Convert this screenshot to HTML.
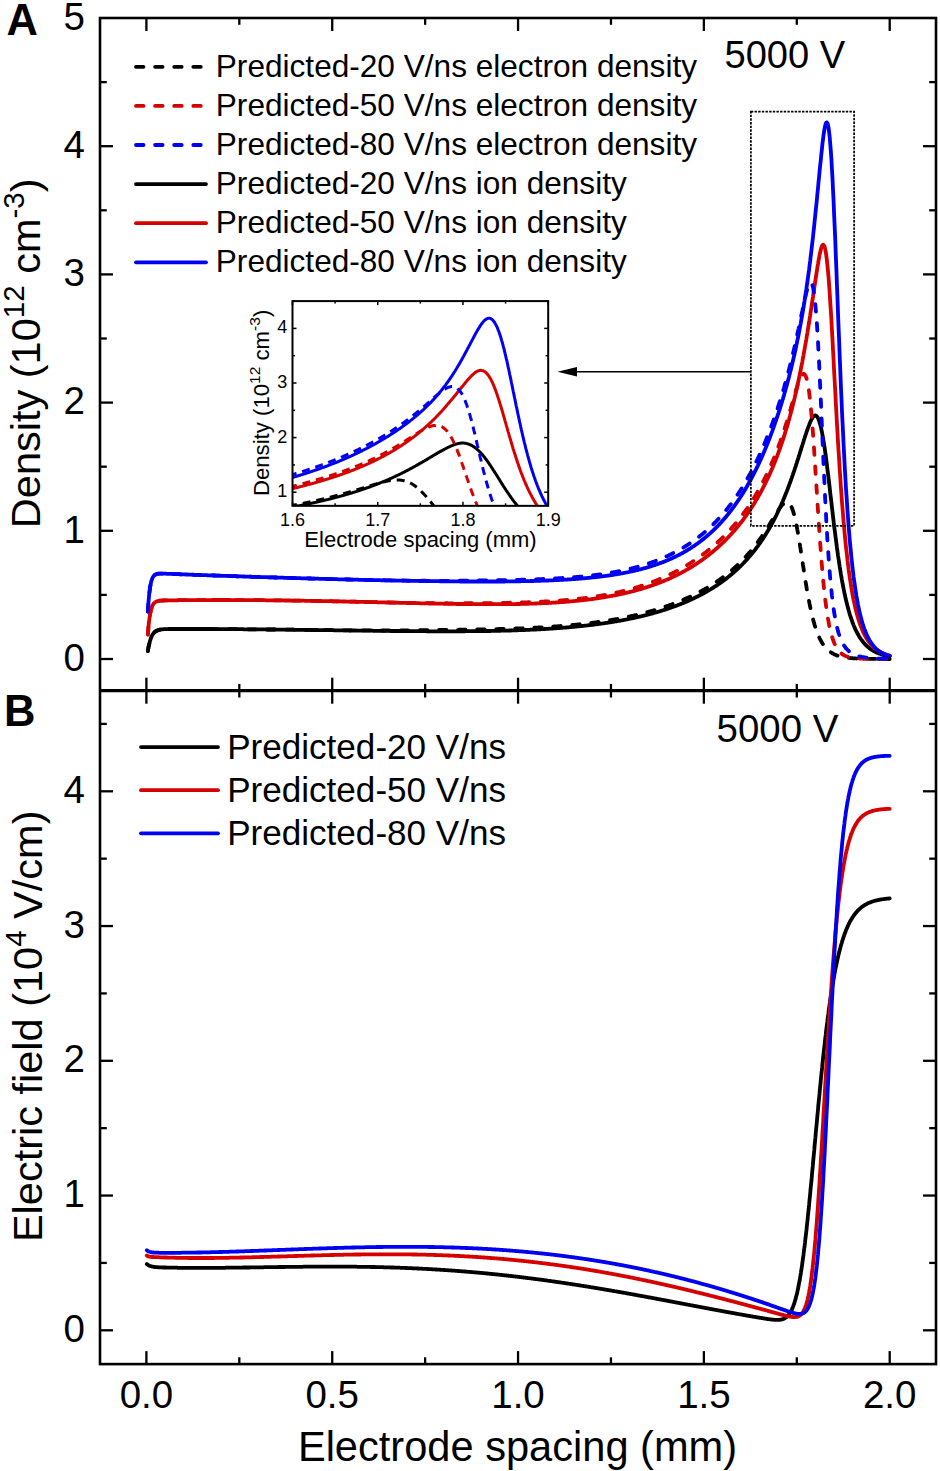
<!DOCTYPE html>
<html><head><meta charset="utf-8"><style>
html,body{margin:0;padding:0;background:#fff;width:940px;height:1471px;overflow:hidden}
svg{display:block}
</style></head><body>
<svg width="940" height="1471" viewBox="0 0 940 1471">
<rect width="940" height="1471" fill="#fff"/>
<defs><clipPath id="cA"><rect x="100.0" y="18.0" width="836.0" height="672.7"/></clipPath>
<clipPath id="cI"><rect x="292.5" y="301.1" width="255.7" height="204.8"/></clipPath>
<clipPath id="cB"><rect x="100.0" y="690.7" width="836.0" height="673.4"/></clipPath></defs>
<g clip-path="url(#cA)" fill="none" stroke-width="3.8" stroke-linejoin="round">
<path d="M147.9,651.0 L148.4,647.7 L149.0,644.9 L149.6,642.6 L150.1,640.6 L150.7,638.8 L151.2,637.4 L151.8,636.1 L152.3,635.1 L152.9,634.2 L153.5,633.4 L154.0,632.8 L154.6,632.2 L155.1,631.7 L155.7,631.3 L156.2,631.0 L156.8,630.7 L157.4,630.4 L157.9,630.2 L158.5,630.0 L159.0,629.9 L159.6,629.7 L160.2,629.6 L160.7,629.5 L161.3,629.5 L161.8,629.4 L162.4,629.3 L162.9,629.3 L163.5,629.2 L164.1,629.2 L164.6,629.2 L165.2,629.1 L165.7,629.1 L166.3,629.1 L166.8,629.1 L167.4,629.1 L168.0,629.0 L168.5,629.0 L169.1,629.0 L169.6,629.0 L170.2,629.0 L170.7,629.0 L171.3,629.0 L171.9,629.0 L172.4,629.0 L173.0,629.0 L173.5,629.0 L174.1,629.0 L174.6,629.0 L175.2,629.0 L175.8,629.0 L176.3,629.0 L176.9,629.0 L177.4,629.0 L178.0,629.0 L178.5,629.0 L179.1,629.0 L179.7,629.0 L180.2,629.0 L180.8,629.0 L181.3,629.0 L181.9,629.0 L182.5,629.0 L183.0,629.0 L183.6,629.0 L184.1,629.0 L184.7,629.0 L185.2,629.0 L185.8,629.0 L186.4,629.0 L186.9,629.0 L187.5,629.0 L188.0,629.0 L188.6,629.0 L189.1,629.0 L189.7,629.0 L190.3,629.0 L190.8,629.0 L191.4,629.0 L191.9,629.0 L192.5,629.0 L193.0,629.0 L193.6,629.0 L194.2,629.0 L194.7,629.0 L195.3,629.0 L195.8,629.0 L196.4,629.0 L196.9,629.0 L197.5,629.0 L198.1,629.0 L198.6,629.0 L199.2,629.0 L199.7,629.0 L200.3,629.0 L200.8,629.0 L201.4,629.0 L202.0,629.0 L202.5,629.0 L203.1,629.0 L203.6,629.0 L204.2,629.0 L204.7,629.0 L205.3,629.0 L205.9,629.0 L206.4,629.0 L207.0,629.0 L207.5,629.0 L208.1,629.0 L208.7,629.0 L209.2,629.0 L209.8,629.0 L210.3,629.0 L210.9,629.0 L211.4,629.0 L212.0,629.1 L212.6,629.1 L213.1,629.1 L213.7,629.1 L214.2,629.1 L214.8,629.1 L215.3,629.1 L215.9,629.1 L216.5,629.1 L217.0,629.1 L217.6,629.1 L218.1,629.1 L218.7,629.1 L219.2,629.1 L219.8,629.1 L220.4,629.1 L220.9,629.1 L221.5,629.1 L222.0,629.1 L222.6,629.1 L223.1,629.1 L223.7,629.1 L224.3,629.1 L224.8,629.1 L225.4,629.1 L225.9,629.1 L226.5,629.1 L227.0,629.1 L227.6,629.1 L228.2,629.1 L228.7,629.1 L229.3,629.1 L229.8,629.2 L230.4,629.2 L231.0,629.2 L231.5,629.2 L232.1,629.2 L232.6,629.2 L233.2,629.2 L233.7,629.2 L234.3,629.2 L234.9,629.2 L235.4,629.2 L236.0,629.2 L236.5,629.2 L237.1,629.2 L237.6,629.2 L238.2,629.2 L238.8,629.2 L239.3,629.2 L239.9,629.2 L240.4,629.2 L241.0,629.2 L241.5,629.2 L242.1,629.2 L242.7,629.2 L243.2,629.2 L243.8,629.3 L244.3,629.3 L244.9,629.3 L245.4,629.3 L246.0,629.3 L246.6,629.3 L247.1,629.3 L247.7,629.3 L248.2,629.3 L248.8,629.3 L249.3,629.3 L249.9,629.3 L250.5,629.3 L251.0,629.3 L251.6,629.3 L252.1,629.3 L252.7,629.3 L253.2,629.3 L253.8,629.3 L254.4,629.3 L254.9,629.3 L255.5,629.4 L256.0,629.4 L256.6,629.4 L257.2,629.4 L257.7,629.4 L258.3,629.4 L258.8,629.4 L259.4,629.4 L259.9,629.4 L260.5,629.4 L261.1,629.4 L261.6,629.4 L262.2,629.4 L262.7,629.4 L263.3,629.4 L263.8,629.4 L264.4,629.4 L265.0,629.4 L265.5,629.4 L266.1,629.5 L266.6,629.5 L267.2,629.5 L267.7,629.5 L268.3,629.5 L268.9,629.5 L269.4,629.5 L270.0,629.5 L270.5,629.5 L271.1,629.5 L271.6,629.5 L272.2,629.5 L272.8,629.5 L273.3,629.5 L273.9,629.5 L274.4,629.5 L275.0,629.5 L275.5,629.5 L276.1,629.6 L276.7,629.6 L277.2,629.6 L277.8,629.6 L278.3,629.6 L278.9,629.6 L279.5,629.6 L280.0,629.6 L280.6,629.6 L281.1,629.6 L281.7,629.6 L282.2,629.6 L282.8,629.6 L283.4,629.6 L283.9,629.6 L284.5,629.6 L285.0,629.7 L285.6,629.7 L286.1,629.7 L286.7,629.7 L287.3,629.7 L287.8,629.7 L288.4,629.7 L288.9,629.7 L289.5,629.7 L290.0,629.7 L290.6,629.7 L291.2,629.7 L291.7,629.7 L292.3,629.7 L292.8,629.7 L293.4,629.7 L293.9,629.8 L294.5,629.8 L295.1,629.8 L295.6,629.8 L296.2,629.8 L296.7,629.8 L297.3,629.8 L297.8,629.8 L298.4,629.8 L299.0,629.8 L299.5,629.8 L300.1,629.8 L300.6,629.8 L301.2,629.8 L301.7,629.8 L302.3,629.9 L302.9,629.9 L303.4,629.9 L304.0,629.9 L304.5,629.9 L305.1,629.9 L305.7,629.9 L306.2,629.9 L306.8,629.9 L307.3,629.9 L307.9,629.9 L308.4,629.9 L309.0,629.9 L309.6,629.9 L310.1,629.9 L310.7,630.0 L311.2,630.0 L311.8,630.0 L312.3,630.0 L312.9,630.0 L313.5,630.0 L314.0,630.0 L314.6,630.0 L315.1,630.0 L315.7,630.0 L316.2,630.0 L316.8,630.0 L317.4,630.0 L317.9,630.0 L318.5,630.1 L319.0,630.1 L319.6,630.1 L320.1,630.1 L320.7,630.1 L321.3,630.1 L321.8,630.1 L322.4,630.1 L322.9,630.1 L323.5,630.1 L324.0,630.1 L324.6,630.1 L325.2,630.1 L325.7,630.1 L326.3,630.2 L326.8,630.2 L327.4,630.2 L328.0,630.2 L328.5,630.2 L329.1,630.2 L329.6,630.2 L330.2,630.2 L330.7,630.2 L331.3,630.2 L331.9,630.2 L332.4,630.2 L333.0,630.2 L333.5,630.2 L334.1,630.3 L334.6,630.3 L335.2,630.3 L335.8,630.3 L336.3,630.3 L336.9,630.3 L337.4,630.3 L338.0,630.3 L338.5,630.3 L339.1,630.3 L339.7,630.3 L340.2,630.3 L340.8,630.3 L341.3,630.4 L341.9,630.4 L342.4,630.4 L343.0,630.4 L343.6,630.4 L344.1,630.4 L344.7,630.4 L345.2,630.4 L345.8,630.4 L346.3,630.4 L346.9,630.4 L347.5,630.4 L348.0,630.4 L348.6,630.4 L349.1,630.5 L349.7,630.5 L350.3,630.5 L350.8,630.5 L351.4,630.5 L351.9,630.5 L352.5,630.5 L353.0,630.5 L353.6,630.5 L354.2,630.5 L354.7,630.5 L355.3,630.5 L355.8,630.5 L356.4,630.5 L356.9,630.6 L357.5,630.6 L358.1,630.6 L358.6,630.6 L359.2,630.6 L359.7,630.6 L360.3,630.6 L360.8,630.6 L361.4,630.6 L362.0,630.6 L362.5,630.6 L363.1,630.6 L363.6,630.6 L364.2,630.6 L364.7,630.7 L365.3,630.7 L365.9,630.7 L366.4,630.7 L367.0,630.7 L367.5,630.7 L368.1,630.7 L368.6,630.7 L369.2,630.7 L369.8,630.7 L370.3,630.7 L370.9,630.7 L371.4,630.7 L372.0,630.7 L372.5,630.7 L373.1,630.8 L373.7,630.8 L374.2,630.8 L374.8,630.8 L375.3,630.8 L375.9,630.8 L376.5,630.8 L377.0,630.8 L377.6,630.8 L378.1,630.8 L378.7,630.8 L379.2,630.8 L379.8,630.8 L380.4,630.8 L380.9,630.8 L381.5,630.9 L382.0,630.9 L382.6,630.9 L383.1,630.9 L383.7,630.9 L384.3,630.9 L384.8,630.9 L385.4,630.9 L385.9,630.9 L386.5,630.9 L387.0,630.9 L387.6,630.9 L388.2,630.9 L388.7,630.9 L389.3,630.9 L389.8,630.9 L390.4,631.0 L390.9,631.0 L391.5,631.0 L392.1,631.0 L392.6,631.0 L393.2,631.0 L393.7,631.0 L394.3,631.0 L394.8,631.0 L395.4,631.0 L396.0,631.0 L396.5,631.0 L397.1,631.0 L397.6,631.0 L398.2,631.0 L398.8,631.0 L399.3,631.0 L399.9,631.1 L400.4,631.1 L401.0,631.1 L401.5,631.1 L402.1,631.1 L402.7,631.1 L403.2,631.1 L403.8,631.1 L404.3,631.1 L404.9,631.1 L405.4,631.1 L406.0,631.1 L406.6,631.1 L407.1,631.1 L407.7,631.1 L408.2,631.1 L408.8,631.1 L409.3,631.1 L409.9,631.1 L410.5,631.1 L411.0,631.1 L411.6,631.2 L412.1,631.2 L412.7,631.2 L413.2,631.2 L413.8,631.2 L414.4,631.2 L414.9,631.2 L415.5,631.2 L416.0,631.2 L416.6,631.2 L417.1,631.2 L417.7,631.2 L418.3,631.2 L418.8,631.2 L419.4,631.2 L419.9,631.2 L420.5,631.2 L421.0,631.2 L421.6,631.2 L422.2,631.2 L422.7,631.2 L423.3,631.2 L423.8,631.2 L424.4,631.2 L425.0,631.2 L425.5,631.2 L426.1,631.2 L426.6,631.3 L427.2,631.3 L427.7,631.3 L428.3,631.3 L428.9,631.3 L429.4,631.3 L430.0,631.3 L430.5,631.3 L431.1,631.3 L431.6,631.3 L432.2,631.3 L432.8,631.3 L433.3,631.3 L433.9,631.3 L434.4,631.3 L435.0,631.3 L435.5,631.3 L436.1,631.3 L436.7,631.3 L437.2,631.3 L437.8,631.3 L438.3,631.3 L438.9,631.3 L439.4,631.3 L440.0,631.3 L440.6,631.3 L441.1,631.3 L441.7,631.3 L442.2,631.3 L442.8,631.3 L443.3,631.3 L443.9,631.3 L444.5,631.3 L445.0,631.3 L445.6,631.3 L446.1,631.3 L446.7,631.3 L447.3,631.3 L447.8,631.3 L448.4,631.3 L448.9,631.3 L449.5,631.3 L450.0,631.3 L450.6,631.3 L451.2,631.3 L451.7,631.3 L452.3,631.3 L452.8,631.3 L453.4,631.3 L453.9,631.3 L454.5,631.3 L455.1,631.3 L455.6,631.3 L456.2,631.3 L456.7,631.3 L457.3,631.3 L457.8,631.3 L458.4,631.3 L459.0,631.3 L459.5,631.3 L460.1,631.3 L460.6,631.3 L461.2,631.3 L461.7,631.3 L462.3,631.3 L462.9,631.3 L463.4,631.3 L464.0,631.3 L464.5,631.3 L465.1,631.2 L465.6,631.2 L466.2,631.2 L466.8,631.2 L467.3,631.2 L467.9,631.2 L468.4,631.2 L469.0,631.2 L469.5,631.2 L470.1,631.2 L470.7,631.2 L471.2,631.2 L471.8,631.2 L472.3,631.2 L472.9,631.2 L473.5,631.2 L474.0,631.2 L474.6,631.2 L475.1,631.2 L475.7,631.2 L476.2,631.2 L476.8,631.1 L477.4,631.1 L477.9,631.1 L478.5,631.1 L479.0,631.1 L479.6,631.1 L480.1,631.1 L480.7,631.1 L481.3,631.1 L481.8,631.1 L482.4,631.1 L482.9,631.1 L483.5,631.1 L484.0,631.1 L484.6,631.0 L485.2,631.0 L485.7,631.0 L486.3,631.0 L486.8,631.0 L487.4,631.0 L487.9,631.0 L488.5,631.0 L489.1,631.0 L489.6,631.0 L490.2,631.0 L490.7,631.0 L491.3,630.9 L491.8,630.9 L492.4,630.9 L493.0,630.9 L493.5,630.9 L494.1,630.9 L494.6,630.9 L495.2,630.9 L495.8,630.9 L496.3,630.8 L496.9,630.8 L497.4,630.8 L498.0,630.8 L498.5,630.8 L499.1,630.8 L499.7,630.8 L500.2,630.8 L500.8,630.7 L501.3,630.7 L501.9,630.7 L502.4,630.7 L503.0,630.7 L503.6,630.7 L504.1,630.7 L504.7,630.6 L505.2,630.6 L505.8,630.6 L506.3,630.6 L506.9,630.6 L507.5,630.6 L508.0,630.6 L508.6,630.5 L509.1,630.5 L509.7,630.5 L510.2,630.5 L510.8,630.5 L511.4,630.5 L511.9,630.4 L512.5,630.4 L513.0,630.4 L513.6,630.4 L514.1,630.4 L514.7,630.4 L515.3,630.3 L515.8,630.3 L516.4,630.3 L516.9,630.3 L517.5,630.3 L518.0,630.2 L518.6,630.2 L519.2,630.2 L519.7,630.2 L520.3,630.2 L520.8,630.1 L521.4,630.1 L522.0,630.1 L522.5,630.1 L523.1,630.1 L523.6,630.0 L524.2,630.0 L524.7,630.0 L525.3,630.0 L525.9,629.9 L526.4,629.9 L527.0,629.9 L527.5,629.9 L528.1,629.8 L528.6,629.8 L529.2,629.8 L529.8,629.8 L530.3,629.7 L530.9,629.7 L531.4,629.7 L532.0,629.7 L532.5,629.6 L533.1,629.6 L533.7,629.6 L534.2,629.6 L534.8,629.5 L535.3,629.5 L535.9,629.5 L536.4,629.5 L537.0,629.4 L537.6,629.4 L538.1,629.4 L538.7,629.3 L539.2,629.3 L539.8,629.3 L540.3,629.3 L540.9,629.2 L541.5,629.2 L542.0,629.2 L542.6,629.1 L543.1,629.1 L543.7,629.1 L544.3,629.0 L544.8,629.0 L545.4,629.0 L545.9,628.9 L546.5,628.9 L547.0,628.9 L547.6,628.8 L548.2,628.8 L548.7,628.8 L549.3,628.7 L549.8,628.7 L550.4,628.7 L550.9,628.6 L551.5,628.6 L552.1,628.5 L552.6,628.5 L553.2,628.5 L553.7,628.4 L554.3,628.4 L554.8,628.4 L555.4,628.3 L556.0,628.3 L556.5,628.2 L557.1,628.2 L557.6,628.2 L558.2,628.1 L558.7,628.1 L559.3,628.0 L559.9,628.0 L560.4,628.0 L561.0,627.9 L561.5,627.9 L562.1,627.8 L562.6,627.8 L563.2,627.7 L563.8,627.7 L564.3,627.6 L564.9,627.6 L565.4,627.6 L566.0,627.5 L566.6,627.5 L567.1,627.4 L567.7,627.4 L568.2,627.3 L568.8,627.3 L569.3,627.2 L569.9,627.2 L570.5,627.1 L571.0,627.1 L571.6,627.0 L572.1,627.0 L572.7,626.9 L573.2,626.9 L573.8,626.8 L574.4,626.8 L574.9,626.7 L575.5,626.7 L576.0,626.6 L576.6,626.6 L577.1,626.5 L577.7,626.4 L578.3,626.4 L578.8,626.3 L579.4,626.3 L579.9,626.2 L580.5,626.2 L581.0,626.1 L581.6,626.0 L582.2,626.0 L582.7,625.9 L583.3,625.9 L583.8,625.8 L584.4,625.7 L584.9,625.7 L585.5,625.6 L586.1,625.6 L586.6,625.5 L587.2,625.4 L587.7,625.4 L588.3,625.3 L588.8,625.2 L589.4,625.2 L590.0,625.1 L590.5,625.0 L591.1,625.0 L591.6,624.9 L592.2,624.8 L592.8,624.8 L593.3,624.7 L593.9,624.6 L594.4,624.6 L595.0,624.5 L595.5,624.4 L596.1,624.3 L596.7,624.3 L597.2,624.2 L597.8,624.1 L598.3,624.1 L598.9,624.0 L599.4,623.9 L600.0,623.8 L600.6,623.7 L601.1,623.7 L601.7,623.6 L602.2,623.5 L602.8,623.4 L603.3,623.4 L603.9,623.3 L604.5,623.2 L605.0,623.1 L605.6,623.0 L606.1,622.9 L606.7,622.9 L607.2,622.8 L607.8,622.7 L608.4,622.6 L608.9,622.5 L609.5,622.4 L610.0,622.4 L610.6,622.3 L611.1,622.2 L611.7,622.1 L612.3,622.0 L612.8,621.9 L613.4,621.8 L613.9,621.7 L614.5,621.6 L615.1,621.5 L615.6,621.4 L616.2,621.3 L616.7,621.3 L617.3,621.2 L617.8,621.1 L618.4,621.0 L619.0,620.9 L619.5,620.8 L620.1,620.7 L620.6,620.6 L621.2,620.5 L621.7,620.4 L622.3,620.3 L622.9,620.2 L623.4,620.0 L624.0,619.9 L624.5,619.8 L625.1,619.7 L625.6,619.6 L626.2,619.5 L626.8,619.4 L627.3,619.3 L627.9,619.2 L628.4,619.1 L629.0,619.0 L629.5,618.8 L630.1,618.7 L630.7,618.6 L631.2,618.5 L631.8,618.4 L632.3,618.3 L632.9,618.2 L633.4,618.0 L634.0,617.9 L634.6,617.8 L635.1,617.7 L635.7,617.5 L636.2,617.4 L636.8,617.3 L637.3,617.2 L637.9,617.0 L638.5,616.9 L639.0,616.8 L639.6,616.7 L640.1,616.5 L640.7,616.4 L641.3,616.3 L641.8,616.1 L642.4,616.0 L642.9,615.9 L643.5,615.7 L644.0,615.6 L644.6,615.5 L645.2,615.3 L645.7,615.2 L646.3,615.0 L646.8,614.9 L647.4,614.8 L647.9,614.6 L648.5,614.5 L649.1,614.3 L649.6,614.2 L650.2,614.0 L650.7,613.9 L651.3,613.7 L651.8,613.6 L652.4,613.4 L653.0,613.3 L653.5,613.1 L654.1,613.0 L654.6,612.8 L655.2,612.6 L655.7,612.5 L656.3,612.3 L656.9,612.2 L657.4,612.0 L658.0,611.8 L658.5,611.7 L659.1,611.5 L659.6,611.3 L660.2,611.2 L660.8,611.0 L661.3,610.8 L661.9,610.7 L662.4,610.5 L663.0,610.3 L663.6,610.1 L664.1,609.9 L664.7,609.8 L665.2,609.6 L665.8,609.4 L666.3,609.2 L666.9,609.0 L667.5,608.9 L668.0,608.7 L668.6,608.5 L669.1,608.3 L669.7,608.1 L670.2,607.9 L670.8,607.7 L671.4,607.5 L671.9,607.3 L672.5,607.1 L673.0,606.9 L673.6,606.7 L674.1,606.5 L674.7,606.3 L675.3,606.1 L675.8,605.9 L676.4,605.7 L676.9,605.5 L677.5,605.3 L678.0,605.1 L678.6,604.8 L679.2,604.6 L679.7,604.4 L680.3,604.2 L680.8,604.0 L681.4,603.7 L681.9,603.5 L682.5,603.3 L683.1,603.1 L683.6,602.8 L684.2,602.6 L684.7,602.4 L685.3,602.1 L685.8,601.9 L686.4,601.7 L687.0,601.4 L687.5,601.2 L688.1,600.9 L688.6,600.7 L689.2,600.4 L689.8,600.2 L690.3,599.9 L690.9,599.7 L691.4,599.4 L692.0,599.2 L692.5,598.9 L693.1,598.6 L693.7,598.4 L694.2,598.1 L694.8,597.8 L695.3,597.6 L695.9,597.3 L696.4,597.0 L697.0,596.8 L697.6,596.5 L698.1,596.2 L698.7,595.9 L699.2,595.6 L699.8,595.3 L700.3,595.0 L700.9,594.8 L701.5,594.5 L702.0,594.2 L702.6,593.9 L703.1,593.6 L703.7,593.3 L704.2,593.0 L704.8,592.6 L705.4,592.3 L705.9,592.0 L706.5,591.7 L707.0,591.4 L707.6,591.1 L708.1,590.7 L708.7,590.4 L709.3,590.1 L709.8,589.7 L710.4,589.4 L710.9,589.1 L711.5,588.7 L712.1,588.4 L712.6,588.0 L713.2,587.7 L713.7,587.3 L714.3,587.0 L714.8,586.6 L715.4,586.3 L716.0,585.9 L716.5,585.5 L717.1,585.2 L717.6,584.8 L718.2,584.4 L718.7,584.0 L719.3,583.6 L719.9,583.3 L720.4,582.9 L721.0,582.5 L721.5,582.1 L722.1,581.7 L722.6,581.3 L723.2,580.9 L723.8,580.5 L724.3,580.0 L724.9,579.6 L725.4,579.2 L726.0,578.8 L726.5,578.3 L727.1,577.9 L727.7,577.5 L728.2,577.0 L728.8,576.6 L729.3,576.1 L729.9,575.7 L730.4,575.2 L731.0,574.7 L731.6,574.3 L732.1,573.8 L732.7,573.3 L733.2,572.9 L733.8,572.4 L734.4,571.9 L734.9,571.4 L735.5,570.9 L736.0,570.4 L736.6,569.9 L737.1,569.4 L737.7,568.8 L738.3,568.3 L738.8,567.8 L739.4,567.2 L739.9,566.7 L740.5,566.2 L741.0,565.6 L741.6,565.1 L742.2,564.5 L742.7,563.9 L743.3,563.4 L743.8,562.8 L744.4,562.2 L744.9,561.6 L745.5,561.0 L746.1,560.4 L746.6,559.8 L747.2,559.2 L747.7,558.6 L748.3,557.9 L748.8,557.3 L749.4,556.6 L750.0,556.0 L750.5,555.3 L751.1,554.7 L751.6,554.0 L752.2,553.3 L752.7,552.7 L753.3,552.0 L753.9,551.3 L754.4,550.6 L755.0,549.8 L755.5,549.1 L756.1,548.4 L756.6,547.6 L757.2,546.9 L757.8,546.1 L758.3,545.4 L758.9,544.6 L759.4,543.8 L760.0,543.0 L760.6,542.2 L761.1,541.4 L761.7,540.6 L762.2,539.8 L762.8,539.0 L763.3,538.1 L763.9,537.2 L764.5,536.4 L765.0,535.5 L765.6,534.6 L766.1,533.7 L766.7,532.8 L767.2,531.9 L767.8,531.0 L768.4,530.0 L768.9,529.1 L769.5,528.1 L770.0,527.1 L770.6,526.1 L771.1,525.1 L771.7,524.1 L772.3,523.1 L772.8,522.1 L773.4,521.0 L773.9,519.9 L774.5,518.9 L775.0,517.8 L775.6,516.7 L776.2,515.6 L776.7,514.4 L777.3,513.3 L777.8,512.1 L778.4,510.9 L778.9,509.7 L779.5,508.5 L780.1,507.3 L780.6,506.1 L781.2,504.8 L781.7,503.6 L782.3,502.3 L782.9,501.0 L783.4,499.6 L784.0,498.3 L784.5,497.0 L785.1,495.6 L785.6,494.2 L786.2,492.8 L786.8,491.4 L787.3,489.9 L787.9,488.5 L788.4,487.0 L789.0,485.5 L789.5,484.0 L790.1,482.5 L790.7,480.9 L791.2,479.4 L791.8,477.8 L792.3,476.2 L792.9,474.6 L793.4,472.9 L794.0,471.3 L794.6,469.6 L795.1,467.9 L795.7,466.3 L796.2,464.5 L796.8,462.8 L797.3,461.1 L797.9,459.3 L798.5,457.6 L799.0,455.8 L799.6,454.0 L800.1,452.2 L800.7,450.5 L801.2,448.7 L801.8,446.9 L802.4,445.1 L802.9,443.3 L803.5,441.5 L804.0,439.8 L804.6,438.0 L805.1,436.3 L805.7,434.6 L806.3,432.9 L806.8,431.3 L807.4,429.7 L807.9,428.1 L808.5,426.6 L809.1,425.2 L809.6,423.7 L810.2,422.4 L810.7,421.1 L811.3,419.9 L811.8,418.9 L812.4,417.9 L813.0,417.1 L813.5,416.4 L814.1,415.9 L814.6,415.5 L815.2,415.4 L815.7,415.5 L816.3,415.8 L816.9,416.4 L817.4,417.1 L818.0,418.1 L818.5,419.4 L819.1,420.9 L819.6,422.6 L820.2,424.5 L820.8,426.7 L821.3,429.1 L821.9,431.7 L822.4,434.6 L823.0,437.7 L823.5,441.0 L824.1,444.5 L824.7,448.2 L825.2,452.0 L825.8,456.1 L826.3,460.3 L826.9,464.6 L827.4,469.1 L828.0,473.7 L828.6,478.3 L829.1,483.0 L829.7,487.8 L830.2,492.6 L830.8,497.4 L831.4,502.2 L831.9,507.0 L832.5,511.8 L833.0,516.5 L833.6,521.2 L834.1,525.8 L834.7,530.3 L835.3,534.7 L835.8,539.1 L836.4,543.3 L836.9,547.5 L837.5,551.6 L838.0,555.5 L838.6,559.3 L839.2,563.1 L839.7,566.7 L840.3,570.2 L840.8,573.6 L841.4,576.9 L841.9,580.0 L842.5,583.1 L843.1,586.1 L843.6,588.9 L844.2,591.7 L844.7,594.3 L845.3,596.9 L845.8,599.3 L846.4,601.7 L847.0,604.0 L847.5,606.1 L848.1,608.2 L848.6,610.3 L849.2,612.2 L849.7,614.1 L850.3,615.9 L850.9,617.6 L851.4,619.2 L852.0,620.8 L852.5,622.4 L853.1,623.8 L853.6,625.2 L854.2,626.6 L854.8,627.9 L855.3,629.1 L855.9,630.3 L856.4,631.4 L857.0,632.5 L857.6,633.6 L858.1,634.6 L858.7,635.6 L859.2,636.5 L859.8,637.4 L860.3,638.2 L860.9,639.1 L861.5,639.9 L862.0,640.6 L862.6,641.3 L863.1,642.0 L863.7,642.7 L864.2,643.3 L864.8,644.0 L865.4,644.6 L865.9,645.1 L866.5,645.7 L867.0,646.2 L867.6,646.7 L868.1,647.2 L868.7,647.6 L869.3,648.1 L869.8,648.5 L870.4,648.9 L870.9,649.3 L871.5,649.7 L872.0,650.0 L872.6,650.4 L873.2,650.7 L873.7,651.0 L874.3,651.4 L874.8,651.6 L875.4,651.9 L875.9,652.2 L876.5,652.5 L877.1,652.7 L877.6,653.0 L878.2,653.2 L878.7,653.4 L879.3,653.6 L879.9,653.8 L880.4,654.0 L881.0,654.2 L881.5,654.4 L882.1,654.6 L882.6,654.8 L883.2,654.9 L883.8,655.1 L884.3,655.2 L884.9,655.4 L885.4,655.5 L886.0,655.6 L886.5,655.8 L887.1,655.9 L887.7,656.0 L888.2,656.1 L888.8,656.2 L889.3,656.3 L889.7,656.4" stroke="#000000" stroke-linecap="round"/>
<path d="M147.9,634.5 L148.4,627.4 L149.0,621.9 L149.6,617.5 L150.1,614.0 L150.7,611.2 L151.2,609.0 L151.8,607.3 L152.3,605.9 L152.9,604.8 L153.5,603.9 L154.0,603.2 L154.6,602.7 L155.1,602.2 L155.7,601.9 L156.2,601.6 L156.8,601.4 L157.4,601.2 L157.9,601.0 L158.5,600.9 L159.0,600.8 L159.6,600.7 L160.2,600.7 L160.7,600.6 L161.3,600.6 L161.8,600.6 L162.4,600.5 L162.9,600.5 L163.5,600.5 L164.1,600.5 L164.6,600.4 L165.2,600.4 L165.7,600.4 L166.3,600.4 L166.8,600.4 L167.4,600.4 L168.0,600.4 L168.5,600.4 L169.1,600.4 L169.6,600.3 L170.2,600.3 L170.7,600.3 L171.3,600.3 L171.9,600.3 L172.4,600.3 L173.0,600.3 L173.5,600.3 L174.1,600.3 L174.6,600.3 L175.2,600.3 L175.8,600.3 L176.3,600.3 L176.9,600.3 L177.4,600.3 L178.0,600.3 L178.5,600.2 L179.1,600.2 L179.7,600.2 L180.2,600.2 L180.8,600.2 L181.3,600.2 L181.9,600.2 L182.5,600.2 L183.0,600.2 L183.6,600.2 L184.1,600.2 L184.7,600.2 L185.2,600.2 L185.8,600.2 L186.4,600.2 L186.9,600.2 L187.5,600.2 L188.0,600.2 L188.6,600.2 L189.1,600.2 L189.7,600.2 L190.3,600.1 L190.8,600.1 L191.4,600.1 L191.9,600.1 L192.5,600.1 L193.0,600.1 L193.6,600.1 L194.2,600.1 L194.7,600.1 L195.3,600.1 L195.8,600.1 L196.4,600.1 L196.9,600.1 L197.5,600.1 L198.1,600.1 L198.6,600.1 L199.2,600.1 L199.7,600.1 L200.3,600.1 L200.8,600.1 L201.4,600.1 L202.0,600.1 L202.5,600.1 L203.1,600.1 L203.6,600.1 L204.2,600.1 L204.7,600.1 L205.3,600.1 L205.9,600.1 L206.4,600.1 L207.0,600.1 L207.5,600.1 L208.1,600.1 L208.7,600.1 L209.2,600.1 L209.8,600.1 L210.3,600.1 L210.9,600.1 L211.4,600.1 L212.0,600.0 L212.6,600.0 L213.1,600.0 L213.7,600.0 L214.2,600.0 L214.8,600.0 L215.3,600.0 L215.9,600.0 L216.5,600.0 L217.0,600.0 L217.6,600.0 L218.1,600.0 L218.7,600.0 L219.2,600.0 L219.8,600.0 L220.4,600.0 L220.9,600.0 L221.5,600.0 L222.0,600.0 L222.6,600.0 L223.1,600.0 L223.7,600.0 L224.3,600.0 L224.8,600.0 L225.4,600.0 L225.9,600.0 L226.5,600.0 L227.0,600.0 L227.6,600.0 L228.2,600.0 L228.7,600.0 L229.3,600.0 L229.8,600.0 L230.4,600.0 L231.0,600.1 L231.5,600.1 L232.1,600.1 L232.6,600.1 L233.2,600.1 L233.7,600.1 L234.3,600.1 L234.9,600.1 L235.4,600.1 L236.0,600.1 L236.5,600.1 L237.1,600.1 L237.6,600.1 L238.2,600.1 L238.8,600.1 L239.3,600.1 L239.9,600.1 L240.4,600.1 L241.0,600.1 L241.5,600.1 L242.1,600.1 L242.7,600.1 L243.2,600.1 L243.8,600.1 L244.3,600.1 L244.9,600.1 L245.4,600.1 L246.0,600.1 L246.6,600.1 L247.1,600.1 L247.7,600.1 L248.2,600.1 L248.8,600.1 L249.3,600.1 L249.9,600.1 L250.5,600.1 L251.0,600.1 L251.6,600.1 L252.1,600.1 L252.7,600.1 L253.2,600.2 L253.8,600.2 L254.4,600.2 L254.9,600.2 L255.5,600.2 L256.0,600.2 L256.6,600.2 L257.2,600.2 L257.7,600.2 L258.3,600.2 L258.8,600.2 L259.4,600.2 L259.9,600.2 L260.5,600.2 L261.1,600.2 L261.6,600.2 L262.2,600.2 L262.7,600.2 L263.3,600.2 L263.8,600.2 L264.4,600.2 L265.0,600.2 L265.5,600.3 L266.1,600.3 L266.6,600.3 L267.2,600.3 L267.7,600.3 L268.3,600.3 L268.9,600.3 L269.4,600.3 L270.0,600.3 L270.5,600.3 L271.1,600.3 L271.6,600.3 L272.2,600.3 L272.8,600.3 L273.3,600.3 L273.9,600.3 L274.4,600.3 L275.0,600.3 L275.5,600.4 L276.1,600.4 L276.7,600.4 L277.2,600.4 L277.8,600.4 L278.3,600.4 L278.9,600.4 L279.5,600.4 L280.0,600.4 L280.6,600.4 L281.1,600.4 L281.7,600.4 L282.2,600.4 L282.8,600.4 L283.4,600.4 L283.9,600.5 L284.5,600.5 L285.0,600.5 L285.6,600.5 L286.1,600.5 L286.7,600.5 L287.3,600.5 L287.8,600.5 L288.4,600.5 L288.9,600.5 L289.5,600.5 L290.0,600.5 L290.6,600.5 L291.2,600.5 L291.7,600.6 L292.3,600.6 L292.8,600.6 L293.4,600.6 L293.9,600.6 L294.5,600.6 L295.1,600.6 L295.6,600.6 L296.2,600.6 L296.7,600.6 L297.3,600.6 L297.8,600.6 L298.4,600.7 L299.0,600.7 L299.5,600.7 L300.1,600.7 L300.6,600.7 L301.2,600.7 L301.7,600.7 L302.3,600.7 L302.9,600.7 L303.4,600.7 L304.0,600.7 L304.5,600.8 L305.1,600.8 L305.7,600.8 L306.2,600.8 L306.8,600.8 L307.3,600.8 L307.9,600.8 L308.4,600.8 L309.0,600.8 L309.6,600.8 L310.1,600.8 L310.7,600.9 L311.2,600.9 L311.8,600.9 L312.3,600.9 L312.9,600.9 L313.5,600.9 L314.0,600.9 L314.6,600.9 L315.1,600.9 L315.7,600.9 L316.2,601.0 L316.8,601.0 L317.4,601.0 L317.9,601.0 L318.5,601.0 L319.0,601.0 L319.6,601.0 L320.1,601.0 L320.7,601.0 L321.3,601.0 L321.8,601.1 L322.4,601.1 L322.9,601.1 L323.5,601.1 L324.0,601.1 L324.6,601.1 L325.2,601.1 L325.7,601.1 L326.3,601.1 L326.8,601.1 L327.4,601.2 L328.0,601.2 L328.5,601.2 L329.1,601.2 L329.6,601.2 L330.2,601.2 L330.7,601.2 L331.3,601.2 L331.9,601.2 L332.4,601.3 L333.0,601.3 L333.5,601.3 L334.1,601.3 L334.6,601.3 L335.2,601.3 L335.8,601.3 L336.3,601.3 L336.9,601.4 L337.4,601.4 L338.0,601.4 L338.5,601.4 L339.1,601.4 L339.7,601.4 L340.2,601.4 L340.8,601.4 L341.3,601.4 L341.9,601.5 L342.4,601.5 L343.0,601.5 L343.6,601.5 L344.1,601.5 L344.7,601.5 L345.2,601.5 L345.8,601.5 L346.3,601.6 L346.9,601.6 L347.5,601.6 L348.0,601.6 L348.6,601.6 L349.1,601.6 L349.7,601.6 L350.3,601.6 L350.8,601.6 L351.4,601.7 L351.9,601.7 L352.5,601.7 L353.0,601.7 L353.6,601.7 L354.2,601.7 L354.7,601.7 L355.3,601.7 L355.8,601.8 L356.4,601.8 L356.9,601.8 L357.5,601.8 L358.1,601.8 L358.6,601.8 L359.2,601.8 L359.7,601.8 L360.3,601.9 L360.8,601.9 L361.4,601.9 L362.0,601.9 L362.5,601.9 L363.1,601.9 L363.6,601.9 L364.2,602.0 L364.7,602.0 L365.3,602.0 L365.9,602.0 L366.4,602.0 L367.0,602.0 L367.5,602.0 L368.1,602.0 L368.6,602.1 L369.2,602.1 L369.8,602.1 L370.3,602.1 L370.9,602.1 L371.4,602.1 L372.0,602.1 L372.5,602.1 L373.1,602.2 L373.7,602.2 L374.2,602.2 L374.8,602.2 L375.3,602.2 L375.9,602.2 L376.5,602.2 L377.0,602.3 L377.6,602.3 L378.1,602.3 L378.7,602.3 L379.2,602.3 L379.8,602.3 L380.4,602.3 L380.9,602.3 L381.5,602.4 L382.0,602.4 L382.6,602.4 L383.1,602.4 L383.7,602.4 L384.3,602.4 L384.8,602.4 L385.4,602.5 L385.9,602.5 L386.5,602.5 L387.0,602.5 L387.6,602.5 L388.2,602.5 L388.7,602.5 L389.3,602.5 L389.8,602.6 L390.4,602.6 L390.9,602.6 L391.5,602.6 L392.1,602.6 L392.6,602.6 L393.2,602.6 L393.7,602.7 L394.3,602.7 L394.8,602.7 L395.4,602.7 L396.0,602.7 L396.5,602.7 L397.1,602.7 L397.6,602.7 L398.2,602.8 L398.8,602.8 L399.3,602.8 L399.9,602.8 L400.4,602.8 L401.0,602.8 L401.5,602.8 L402.1,602.8 L402.7,602.9 L403.2,602.9 L403.8,602.9 L404.3,602.9 L404.9,602.9 L405.4,602.9 L406.0,602.9 L406.6,603.0 L407.1,603.0 L407.7,603.0 L408.2,603.0 L408.8,603.0 L409.3,603.0 L409.9,603.0 L410.5,603.0 L411.0,603.1 L411.6,603.1 L412.1,603.1 L412.7,603.1 L413.2,603.1 L413.8,603.1 L414.4,603.1 L414.9,603.1 L415.5,603.2 L416.0,603.2 L416.6,603.2 L417.1,603.2 L417.7,603.2 L418.3,603.2 L418.8,603.2 L419.4,603.2 L419.9,603.3 L420.5,603.3 L421.0,603.3 L421.6,603.3 L422.2,603.3 L422.7,603.3 L423.3,603.3 L423.8,603.3 L424.4,603.4 L425.0,603.4 L425.5,603.4 L426.1,603.4 L426.6,603.4 L427.2,603.4 L427.7,603.4 L428.3,603.4 L428.9,603.5 L429.4,603.5 L430.0,603.5 L430.5,603.5 L431.1,603.5 L431.6,603.5 L432.2,603.5 L432.8,603.5 L433.3,603.5 L433.9,603.6 L434.4,603.6 L435.0,603.6 L435.5,603.6 L436.1,603.6 L436.7,603.6 L437.2,603.6 L437.8,603.6 L438.3,603.6 L438.9,603.7 L439.4,603.7 L440.0,603.7 L440.6,603.7 L441.1,603.7 L441.7,603.7 L442.2,603.7 L442.8,603.7 L443.3,603.7 L443.9,603.8 L444.5,603.8 L445.0,603.8 L445.6,603.8 L446.1,603.8 L446.7,603.8 L447.3,603.8 L447.8,603.8 L448.4,603.8 L448.9,603.8 L449.5,603.8 L450.0,603.9 L450.6,603.9 L451.2,603.9 L451.7,603.9 L452.3,603.9 L452.8,603.9 L453.4,603.9 L453.9,603.9 L454.5,603.9 L455.1,603.9 L455.6,603.9 L456.2,604.0 L456.7,604.0 L457.3,604.0 L457.8,604.0 L458.4,604.0 L459.0,604.0 L459.5,604.0 L460.1,604.0 L460.6,604.0 L461.2,604.0 L461.7,604.0 L462.3,604.0 L462.9,604.0 L463.4,604.1 L464.0,604.1 L464.5,604.1 L465.1,604.1 L465.6,604.1 L466.2,604.1 L466.8,604.1 L467.3,604.1 L467.9,604.1 L468.4,604.1 L469.0,604.1 L469.5,604.1 L470.1,604.1 L470.7,604.1 L471.2,604.1 L471.8,604.1 L472.3,604.2 L472.9,604.2 L473.5,604.2 L474.0,604.2 L474.6,604.2 L475.1,604.2 L475.7,604.2 L476.2,604.2 L476.8,604.2 L477.4,604.2 L477.9,604.2 L478.5,604.2 L479.0,604.2 L479.6,604.2 L480.1,604.2 L480.7,604.2 L481.3,604.2 L481.8,604.2 L482.4,604.2 L482.9,604.2 L483.5,604.2 L484.0,604.2 L484.6,604.2 L485.2,604.2 L485.7,604.2 L486.3,604.2 L486.8,604.2 L487.4,604.2 L487.9,604.2 L488.5,604.2 L489.1,604.2 L489.6,604.2 L490.2,604.2 L490.7,604.2 L491.3,604.2 L491.8,604.2 L492.4,604.2 L493.0,604.2 L493.5,604.2 L494.1,604.2 L494.6,604.2 L495.2,604.2 L495.8,604.2 L496.3,604.2 L496.9,604.2 L497.4,604.2 L498.0,604.2 L498.5,604.2 L499.1,604.2 L499.7,604.2 L500.2,604.2 L500.8,604.2 L501.3,604.2 L501.9,604.2 L502.4,604.2 L503.0,604.2 L503.6,604.2 L504.1,604.2 L504.7,604.2 L505.2,604.2 L505.8,604.2 L506.3,604.2 L506.9,604.2 L507.5,604.2 L508.0,604.2 L508.6,604.1 L509.1,604.1 L509.7,604.1 L510.2,604.1 L510.8,604.1 L511.4,604.1 L511.9,604.1 L512.5,604.1 L513.0,604.1 L513.6,604.1 L514.1,604.1 L514.7,604.1 L515.3,604.1 L515.8,604.0 L516.4,604.0 L516.9,604.0 L517.5,604.0 L518.0,604.0 L518.6,604.0 L519.2,604.0 L519.7,604.0 L520.3,604.0 L520.8,603.9 L521.4,603.9 L522.0,603.9 L522.5,603.9 L523.1,603.9 L523.6,603.9 L524.2,603.9 L524.7,603.9 L525.3,603.8 L525.9,603.8 L526.4,603.8 L527.0,603.8 L527.5,603.8 L528.1,603.8 L528.6,603.7 L529.2,603.7 L529.8,603.7 L530.3,603.7 L530.9,603.7 L531.4,603.7 L532.0,603.6 L532.5,603.6 L533.1,603.6 L533.7,603.6 L534.2,603.6 L534.8,603.5 L535.3,603.5 L535.9,603.5 L536.4,603.5 L537.0,603.5 L537.6,603.4 L538.1,603.4 L538.7,603.4 L539.2,603.4 L539.8,603.3 L540.3,603.3 L540.9,603.3 L541.5,603.3 L542.0,603.3 L542.6,603.2 L543.1,603.2 L543.7,603.2 L544.3,603.1 L544.8,603.1 L545.4,603.1 L545.9,603.1 L546.5,603.0 L547.0,603.0 L547.6,603.0 L548.2,603.0 L548.7,602.9 L549.3,602.9 L549.8,602.9 L550.4,602.8 L550.9,602.8 L551.5,602.8 L552.1,602.7 L552.6,602.7 L553.2,602.7 L553.7,602.6 L554.3,602.6 L554.8,602.6 L555.4,602.5 L556.0,602.5 L556.5,602.5 L557.1,602.4 L557.6,602.4 L558.2,602.4 L558.7,602.3 L559.3,602.3 L559.9,602.2 L560.4,602.2 L561.0,602.2 L561.5,602.1 L562.1,602.1 L562.6,602.0 L563.2,602.0 L563.8,602.0 L564.3,601.9 L564.9,601.9 L565.4,601.8 L566.0,601.8 L566.6,601.7 L567.1,601.7 L567.7,601.6 L568.2,601.6 L568.8,601.6 L569.3,601.5 L569.9,601.5 L570.5,601.4 L571.0,601.4 L571.6,601.3 L572.1,601.3 L572.7,601.2 L573.2,601.2 L573.8,601.1 L574.4,601.1 L574.9,601.0 L575.5,600.9 L576.0,600.9 L576.6,600.8 L577.1,600.8 L577.7,600.7 L578.3,600.7 L578.8,600.6 L579.4,600.6 L579.9,600.5 L580.5,600.4 L581.0,600.4 L581.6,600.3 L582.2,600.3 L582.7,600.2 L583.3,600.1 L583.8,600.1 L584.4,600.0 L584.9,599.9 L585.5,599.9 L586.1,599.8 L586.6,599.7 L587.2,599.7 L587.7,599.6 L588.3,599.5 L588.8,599.5 L589.4,599.4 L590.0,599.3 L590.5,599.3 L591.1,599.2 L591.6,599.1 L592.2,599.0 L592.8,599.0 L593.3,598.9 L593.9,598.8 L594.4,598.7 L595.0,598.7 L595.5,598.6 L596.1,598.5 L596.7,598.4 L597.2,598.3 L597.8,598.3 L598.3,598.2 L598.9,598.1 L599.4,598.0 L600.0,597.9 L600.6,597.8 L601.1,597.7 L601.7,597.7 L602.2,597.6 L602.8,597.5 L603.3,597.4 L603.9,597.3 L604.5,597.2 L605.0,597.1 L605.6,597.0 L606.1,596.9 L606.7,596.8 L607.2,596.7 L607.8,596.6 L608.4,596.5 L608.9,596.4 L609.5,596.3 L610.0,596.2 L610.6,596.1 L611.1,596.0 L611.7,595.9 L612.3,595.8 L612.8,595.7 L613.4,595.6 L613.9,595.5 L614.5,595.4 L615.1,595.3 L615.6,595.2 L616.2,595.1 L616.7,595.0 L617.3,594.8 L617.8,594.7 L618.4,594.6 L619.0,594.5 L619.5,594.4 L620.1,594.3 L620.6,594.1 L621.2,594.0 L621.7,593.9 L622.3,593.8 L622.9,593.7 L623.4,593.5 L624.0,593.4 L624.5,593.3 L625.1,593.1 L625.6,593.0 L626.2,592.9 L626.8,592.8 L627.3,592.6 L627.9,592.5 L628.4,592.4 L629.0,592.2 L629.5,592.1 L630.1,591.9 L630.7,591.8 L631.2,591.7 L631.8,591.5 L632.3,591.4 L632.9,591.2 L633.4,591.1 L634.0,590.9 L634.6,590.8 L635.1,590.6 L635.7,590.5 L636.2,590.3 L636.8,590.2 L637.3,590.0 L637.9,589.9 L638.5,589.7 L639.0,589.5 L639.6,589.4 L640.1,589.2 L640.7,589.1 L641.3,588.9 L641.8,588.7 L642.4,588.6 L642.9,588.4 L643.5,588.2 L644.0,588.0 L644.6,587.9 L645.2,587.7 L645.7,587.5 L646.3,587.3 L646.8,587.2 L647.4,587.0 L647.9,586.8 L648.5,586.6 L649.1,586.4 L649.6,586.3 L650.2,586.1 L650.7,585.9 L651.3,585.7 L651.8,585.5 L652.4,585.3 L653.0,585.1 L653.5,584.9 L654.1,584.7 L654.6,584.5 L655.2,584.3 L655.7,584.1 L656.3,583.9 L656.9,583.7 L657.4,583.5 L658.0,583.3 L658.5,583.0 L659.1,582.8 L659.6,582.6 L660.2,582.4 L660.8,582.2 L661.3,582.0 L661.9,581.7 L662.4,581.5 L663.0,581.3 L663.6,581.1 L664.1,580.8 L664.7,580.6 L665.2,580.4 L665.8,580.1 L666.3,579.9 L666.9,579.6 L667.5,579.4 L668.0,579.2 L668.6,578.9 L669.1,578.7 L669.7,578.4 L670.2,578.2 L670.8,577.9 L671.4,577.7 L671.9,577.4 L672.5,577.1 L673.0,576.9 L673.6,576.6 L674.1,576.3 L674.7,576.1 L675.3,575.8 L675.8,575.5 L676.4,575.3 L676.9,575.0 L677.5,574.7 L678.0,574.4 L678.6,574.1 L679.2,573.9 L679.7,573.6 L680.3,573.3 L680.8,573.0 L681.4,572.7 L681.9,572.4 L682.5,572.1 L683.1,571.8 L683.6,571.5 L684.2,571.2 L684.7,570.9 L685.3,570.6 L685.8,570.2 L686.4,569.9 L687.0,569.6 L687.5,569.3 L688.1,569.0 L688.6,568.6 L689.2,568.3 L689.8,568.0 L690.3,567.6 L690.9,567.3 L691.4,567.0 L692.0,566.6 L692.5,566.3 L693.1,565.9 L693.7,565.6 L694.2,565.2 L694.8,564.9 L695.3,564.5 L695.9,564.1 L696.4,563.8 L697.0,563.4 L697.6,563.0 L698.1,562.7 L698.7,562.3 L699.2,561.9 L699.8,561.5 L700.3,561.1 L700.9,560.8 L701.5,560.4 L702.0,560.0 L702.6,559.6 L703.1,559.2 L703.7,558.8 L704.2,558.4 L704.8,557.9 L705.4,557.5 L705.9,557.1 L706.5,556.7 L707.0,556.3 L707.6,555.8 L708.1,555.4 L708.7,555.0 L709.3,554.5 L709.8,554.1 L710.4,553.7 L710.9,553.2 L711.5,552.7 L712.1,552.3 L712.6,551.8 L713.2,551.4 L713.7,550.9 L714.3,550.4 L714.8,550.0 L715.4,549.5 L716.0,549.0 L716.5,548.5 L717.1,548.0 L717.6,547.5 L718.2,547.0 L718.7,546.5 L719.3,546.0 L719.9,545.5 L720.4,545.0 L721.0,544.5 L721.5,543.9 L722.1,543.4 L722.6,542.9 L723.2,542.3 L723.8,541.8 L724.3,541.2 L724.9,540.7 L725.4,540.1 L726.0,539.6 L726.5,539.0 L727.1,538.4 L727.7,537.9 L728.2,537.3 L728.8,536.7 L729.3,536.1 L729.9,535.5 L730.4,534.9 L731.0,534.3 L731.6,533.7 L732.1,533.1 L732.7,532.5 L733.2,531.8 L733.8,531.2 L734.4,530.5 L734.9,529.9 L735.5,529.3 L736.0,528.6 L736.6,527.9 L737.1,527.3 L737.7,526.6 L738.3,525.9 L738.8,525.2 L739.4,524.5 L739.9,523.8 L740.5,523.1 L741.0,522.4 L741.6,521.7 L742.2,521.0 L742.7,520.2 L743.3,519.5 L743.8,518.7 L744.4,518.0 L744.9,517.2 L745.5,516.5 L746.1,515.7 L746.6,514.9 L747.2,514.1 L747.7,513.3 L748.3,512.5 L748.8,511.7 L749.4,510.9 L750.0,510.0 L750.5,509.2 L751.1,508.3 L751.6,507.5 L752.2,506.6 L752.7,505.7 L753.3,504.9 L753.9,504.0 L754.4,503.1 L755.0,502.2 L755.5,501.2 L756.1,500.3 L756.6,499.4 L757.2,498.4 L757.8,497.4 L758.3,496.5 L758.9,495.5 L759.4,494.5 L760.0,493.5 L760.6,492.5 L761.1,491.5 L761.7,490.4 L762.2,489.4 L762.8,488.3 L763.3,487.2 L763.9,486.1 L764.5,485.0 L765.0,483.9 L765.6,482.8 L766.1,481.7 L766.7,480.5 L767.2,479.4 L767.8,478.2 L768.4,477.0 L768.9,475.8 L769.5,474.6 L770.0,473.3 L770.6,472.1 L771.1,470.8 L771.7,469.5 L772.3,468.2 L772.8,466.9 L773.4,465.6 L773.9,464.2 L774.5,462.8 L775.0,461.4 L775.6,460.0 L776.2,458.6 L776.7,457.2 L777.3,455.7 L777.8,454.2 L778.4,452.7 L778.9,451.2 L779.5,449.7 L780.1,448.1 L780.6,446.5 L781.2,444.9 L781.7,443.3 L782.3,441.6 L782.9,439.9 L783.4,438.2 L784.0,436.5 L784.5,434.7 L785.1,433.0 L785.6,431.2 L786.2,429.3 L786.8,427.5 L787.3,425.6 L787.9,423.7 L788.4,421.7 L789.0,419.7 L789.5,417.7 L790.1,415.7 L790.7,413.6 L791.2,411.5 L791.8,409.4 L792.3,407.2 L792.9,405.0 L793.4,402.7 L794.0,400.5 L794.6,398.1 L795.1,395.8 L795.7,393.4 L796.2,391.0 L796.8,388.5 L797.3,386.0 L797.9,383.4 L798.5,380.8 L799.0,378.2 L799.6,375.5 L800.1,372.7 L800.7,370.0 L801.2,367.1 L801.8,364.3 L802.4,361.3 L802.9,358.4 L803.5,355.3 L804.0,352.3 L804.6,349.2 L805.1,346.0 L805.7,342.8 L806.3,339.5 L806.8,336.2 L807.4,332.8 L807.9,329.4 L808.5,325.9 L809.1,322.4 L809.6,318.9 L810.2,315.3 L810.7,311.6 L811.3,308.0 L811.8,304.3 L812.4,300.6 L813.0,296.8 L813.5,293.1 L814.1,289.3 L814.6,285.6 L815.2,281.9 L815.7,278.2 L816.3,274.5 L816.9,270.9 L817.4,267.4 L818.0,264.0 L818.5,260.7 L819.1,257.6 L819.6,254.7 L820.2,252.1 L820.8,249.8 L821.3,247.8 L821.9,246.3 L822.4,245.2 L823.0,244.7 L823.5,244.8 L824.1,245.6 L824.7,247.0 L825.2,249.1 L825.8,252.0 L826.3,255.7 L826.9,260.1 L827.4,265.2 L828.0,271.1 L828.6,277.7 L829.1,285.0 L829.7,292.9 L830.2,301.3 L830.8,310.3 L831.4,319.7 L831.9,329.5 L832.5,339.6 L833.0,349.9 L833.6,360.4 L834.1,371.0 L834.7,381.5 L835.3,392.0 L835.8,402.4 L836.4,412.7 L836.9,422.8 L837.5,432.6 L838.0,442.2 L838.6,451.5 L839.2,460.5 L839.7,469.3 L840.3,477.7 L840.8,485.8 L841.4,493.6 L841.9,501.1 L842.5,508.3 L843.1,515.2 L843.6,521.8 L844.2,528.1 L844.7,534.1 L845.3,539.8 L845.8,545.3 L846.4,550.6 L847.0,555.6 L847.5,560.3 L848.1,564.9 L848.6,569.2 L849.2,573.4 L849.7,577.3 L850.3,581.0 L850.9,584.6 L851.4,588.0 L852.0,591.3 L852.5,594.4 L853.1,597.3 L853.6,600.1 L854.2,602.8 L854.8,605.3 L855.3,607.8 L855.9,610.1 L856.4,612.3 L857.0,614.4 L857.6,616.4 L858.1,618.3 L858.7,620.1 L859.2,621.8 L859.8,623.5 L860.3,625.1 L860.9,626.6 L861.5,628.0 L862.0,629.4 L862.6,630.7 L863.1,631.9 L863.7,633.1 L864.2,634.3 L864.8,635.3 L865.4,636.4 L865.9,637.4 L866.5,638.3 L867.0,639.2 L867.6,640.1 L868.1,640.9 L868.7,641.7 L869.3,642.4 L869.8,643.1 L870.4,643.8 L870.9,644.5 L871.5,645.1 L872.0,645.7 L872.6,646.2 L873.2,646.8 L873.7,647.3 L874.3,647.8 L874.8,648.3 L875.4,648.7 L875.9,649.2 L876.5,649.6 L877.1,650.0 L877.6,650.4 L878.2,650.7 L878.7,651.1 L879.3,651.4 L879.9,651.7 L880.4,652.0 L881.0,652.3 L881.5,652.6 L882.1,652.9 L882.6,653.1 L883.2,653.4 L883.8,653.6 L884.3,653.8 L884.9,654.0 L885.4,654.2 L886.0,654.4 L886.5,654.6 L887.1,654.8 L887.7,655.0 L888.2,655.1 L888.8,655.3 L889.3,655.4 L889.7,655.5" stroke="#d70000" stroke-linecap="round"/>
<path d="M147.9,611.6 L148.4,603.0 L149.0,596.3 L149.6,591.1 L150.1,587.1 L150.7,584.0 L151.2,581.6 L151.8,579.8 L152.3,578.3 L152.9,577.2 L153.5,576.3 L154.0,575.7 L154.6,575.1 L155.1,574.7 L155.7,574.4 L156.2,574.2 L156.8,574.0 L157.4,573.9 L157.9,573.8 L158.5,573.7 L159.0,573.7 L159.6,573.7 L160.2,573.6 L160.7,573.6 L161.3,573.6 L161.8,573.6 L162.4,573.6 L162.9,573.6 L163.5,573.7 L164.1,573.7 L164.6,573.7 L165.2,573.7 L165.7,573.7 L166.3,573.7 L166.8,573.8 L167.4,573.8 L168.0,573.8 L168.5,573.8 L169.1,573.8 L169.6,573.9 L170.2,573.9 L170.7,573.9 L171.3,573.9 L171.9,573.9 L172.4,574.0 L173.0,574.0 L173.5,574.0 L174.1,574.0 L174.6,574.1 L175.2,574.1 L175.8,574.1 L176.3,574.1 L176.9,574.1 L177.4,574.2 L178.0,574.2 L178.5,574.2 L179.1,574.2 L179.7,574.2 L180.2,574.3 L180.8,574.3 L181.3,574.3 L181.9,574.3 L182.5,574.3 L183.0,574.4 L183.6,574.4 L184.1,574.4 L184.7,574.4 L185.2,574.5 L185.8,574.5 L186.4,574.5 L186.9,574.5 L187.5,574.5 L188.0,574.6 L188.6,574.6 L189.1,574.6 L189.7,574.6 L190.3,574.6 L190.8,574.7 L191.4,574.7 L191.9,574.7 L192.5,574.7 L193.0,574.7 L193.6,574.8 L194.2,574.8 L194.7,574.8 L195.3,574.8 L195.8,574.8 L196.4,574.9 L196.9,574.9 L197.5,574.9 L198.1,574.9 L198.6,574.9 L199.2,575.0 L199.7,575.0 L200.3,575.0 L200.8,575.0 L201.4,575.0 L202.0,575.1 L202.5,575.1 L203.1,575.1 L203.6,575.1 L204.2,575.1 L204.7,575.2 L205.3,575.2 L205.9,575.2 L206.4,575.2 L207.0,575.2 L207.5,575.3 L208.1,575.3 L208.7,575.3 L209.2,575.3 L209.8,575.3 L210.3,575.4 L210.9,575.4 L211.4,575.4 L212.0,575.4 L212.6,575.4 L213.1,575.5 L213.7,575.5 L214.2,575.5 L214.8,575.5 L215.3,575.5 L215.9,575.6 L216.5,575.6 L217.0,575.6 L217.6,575.6 L218.1,575.6 L218.7,575.7 L219.2,575.7 L219.8,575.7 L220.4,575.7 L220.9,575.7 L221.5,575.8 L222.0,575.8 L222.6,575.8 L223.1,575.8 L223.7,575.8 L224.3,575.8 L224.8,575.9 L225.4,575.9 L225.9,575.9 L226.5,575.9 L227.0,575.9 L227.6,576.0 L228.2,576.0 L228.7,576.0 L229.3,576.0 L229.8,576.0 L230.4,576.1 L231.0,576.1 L231.5,576.1 L232.1,576.1 L232.6,576.1 L233.2,576.1 L233.7,576.2 L234.3,576.2 L234.9,576.2 L235.4,576.2 L236.0,576.2 L236.5,576.3 L237.1,576.3 L237.6,576.3 L238.2,576.3 L238.8,576.3 L239.3,576.4 L239.9,576.4 L240.4,576.4 L241.0,576.4 L241.5,576.4 L242.1,576.4 L242.7,576.5 L243.2,576.5 L243.8,576.5 L244.3,576.5 L244.9,576.5 L245.4,576.6 L246.0,576.6 L246.6,576.6 L247.1,576.6 L247.7,576.6 L248.2,576.6 L248.8,576.7 L249.3,576.7 L249.9,576.7 L250.5,576.7 L251.0,576.7 L251.6,576.8 L252.1,576.8 L252.7,576.8 L253.2,576.8 L253.8,576.8 L254.4,576.8 L254.9,576.9 L255.5,576.9 L256.0,576.9 L256.6,576.9 L257.2,576.9 L257.7,577.0 L258.3,577.0 L258.8,577.0 L259.4,577.0 L259.9,577.0 L260.5,577.0 L261.1,577.1 L261.6,577.1 L262.2,577.1 L262.7,577.1 L263.3,577.1 L263.8,577.1 L264.4,577.2 L265.0,577.2 L265.5,577.2 L266.1,577.2 L266.6,577.2 L267.2,577.2 L267.7,577.3 L268.3,577.3 L268.9,577.3 L269.4,577.3 L270.0,577.3 L270.5,577.4 L271.1,577.4 L271.6,577.4 L272.2,577.4 L272.8,577.4 L273.3,577.4 L273.9,577.5 L274.4,577.5 L275.0,577.5 L275.5,577.5 L276.1,577.5 L276.7,577.5 L277.2,577.6 L277.8,577.6 L278.3,577.6 L278.9,577.6 L279.5,577.6 L280.0,577.6 L280.6,577.7 L281.1,577.7 L281.7,577.7 L282.2,577.7 L282.8,577.7 L283.4,577.7 L283.9,577.8 L284.5,577.8 L285.0,577.8 L285.6,577.8 L286.1,577.8 L286.7,577.8 L287.3,577.9 L287.8,577.9 L288.4,577.9 L288.9,577.9 L289.5,577.9 L290.0,577.9 L290.6,578.0 L291.2,578.0 L291.7,578.0 L292.3,578.0 L292.8,578.0 L293.4,578.0 L293.9,578.1 L294.5,578.1 L295.1,578.1 L295.6,578.1 L296.2,578.1 L296.7,578.1 L297.3,578.1 L297.8,578.2 L298.4,578.2 L299.0,578.2 L299.5,578.2 L300.1,578.2 L300.6,578.2 L301.2,578.3 L301.7,578.3 L302.3,578.3 L302.9,578.3 L303.4,578.3 L304.0,578.3 L304.5,578.4 L305.1,578.4 L305.7,578.4 L306.2,578.4 L306.8,578.4 L307.3,578.4 L307.9,578.4 L308.4,578.5 L309.0,578.5 L309.6,578.5 L310.1,578.5 L310.7,578.5 L311.2,578.5 L311.8,578.6 L312.3,578.6 L312.9,578.6 L313.5,578.6 L314.0,578.6 L314.6,578.6 L315.1,578.6 L315.7,578.7 L316.2,578.7 L316.8,578.7 L317.4,578.7 L317.9,578.7 L318.5,578.7 L319.0,578.8 L319.6,578.8 L320.1,578.8 L320.7,578.8 L321.3,578.8 L321.8,578.8 L322.4,578.8 L322.9,578.9 L323.5,578.9 L324.0,578.9 L324.6,578.9 L325.2,578.9 L325.7,578.9 L326.3,578.9 L326.8,579.0 L327.4,579.0 L328.0,579.0 L328.5,579.0 L329.1,579.0 L329.6,579.0 L330.2,579.1 L330.7,579.1 L331.3,579.1 L331.9,579.1 L332.4,579.1 L333.0,579.1 L333.5,579.1 L334.1,579.2 L334.6,579.2 L335.2,579.2 L335.8,579.2 L336.3,579.2 L336.9,579.2 L337.4,579.2 L338.0,579.3 L338.5,579.3 L339.1,579.3 L339.7,579.3 L340.2,579.3 L340.8,579.3 L341.3,579.3 L341.9,579.3 L342.4,579.4 L343.0,579.4 L343.6,579.4 L344.1,579.4 L344.7,579.4 L345.2,579.4 L345.8,579.4 L346.3,579.5 L346.9,579.5 L347.5,579.5 L348.0,579.5 L348.6,579.5 L349.1,579.5 L349.7,579.5 L350.3,579.6 L350.8,579.6 L351.4,579.6 L351.9,579.6 L352.5,579.6 L353.0,579.6 L353.6,579.6 L354.2,579.6 L354.7,579.7 L355.3,579.7 L355.8,579.7 L356.4,579.7 L356.9,579.7 L357.5,579.7 L358.1,579.7 L358.6,579.8 L359.2,579.8 L359.7,579.8 L360.3,579.8 L360.8,579.8 L361.4,579.8 L362.0,579.8 L362.5,579.8 L363.1,579.9 L363.6,579.9 L364.2,579.9 L364.7,579.9 L365.3,579.9 L365.9,579.9 L366.4,579.9 L367.0,579.9 L367.5,580.0 L368.1,580.0 L368.6,580.0 L369.2,580.0 L369.8,580.0 L370.3,580.0 L370.9,580.0 L371.4,580.0 L372.0,580.1 L372.5,580.1 L373.1,580.1 L373.7,580.1 L374.2,580.1 L374.8,580.1 L375.3,580.1 L375.9,580.1 L376.5,580.2 L377.0,580.2 L377.6,580.2 L378.1,580.2 L378.7,580.2 L379.2,580.2 L379.8,580.2 L380.4,580.2 L380.9,580.3 L381.5,580.3 L382.0,580.3 L382.6,580.3 L383.1,580.3 L383.7,580.3 L384.3,580.3 L384.8,580.3 L385.4,580.3 L385.9,580.4 L386.5,580.4 L387.0,580.4 L387.6,580.4 L388.2,580.4 L388.7,580.4 L389.3,580.4 L389.8,580.4 L390.4,580.4 L390.9,580.5 L391.5,580.5 L392.1,580.5 L392.6,580.5 L393.2,580.5 L393.7,580.5 L394.3,580.5 L394.8,580.5 L395.4,580.5 L396.0,580.6 L396.5,580.6 L397.1,580.6 L397.6,580.6 L398.2,580.6 L398.8,580.6 L399.3,580.6 L399.9,580.6 L400.4,580.6 L401.0,580.6 L401.5,580.7 L402.1,580.7 L402.7,580.7 L403.2,580.7 L403.8,580.7 L404.3,580.7 L404.9,580.7 L405.4,580.7 L406.0,580.7 L406.6,580.7 L407.1,580.8 L407.7,580.8 L408.2,580.8 L408.8,580.8 L409.3,580.8 L409.9,580.8 L410.5,580.8 L411.0,580.8 L411.6,580.8 L412.1,580.8 L412.7,580.9 L413.2,580.9 L413.8,580.9 L414.4,580.9 L414.9,580.9 L415.5,580.9 L416.0,580.9 L416.6,580.9 L417.1,580.9 L417.7,580.9 L418.3,580.9 L418.8,581.0 L419.4,581.0 L419.9,581.0 L420.5,581.0 L421.0,581.0 L421.6,581.0 L422.2,581.0 L422.7,581.0 L423.3,581.0 L423.8,581.0 L424.4,581.0 L425.0,581.0 L425.5,581.1 L426.1,581.1 L426.6,581.1 L427.2,581.1 L427.7,581.1 L428.3,581.1 L428.9,581.1 L429.4,581.1 L430.0,581.1 L430.5,581.1 L431.1,581.1 L431.6,581.1 L432.2,581.2 L432.8,581.2 L433.3,581.2 L433.9,581.2 L434.4,581.2 L435.0,581.2 L435.5,581.2 L436.1,581.2 L436.7,581.2 L437.2,581.2 L437.8,581.2 L438.3,581.2 L438.9,581.2 L439.4,581.2 L440.0,581.3 L440.6,581.3 L441.1,581.3 L441.7,581.3 L442.2,581.3 L442.8,581.3 L443.3,581.3 L443.9,581.3 L444.5,581.3 L445.0,581.3 L445.6,581.3 L446.1,581.3 L446.7,581.3 L447.3,581.3 L447.8,581.3 L448.4,581.3 L448.9,581.4 L449.5,581.4 L450.0,581.4 L450.6,581.4 L451.2,581.4 L451.7,581.4 L452.3,581.4 L452.8,581.4 L453.4,581.4 L453.9,581.4 L454.5,581.4 L455.1,581.4 L455.6,581.4 L456.2,581.4 L456.7,581.4 L457.3,581.4 L457.8,581.4 L458.4,581.4 L459.0,581.4 L459.5,581.4 L460.1,581.5 L460.6,581.5 L461.2,581.5 L461.7,581.5 L462.3,581.5 L462.9,581.5 L463.4,581.5 L464.0,581.5 L464.5,581.5 L465.1,581.5 L465.6,581.5 L466.2,581.5 L466.8,581.5 L467.3,581.5 L467.9,581.5 L468.4,581.5 L469.0,581.5 L469.5,581.5 L470.1,581.5 L470.7,581.5 L471.2,581.5 L471.8,581.5 L472.3,581.5 L472.9,581.5 L473.5,581.5 L474.0,581.5 L474.6,581.5 L475.1,581.5 L475.7,581.5 L476.2,581.5 L476.8,581.5 L477.4,581.5 L477.9,581.5 L478.5,581.5 L479.0,581.5 L479.6,581.5 L480.1,581.5 L480.7,581.5 L481.3,581.5 L481.8,581.5 L482.4,581.5 L482.9,581.5 L483.5,581.5 L484.0,581.5 L484.6,581.5 L485.2,581.5 L485.7,581.5 L486.3,581.5 L486.8,581.5 L487.4,581.5 L487.9,581.5 L488.5,581.5 L489.1,581.5 L489.6,581.5 L490.2,581.5 L490.7,581.5 L491.3,581.5 L491.8,581.5 L492.4,581.5 L493.0,581.5 L493.5,581.5 L494.1,581.5 L494.6,581.5 L495.2,581.5 L495.8,581.5 L496.3,581.5 L496.9,581.5 L497.4,581.5 L498.0,581.5 L498.5,581.5 L499.1,581.5 L499.7,581.5 L500.2,581.5 L500.8,581.5 L501.3,581.5 L501.9,581.5 L502.4,581.5 L503.0,581.5 L503.6,581.5 L504.1,581.5 L504.7,581.5 L505.2,581.5 L505.8,581.4 L506.3,581.4 L506.9,581.4 L507.5,581.4 L508.0,581.4 L508.6,581.4 L509.1,581.4 L509.7,581.4 L510.2,581.4 L510.8,581.4 L511.4,581.4 L511.9,581.4 L512.5,581.4 L513.0,581.4 L513.6,581.4 L514.1,581.4 L514.7,581.3 L515.3,581.3 L515.8,581.3 L516.4,581.3 L516.9,581.3 L517.5,581.3 L518.0,581.3 L518.6,581.3 L519.2,581.3 L519.7,581.3 L520.3,581.3 L520.8,581.2 L521.4,581.2 L522.0,581.2 L522.5,581.2 L523.1,581.2 L523.6,581.2 L524.2,581.2 L524.7,581.2 L525.3,581.2 L525.9,581.1 L526.4,581.1 L527.0,581.1 L527.5,581.1 L528.1,581.1 L528.6,581.1 L529.2,581.1 L529.8,581.1 L530.3,581.0 L530.9,581.0 L531.4,581.0 L532.0,581.0 L532.5,581.0 L533.1,581.0 L533.7,581.0 L534.2,580.9 L534.8,580.9 L535.3,580.9 L535.9,580.9 L536.4,580.9 L537.0,580.9 L537.6,580.9 L538.1,580.8 L538.7,580.8 L539.2,580.8 L539.8,580.8 L540.3,580.8 L540.9,580.7 L541.5,580.7 L542.0,580.7 L542.6,580.7 L543.1,580.7 L543.7,580.7 L544.3,580.6 L544.8,580.6 L545.4,580.6 L545.9,580.6 L546.5,580.5 L547.0,580.5 L547.6,580.5 L548.2,580.5 L548.7,580.5 L549.3,580.4 L549.8,580.4 L550.4,580.4 L550.9,580.4 L551.5,580.3 L552.1,580.3 L552.6,580.3 L553.2,580.3 L553.7,580.2 L554.3,580.2 L554.8,580.2 L555.4,580.2 L556.0,580.1 L556.5,580.1 L557.1,580.1 L557.6,580.1 L558.2,580.0 L558.7,580.0 L559.3,580.0 L559.9,579.9 L560.4,579.9 L561.0,579.9 L561.5,579.9 L562.1,579.8 L562.6,579.8 L563.2,579.8 L563.8,579.7 L564.3,579.7 L564.9,579.7 L565.4,579.6 L566.0,579.6 L566.6,579.6 L567.1,579.5 L567.7,579.5 L568.2,579.5 L568.8,579.4 L569.3,579.4 L569.9,579.4 L570.5,579.3 L571.0,579.3 L571.6,579.2 L572.1,579.2 L572.7,579.2 L573.2,579.1 L573.8,579.1 L574.4,579.1 L574.9,579.0 L575.5,579.0 L576.0,578.9 L576.6,578.9 L577.1,578.8 L577.7,578.8 L578.3,578.8 L578.8,578.7 L579.4,578.7 L579.9,578.6 L580.5,578.6 L581.0,578.5 L581.6,578.5 L582.2,578.4 L582.7,578.4 L583.3,578.3 L583.8,578.3 L584.4,578.3 L584.9,578.2 L585.5,578.2 L586.1,578.1 L586.6,578.1 L587.2,578.0 L587.7,577.9 L588.3,577.9 L588.8,577.8 L589.4,577.8 L590.0,577.7 L590.5,577.7 L591.1,577.6 L591.6,577.6 L592.2,577.5 L592.8,577.4 L593.3,577.4 L593.9,577.3 L594.4,577.3 L595.0,577.2 L595.5,577.1 L596.1,577.1 L596.7,577.0 L597.2,577.0 L597.8,576.9 L598.3,576.8 L598.9,576.8 L599.4,576.7 L600.0,576.6 L600.6,576.6 L601.1,576.5 L601.7,576.4 L602.2,576.4 L602.8,576.3 L603.3,576.2 L603.9,576.1 L604.5,576.1 L605.0,576.0 L605.6,575.9 L606.1,575.8 L606.7,575.8 L607.2,575.7 L607.8,575.6 L608.4,575.5 L608.9,575.5 L609.5,575.4 L610.0,575.3 L610.6,575.2 L611.1,575.1 L611.7,575.0 L612.3,575.0 L612.8,574.9 L613.4,574.8 L613.9,574.7 L614.5,574.6 L615.1,574.5 L615.6,574.4 L616.2,574.3 L616.7,574.2 L617.3,574.2 L617.8,574.1 L618.4,574.0 L619.0,573.9 L619.5,573.8 L620.1,573.7 L620.6,573.6 L621.2,573.5 L621.7,573.4 L622.3,573.3 L622.9,573.2 L623.4,573.1 L624.0,573.0 L624.5,572.8 L625.1,572.7 L625.6,572.6 L626.2,572.5 L626.8,572.4 L627.3,572.3 L627.9,572.2 L628.4,572.1 L629.0,572.0 L629.5,571.8 L630.1,571.7 L630.7,571.6 L631.2,571.5 L631.8,571.4 L632.3,571.2 L632.9,571.1 L633.4,571.0 L634.0,570.9 L634.6,570.7 L635.1,570.6 L635.7,570.5 L636.2,570.3 L636.8,570.2 L637.3,570.1 L637.9,569.9 L638.5,569.8 L639.0,569.6 L639.6,569.5 L640.1,569.4 L640.7,569.2 L641.3,569.1 L641.8,568.9 L642.4,568.8 L642.9,568.6 L643.5,568.5 L644.0,568.3 L644.6,568.2 L645.2,568.0 L645.7,567.9 L646.3,567.7 L646.8,567.5 L647.4,567.4 L647.9,567.2 L648.5,567.0 L649.1,566.9 L649.6,566.7 L650.2,566.5 L650.7,566.4 L651.3,566.2 L651.8,566.0 L652.4,565.8 L653.0,565.6 L653.5,565.5 L654.1,565.3 L654.6,565.1 L655.2,564.9 L655.7,564.7 L656.3,564.5 L656.9,564.3 L657.4,564.1 L658.0,563.9 L658.5,563.7 L659.1,563.5 L659.6,563.3 L660.2,563.1 L660.8,562.9 L661.3,562.7 L661.9,562.5 L662.4,562.3 L663.0,562.1 L663.6,561.9 L664.1,561.6 L664.7,561.4 L665.2,561.2 L665.8,561.0 L666.3,560.7 L666.9,560.5 L667.5,560.3 L668.0,560.0 L668.6,559.8 L669.1,559.6 L669.7,559.3 L670.2,559.1 L670.8,558.8 L671.4,558.6 L671.9,558.3 L672.5,558.1 L673.0,557.8 L673.6,557.5 L674.1,557.3 L674.7,557.0 L675.3,556.7 L675.8,556.5 L676.4,556.2 L676.9,555.9 L677.5,555.6 L678.0,555.4 L678.6,555.1 L679.2,554.8 L679.7,554.5 L680.3,554.2 L680.8,553.9 L681.4,553.6 L681.9,553.3 L682.5,553.0 L683.1,552.7 L683.6,552.4 L684.2,552.0 L684.7,551.7 L685.3,551.4 L685.8,551.1 L686.4,550.8 L687.0,550.4 L687.5,550.1 L688.1,549.7 L688.6,549.4 L689.2,549.1 L689.8,548.7 L690.3,548.4 L690.9,548.0 L691.4,547.6 L692.0,547.3 L692.5,546.9 L693.1,546.5 L693.7,546.2 L694.2,545.8 L694.8,545.4 L695.3,545.0 L695.9,544.6 L696.4,544.2 L697.0,543.9 L697.6,543.5 L698.1,543.0 L698.7,542.6 L699.2,542.2 L699.8,541.8 L700.3,541.4 L700.9,541.0 L701.5,540.5 L702.0,540.1 L702.6,539.7 L703.1,539.2 L703.7,538.8 L704.2,538.3 L704.8,537.9 L705.4,537.4 L705.9,536.9 L706.5,536.5 L707.0,536.0 L707.6,535.5 L708.1,535.0 L708.7,534.6 L709.3,534.1 L709.8,533.6 L710.4,533.1 L710.9,532.6 L711.5,532.0 L712.1,531.5 L712.6,531.0 L713.2,530.5 L713.7,529.9 L714.3,529.4 L714.8,528.9 L715.4,528.3 L716.0,527.7 L716.5,527.2 L717.1,526.6 L717.6,526.1 L718.2,525.5 L718.7,524.9 L719.3,524.3 L719.9,523.7 L720.4,523.1 L721.0,522.5 L721.5,521.9 L722.1,521.3 L722.6,520.6 L723.2,520.0 L723.8,519.4 L724.3,518.7 L724.9,518.1 L725.4,517.4 L726.0,516.8 L726.5,516.1 L727.1,515.4 L727.7,514.7 L728.2,514.0 L728.8,513.3 L729.3,512.6 L729.9,511.9 L730.4,511.2 L731.0,510.5 L731.6,509.8 L732.1,509.0 L732.7,508.3 L733.2,507.5 L733.8,506.8 L734.4,506.0 L734.9,505.2 L735.5,504.4 L736.0,503.6 L736.6,502.8 L737.1,502.0 L737.7,501.2 L738.3,500.4 L738.8,499.6 L739.4,498.7 L739.9,497.9 L740.5,497.0 L741.0,496.2 L741.6,495.3 L742.2,494.4 L742.7,493.5 L743.3,492.6 L743.8,491.7 L744.4,490.8 L744.9,489.9 L745.5,488.9 L746.1,488.0 L746.6,487.0 L747.2,486.1 L747.7,485.1 L748.3,484.1 L748.8,483.1 L749.4,482.1 L750.0,481.1 L750.5,480.1 L751.1,479.0 L751.6,478.0 L752.2,476.9 L752.7,475.9 L753.3,474.8 L753.9,473.7 L754.4,472.6 L755.0,471.5 L755.5,470.4 L756.1,469.3 L756.6,468.1 L757.2,467.0 L757.8,465.8 L758.3,464.6 L758.9,463.4 L759.4,462.2 L760.0,461.0 L760.6,459.8 L761.1,458.6 L761.7,457.3 L762.2,456.1 L762.8,454.8 L763.3,453.5 L763.9,452.2 L764.5,450.9 L765.0,449.6 L765.6,448.2 L766.1,446.9 L766.7,445.5 L767.2,444.1 L767.8,442.7 L768.4,441.3 L768.9,439.9 L769.5,438.5 L770.0,437.0 L770.6,435.5 L771.1,434.1 L771.7,432.6 L772.3,431.1 L772.8,429.5 L773.4,428.0 L773.9,426.4 L774.5,424.8 L775.0,423.2 L775.6,421.6 L776.2,420.0 L776.7,418.3 L777.3,416.7 L777.8,415.0 L778.4,413.3 L778.9,411.6 L779.5,409.8 L780.1,408.1 L780.6,406.3 L781.2,404.5 L781.7,402.7 L782.3,400.8 L782.9,399.0 L783.4,397.1 L784.0,395.2 L784.5,393.2 L785.1,391.3 L785.6,389.3 L786.2,387.3 L786.8,385.3 L787.3,383.2 L787.9,381.1 L788.4,379.0 L789.0,376.9 L789.5,374.7 L790.1,372.5 L790.7,370.3 L791.2,368.0 L791.8,365.7 L792.3,363.4 L792.9,361.1 L793.4,358.7 L794.0,356.2 L794.6,353.7 L795.1,351.2 L795.7,348.7 L796.2,346.1 L796.8,343.4 L797.3,340.7 L797.9,338.0 L798.5,335.2 L799.0,332.4 L799.6,329.5 L800.1,326.5 L800.7,323.5 L801.2,320.5 L801.8,317.3 L802.4,314.1 L802.9,310.9 L803.5,307.5 L804.0,304.1 L804.6,300.6 L805.1,297.0 L805.7,293.4 L806.3,289.6 L806.8,285.8 L807.4,281.9 L807.9,277.9 L808.5,273.8 L809.1,269.5 L809.6,265.2 L810.2,260.8 L810.7,256.3 L811.3,251.6 L811.8,246.9 L812.4,242.0 L813.0,237.0 L813.5,232.0 L814.1,226.8 L814.6,221.5 L815.2,216.1 L815.7,210.7 L816.3,205.1 L816.9,199.5 L817.4,193.9 L818.0,188.2 L818.5,182.4 L819.1,176.7 L819.6,171.0 L820.2,165.4 L820.8,159.9 L821.3,154.5 L821.9,149.2 L822.4,144.2 L823.0,139.6 L823.5,135.3 L824.1,131.4 L824.7,128.1 L825.2,125.5 L825.8,123.6 L826.3,122.5 L826.9,122.4 L827.4,123.2 L828.0,125.0 L828.6,127.9 L829.1,132.0 L829.7,137.1 L830.2,143.3 L830.8,150.5 L831.4,158.9 L831.9,168.2 L832.5,178.4 L833.0,189.5 L833.6,201.4 L834.1,214.1 L834.7,227.3 L835.3,241.0 L835.8,255.1 L836.4,269.5 L836.9,284.0 L837.5,298.7 L838.0,313.4 L838.6,327.9 L839.2,342.3 L839.7,356.5 L840.3,370.3 L840.8,383.8 L841.4,396.9 L841.9,409.6 L842.5,421.8 L843.1,433.6 L843.6,444.9 L844.2,455.8 L844.7,466.1 L845.3,476.0 L845.8,485.5 L846.4,494.5 L847.0,503.0 L847.5,511.1 L848.1,518.8 L848.6,526.1 L849.2,533.1 L849.7,539.6 L850.3,545.9 L850.9,551.8 L851.4,557.3 L852.0,562.6 L852.5,567.6 L853.1,572.4 L853.6,576.9 L854.2,581.1 L854.8,585.1 L855.3,588.9 L855.9,592.5 L856.4,595.9 L857.0,599.2 L857.6,602.2 L858.1,605.1 L858.7,607.9 L859.2,610.5 L859.8,612.9 L860.3,615.3 L860.9,617.5 L861.5,619.6 L862.0,621.6 L862.6,623.5 L863.1,625.2 L863.7,626.9 L864.2,628.6 L864.8,630.1 L865.4,631.5 L865.9,632.9 L866.5,634.2 L867.0,635.4 L867.6,636.6 L868.1,637.7 L868.7,638.8 L869.3,639.8 L869.8,640.7 L870.4,641.6 L870.9,642.5 L871.5,643.3 L872.0,644.1 L872.6,644.8 L873.2,645.5 L873.7,646.2 L874.3,646.8 L874.8,647.4 L875.4,648.0 L875.9,648.6 L876.5,649.1 L877.1,649.6 L877.6,650.0 L878.2,650.5 L878.7,650.9 L879.3,651.3 L879.9,651.7 L880.4,652.0 L881.0,652.4 L881.5,652.7 L882.1,653.0 L882.6,653.3 L883.2,653.6 L883.8,653.8 L884.3,654.1 L884.9,654.3 L885.4,654.6 L886.0,654.8 L886.5,655.0 L887.1,655.2 L887.7,655.4 L888.2,655.6 L888.8,655.7 L889.3,655.9 L889.7,656.0" stroke="#0000f2" stroke-linecap="round"/>
<path d="M147.9,651.0 L148.4,647.7 L149.0,644.9 L149.6,642.6 L150.1,640.6 L150.7,638.8 L151.2,637.4 L151.8,636.1 L152.3,635.1 L152.9,634.2 L153.5,633.4 L154.0,632.8 L154.6,632.2 L155.1,631.7 L155.7,631.3 L156.2,631.0 L156.8,630.7 L157.4,630.4 L157.9,630.2 L158.5,630.0 L159.0,629.9 L159.6,629.7 L160.2,629.6 L160.7,629.5 L161.3,629.5 L161.8,629.4 L162.4,629.3 L162.9,629.3 L163.5,629.2 L164.1,629.2 L164.6,629.2 L165.2,629.1 L165.7,629.1 L166.3,629.1 L166.8,629.1 L167.4,629.1 L168.0,629.0 L168.5,629.0 L169.1,629.0 L169.6,629.0 L170.2,629.0 L170.7,629.0 L171.3,629.0 L171.9,629.0 L172.4,629.0 L173.0,629.0 L173.5,629.0 L174.1,629.0 L174.6,629.0 L175.2,629.0 L175.8,629.0 L176.3,629.0 L176.9,629.0 L177.4,629.0 L178.0,629.0 L178.5,629.0 L179.1,629.0 L179.7,629.0 L180.2,629.0 L180.8,629.0 L181.3,629.0 L181.9,629.0 L182.5,629.0 L183.0,629.0 L183.6,629.0 L184.1,629.0 L184.7,629.0 L185.2,629.0 L185.8,629.0 L186.4,629.0 L186.9,629.0 L187.5,629.0 L188.0,629.0 L188.6,629.0 L189.1,629.0 L189.7,629.0 L190.3,629.0 L190.8,629.0 L191.4,629.0 L191.9,629.0 L192.5,629.0 L193.0,629.0 L193.6,629.0 L194.2,629.0 L194.7,629.0 L195.3,629.0 L195.8,629.0 L196.4,629.0 L196.9,629.0 L197.5,629.0 L198.1,629.0 L198.6,629.0 L199.2,629.0 L199.7,629.0 L200.3,629.0 L200.8,629.0 L201.4,629.0 L202.0,629.0 L202.5,629.0 L203.1,629.0 L203.6,629.0 L204.2,629.0 L204.7,629.0 L205.3,629.0 L205.9,629.0 L206.4,629.0 L207.0,629.0 L207.5,629.0 L208.1,629.0 L208.7,629.0 L209.2,629.0 L209.8,629.0 L210.3,629.0 L210.9,629.0 L211.4,629.0 L212.0,629.1 L212.6,629.1 L213.1,629.1 L213.7,629.1 L214.2,629.1 L214.8,629.1 L215.3,629.1 L215.9,629.1 L216.5,629.1 L217.0,629.1 L217.6,629.1 L218.1,629.1 L218.7,629.1 L219.2,629.1 L219.8,629.1 L220.4,629.1 L220.9,629.1 L221.5,629.1 L222.0,629.1 L222.6,629.1 L223.1,629.1 L223.7,629.1 L224.3,629.1 L224.8,629.1 L225.4,629.1 L225.9,629.1 L226.5,629.1 L227.0,629.1 L227.6,629.1 L228.2,629.1 L228.7,629.1 L229.3,629.1 L229.8,629.1 L230.4,629.2 L231.0,629.2 L231.5,629.2 L232.1,629.2 L232.6,629.2 L233.2,629.2 L233.7,629.2 L234.3,629.2 L234.9,629.2 L235.4,629.2 L236.0,629.2 L236.5,629.2 L237.1,629.2 L237.6,629.2 L238.2,629.2 L238.8,629.2 L239.3,629.2 L239.9,629.2 L240.4,629.2 L241.0,629.2 L241.5,629.2 L242.1,629.2 L242.7,629.2 L243.2,629.2 L243.8,629.2 L244.3,629.3 L244.9,629.3 L245.4,629.3 L246.0,629.3 L246.6,629.3 L247.1,629.3 L247.7,629.3 L248.2,629.3 L248.8,629.3 L249.3,629.3 L249.9,629.3 L250.5,629.3 L251.0,629.3 L251.6,629.3 L252.1,629.3 L252.7,629.3 L253.2,629.3 L253.8,629.3 L254.4,629.3 L254.9,629.3 L255.5,629.3 L256.0,629.4 L256.6,629.4 L257.2,629.4 L257.7,629.4 L258.3,629.4 L258.8,629.4 L259.4,629.4 L259.9,629.4 L260.5,629.4 L261.1,629.4 L261.6,629.4 L262.2,629.4 L262.7,629.4 L263.3,629.4 L263.8,629.4 L264.4,629.4 L265.0,629.4 L265.5,629.4 L266.1,629.4 L266.6,629.4 L267.2,629.5 L267.7,629.5 L268.3,629.5 L268.9,629.5 L269.4,629.5 L270.0,629.5 L270.5,629.5 L271.1,629.5 L271.6,629.5 L272.2,629.5 L272.8,629.5 L273.3,629.5 L273.9,629.5 L274.4,629.5 L275.0,629.5 L275.5,629.5 L276.1,629.5 L276.7,629.5 L277.2,629.6 L277.8,629.6 L278.3,629.6 L278.9,629.6 L279.5,629.6 L280.0,629.6 L280.6,629.6 L281.1,629.6 L281.7,629.6 L282.2,629.6 L282.8,629.6 L283.4,629.6 L283.9,629.6 L284.5,629.6 L285.0,629.6 L285.6,629.6 L286.1,629.6 L286.7,629.7 L287.3,629.7 L287.8,629.7 L288.4,629.7 L288.9,629.7 L289.5,629.7 L290.0,629.7 L290.6,629.7 L291.2,629.7 L291.7,629.7 L292.3,629.7 L292.8,629.7 L293.4,629.7 L293.9,629.7 L294.5,629.7 L295.1,629.7 L295.6,629.8 L296.2,629.8 L296.7,629.8 L297.3,629.8 L297.8,629.8 L298.4,629.8 L299.0,629.8 L299.5,629.8 L300.1,629.8 L300.6,629.8 L301.2,629.8 L301.7,629.8 L302.3,629.8 L302.9,629.8 L303.4,629.8 L304.0,629.8 L304.5,629.9 L305.1,629.9 L305.7,629.9 L306.2,629.9 L306.8,629.9 L307.3,629.9 L307.9,629.9 L308.4,629.9 L309.0,629.9 L309.6,629.9 L310.1,629.9 L310.7,629.9 L311.2,629.9 L311.8,629.9 L312.3,629.9 L312.9,629.9 L313.5,630.0 L314.0,630.0 L314.6,630.0 L315.1,630.0 L315.7,630.0 L316.2,630.0 L316.8,630.0 L317.4,630.0 L317.9,630.0 L318.5,630.0 L319.0,630.0 L319.6,630.0 L320.1,630.0 L320.7,630.0 L321.3,630.0 L321.8,630.0 L322.4,630.1 L322.9,630.1 L323.5,630.1 L324.0,630.1 L324.6,630.1 L325.2,630.1 L325.7,630.1 L326.3,630.1 L326.8,630.1 L327.4,630.1 L328.0,630.1 L328.5,630.1 L329.1,630.1 L329.6,630.1 L330.2,630.1 L330.7,630.1 L331.3,630.1 L331.9,630.2 L332.4,630.2 L333.0,630.2 L333.5,630.2 L334.1,630.2 L334.6,630.2 L335.2,630.2 L335.8,630.2 L336.3,630.2 L336.9,630.2 L337.4,630.2 L338.0,630.2 L338.5,630.2 L339.1,630.2 L339.7,630.2 L340.2,630.2 L340.8,630.2 L341.3,630.2 L341.9,630.3 L342.4,630.3 L343.0,630.3 L343.6,630.3 L344.1,630.3 L344.7,630.3 L345.2,630.3 L345.8,630.3 L346.3,630.3 L346.9,630.3 L347.5,630.3 L348.0,630.3 L348.6,630.3 L349.1,630.3 L349.7,630.3 L350.3,630.3 L350.8,630.3 L351.4,630.3 L351.9,630.3 L352.5,630.3 L353.0,630.3 L353.6,630.4 L354.2,630.4 L354.7,630.4 L355.3,630.4 L355.8,630.4 L356.4,630.4 L356.9,630.4 L357.5,630.4 L358.1,630.4 L358.6,630.4 L359.2,630.4 L359.7,630.4 L360.3,630.4 L360.8,630.4 L361.4,630.4 L362.0,630.4 L362.5,630.4 L363.1,630.4 L363.6,630.4 L364.2,630.4 L364.7,630.4 L365.3,630.4 L365.9,630.4 L366.4,630.4 L367.0,630.4 L367.5,630.4 L368.1,630.4 L368.6,630.4 L369.2,630.4 L369.8,630.4 L370.3,630.4 L370.9,630.4 L371.4,630.4 L372.0,630.4 L372.5,630.4 L373.1,630.4 L373.7,630.4 L374.2,630.4 L374.8,630.5 L375.3,630.5 L375.9,630.5 L376.5,630.5 L377.0,630.5 L377.6,630.5 L378.1,630.5 L378.7,630.5 L379.2,630.5 L379.8,630.5 L380.4,630.5 L380.9,630.5 L381.5,630.5 L382.0,630.5 L382.6,630.5 L383.1,630.5 L383.7,630.5 L384.3,630.5 L384.8,630.5 L385.4,630.5 L385.9,630.4 L386.5,630.4 L387.0,630.4 L387.6,630.4 L388.2,630.4 L388.7,630.4 L389.3,630.4 L389.8,630.4 L390.4,630.4 L390.9,630.4 L391.5,630.4 L392.1,630.4 L392.6,630.4 L393.2,630.4 L393.7,630.4 L394.3,630.4 L394.8,630.4 L395.4,630.4 L396.0,630.4 L396.5,630.4 L397.1,630.4 L397.6,630.4 L398.2,630.4 L398.8,630.4 L399.3,630.4 L399.9,630.4 L400.4,630.4 L401.0,630.4 L401.5,630.4 L402.1,630.4 L402.7,630.4 L403.2,630.4 L403.8,630.4 L404.3,630.4 L404.9,630.4 L405.4,630.3 L406.0,630.3 L406.6,630.3 L407.1,630.3 L407.7,630.3 L408.2,630.3 L408.8,630.3 L409.3,630.3 L409.9,630.3 L410.5,630.3 L411.0,630.3 L411.6,630.3 L412.1,630.3 L412.7,630.3 L413.2,630.3 L413.8,630.3 L414.4,630.3 L414.9,630.3 L415.5,630.3 L416.0,630.3 L416.6,630.2 L417.1,630.2 L417.7,630.2 L418.3,630.2 L418.8,630.2 L419.4,630.2 L419.9,630.2 L420.5,630.2 L421.0,630.2 L421.6,630.2 L422.2,630.2 L422.7,630.2 L423.3,630.2 L423.8,630.2 L424.4,630.2 L425.0,630.2 L425.5,630.1 L426.1,630.1 L426.6,630.1 L427.2,630.1 L427.7,630.1 L428.3,630.1 L428.9,630.1 L429.4,630.1 L430.0,630.1 L430.5,630.1 L431.1,630.1 L431.6,630.1 L432.2,630.1 L432.8,630.1 L433.3,630.1 L433.9,630.1 L434.4,630.0 L435.0,630.0 L435.5,630.0 L436.1,630.0 L436.7,630.0 L437.2,630.0 L437.8,630.0 L438.3,630.0 L438.9,630.0 L439.4,630.0 L440.0,630.0 L440.6,630.0 L441.1,630.0 L441.7,630.0 L442.2,630.0 L442.8,629.9 L443.3,629.9 L443.9,629.9 L444.5,629.9 L445.0,629.9 L445.6,629.9 L446.1,629.9 L446.7,629.9 L447.3,629.9 L447.8,629.9 L448.4,629.9 L448.9,629.9 L449.5,629.9 L450.0,629.9 L450.6,629.9 L451.2,629.8 L451.7,629.8 L452.3,629.8 L452.8,629.8 L453.4,629.8 L453.9,629.8 L454.5,629.8 L455.1,629.8 L455.6,629.8 L456.2,629.8 L456.7,629.8 L457.3,629.8 L457.8,629.8 L458.4,629.8 L459.0,629.7 L459.5,629.7 L460.1,629.7 L460.6,629.7 L461.2,629.7 L461.7,629.7 L462.3,629.7 L462.9,629.7 L463.4,629.7 L464.0,629.7 L464.5,629.7 L465.1,629.7 L465.6,629.7 L466.2,629.7 L466.8,629.6 L467.3,629.6 L467.9,629.6 L468.4,629.6 L469.0,629.6 L469.5,629.6 L470.1,629.6 L470.7,629.6 L471.2,629.6 L471.8,629.6 L472.3,629.6 L472.9,629.6 L473.5,629.5 L474.0,629.5 L474.6,629.5 L475.1,629.5 L475.7,629.5 L476.2,629.5 L476.8,629.5 L477.4,629.5 L477.9,629.5 L478.5,629.5 L479.0,629.5 L479.6,629.4 L480.1,629.4 L480.7,629.4 L481.3,629.4 L481.8,629.4 L482.4,629.4 L482.9,629.4 L483.5,629.4 L484.0,629.4 L484.6,629.4 L485.2,629.3 L485.7,629.3 L486.3,629.3 L486.8,629.3 L487.4,629.3 L487.9,629.3 L488.5,629.3 L489.1,629.3 L489.6,629.3 L490.2,629.2 L490.7,629.2 L491.3,629.2 L491.8,629.2 L492.4,629.2 L493.0,629.2 L493.5,629.2 L494.1,629.2 L494.6,629.1 L495.2,629.1 L495.8,629.1 L496.3,629.1 L496.9,629.1 L497.4,629.1 L498.0,629.1 L498.5,629.0 L499.1,629.0 L499.7,629.0 L500.2,629.0 L500.8,629.0 L501.3,629.0 L501.9,629.0 L502.4,628.9 L503.0,628.9 L503.6,628.9 L504.1,628.9 L504.7,628.9 L505.2,628.9 L505.8,628.8 L506.3,628.8 L506.9,628.8 L507.5,628.8 L508.0,628.8 L508.6,628.8 L509.1,628.7 L509.7,628.7 L510.2,628.7 L510.8,628.7 L511.4,628.7 L511.9,628.7 L512.5,628.6 L513.0,628.6 L513.6,628.6 L514.1,628.6 L514.7,628.6 L515.3,628.5 L515.8,628.5 L516.4,628.5 L516.9,628.5 L517.5,628.5 L518.0,628.4 L518.6,628.4 L519.2,628.4 L519.7,628.4 L520.3,628.4 L520.8,628.3 L521.4,628.3 L522.0,628.3 L522.5,628.3 L523.1,628.2 L523.6,628.2 L524.2,628.2 L524.7,628.2 L525.3,628.1 L525.9,628.1 L526.4,628.1 L527.0,628.1 L527.5,628.0 L528.1,628.0 L528.6,628.0 L529.2,628.0 L529.8,627.9 L530.3,627.9 L530.9,627.9 L531.4,627.9 L532.0,627.8 L532.5,627.8 L533.1,627.8 L533.7,627.8 L534.2,627.7 L534.8,627.7 L535.3,627.7 L535.9,627.6 L536.4,627.6 L537.0,627.6 L537.6,627.6 L538.1,627.5 L538.7,627.5 L539.2,627.5 L539.8,627.4 L540.3,627.4 L540.9,627.4 L541.5,627.3 L542.0,627.3 L542.6,627.3 L543.1,627.2 L543.7,627.2 L544.3,627.2 L544.8,627.1 L545.4,627.1 L545.9,627.1 L546.5,627.0 L547.0,627.0 L547.6,627.0 L548.2,626.9 L548.7,626.9 L549.3,626.9 L549.8,626.8 L550.4,626.8 L550.9,626.7 L551.5,626.7 L552.1,626.7 L552.6,626.6 L553.2,626.6 L553.7,626.5 L554.3,626.5 L554.8,626.5 L555.4,626.4 L556.0,626.4 L556.5,626.3 L557.1,626.3 L557.6,626.3 L558.2,626.2 L558.7,626.2 L559.3,626.1 L559.9,626.1 L560.4,626.0 L561.0,626.0 L561.5,626.0 L562.1,625.9 L562.6,625.9 L563.2,625.8 L563.8,625.8 L564.3,625.7 L564.9,625.7 L565.4,625.6 L566.0,625.6 L566.6,625.5 L567.1,625.5 L567.7,625.4 L568.2,625.4 L568.8,625.3 L569.3,625.3 L569.9,625.2 L570.5,625.2 L571.0,625.1 L571.6,625.1 L572.1,625.0 L572.7,625.0 L573.2,624.9 L573.8,624.9 L574.4,624.8 L574.9,624.8 L575.5,624.7 L576.0,624.6 L576.6,624.6 L577.1,624.5 L577.7,624.5 L578.3,624.4 L578.8,624.4 L579.4,624.3 L579.9,624.2 L580.5,624.2 L581.0,624.1 L581.6,624.1 L582.2,624.0 L582.7,623.9 L583.3,623.9 L583.8,623.8 L584.4,623.7 L584.9,623.7 L585.5,623.6 L586.1,623.5 L586.6,623.5 L587.2,623.4 L587.7,623.3 L588.3,623.3 L588.8,623.2 L589.4,623.1 L590.0,623.1 L590.5,623.0 L591.1,622.9 L591.6,622.9 L592.2,622.8 L592.8,622.7 L593.3,622.6 L593.9,622.6 L594.4,622.5 L595.0,622.4 L595.5,622.3 L596.1,622.3 L596.7,622.2 L597.2,622.1 L597.8,622.0 L598.3,622.0 L598.9,621.9 L599.4,621.8 L600.0,621.7 L600.6,621.6 L601.1,621.6 L601.7,621.5 L602.2,621.4 L602.8,621.3 L603.3,621.2 L603.9,621.1 L604.5,621.1 L605.0,621.0 L605.6,620.9 L606.1,620.8 L606.7,620.7 L607.2,620.6 L607.8,620.5 L608.4,620.4 L608.9,620.4 L609.5,620.3 L610.0,620.2 L610.6,620.1 L611.1,620.0 L611.7,619.9 L612.3,619.8 L612.8,619.7 L613.4,619.6 L613.9,619.5 L614.5,619.4 L615.1,619.3 L615.6,619.2 L616.2,619.1 L616.7,619.0 L617.3,618.9 L617.8,618.8 L618.4,618.7 L619.0,618.6 L619.5,618.5 L620.1,618.4 L620.6,618.3 L621.2,618.2 L621.7,618.1 L622.3,618.0 L622.9,617.8 L623.4,617.7 L624.0,617.6 L624.5,617.5 L625.1,617.4 L625.6,617.3 L626.2,617.2 L626.8,617.1 L627.3,616.9 L627.9,616.8 L628.4,616.7 L629.0,616.6 L629.5,616.5 L630.1,616.3 L630.7,616.2 L631.2,616.1 L631.8,616.0 L632.3,615.8 L632.9,615.7 L633.4,615.6 L634.0,615.5 L634.6,615.3 L635.1,615.2 L635.7,615.1 L636.2,615.0 L636.8,614.8 L637.3,614.7 L637.9,614.6 L638.5,614.4 L639.0,614.3 L639.6,614.1 L640.1,614.0 L640.7,613.9 L641.3,613.7 L641.8,613.6 L642.4,613.4 L642.9,613.3 L643.5,613.2 L644.0,613.0 L644.6,612.9 L645.2,612.7 L645.7,612.6 L646.3,612.4 L646.8,612.3 L647.4,612.1 L647.9,612.0 L648.5,611.8 L649.1,611.7 L649.6,611.5 L650.2,611.3 L650.7,611.2 L651.3,611.0 L651.8,610.9 L652.4,610.7 L653.0,610.5 L653.5,610.4 L654.1,610.2 L654.6,610.1 L655.2,609.9 L655.7,609.7 L656.3,609.5 L656.9,609.4 L657.4,609.2 L658.0,609.0 L658.5,608.9 L659.1,608.7 L659.6,608.5 L660.2,608.3 L660.8,608.1 L661.3,608.0 L661.9,607.8 L662.4,607.6 L663.0,607.4 L663.6,607.2 L664.1,607.0 L664.7,606.9 L665.2,606.7 L665.8,606.5 L666.3,606.3 L666.9,606.1 L667.5,605.9 L668.0,605.7 L668.6,605.5 L669.1,605.3 L669.7,605.1 L670.2,604.9 L670.8,604.7 L671.4,604.5 L671.9,604.3 L672.5,604.1 L673.0,603.9 L673.6,603.7 L674.1,603.4 L674.7,603.2 L675.3,603.0 L675.8,602.8 L676.4,602.6 L676.9,602.4 L677.5,602.1 L678.0,601.9 L678.6,601.7 L679.2,601.5 L679.7,601.2 L680.3,601.0 L680.8,600.8 L681.4,600.5 L681.9,600.3 L682.5,600.1 L683.1,599.8 L683.6,599.6 L684.2,599.4 L684.7,599.1 L685.3,598.9 L685.8,598.6 L686.4,598.4 L687.0,598.1 L687.5,597.9 L688.1,597.6 L688.6,597.4 L689.2,597.1 L689.8,596.8 L690.3,596.6 L690.9,596.3 L691.4,596.1 L692.0,595.8 L692.5,595.5 L693.1,595.2 L693.7,595.0 L694.2,594.7 L694.8,594.4 L695.3,594.1 L695.9,593.9 L696.4,593.6 L697.0,593.3 L697.6,593.0 L698.1,592.7 L698.7,592.4 L699.2,592.1 L699.8,591.8 L700.3,591.5 L700.9,591.2 L701.5,590.9 L702.0,590.6 L702.6,590.3 L703.1,590.0 L703.7,589.7 L704.2,589.4 L704.8,589.1 L705.4,588.7 L705.9,588.4 L706.5,588.1 L707.0,587.8 L707.6,587.4 L708.1,587.1 L708.7,586.8 L709.3,586.4 L709.8,586.1 L710.4,585.8 L710.9,585.4 L711.5,585.1 L712.1,584.7 L712.6,584.4 L713.2,584.0 L713.7,583.6 L714.3,583.3 L714.8,582.9 L715.4,582.5 L716.0,582.2 L716.5,581.8 L717.1,581.4 L717.6,581.0 L718.2,580.7 L718.7,580.3 L719.3,579.9 L719.9,579.5 L720.4,579.1 L721.0,578.7 L721.5,578.3 L722.1,577.9 L722.6,577.5 L723.2,577.0 L723.8,576.6 L724.3,576.2 L724.9,575.8 L725.4,575.4 L726.0,574.9 L726.5,574.5 L727.1,574.0 L727.7,573.6 L728.2,573.1 L728.8,572.7 L729.3,572.2 L729.9,571.8 L730.4,571.3 L731.0,570.8 L731.6,570.4 L732.1,569.9 L732.7,569.4 L733.2,568.9 L733.8,568.4 L734.4,567.9 L734.9,567.4 L735.5,566.9 L736.0,566.4 L736.6,565.9 L737.1,565.4 L737.7,564.9 L738.3,564.3 L738.8,563.8 L739.4,563.3 L739.9,562.7 L740.5,562.2 L741.0,561.6 L741.6,561.1 L742.2,560.5 L742.7,559.9 L743.3,559.3 L743.8,558.8 L744.4,558.2 L744.9,557.6 L745.5,557.0 L746.1,556.4 L746.6,555.8 L747.2,555.1 L747.7,554.5 L748.3,553.9 L748.8,553.2 L749.4,552.6 L750.0,552.0 L750.5,551.3 L751.1,550.6 L751.6,550.0 L752.2,549.3 L752.7,548.6 L753.3,547.9 L753.9,547.2 L754.4,546.5 L755.0,545.8 L755.5,545.1 L756.1,544.3 L756.6,543.6 L757.2,542.9 L757.8,542.1 L758.3,541.3 L758.9,540.6 L759.4,539.8 L760.0,539.0 L760.6,538.2 L761.1,537.4 L761.7,536.6 L762.2,535.8 L762.8,535.0 L763.3,534.2 L763.9,533.3 L764.5,532.5 L765.0,531.6 L765.6,530.8 L766.1,529.9 L766.7,529.0 L767.2,528.1 L767.8,527.3 L768.4,526.4 L768.9,525.5 L769.5,524.6 L770.0,523.6 L770.6,522.7 L771.1,521.8 L771.7,520.9 L772.3,520.0 L772.8,519.0 L773.4,518.1 L773.9,517.2 L774.5,516.3 L775.0,515.4 L775.6,514.5 L776.2,513.6 L776.7,512.7 L777.3,511.8 L777.8,510.9 L778.4,510.1 L778.9,509.2 L779.5,508.4 L780.1,507.6 L780.6,506.9 L781.2,506.2 L781.7,505.5 L782.3,504.9 L782.9,504.3 L783.4,503.8 L784.0,503.3 L784.5,502.9 L785.1,502.6 L785.6,502.3 L786.2,502.2 L786.8,502.2 L787.3,502.2 L787.9,502.4 L788.4,502.7 L789.0,503.2 L789.5,503.7 L790.1,504.5 L790.7,505.4 L791.2,506.4 L791.8,507.6 L792.3,509.0 L792.9,510.6 L793.4,512.4 L794.0,514.3 L794.6,516.4 L795.1,518.7 L795.7,521.2 L796.2,523.8 L796.8,526.6 L797.3,529.6 L797.9,532.7 L798.5,535.9 L799.0,539.3 L799.6,542.7 L800.1,546.2 L800.7,549.8 L801.2,553.5 L801.8,557.1 L802.4,560.8 L802.9,564.5 L803.5,568.1 L804.0,571.8 L804.6,575.4 L805.1,578.9 L805.7,582.4 L806.3,585.8 L806.8,589.1 L807.4,592.3 L807.9,595.5 L808.5,598.5 L809.1,601.4 L809.6,604.2 L810.2,607.0 L810.7,609.6 L811.3,612.1 L811.8,614.5 L812.4,616.8 L813.0,619.0 L813.5,621.1 L814.1,623.1 L814.6,625.0 L815.2,626.8 L815.7,628.5 L816.3,630.1 L816.9,631.7 L817.4,633.2 L818.0,634.5 L818.5,635.9 L819.1,637.1 L819.6,638.3 L820.2,639.4 L820.8,640.5 L821.3,641.5 L821.9,642.5 L822.4,643.4 L823.0,644.2 L823.5,645.0 L824.1,645.8 L824.7,646.5 L825.2,647.2 L825.8,647.9 L826.3,648.5 L826.9,649.0 L827.4,649.6 L828.0,650.1 L828.6,650.6 L829.1,651.0 L829.7,651.5 L830.2,651.9 L830.8,652.3 L831.4,652.6 L831.9,653.0 L832.5,653.3 L833.0,653.6 L833.6,653.9 L834.1,654.2 L834.7,654.5 L835.3,654.7 L835.8,654.9 L836.4,655.2 L836.9,655.4 L837.5,655.6 L838.0,655.7 L838.6,655.9 L839.2,656.1 L839.7,656.2 L840.3,656.4 L840.8,656.5 L841.4,656.7 L841.9,656.8 L842.5,656.9 L843.1,657.0 L843.6,657.1 L844.2,657.2 L844.7,657.3 L845.3,657.4 L845.8,657.5 L846.4,657.6 L847.0,657.7 L847.5,657.7 L848.1,657.8 L848.6,657.9 L849.2,657.9 L849.7,658.0 L850.3,658.0 L850.9,658.1 L851.4,658.1 L852.0,658.2 L852.5,658.2 L853.1,658.3 L853.6,658.3 L854.2,658.3 L854.8,658.4 L855.3,658.4 L855.9,658.4 L856.4,658.5 L857.0,658.5 L857.6,658.5 L858.1,658.5 L858.7,658.6 L859.2,658.6 L859.8,658.6 L860.3,658.6 L860.9,658.6 L861.5,658.7 L862.0,658.7 L862.6,658.7 L863.1,658.7 L863.7,658.7 L864.2,658.7 L864.8,658.8 L865.4,658.8 L865.9,658.8 L866.5,658.8 L867.0,658.8 L867.6,658.8 L868.1,658.8 L868.7,658.8 L869.3,658.8 L869.8,658.8 L870.4,658.9 L870.9,658.9 L871.5,658.9 L872.0,658.9 L872.6,658.9 L873.2,658.9 L873.7,658.9 L874.3,658.9 L874.8,658.9 L875.4,658.9 L875.9,658.9 L876.5,658.9 L877.1,658.9 L877.6,658.9 L878.2,658.9 L878.7,658.9 L879.3,658.9 L879.9,658.9 L880.4,658.9 L881.0,658.9 L881.5,658.9 L882.1,659.0 L882.6,659.0 L883.2,659.0 L883.8,659.0 L884.3,659.0 L884.9,659.0 L885.4,659.0 L886.0,659.0 L886.5,659.0 L887.1,659.0 L887.7,659.0 L888.2,659.0 L888.8,659.0 L889.3,659.0 L889.7,659.0" stroke="#000000" stroke-linecap="round" stroke-dasharray="7.5 11.6"/>
<path d="M147.9,634.5 L148.4,627.4 L149.0,621.9 L149.6,617.5 L150.1,614.0 L150.7,611.2 L151.2,609.0 L151.8,607.3 L152.3,605.9 L152.9,604.8 L153.5,603.9 L154.0,603.2 L154.6,602.7 L155.1,602.2 L155.7,601.9 L156.2,601.6 L156.8,601.4 L157.4,601.2 L157.9,601.0 L158.5,600.9 L159.0,600.8 L159.6,600.7 L160.2,600.7 L160.7,600.6 L161.3,600.6 L161.8,600.6 L162.4,600.5 L162.9,600.5 L163.5,600.5 L164.1,600.5 L164.6,600.4 L165.2,600.4 L165.7,600.4 L166.3,600.4 L166.8,600.4 L167.4,600.4 L168.0,600.4 L168.5,600.4 L169.1,600.4 L169.6,600.3 L170.2,600.3 L170.7,600.3 L171.3,600.3 L171.9,600.3 L172.4,600.3 L173.0,600.3 L173.5,600.3 L174.1,600.3 L174.6,600.3 L175.2,600.3 L175.8,600.3 L176.3,600.3 L176.9,600.3 L177.4,600.3 L178.0,600.3 L178.5,600.2 L179.1,600.2 L179.7,600.2 L180.2,600.2 L180.8,600.2 L181.3,600.2 L181.9,600.2 L182.5,600.2 L183.0,600.2 L183.6,600.2 L184.1,600.2 L184.7,600.2 L185.2,600.2 L185.8,600.2 L186.4,600.2 L186.9,600.2 L187.5,600.2 L188.0,600.2 L188.6,600.2 L189.1,600.2 L189.7,600.2 L190.3,600.1 L190.8,600.1 L191.4,600.1 L191.9,600.1 L192.5,600.1 L193.0,600.1 L193.6,600.1 L194.2,600.1 L194.7,600.1 L195.3,600.1 L195.8,600.1 L196.4,600.1 L196.9,600.1 L197.5,600.1 L198.1,600.1 L198.6,600.1 L199.2,600.1 L199.7,600.1 L200.3,600.1 L200.8,600.1 L201.4,600.1 L202.0,600.1 L202.5,600.1 L203.1,600.1 L203.6,600.1 L204.2,600.1 L204.7,600.1 L205.3,600.1 L205.9,600.1 L206.4,600.1 L207.0,600.1 L207.5,600.1 L208.1,600.1 L208.7,600.1 L209.2,600.1 L209.8,600.1 L210.3,600.1 L210.9,600.1 L211.4,600.1 L212.0,600.0 L212.6,600.0 L213.1,600.0 L213.7,600.0 L214.2,600.0 L214.8,600.0 L215.3,600.0 L215.9,600.0 L216.5,600.0 L217.0,600.0 L217.6,600.0 L218.1,600.0 L218.7,600.0 L219.2,600.0 L219.8,600.0 L220.4,600.0 L220.9,600.0 L221.5,600.0 L222.0,600.0 L222.6,600.0 L223.1,600.0 L223.7,600.0 L224.3,600.0 L224.8,600.0 L225.4,600.0 L225.9,600.0 L226.5,600.0 L227.0,600.0 L227.6,600.0 L228.2,600.0 L228.7,600.0 L229.3,600.0 L229.8,600.0 L230.4,600.0 L231.0,600.1 L231.5,600.1 L232.1,600.1 L232.6,600.1 L233.2,600.1 L233.7,600.1 L234.3,600.1 L234.9,600.1 L235.4,600.1 L236.0,600.1 L236.5,600.1 L237.1,600.1 L237.6,600.1 L238.2,600.1 L238.8,600.1 L239.3,600.1 L239.9,600.1 L240.4,600.1 L241.0,600.1 L241.5,600.1 L242.1,600.1 L242.7,600.1 L243.2,600.1 L243.8,600.1 L244.3,600.1 L244.9,600.1 L245.4,600.1 L246.0,600.1 L246.6,600.1 L247.1,600.1 L247.7,600.1 L248.2,600.1 L248.8,600.1 L249.3,600.1 L249.9,600.1 L250.5,600.1 L251.0,600.1 L251.6,600.1 L252.1,600.1 L252.7,600.1 L253.2,600.2 L253.8,600.2 L254.4,600.2 L254.9,600.2 L255.5,600.2 L256.0,600.2 L256.6,600.2 L257.2,600.2 L257.7,600.2 L258.3,600.2 L258.8,600.2 L259.4,600.2 L259.9,600.2 L260.5,600.2 L261.1,600.2 L261.6,600.2 L262.2,600.2 L262.7,600.2 L263.3,600.2 L263.8,600.2 L264.4,600.2 L265.0,600.2 L265.5,600.2 L266.1,600.3 L266.6,600.3 L267.2,600.3 L267.7,600.3 L268.3,600.3 L268.9,600.3 L269.4,600.3 L270.0,600.3 L270.5,600.3 L271.1,600.3 L271.6,600.3 L272.2,600.3 L272.8,600.3 L273.3,600.3 L273.9,600.3 L274.4,600.3 L275.0,600.3 L275.5,600.4 L276.1,600.4 L276.7,600.4 L277.2,600.4 L277.8,600.4 L278.3,600.4 L278.9,600.4 L279.5,600.4 L280.0,600.4 L280.6,600.4 L281.1,600.4 L281.7,600.4 L282.2,600.4 L282.8,600.4 L283.4,600.4 L283.9,600.5 L284.5,600.5 L285.0,600.5 L285.6,600.5 L286.1,600.5 L286.7,600.5 L287.3,600.5 L287.8,600.5 L288.4,600.5 L288.9,600.5 L289.5,600.5 L290.0,600.5 L290.6,600.5 L291.2,600.5 L291.7,600.6 L292.3,600.6 L292.8,600.6 L293.4,600.6 L293.9,600.6 L294.5,600.6 L295.1,600.6 L295.6,600.6 L296.2,600.6 L296.7,600.6 L297.3,600.6 L297.8,600.6 L298.4,600.7 L299.0,600.7 L299.5,600.7 L300.1,600.7 L300.6,600.7 L301.2,600.7 L301.7,600.7 L302.3,600.7 L302.9,600.7 L303.4,600.7 L304.0,600.7 L304.5,600.7 L305.1,600.8 L305.7,600.8 L306.2,600.8 L306.8,600.8 L307.3,600.8 L307.9,600.8 L308.4,600.8 L309.0,600.8 L309.6,600.8 L310.1,600.8 L310.7,600.8 L311.2,600.9 L311.8,600.9 L312.3,600.9 L312.9,600.9 L313.5,600.9 L314.0,600.9 L314.6,600.9 L315.1,600.9 L315.7,600.9 L316.2,600.9 L316.8,601.0 L317.4,601.0 L317.9,601.0 L318.5,601.0 L319.0,601.0 L319.6,601.0 L320.1,601.0 L320.7,601.0 L321.3,601.0 L321.8,601.0 L322.4,601.1 L322.9,601.1 L323.5,601.1 L324.0,601.1 L324.6,601.1 L325.2,601.1 L325.7,601.1 L326.3,601.1 L326.8,601.1 L327.4,601.2 L328.0,601.2 L328.5,601.2 L329.1,601.2 L329.6,601.2 L330.2,601.2 L330.7,601.2 L331.3,601.2 L331.9,601.2 L332.4,601.2 L333.0,601.3 L333.5,601.3 L334.1,601.3 L334.6,601.3 L335.2,601.3 L335.8,601.3 L336.3,601.3 L336.9,601.3 L337.4,601.3 L338.0,601.4 L338.5,601.4 L339.1,601.4 L339.7,601.4 L340.2,601.4 L340.8,601.4 L341.3,601.4 L341.9,601.4 L342.4,601.5 L343.0,601.5 L343.6,601.5 L344.1,601.5 L344.7,601.5 L345.2,601.5 L345.8,601.5 L346.3,601.5 L346.9,601.5 L347.5,601.6 L348.0,601.6 L348.6,601.6 L349.1,601.6 L349.7,601.6 L350.3,601.6 L350.8,601.6 L351.4,601.6 L351.9,601.7 L352.5,601.7 L353.0,601.7 L353.6,601.7 L354.2,601.7 L354.7,601.7 L355.3,601.7 L355.8,601.7 L356.4,601.7 L356.9,601.8 L357.5,601.8 L358.1,601.8 L358.6,601.8 L359.2,601.8 L359.7,601.8 L360.3,601.8 L360.8,601.8 L361.4,601.9 L362.0,601.9 L362.5,601.9 L363.1,601.9 L363.6,601.9 L364.2,601.9 L364.7,601.9 L365.3,601.9 L365.9,602.0 L366.4,602.0 L367.0,602.0 L367.5,602.0 L368.1,602.0 L368.6,602.0 L369.2,602.0 L369.8,602.0 L370.3,602.0 L370.9,602.1 L371.4,602.1 L372.0,602.1 L372.5,602.1 L373.1,602.1 L373.7,602.1 L374.2,602.1 L374.8,602.1 L375.3,602.2 L375.9,602.2 L376.5,602.2 L377.0,602.2 L377.6,602.2 L378.1,602.2 L378.7,602.2 L379.2,602.2 L379.8,602.3 L380.4,602.3 L380.9,602.3 L381.5,602.3 L382.0,602.3 L382.6,602.3 L383.1,602.3 L383.7,602.3 L384.3,602.3 L384.8,602.4 L385.4,602.4 L385.9,602.4 L386.5,602.4 L387.0,602.4 L387.6,602.4 L388.2,602.4 L388.7,602.4 L389.3,602.5 L389.8,602.5 L390.4,602.5 L390.9,602.5 L391.5,602.5 L392.1,602.5 L392.6,602.5 L393.2,602.5 L393.7,602.5 L394.3,602.6 L394.8,602.6 L395.4,602.6 L396.0,602.6 L396.5,602.6 L397.1,602.6 L397.6,602.6 L398.2,602.6 L398.8,602.6 L399.3,602.7 L399.9,602.7 L400.4,602.7 L401.0,602.7 L401.5,602.7 L402.1,602.7 L402.7,602.7 L403.2,602.7 L403.8,602.7 L404.3,602.7 L404.9,602.8 L405.4,602.8 L406.0,602.8 L406.6,602.8 L407.1,602.8 L407.7,602.8 L408.2,602.8 L408.8,602.8 L409.3,602.8 L409.9,602.8 L410.5,602.9 L411.0,602.9 L411.6,602.9 L412.1,602.9 L412.7,602.9 L413.2,602.9 L413.8,602.9 L414.4,602.9 L414.9,602.9 L415.5,602.9 L416.0,602.9 L416.6,603.0 L417.1,603.0 L417.7,603.0 L418.3,603.0 L418.8,603.0 L419.4,603.0 L419.9,603.0 L420.5,603.0 L421.0,603.0 L421.6,603.0 L422.2,603.0 L422.7,603.0 L423.3,603.0 L423.8,603.1 L424.4,603.1 L425.0,603.1 L425.5,603.1 L426.1,603.1 L426.6,603.1 L427.2,603.1 L427.7,603.1 L428.3,603.1 L428.9,603.1 L429.4,603.1 L430.0,603.1 L430.5,603.1 L431.1,603.1 L431.6,603.1 L432.2,603.1 L432.8,603.2 L433.3,603.2 L433.9,603.2 L434.4,603.2 L435.0,603.2 L435.5,603.2 L436.1,603.2 L436.7,603.2 L437.2,603.2 L437.8,603.2 L438.3,603.2 L438.9,603.2 L439.4,603.2 L440.0,603.2 L440.6,603.2 L441.1,603.2 L441.7,603.2 L442.2,603.2 L442.8,603.2 L443.3,603.2 L443.9,603.2 L444.5,603.2 L445.0,603.2 L445.6,603.2 L446.1,603.2 L446.7,603.2 L447.3,603.2 L447.8,603.2 L448.4,603.3 L448.9,603.3 L449.5,603.3 L450.0,603.3 L450.6,603.3 L451.2,603.3 L451.7,603.3 L452.3,603.3 L452.8,603.3 L453.4,603.3 L453.9,603.3 L454.5,603.3 L455.1,603.3 L455.6,603.3 L456.2,603.3 L456.7,603.3 L457.3,603.3 L457.8,603.3 L458.4,603.3 L459.0,603.3 L459.5,603.3 L460.1,603.3 L460.6,603.3 L461.2,603.3 L461.7,603.3 L462.3,603.3 L462.9,603.3 L463.4,603.3 L464.0,603.3 L464.5,603.3 L465.1,603.2 L465.6,603.2 L466.2,603.2 L466.8,603.2 L467.3,603.2 L467.9,603.2 L468.4,603.2 L469.0,603.2 L469.5,603.2 L470.1,603.2 L470.7,603.2 L471.2,603.2 L471.8,603.2 L472.3,603.2 L472.9,603.2 L473.5,603.2 L474.0,603.2 L474.6,603.2 L475.1,603.2 L475.7,603.2 L476.2,603.2 L476.8,603.2 L477.4,603.2 L477.9,603.2 L478.5,603.2 L479.0,603.2 L479.6,603.2 L480.1,603.2 L480.7,603.2 L481.3,603.2 L481.8,603.1 L482.4,603.1 L482.9,603.1 L483.5,603.1 L484.0,603.1 L484.6,603.1 L485.2,603.1 L485.7,603.1 L486.3,603.1 L486.8,603.1 L487.4,603.1 L487.9,603.1 L488.5,603.1 L489.1,603.1 L489.6,603.1 L490.2,603.1 L490.7,603.1 L491.3,603.1 L491.8,603.0 L492.4,603.0 L493.0,603.0 L493.5,603.0 L494.1,603.0 L494.6,603.0 L495.2,603.0 L495.8,603.0 L496.3,603.0 L496.9,603.0 L497.4,603.0 L498.0,603.0 L498.5,603.0 L499.1,602.9 L499.7,602.9 L500.2,602.9 L500.8,602.9 L501.3,602.9 L501.9,602.9 L502.4,602.9 L503.0,602.9 L503.6,602.9 L504.1,602.9 L504.7,602.9 L505.2,602.8 L505.8,602.8 L506.3,602.8 L506.9,602.8 L507.5,602.8 L508.0,602.8 L508.6,602.8 L509.1,602.8 L509.7,602.8 L510.2,602.7 L510.8,602.7 L511.4,602.7 L511.9,602.7 L512.5,602.7 L513.0,602.7 L513.6,602.7 L514.1,602.7 L514.7,602.6 L515.3,602.6 L515.8,602.6 L516.4,602.6 L516.9,602.6 L517.5,602.6 L518.0,602.6 L518.6,602.5 L519.2,602.5 L519.7,602.5 L520.3,602.5 L520.8,602.5 L521.4,602.5 L522.0,602.4 L522.5,602.4 L523.1,602.4 L523.6,602.4 L524.2,602.4 L524.7,602.4 L525.3,602.3 L525.9,602.3 L526.4,602.3 L527.0,602.3 L527.5,602.3 L528.1,602.2 L528.6,602.2 L529.2,602.2 L529.8,602.2 L530.3,602.2 L530.9,602.1 L531.4,602.1 L532.0,602.1 L532.5,602.1 L533.1,602.1 L533.7,602.0 L534.2,602.0 L534.8,602.0 L535.3,602.0 L535.9,601.9 L536.4,601.9 L537.0,601.9 L537.6,601.9 L538.1,601.8 L538.7,601.8 L539.2,601.8 L539.8,601.8 L540.3,601.7 L540.9,601.7 L541.5,601.7 L542.0,601.6 L542.6,601.6 L543.1,601.6 L543.7,601.6 L544.3,601.5 L544.8,601.5 L545.4,601.5 L545.9,601.4 L546.5,601.4 L547.0,601.4 L547.6,601.3 L548.2,601.3 L548.7,601.3 L549.3,601.2 L549.8,601.2 L550.4,601.2 L550.9,601.1 L551.5,601.1 L552.1,601.1 L552.6,601.0 L553.2,601.0 L553.7,601.0 L554.3,600.9 L554.8,600.9 L555.4,600.8 L556.0,600.8 L556.5,600.8 L557.1,600.7 L557.6,600.7 L558.2,600.6 L558.7,600.6 L559.3,600.6 L559.9,600.5 L560.4,600.5 L561.0,600.4 L561.5,600.4 L562.1,600.3 L562.6,600.3 L563.2,600.3 L563.8,600.2 L564.3,600.2 L564.9,600.1 L565.4,600.1 L566.0,600.0 L566.6,600.0 L567.1,599.9 L567.7,599.9 L568.2,599.8 L568.8,599.8 L569.3,599.7 L569.9,599.7 L570.5,599.6 L571.0,599.6 L571.6,599.5 L572.1,599.5 L572.7,599.4 L573.2,599.3 L573.8,599.3 L574.4,599.2 L574.9,599.2 L575.5,599.1 L576.0,599.0 L576.6,599.0 L577.1,598.9 L577.7,598.9 L578.3,598.8 L578.8,598.7 L579.4,598.7 L579.9,598.6 L580.5,598.5 L581.0,598.5 L581.6,598.4 L582.2,598.4 L582.7,598.3 L583.3,598.2 L583.8,598.1 L584.4,598.1 L584.9,598.0 L585.5,597.9 L586.1,597.9 L586.6,597.8 L587.2,597.7 L587.7,597.6 L588.3,597.6 L588.8,597.5 L589.4,597.4 L590.0,597.3 L590.5,597.3 L591.1,597.2 L591.6,597.1 L592.2,597.0 L592.8,596.9 L593.3,596.9 L593.9,596.8 L594.4,596.7 L595.0,596.6 L595.5,596.5 L596.1,596.4 L596.7,596.3 L597.2,596.3 L597.8,596.2 L598.3,596.1 L598.9,596.0 L599.4,595.9 L600.0,595.8 L600.6,595.7 L601.1,595.6 L601.7,595.5 L602.2,595.4 L602.8,595.3 L603.3,595.2 L603.9,595.1 L604.5,595.0 L605.0,594.9 L605.6,594.8 L606.1,594.7 L606.7,594.6 L607.2,594.5 L607.8,594.4 L608.4,594.3 L608.9,594.2 L609.5,594.1 L610.0,594.0 L610.6,593.9 L611.1,593.7 L611.7,593.6 L612.3,593.5 L612.8,593.4 L613.4,593.3 L613.9,593.2 L614.5,593.1 L615.1,592.9 L615.6,592.8 L616.2,592.7 L616.7,592.6 L617.3,592.4 L617.8,592.3 L618.4,592.2 L619.0,592.1 L619.5,591.9 L620.1,591.8 L620.6,591.7 L621.2,591.5 L621.7,591.4 L622.3,591.3 L622.9,591.1 L623.4,591.0 L624.0,590.9 L624.5,590.7 L625.1,590.6 L625.6,590.4 L626.2,590.3 L626.8,590.2 L627.3,590.0 L627.9,589.9 L628.4,589.7 L629.0,589.6 L629.5,589.4 L630.1,589.3 L630.7,589.1 L631.2,589.0 L631.8,588.8 L632.3,588.6 L632.9,588.5 L633.4,588.3 L634.0,588.2 L634.6,588.0 L635.1,587.8 L635.7,587.7 L636.2,587.5 L636.8,587.3 L637.3,587.2 L637.9,587.0 L638.5,586.8 L639.0,586.6 L639.6,586.5 L640.1,586.3 L640.7,586.1 L641.3,585.9 L641.8,585.8 L642.4,585.6 L642.9,585.4 L643.5,585.2 L644.0,585.0 L644.6,584.8 L645.2,584.6 L645.7,584.4 L646.3,584.2 L646.8,584.1 L647.4,583.9 L647.9,583.7 L648.5,583.5 L649.1,583.3 L649.6,583.1 L650.2,582.8 L650.7,582.6 L651.3,582.4 L651.8,582.2 L652.4,582.0 L653.0,581.8 L653.5,581.6 L654.1,581.4 L654.6,581.2 L655.2,580.9 L655.7,580.7 L656.3,580.5 L656.9,580.3 L657.4,580.0 L658.0,579.8 L658.5,579.6 L659.1,579.3 L659.6,579.1 L660.2,578.9 L660.8,578.6 L661.3,578.4 L661.9,578.2 L662.4,577.9 L663.0,577.7 L663.6,577.4 L664.1,577.2 L664.7,576.9 L665.2,576.7 L665.8,576.4 L666.3,576.2 L666.9,575.9 L667.5,575.6 L668.0,575.4 L668.6,575.1 L669.1,574.9 L669.7,574.6 L670.2,574.3 L670.8,574.0 L671.4,573.8 L671.9,573.5 L672.5,573.2 L673.0,572.9 L673.6,572.7 L674.1,572.4 L674.7,572.1 L675.3,571.8 L675.8,571.5 L676.4,571.2 L676.9,570.9 L677.5,570.6 L678.0,570.3 L678.6,570.0 L679.2,569.7 L679.7,569.4 L680.3,569.1 L680.8,568.8 L681.4,568.5 L681.9,568.2 L682.5,567.8 L683.1,567.5 L683.6,567.2 L684.2,566.9 L684.7,566.6 L685.3,566.2 L685.8,565.9 L686.4,565.6 L687.0,565.2 L687.5,564.9 L688.1,564.5 L688.6,564.2 L689.2,563.8 L689.8,563.5 L690.3,563.1 L690.9,562.8 L691.4,562.4 L692.0,562.1 L692.5,561.7 L693.1,561.3 L693.7,561.0 L694.2,560.6 L694.8,560.2 L695.3,559.9 L695.9,559.5 L696.4,559.1 L697.0,558.7 L697.6,558.3 L698.1,557.9 L698.7,557.5 L699.2,557.1 L699.8,556.7 L700.3,556.3 L700.9,555.9 L701.5,555.5 L702.0,555.1 L702.6,554.7 L703.1,554.3 L703.7,553.9 L704.2,553.4 L704.8,553.0 L705.4,552.6 L705.9,552.2 L706.5,551.7 L707.0,551.3 L707.6,550.8 L708.1,550.4 L708.7,549.9 L709.3,549.5 L709.8,549.0 L710.4,548.6 L710.9,548.1 L711.5,547.6 L712.1,547.2 L712.6,546.7 L713.2,546.2 L713.7,545.7 L714.3,545.3 L714.8,544.8 L715.4,544.3 L716.0,543.8 L716.5,543.3 L717.1,542.8 L717.6,542.3 L718.2,541.8 L718.7,541.2 L719.3,540.7 L719.9,540.2 L720.4,539.7 L721.0,539.1 L721.5,538.6 L722.1,538.0 L722.6,537.5 L723.2,537.0 L723.8,536.4 L724.3,535.8 L724.9,535.3 L725.4,534.7 L726.0,534.1 L726.5,533.6 L727.1,533.0 L727.7,532.4 L728.2,531.8 L728.8,531.2 L729.3,530.6 L729.9,530.0 L730.4,529.4 L731.0,528.8 L731.6,528.1 L732.1,527.5 L732.7,526.9 L733.2,526.2 L733.8,525.6 L734.4,524.9 L734.9,524.3 L735.5,523.6 L736.0,523.0 L736.6,522.3 L737.1,521.6 L737.7,520.9 L738.3,520.2 L738.8,519.5 L739.4,518.8 L739.9,518.1 L740.5,517.4 L741.0,516.7 L741.6,516.0 L742.2,515.2 L742.7,514.5 L743.3,513.7 L743.8,513.0 L744.4,512.2 L744.9,511.4 L745.5,510.7 L746.1,509.9 L746.6,509.1 L747.2,508.3 L747.7,507.5 L748.3,506.7 L748.8,505.8 L749.4,505.0 L750.0,504.2 L750.5,503.3 L751.1,502.5 L751.6,501.6 L752.2,500.7 L752.7,499.9 L753.3,499.0 L753.9,498.1 L754.4,497.2 L755.0,496.2 L755.5,495.3 L756.1,494.4 L756.6,493.4 L757.2,492.5 L757.8,491.5 L758.3,490.5 L758.9,489.5 L759.4,488.5 L760.0,487.5 L760.6,486.5 L761.1,485.5 L761.7,484.4 L762.2,483.4 L762.8,482.3 L763.3,481.2 L763.9,480.1 L764.5,479.0 L765.0,477.9 L765.6,476.8 L766.1,475.6 L766.7,474.5 L767.2,473.3 L767.8,472.1 L768.4,470.9 L768.9,469.7 L769.5,468.5 L770.0,467.3 L770.6,466.0 L771.1,464.7 L771.7,463.4 L772.3,462.1 L772.8,460.8 L773.4,459.5 L773.9,458.1 L774.5,456.8 L775.0,455.4 L775.6,454.0 L776.2,452.6 L776.7,451.1 L777.3,449.7 L777.8,448.2 L778.4,446.7 L778.9,445.2 L779.5,443.6 L780.1,442.1 L780.6,440.5 L781.2,438.9 L781.7,437.3 L782.3,435.7 L782.9,434.0 L783.4,432.3 L784.0,430.6 L784.5,428.9 L785.1,427.2 L785.6,425.4 L786.2,423.6 L786.8,421.8 L787.3,420.0 L787.9,418.2 L788.4,416.3 L789.0,414.5 L789.5,412.6 L790.1,410.7 L790.7,408.8 L791.2,406.8 L791.8,404.9 L792.3,403.0 L792.9,401.1 L793.4,399.1 L794.0,397.2 L794.6,395.3 L795.1,393.4 L795.7,391.5 L796.2,389.6 L796.8,387.8 L797.3,386.1 L797.9,384.4 L798.5,382.7 L799.0,381.2 L799.6,379.7 L800.1,378.4 L800.7,377.2 L801.2,376.1 L801.8,375.2 L802.4,374.5 L802.9,374.1 L803.5,373.8 L804.0,373.9 L804.6,374.3 L805.1,375.0 L805.7,376.0 L806.3,377.5 L806.8,379.4 L807.4,381.7 L807.9,384.6 L808.5,387.9 L809.1,391.8 L809.6,396.2 L810.2,401.1 L810.7,406.6 L811.3,412.6 L811.8,419.1 L812.4,426.1 L813.0,433.5 L813.5,441.3 L814.1,449.5 L814.6,457.9 L815.2,466.5 L815.7,475.3 L816.3,484.2 L816.9,493.1 L817.4,501.9 L818.0,510.7 L818.5,519.3 L819.1,527.6 L819.6,535.8 L820.2,543.6 L820.8,551.2 L821.3,558.4 L821.9,565.3 L822.4,571.8 L823.0,578.0 L823.5,583.8 L824.1,589.3 L824.7,594.5 L825.2,599.3 L825.8,603.8 L826.3,608.0 L826.9,611.9 L827.4,615.5 L828.0,618.9 L828.6,622.0 L829.1,624.9 L829.7,627.6 L830.2,630.0 L830.8,632.3 L831.4,634.4 L831.9,636.4 L832.5,638.2 L833.0,639.8 L833.6,641.3 L834.1,642.7 L834.7,644.0 L835.3,645.2 L835.8,646.3 L836.4,647.3 L836.9,648.2 L837.5,649.1 L838.0,649.9 L838.6,650.6 L839.2,651.3 L839.7,651.9 L840.3,652.4 L840.8,653.0 L841.4,653.4 L841.9,653.9 L842.5,654.3 L843.1,654.6 L843.6,655.0 L844.2,655.3 L844.7,655.6 L845.3,655.9 L845.8,656.1 L846.4,656.3 L847.0,656.5 L847.5,656.7 L848.1,656.9 L848.6,657.1 L849.2,657.2 L849.7,657.4 L850.3,657.5 L850.9,657.6 L851.4,657.7 L852.0,657.8 L852.5,657.9 L853.1,658.0 L853.6,658.1 L854.2,658.1 L854.8,658.2 L855.3,658.3 L855.9,658.3 L856.4,658.4 L857.0,658.4 L857.6,658.5 L858.1,658.5 L858.7,658.5 L859.2,658.6 L859.8,658.6 L860.3,658.6 L860.9,658.7 L861.5,658.7 L862.0,658.7 L862.6,658.7 L863.1,658.8 L863.7,658.8 L864.2,658.8 L864.8,658.8 L865.4,658.8 L865.9,658.8 L866.5,658.8 L867.0,658.9 L867.6,658.9 L868.1,658.9 L868.7,658.9 L869.3,658.9 L869.8,658.9 L870.4,658.9 L870.9,658.9 L871.5,658.9 L872.0,658.9 L872.6,658.9 L873.2,658.9 L873.7,658.9 L874.3,658.9 L874.8,659.0 L875.4,659.0 L875.9,659.0 L876.5,659.0 L877.1,659.0 L877.6,659.0 L878.2,659.0 L878.7,659.0 L879.3,659.0 L879.9,659.0 L880.4,659.0 L881.0,659.0 L881.5,659.0 L882.1,659.0 L882.6,659.0 L883.2,659.0 L883.8,659.0 L884.3,659.0 L884.9,659.0 L885.4,659.0 L886.0,659.0 L886.5,659.0 L887.1,659.0 L887.7,659.0 L888.2,659.0 L888.8,659.0 L889.3,659.0 L889.7,659.0" stroke="#d70000" stroke-linecap="round" stroke-dasharray="7.5 11.6"/>
<path d="M147.9,611.6 L148.4,603.0 L149.0,596.3 L149.6,591.1 L150.1,587.1 L150.7,584.0 L151.2,581.6 L151.8,579.8 L152.3,578.3 L152.9,577.2 L153.5,576.3 L154.0,575.7 L154.6,575.1 L155.1,574.7 L155.7,574.4 L156.2,574.2 L156.8,574.0 L157.4,573.9 L157.9,573.8 L158.5,573.7 L159.0,573.7 L159.6,573.7 L160.2,573.6 L160.7,573.6 L161.3,573.6 L161.8,573.6 L162.4,573.6 L162.9,573.6 L163.5,573.7 L164.1,573.7 L164.6,573.7 L165.2,573.7 L165.7,573.7 L166.3,573.7 L166.8,573.8 L167.4,573.8 L168.0,573.8 L168.5,573.8 L169.1,573.8 L169.6,573.9 L170.2,573.9 L170.7,573.9 L171.3,573.9 L171.9,573.9 L172.4,574.0 L173.0,574.0 L173.5,574.0 L174.1,574.0 L174.6,574.1 L175.2,574.1 L175.8,574.1 L176.3,574.1 L176.9,574.1 L177.4,574.2 L178.0,574.2 L178.5,574.2 L179.1,574.2 L179.7,574.2 L180.2,574.3 L180.8,574.3 L181.3,574.3 L181.9,574.3 L182.5,574.3 L183.0,574.4 L183.6,574.4 L184.1,574.4 L184.7,574.4 L185.2,574.5 L185.8,574.5 L186.4,574.5 L186.9,574.5 L187.5,574.5 L188.0,574.6 L188.6,574.6 L189.1,574.6 L189.7,574.6 L190.3,574.6 L190.8,574.7 L191.4,574.7 L191.9,574.7 L192.5,574.7 L193.0,574.7 L193.6,574.8 L194.2,574.8 L194.7,574.8 L195.3,574.8 L195.8,574.8 L196.4,574.9 L196.9,574.9 L197.5,574.9 L198.1,574.9 L198.6,574.9 L199.2,575.0 L199.7,575.0 L200.3,575.0 L200.8,575.0 L201.4,575.0 L202.0,575.1 L202.5,575.1 L203.1,575.1 L203.6,575.1 L204.2,575.1 L204.7,575.2 L205.3,575.2 L205.9,575.2 L206.4,575.2 L207.0,575.2 L207.5,575.3 L208.1,575.3 L208.7,575.3 L209.2,575.3 L209.8,575.3 L210.3,575.4 L210.9,575.4 L211.4,575.4 L212.0,575.4 L212.6,575.4 L213.1,575.5 L213.7,575.5 L214.2,575.5 L214.8,575.5 L215.3,575.5 L215.9,575.6 L216.5,575.6 L217.0,575.6 L217.6,575.6 L218.1,575.6 L218.7,575.7 L219.2,575.7 L219.8,575.7 L220.4,575.7 L220.9,575.7 L221.5,575.8 L222.0,575.8 L222.6,575.8 L223.1,575.8 L223.7,575.8 L224.3,575.8 L224.8,575.9 L225.4,575.9 L225.9,575.9 L226.5,575.9 L227.0,575.9 L227.6,576.0 L228.2,576.0 L228.7,576.0 L229.3,576.0 L229.8,576.0 L230.4,576.1 L231.0,576.1 L231.5,576.1 L232.1,576.1 L232.6,576.1 L233.2,576.1 L233.7,576.2 L234.3,576.2 L234.9,576.2 L235.4,576.2 L236.0,576.2 L236.5,576.3 L237.1,576.3 L237.6,576.3 L238.2,576.3 L238.8,576.3 L239.3,576.4 L239.9,576.4 L240.4,576.4 L241.0,576.4 L241.5,576.4 L242.1,576.4 L242.7,576.5 L243.2,576.5 L243.8,576.5 L244.3,576.5 L244.9,576.5 L245.4,576.6 L246.0,576.6 L246.6,576.6 L247.1,576.6 L247.7,576.6 L248.2,576.6 L248.8,576.7 L249.3,576.7 L249.9,576.7 L250.5,576.7 L251.0,576.7 L251.6,576.8 L252.1,576.8 L252.7,576.8 L253.2,576.8 L253.8,576.8 L254.4,576.8 L254.9,576.9 L255.5,576.9 L256.0,576.9 L256.6,576.9 L257.2,576.9 L257.7,576.9 L258.3,577.0 L258.8,577.0 L259.4,577.0 L259.9,577.0 L260.5,577.0 L261.1,577.1 L261.6,577.1 L262.2,577.1 L262.7,577.1 L263.3,577.1 L263.8,577.1 L264.4,577.2 L265.0,577.2 L265.5,577.2 L266.1,577.2 L266.6,577.2 L267.2,577.2 L267.7,577.3 L268.3,577.3 L268.9,577.3 L269.4,577.3 L270.0,577.3 L270.5,577.4 L271.1,577.4 L271.6,577.4 L272.2,577.4 L272.8,577.4 L273.3,577.4 L273.9,577.5 L274.4,577.5 L275.0,577.5 L275.5,577.5 L276.1,577.5 L276.7,577.5 L277.2,577.6 L277.8,577.6 L278.3,577.6 L278.9,577.6 L279.5,577.6 L280.0,577.6 L280.6,577.7 L281.1,577.7 L281.7,577.7 L282.2,577.7 L282.8,577.7 L283.4,577.7 L283.9,577.8 L284.5,577.8 L285.0,577.8 L285.6,577.8 L286.1,577.8 L286.7,577.8 L287.3,577.9 L287.8,577.9 L288.4,577.9 L288.9,577.9 L289.5,577.9 L290.0,577.9 L290.6,578.0 L291.2,578.0 L291.7,578.0 L292.3,578.0 L292.8,578.0 L293.4,578.0 L293.9,578.0 L294.5,578.1 L295.1,578.1 L295.6,578.1 L296.2,578.1 L296.7,578.1 L297.3,578.1 L297.8,578.2 L298.4,578.2 L299.0,578.2 L299.5,578.2 L300.1,578.2 L300.6,578.2 L301.2,578.3 L301.7,578.3 L302.3,578.3 L302.9,578.3 L303.4,578.3 L304.0,578.3 L304.5,578.4 L305.1,578.4 L305.7,578.4 L306.2,578.4 L306.8,578.4 L307.3,578.4 L307.9,578.4 L308.4,578.5 L309.0,578.5 L309.6,578.5 L310.1,578.5 L310.7,578.5 L311.2,578.5 L311.8,578.6 L312.3,578.6 L312.9,578.6 L313.5,578.6 L314.0,578.6 L314.6,578.6 L315.1,578.6 L315.7,578.7 L316.2,578.7 L316.8,578.7 L317.4,578.7 L317.9,578.7 L318.5,578.7 L319.0,578.7 L319.6,578.8 L320.1,578.8 L320.7,578.8 L321.3,578.8 L321.8,578.8 L322.4,578.8 L322.9,578.9 L323.5,578.9 L324.0,578.9 L324.6,578.9 L325.2,578.9 L325.7,578.9 L326.3,578.9 L326.8,579.0 L327.4,579.0 L328.0,579.0 L328.5,579.0 L329.1,579.0 L329.6,579.0 L330.2,579.0 L330.7,579.1 L331.3,579.1 L331.9,579.1 L332.4,579.1 L333.0,579.1 L333.5,579.1 L334.1,579.1 L334.6,579.2 L335.2,579.2 L335.8,579.2 L336.3,579.2 L336.9,579.2 L337.4,579.2 L338.0,579.2 L338.5,579.3 L339.1,579.3 L339.7,579.3 L340.2,579.3 L340.8,579.3 L341.3,579.3 L341.9,579.3 L342.4,579.3 L343.0,579.4 L343.6,579.4 L344.1,579.4 L344.7,579.4 L345.2,579.4 L345.8,579.4 L346.3,579.4 L346.9,579.5 L347.5,579.5 L348.0,579.5 L348.6,579.5 L349.1,579.5 L349.7,579.5 L350.3,579.5 L350.8,579.5 L351.4,579.6 L351.9,579.6 L352.5,579.6 L353.0,579.6 L353.6,579.6 L354.2,579.6 L354.7,579.6 L355.3,579.6 L355.8,579.7 L356.4,579.7 L356.9,579.7 L357.5,579.7 L358.1,579.7 L358.6,579.7 L359.2,579.7 L359.7,579.8 L360.3,579.8 L360.8,579.8 L361.4,579.8 L362.0,579.8 L362.5,579.8 L363.1,579.8 L363.6,579.8 L364.2,579.8 L364.7,579.9 L365.3,579.9 L365.9,579.9 L366.4,579.9 L367.0,579.9 L367.5,579.9 L368.1,579.9 L368.6,579.9 L369.2,580.0 L369.8,580.0 L370.3,580.0 L370.9,580.0 L371.4,580.0 L372.0,580.0 L372.5,580.0 L373.1,580.0 L373.7,580.0 L374.2,580.1 L374.8,580.1 L375.3,580.1 L375.9,580.1 L376.5,580.1 L377.0,580.1 L377.6,580.1 L378.1,580.1 L378.7,580.1 L379.2,580.2 L379.8,580.2 L380.4,580.2 L380.9,580.2 L381.5,580.2 L382.0,580.2 L382.6,580.2 L383.1,580.2 L383.7,580.2 L384.3,580.2 L384.8,580.3 L385.4,580.3 L385.9,580.3 L386.5,580.3 L387.0,580.3 L387.6,580.3 L388.2,580.3 L388.7,580.3 L389.3,580.3 L389.8,580.3 L390.4,580.4 L390.9,580.4 L391.5,580.4 L392.1,580.4 L392.6,580.4 L393.2,580.4 L393.7,580.4 L394.3,580.4 L394.8,580.4 L395.4,580.4 L396.0,580.4 L396.5,580.4 L397.1,580.5 L397.6,580.5 L398.2,580.5 L398.8,580.5 L399.3,580.5 L399.9,580.5 L400.4,580.5 L401.0,580.5 L401.5,580.5 L402.1,580.5 L402.7,580.5 L403.2,580.5 L403.8,580.5 L404.3,580.6 L404.9,580.6 L405.4,580.6 L406.0,580.6 L406.6,580.6 L407.1,580.6 L407.7,580.6 L408.2,580.6 L408.8,580.6 L409.3,580.6 L409.9,580.6 L410.5,580.6 L411.0,580.6 L411.6,580.6 L412.1,580.6 L412.7,580.7 L413.2,580.7 L413.8,580.7 L414.4,580.7 L414.9,580.7 L415.5,580.7 L416.0,580.7 L416.6,580.7 L417.1,580.7 L417.7,580.7 L418.3,580.7 L418.8,580.7 L419.4,580.7 L419.9,580.7 L420.5,580.7 L421.0,580.7 L421.6,580.7 L422.2,580.7 L422.7,580.7 L423.3,580.7 L423.8,580.7 L424.4,580.7 L425.0,580.7 L425.5,580.7 L426.1,580.8 L426.6,580.8 L427.2,580.8 L427.7,580.8 L428.3,580.8 L428.9,580.8 L429.4,580.8 L430.0,580.8 L430.5,580.8 L431.1,580.8 L431.6,580.8 L432.2,580.8 L432.8,580.8 L433.3,580.8 L433.9,580.8 L434.4,580.8 L435.0,580.8 L435.5,580.8 L436.1,580.8 L436.7,580.8 L437.2,580.8 L437.8,580.8 L438.3,580.8 L438.9,580.8 L439.4,580.8 L440.0,580.8 L440.6,580.8 L441.1,580.8 L441.7,580.8 L442.2,580.8 L442.8,580.8 L443.3,580.8 L443.9,580.8 L444.5,580.8 L445.0,580.8 L445.6,580.8 L446.1,580.8 L446.7,580.8 L447.3,580.8 L447.8,580.8 L448.4,580.8 L448.9,580.8 L449.5,580.8 L450.0,580.8 L450.6,580.8 L451.2,580.8 L451.7,580.7 L452.3,580.7 L452.8,580.7 L453.4,580.7 L453.9,580.7 L454.5,580.7 L455.1,580.7 L455.6,580.7 L456.2,580.7 L456.7,580.7 L457.3,580.7 L457.8,580.7 L458.4,580.7 L459.0,580.7 L459.5,580.7 L460.1,580.7 L460.6,580.7 L461.2,580.7 L461.7,580.7 L462.3,580.7 L462.9,580.7 L463.4,580.7 L464.0,580.7 L464.5,580.7 L465.1,580.7 L465.6,580.6 L466.2,580.6 L466.8,580.6 L467.3,580.6 L467.9,580.6 L468.4,580.6 L469.0,580.6 L469.5,580.6 L470.1,580.6 L470.7,580.6 L471.2,580.6 L471.8,580.6 L472.3,580.6 L472.9,580.6 L473.5,580.6 L474.0,580.6 L474.6,580.6 L475.1,580.5 L475.7,580.5 L476.2,580.5 L476.8,580.5 L477.4,580.5 L477.9,580.5 L478.5,580.5 L479.0,580.5 L479.6,580.5 L480.1,580.5 L480.7,580.5 L481.3,580.5 L481.8,580.5 L482.4,580.5 L482.9,580.4 L483.5,580.4 L484.0,580.4 L484.6,580.4 L485.2,580.4 L485.7,580.4 L486.3,580.4 L486.8,580.4 L487.4,580.4 L487.9,580.4 L488.5,580.4 L489.1,580.4 L489.6,580.4 L490.2,580.3 L490.7,580.3 L491.3,580.3 L491.8,580.3 L492.4,580.3 L493.0,580.3 L493.5,580.3 L494.1,580.3 L494.6,580.3 L495.2,580.3 L495.8,580.3 L496.3,580.3 L496.9,580.2 L497.4,580.2 L498.0,580.2 L498.5,580.2 L499.1,580.2 L499.7,580.2 L500.2,580.2 L500.8,580.2 L501.3,580.2 L501.9,580.2 L502.4,580.1 L503.0,580.1 L503.6,580.1 L504.1,580.1 L504.7,580.1 L505.2,580.1 L505.8,580.1 L506.3,580.1 L506.9,580.1 L507.5,580.1 L508.0,580.0 L508.6,580.0 L509.1,580.0 L509.7,580.0 L510.2,580.0 L510.8,580.0 L511.4,580.0 L511.9,580.0 L512.5,580.0 L513.0,579.9 L513.6,579.9 L514.1,579.9 L514.7,579.9 L515.3,579.9 L515.8,579.9 L516.4,579.9 L516.9,579.9 L517.5,579.8 L518.0,579.8 L518.6,579.8 L519.2,579.8 L519.7,579.8 L520.3,579.8 L520.8,579.8 L521.4,579.7 L522.0,579.7 L522.5,579.7 L523.1,579.7 L523.6,579.7 L524.2,579.7 L524.7,579.7 L525.3,579.6 L525.9,579.6 L526.4,579.6 L527.0,579.6 L527.5,579.6 L528.1,579.6 L528.6,579.5 L529.2,579.5 L529.8,579.5 L530.3,579.5 L530.9,579.5 L531.4,579.5 L532.0,579.4 L532.5,579.4 L533.1,579.4 L533.7,579.4 L534.2,579.4 L534.8,579.3 L535.3,579.3 L535.9,579.3 L536.4,579.3 L537.0,579.3 L537.6,579.2 L538.1,579.2 L538.7,579.2 L539.2,579.2 L539.8,579.2 L540.3,579.1 L540.9,579.1 L541.5,579.1 L542.0,579.1 L542.6,579.0 L543.1,579.0 L543.7,579.0 L544.3,579.0 L544.8,579.0 L545.4,578.9 L545.9,578.9 L546.5,578.9 L547.0,578.9 L547.6,578.8 L548.2,578.8 L548.7,578.8 L549.3,578.7 L549.8,578.7 L550.4,578.7 L550.9,578.7 L551.5,578.6 L552.1,578.6 L552.6,578.6 L553.2,578.6 L553.7,578.5 L554.3,578.5 L554.8,578.5 L555.4,578.4 L556.0,578.4 L556.5,578.4 L557.1,578.3 L557.6,578.3 L558.2,578.3 L558.7,578.2 L559.3,578.2 L559.9,578.2 L560.4,578.1 L561.0,578.1 L561.5,578.1 L562.1,578.0 L562.6,578.0 L563.2,578.0 L563.8,577.9 L564.3,577.9 L564.9,577.9 L565.4,577.8 L566.0,577.8 L566.6,577.7 L567.1,577.7 L567.7,577.7 L568.2,577.6 L568.8,577.6 L569.3,577.5 L569.9,577.5 L570.5,577.5 L571.0,577.4 L571.6,577.4 L572.1,577.3 L572.7,577.3 L573.2,577.2 L573.8,577.2 L574.4,577.1 L574.9,577.1 L575.5,577.1 L576.0,577.0 L576.6,577.0 L577.1,576.9 L577.7,576.9 L578.3,576.8 L578.8,576.8 L579.4,576.7 L579.9,576.7 L580.5,576.6 L581.0,576.6 L581.6,576.5 L582.2,576.4 L582.7,576.4 L583.3,576.3 L583.8,576.3 L584.4,576.2 L584.9,576.2 L585.5,576.1 L586.1,576.1 L586.6,576.0 L587.2,575.9 L587.7,575.9 L588.3,575.8 L588.8,575.7 L589.4,575.7 L590.0,575.6 L590.5,575.6 L591.1,575.5 L591.6,575.4 L592.2,575.4 L592.8,575.3 L593.3,575.2 L593.9,575.2 L594.4,575.1 L595.0,575.0 L595.5,575.0 L596.1,574.9 L596.7,574.8 L597.2,574.7 L597.8,574.7 L598.3,574.6 L598.9,574.5 L599.4,574.4 L600.0,574.4 L600.6,574.3 L601.1,574.2 L601.7,574.1 L602.2,574.0 L602.8,574.0 L603.3,573.9 L603.9,573.8 L604.5,573.7 L605.0,573.6 L605.6,573.5 L606.1,573.5 L606.7,573.4 L607.2,573.3 L607.8,573.2 L608.4,573.1 L608.9,573.0 L609.5,572.9 L610.0,572.8 L610.6,572.7 L611.1,572.6 L611.7,572.5 L612.3,572.4 L612.8,572.3 L613.4,572.2 L613.9,572.1 L614.5,572.0 L615.1,571.9 L615.6,571.8 L616.2,571.7 L616.7,571.6 L617.3,571.5 L617.8,571.4 L618.4,571.3 L619.0,571.2 L619.5,571.1 L620.1,571.0 L620.6,570.9 L621.2,570.7 L621.7,570.6 L622.3,570.5 L622.9,570.4 L623.4,570.3 L624.0,570.2 L624.5,570.0 L625.1,569.9 L625.6,569.8 L626.2,569.7 L626.8,569.5 L627.3,569.4 L627.9,569.3 L628.4,569.1 L629.0,569.0 L629.5,568.9 L630.1,568.7 L630.7,568.6 L631.2,568.5 L631.8,568.3 L632.3,568.2 L632.9,568.0 L633.4,567.9 L634.0,567.8 L634.6,567.6 L635.1,567.5 L635.7,567.3 L636.2,567.2 L636.8,567.0 L637.3,566.9 L637.9,566.7 L638.5,566.5 L639.0,566.4 L639.6,566.2 L640.1,566.1 L640.7,565.9 L641.3,565.7 L641.8,565.6 L642.4,565.4 L642.9,565.2 L643.5,565.1 L644.0,564.9 L644.6,564.7 L645.2,564.5 L645.7,564.4 L646.3,564.2 L646.8,564.0 L647.4,563.8 L647.9,563.6 L648.5,563.4 L649.1,563.3 L649.6,563.1 L650.2,562.9 L650.7,562.7 L651.3,562.5 L651.8,562.3 L652.4,562.1 L653.0,561.9 L653.5,561.7 L654.1,561.5 L654.6,561.3 L655.2,561.1 L655.7,560.9 L656.3,560.6 L656.9,560.4 L657.4,560.2 L658.0,560.0 L658.5,559.8 L659.1,559.5 L659.6,559.3 L660.2,559.1 L660.8,558.9 L661.3,558.6 L661.9,558.4 L662.4,558.2 L663.0,557.9 L663.6,557.7 L664.1,557.4 L664.7,557.2 L665.2,556.9 L665.8,556.7 L666.3,556.4 L666.9,556.2 L667.5,555.9 L668.0,555.7 L668.6,555.4 L669.1,555.1 L669.7,554.9 L670.2,554.6 L670.8,554.3 L671.4,554.1 L671.9,553.8 L672.5,553.5 L673.0,553.2 L673.6,552.9 L674.1,552.7 L674.7,552.4 L675.3,552.1 L675.8,551.8 L676.4,551.5 L676.9,551.2 L677.5,550.9 L678.0,550.6 L678.6,550.3 L679.2,550.0 L679.7,549.6 L680.3,549.3 L680.8,549.0 L681.4,548.7 L681.9,548.4 L682.5,548.0 L683.1,547.7 L683.6,547.4 L684.2,547.0 L684.7,546.7 L685.3,546.3 L685.8,546.0 L686.4,545.6 L687.0,545.3 L687.5,544.9 L688.1,544.6 L688.6,544.2 L689.2,543.8 L689.8,543.5 L690.3,543.1 L690.9,542.7 L691.4,542.3 L692.0,541.9 L692.5,541.6 L693.1,541.2 L693.7,540.8 L694.2,540.4 L694.8,540.0 L695.3,539.6 L695.9,539.2 L696.4,538.7 L697.0,538.3 L697.6,537.9 L698.1,537.5 L698.7,537.0 L699.2,536.6 L699.8,536.2 L700.3,535.7 L700.9,535.3 L701.5,534.8 L702.0,534.4 L702.6,533.9 L703.1,533.5 L703.7,533.0 L704.2,532.5 L704.8,532.1 L705.4,531.6 L705.9,531.1 L706.5,530.6 L707.0,530.1 L707.6,529.6 L708.1,529.1 L708.7,528.6 L709.3,528.1 L709.8,527.6 L710.4,527.1 L710.9,526.5 L711.5,526.0 L712.1,525.5 L712.6,524.9 L713.2,524.4 L713.7,523.8 L714.3,523.3 L714.8,522.7 L715.4,522.1 L716.0,521.6 L716.5,521.0 L717.1,520.4 L717.6,519.8 L718.2,519.2 L718.7,518.6 L719.3,518.0 L719.9,517.4 L720.4,516.8 L721.0,516.2 L721.5,515.5 L722.1,514.9 L722.6,514.3 L723.2,513.6 L723.8,513.0 L724.3,512.3 L724.9,511.6 L725.4,511.0 L726.0,510.3 L726.5,509.6 L727.1,508.9 L727.7,508.2 L728.2,507.5 L728.8,506.8 L729.3,506.1 L729.9,505.4 L730.4,504.6 L731.0,503.9 L731.6,503.2 L732.1,502.4 L732.7,501.6 L733.2,500.9 L733.8,500.1 L734.4,499.3 L734.9,498.5 L735.5,497.7 L736.0,496.9 L736.6,496.1 L737.1,495.3 L737.7,494.5 L738.3,493.6 L738.8,492.8 L739.4,491.9 L739.9,491.1 L740.5,490.2 L741.0,489.3 L741.6,488.5 L742.2,487.6 L742.7,486.7 L743.3,485.7 L743.8,484.8 L744.4,483.9 L744.9,483.0 L745.5,482.0 L746.1,481.1 L746.6,480.1 L747.2,479.1 L747.7,478.1 L748.3,477.1 L748.8,476.1 L749.4,475.1 L750.0,474.1 L750.5,473.1 L751.1,472.0 L751.6,471.0 L752.2,469.9 L752.7,468.8 L753.3,467.8 L753.9,466.7 L754.4,465.6 L755.0,464.4 L755.5,463.3 L756.1,462.2 L756.6,461.0 L757.2,459.9 L757.8,458.7 L758.3,457.5 L758.9,456.3 L759.4,455.1 L760.0,453.9 L760.6,452.7 L761.1,451.4 L761.7,450.2 L762.2,448.9 L762.8,447.6 L763.3,446.3 L763.9,445.0 L764.5,443.7 L765.0,442.4 L765.6,441.0 L766.1,439.7 L766.7,438.3 L767.2,436.9 L767.8,435.5 L768.4,434.1 L768.9,432.7 L769.5,431.2 L770.0,429.8 L770.6,428.3 L771.1,426.8 L771.7,425.3 L772.3,423.8 L772.8,422.2 L773.4,420.7 L773.9,419.1 L774.5,417.5 L775.0,415.9 L775.6,414.3 L776.2,412.7 L776.7,411.0 L777.3,409.4 L777.8,407.7 L778.4,406.0 L778.9,404.2 L779.5,402.5 L780.1,400.7 L780.6,398.9 L781.2,397.1 L781.7,395.3 L782.3,393.5 L782.9,391.6 L783.4,389.7 L784.0,387.8 L784.5,385.9 L785.1,383.9 L785.6,381.9 L786.2,379.9 L786.8,377.9 L787.3,375.9 L787.9,373.8 L788.4,371.7 L789.0,369.6 L789.5,367.4 L790.1,365.2 L790.7,363.0 L791.2,360.8 L791.8,358.5 L792.3,356.2 L792.9,353.9 L793.4,351.6 L794.0,349.2 L794.6,346.8 L795.1,344.3 L795.7,341.9 L796.2,339.4 L796.8,336.8 L797.3,334.3 L797.9,331.7 L798.5,329.1 L799.0,326.5 L799.6,323.9 L800.1,321.2 L800.7,318.6 L801.2,315.9 L801.8,313.2 L802.4,310.6 L802.9,307.9 L803.5,305.3 L804.0,302.7 L804.6,300.2 L805.1,297.7 L805.7,295.4 L806.3,293.1 L806.8,291.0 L807.4,289.0 L807.9,287.2 L808.5,285.7 L809.1,284.4 L809.6,283.5 L810.2,282.9 L810.7,282.7 L811.3,283.0 L811.8,283.8 L812.4,285.1 L813.0,287.2 L813.5,289.9 L814.1,293.4 L814.6,297.7 L815.2,302.8 L815.7,308.8 L816.3,315.7 L816.9,323.5 L817.4,332.2 L818.0,341.7 L818.5,352.0 L819.1,363.0 L819.6,374.7 L820.2,386.8 L820.8,399.3 L821.3,412.1 L821.9,425.0 L822.4,438.0 L823.0,450.8 L823.5,463.5 L824.1,475.8 L824.7,487.8 L825.2,499.3 L825.8,510.3 L826.3,520.8 L826.9,530.7 L827.4,540.1 L828.0,548.8 L828.6,557.0 L829.1,564.7 L829.7,571.8 L830.2,578.3 L830.8,584.4 L831.4,590.1 L831.9,595.2 L832.5,600.0 L833.0,604.4 L833.6,608.5 L834.1,612.2 L834.7,615.6 L835.3,618.8 L835.8,621.7 L836.4,624.4 L836.9,626.8 L837.5,629.1 L838.0,631.1 L838.6,633.1 L839.2,634.8 L839.7,636.5 L840.3,638.0 L840.8,639.3 L841.4,640.6 L841.9,641.8 L842.5,642.9 L843.1,643.9 L843.6,644.9 L844.2,645.8 L844.7,646.6 L845.3,647.3 L845.8,648.1 L846.4,648.7 L847.0,649.3 L847.5,649.9 L848.1,650.4 L848.6,650.9 L849.2,651.4 L849.7,651.8 L850.3,652.2 L850.9,652.6 L851.4,653.0 L852.0,653.3 L852.5,653.6 L853.1,653.9 L853.6,654.2 L854.2,654.5 L854.8,654.7 L855.3,655.0 L855.9,655.2 L856.4,655.4 L857.0,655.6 L857.6,655.8 L858.1,655.9 L858.7,656.1 L859.2,656.3 L859.8,656.4 L860.3,656.5 L860.9,656.7 L861.5,656.8 L862.0,656.9 L862.6,657.0 L863.1,657.1 L863.7,657.2 L864.2,657.3 L864.8,657.4 L865.4,657.5 L865.9,657.6 L866.5,657.6 L867.0,657.7 L867.6,657.8 L868.1,657.8 L868.7,657.9 L869.3,658.0 L869.8,658.0 L870.4,658.1 L870.9,658.1 L871.5,658.2 L872.0,658.2 L872.6,658.2 L873.2,658.3 L873.7,658.3 L874.3,658.4 L874.8,658.4 L875.4,658.4 L875.9,658.4 L876.5,658.5 L877.1,658.5 L877.6,658.5 L878.2,658.6 L878.7,658.6 L879.3,658.6 L879.9,658.6 L880.4,658.6 L881.0,658.7 L881.5,658.7 L882.1,658.7 L882.6,658.7 L883.2,658.7 L883.8,658.7 L884.3,658.7 L884.9,658.8 L885.4,658.8 L886.0,658.8 L886.5,658.8 L887.1,658.8 L887.7,658.8 L888.2,658.8 L888.8,658.8 L889.3,658.8 L889.7,658.8" stroke="#0000f2" stroke-linecap="round" stroke-dasharray="7.5 11.6"/>
</g>
<g clip-path="url(#cB)" fill="none" stroke-width="3.8" stroke-linejoin="round" stroke-linecap="round">
<path d="M146.8,1264.0 L147.1,1264.3 L147.5,1264.6 L147.9,1264.9 L148.3,1265.1 L148.6,1265.3 L149.0,1265.5 L149.4,1265.7 L149.7,1265.9 L150.1,1266.0 L150.5,1266.1 L150.9,1266.2 L151.2,1266.3 L151.6,1266.4 L152.0,1266.5 L152.3,1266.6 L152.7,1266.7 L153.1,1266.7 L153.5,1266.8 L153.8,1266.9 L154.2,1266.9 L154.6,1267.0 L154.9,1267.0 L155.3,1267.0 L155.7,1267.1 L156.1,1267.1 L156.4,1267.1 L156.8,1267.2 L157.2,1267.2 L157.5,1267.2 L157.9,1267.2 L158.3,1267.3 L158.7,1267.3 L159.0,1267.3 L159.4,1267.3 L159.8,1267.3 L160.2,1267.4 L160.5,1267.4 L160.9,1267.4 L161.3,1267.4 L161.6,1267.4 L162.0,1267.4 L162.4,1267.4 L162.8,1267.5 L163.1,1267.5 L163.5,1267.5 L163.9,1267.5 L164.2,1267.5 L164.6,1267.5 L165.0,1267.5 L165.4,1267.5 L165.7,1267.5 L166.1,1267.5 L166.5,1267.6 L166.8,1267.6 L167.2,1267.6 L167.6,1267.6 L168.0,1267.6 L168.3,1267.6 L168.7,1267.6 L169.1,1267.6 L169.4,1267.6 L169.8,1267.6 L170.2,1267.6 L170.6,1267.6 L170.9,1267.6 L171.3,1267.7 L171.7,1267.7 L172.0,1267.7 L172.4,1267.7 L172.8,1267.7 L173.2,1267.7 L173.5,1267.7 L173.9,1267.7 L174.3,1267.7 L174.6,1267.7 L175.0,1267.7 L175.4,1267.7 L175.8,1267.7 L176.1,1267.7 L176.5,1267.7 L176.9,1267.7 L177.2,1267.7 L177.6,1267.8 L178.0,1267.8 L178.4,1267.8 L178.7,1267.8 L179.1,1267.8 L179.5,1267.8 L179.8,1267.8 L180.2,1267.8 L180.6,1267.8 L181.0,1267.8 L181.3,1267.8 L181.7,1267.8 L182.1,1267.8 L182.5,1267.8 L182.8,1267.8 L183.2,1267.8 L183.6,1267.8 L183.9,1267.8 L184.3,1267.8 L184.7,1267.8 L185.1,1267.8 L185.4,1267.8 L185.8,1267.8 L186.2,1267.8 L186.5,1267.8 L186.9,1267.8 L187.3,1267.8 L187.7,1267.8 L188.0,1267.9 L188.4,1267.9 L188.8,1267.9 L189.1,1267.9 L189.5,1267.9 L189.9,1267.9 L190.3,1267.9 L190.6,1267.9 L191.0,1267.9 L191.4,1267.9 L191.7,1267.9 L192.1,1267.9 L192.5,1267.9 L192.9,1267.9 L193.2,1267.9 L193.6,1267.9 L194.0,1267.9 L194.3,1267.9 L194.7,1267.9 L195.1,1267.9 L195.5,1267.9 L195.8,1267.9 L196.2,1267.9 L196.6,1267.9 L196.9,1267.9 L197.3,1267.9 L197.7,1267.9 L198.1,1267.9 L198.4,1267.9 L198.8,1267.9 L199.2,1267.9 L199.5,1267.9 L199.9,1267.9 L200.3,1267.9 L200.7,1267.9 L201.0,1267.9 L201.4,1267.9 L201.8,1267.9 L202.1,1267.9 L202.5,1267.9 L202.9,1267.9 L203.3,1267.9 L203.6,1267.9 L204.0,1267.9 L204.4,1267.9 L204.7,1267.9 L205.1,1267.9 L205.5,1267.9 L205.9,1267.9 L206.2,1267.9 L206.6,1267.9 L207.0,1267.9 L207.4,1267.9 L207.7,1267.9 L208.1,1267.9 L208.5,1267.9 L208.8,1267.9 L209.2,1267.9 L209.6,1267.9 L210.0,1267.9 L210.3,1267.9 L210.7,1267.9 L211.1,1267.9 L211.4,1267.9 L211.8,1267.9 L212.2,1267.9 L212.6,1267.8 L212.9,1267.8 L213.3,1267.8 L213.7,1267.8 L214.0,1267.8 L214.4,1267.8 L214.8,1267.8 L215.2,1267.8 L215.5,1267.8 L215.9,1267.8 L216.3,1267.8 L216.6,1267.8 L217.0,1267.8 L217.4,1267.8 L217.8,1267.8 L218.1,1267.8 L218.5,1267.8 L218.9,1267.8 L219.2,1267.8 L219.6,1267.8 L220.0,1267.8 L220.4,1267.8 L220.7,1267.8 L221.1,1267.8 L221.5,1267.8 L221.8,1267.8 L222.2,1267.8 L222.6,1267.8 L223.0,1267.8 L223.3,1267.8 L223.7,1267.8 L224.1,1267.8 L224.4,1267.8 L224.8,1267.8 L225.2,1267.8 L225.6,1267.7 L225.9,1267.7 L226.3,1267.7 L226.7,1267.7 L227.0,1267.7 L227.4,1267.7 L227.8,1267.7 L228.2,1267.7 L228.5,1267.7 L228.9,1267.7 L229.3,1267.7 L229.6,1267.7 L230.0,1267.7 L230.4,1267.7 L230.8,1267.7 L231.1,1267.7 L231.5,1267.7 L231.9,1267.7 L232.3,1267.7 L232.6,1267.7 L233.0,1267.7 L233.4,1267.7 L233.7,1267.7 L234.1,1267.7 L234.5,1267.7 L234.9,1267.6 L235.2,1267.6 L235.6,1267.6 L236.0,1267.6 L236.3,1267.6 L236.7,1267.6 L237.1,1267.6 L237.5,1267.6 L237.8,1267.6 L238.2,1267.6 L238.6,1267.6 L238.9,1267.6 L239.3,1267.6 L239.7,1267.6 L240.1,1267.6 L240.4,1267.6 L240.8,1267.6 L241.2,1267.6 L241.5,1267.6 L241.9,1267.6 L242.3,1267.6 L242.7,1267.5 L243.0,1267.5 L243.4,1267.5 L243.8,1267.5 L244.1,1267.5 L244.5,1267.5 L244.9,1267.5 L245.3,1267.5 L245.6,1267.5 L246.0,1267.5 L246.4,1267.5 L246.7,1267.5 L247.1,1267.5 L247.5,1267.5 L247.9,1267.5 L248.2,1267.5 L248.6,1267.5 L249.0,1267.5 L249.3,1267.5 L249.7,1267.5 L250.1,1267.4 L250.5,1267.4 L250.8,1267.4 L251.2,1267.4 L251.6,1267.4 L251.9,1267.4 L252.3,1267.4 L252.7,1267.4 L253.1,1267.4 L253.4,1267.4 L253.8,1267.4 L254.2,1267.4 L254.6,1267.4 L254.9,1267.4 L255.3,1267.4 L255.7,1267.4 L256.0,1267.4 L256.4,1267.4 L256.8,1267.3 L257.2,1267.3 L257.5,1267.3 L257.9,1267.3 L258.3,1267.3 L258.6,1267.3 L259.0,1267.3 L259.4,1267.3 L259.8,1267.3 L260.1,1267.3 L260.5,1267.3 L260.9,1267.3 L261.2,1267.3 L261.6,1267.3 L262.0,1267.3 L262.4,1267.3 L262.7,1267.3 L263.1,1267.3 L263.5,1267.3 L263.8,1267.2 L264.2,1267.2 L264.6,1267.2 L265.0,1267.2 L265.3,1267.2 L265.7,1267.2 L266.1,1267.2 L266.4,1267.2 L266.8,1267.2 L267.2,1267.2 L267.6,1267.2 L267.9,1267.2 L268.3,1267.2 L268.7,1267.2 L269.0,1267.2 L269.4,1267.2 L269.8,1267.2 L270.2,1267.2 L270.5,1267.1 L270.9,1267.1 L271.3,1267.1 L271.6,1267.1 L272.0,1267.1 L272.4,1267.1 L272.8,1267.1 L273.1,1267.1 L273.5,1267.1 L273.9,1267.1 L274.2,1267.1 L274.6,1267.1 L275.0,1267.1 L275.4,1267.1 L275.7,1267.1 L276.1,1267.1 L276.5,1267.1 L276.8,1267.1 L277.2,1267.1 L277.6,1267.1 L278.0,1267.0 L278.3,1267.0 L278.7,1267.0 L279.1,1267.0 L279.5,1267.0 L279.8,1267.0 L280.2,1267.0 L280.6,1267.0 L280.9,1267.0 L281.3,1267.0 L281.7,1267.0 L282.1,1267.0 L282.4,1267.0 L282.8,1267.0 L283.2,1267.0 L283.5,1267.0 L283.9,1267.0 L284.3,1267.0 L284.7,1267.0 L285.0,1267.0 L285.4,1266.9 L285.8,1266.9 L286.1,1266.9 L286.5,1266.9 L286.9,1266.9 L287.3,1266.9 L287.6,1266.9 L288.0,1266.9 L288.4,1266.9 L288.7,1266.9 L289.1,1266.9 L289.5,1266.9 L289.9,1266.9 L290.2,1266.9 L290.6,1266.9 L291.0,1266.9 L291.3,1266.9 L291.7,1266.9 L292.1,1266.9 L292.5,1266.9 L292.8,1266.9 L293.2,1266.9 L293.6,1266.8 L293.9,1266.8 L294.3,1266.8 L294.7,1266.8 L295.1,1266.8 L295.4,1266.8 L295.8,1266.8 L296.2,1266.8 L296.5,1266.8 L296.9,1266.8 L297.3,1266.8 L297.7,1266.8 L298.0,1266.8 L298.4,1266.8 L298.8,1266.8 L299.1,1266.8 L299.5,1266.8 L299.9,1266.8 L300.3,1266.8 L300.6,1266.8 L301.0,1266.8 L301.4,1266.8 L301.7,1266.8 L302.1,1266.8 L302.5,1266.8 L302.9,1266.8 L303.2,1266.7 L303.6,1266.7 L304.0,1266.7 L304.4,1266.7 L304.7,1266.7 L305.1,1266.7 L305.5,1266.7 L305.8,1266.7 L306.2,1266.7 L306.6,1266.7 L307.0,1266.7 L307.3,1266.7 L307.7,1266.7 L308.1,1266.7 L308.4,1266.7 L308.8,1266.7 L309.2,1266.7 L309.6,1266.7 L309.9,1266.7 L310.3,1266.7 L310.7,1266.7 L311.0,1266.7 L311.4,1266.7 L311.8,1266.7 L312.2,1266.7 L312.5,1266.7 L312.9,1266.7 L313.3,1266.7 L313.6,1266.7 L314.0,1266.7 L314.4,1266.7 L314.8,1266.7 L315.1,1266.7 L315.5,1266.7 L315.9,1266.7 L316.2,1266.7 L316.6,1266.6 L317.0,1266.6 L317.4,1266.6 L317.7,1266.6 L318.1,1266.6 L318.5,1266.6 L318.8,1266.6 L319.2,1266.6 L319.6,1266.6 L320.0,1266.6 L320.3,1266.6 L320.7,1266.6 L321.1,1266.6 L321.4,1266.6 L321.8,1266.6 L322.2,1266.6 L322.6,1266.6 L322.9,1266.6 L323.3,1266.6 L323.7,1266.6 L324.0,1266.6 L324.4,1266.6 L324.8,1266.6 L325.2,1266.6 L325.5,1266.6 L325.9,1266.6 L326.3,1266.6 L326.7,1266.6 L327.0,1266.6 L327.4,1266.6 L327.8,1266.6 L328.1,1266.6 L328.5,1266.6 L328.9,1266.6 L329.3,1266.6 L329.6,1266.6 L330.0,1266.6 L330.4,1266.6 L330.7,1266.6 L331.1,1266.6 L331.5,1266.6 L331.9,1266.6 L332.2,1266.6 L332.6,1266.6 L333.0,1266.6 L333.3,1266.6 L333.7,1266.6 L334.1,1266.6 L334.5,1266.6 L334.8,1266.6 L335.2,1266.6 L335.6,1266.6 L335.9,1266.6 L336.3,1266.6 L336.7,1266.6 L337.1,1266.6 L337.4,1266.6 L337.8,1266.6 L338.2,1266.6 L338.5,1266.6 L338.9,1266.6 L339.3,1266.6 L339.7,1266.6 L340.0,1266.6 L340.4,1266.6 L340.8,1266.6 L341.1,1266.6 L341.5,1266.6 L341.9,1266.6 L342.3,1266.6 L342.6,1266.6 L343.0,1266.6 L343.4,1266.6 L343.7,1266.6 L344.1,1266.6 L344.5,1266.6 L344.9,1266.6 L345.2,1266.6 L345.6,1266.7 L346.0,1266.7 L346.3,1266.7 L346.7,1266.7 L347.1,1266.7 L347.5,1266.7 L347.8,1266.7 L348.2,1266.7 L348.6,1266.7 L348.9,1266.7 L349.3,1266.7 L349.7,1266.7 L350.1,1266.7 L350.4,1266.7 L350.8,1266.7 L351.2,1266.7 L351.6,1266.7 L351.9,1266.7 L352.3,1266.7 L352.7,1266.7 L353.0,1266.7 L353.4,1266.7 L353.8,1266.7 L354.2,1266.7 L354.5,1266.7 L354.9,1266.7 L355.3,1266.7 L355.6,1266.7 L356.0,1266.7 L356.4,1266.7 L356.8,1266.7 L357.1,1266.8 L357.5,1266.8 L357.9,1266.8 L358.2,1266.8 L358.6,1266.8 L359.0,1266.8 L359.4,1266.8 L359.7,1266.8 L360.1,1266.8 L360.5,1266.8 L360.8,1266.8 L361.2,1266.8 L361.6,1266.8 L362.0,1266.8 L362.3,1266.8 L362.7,1266.8 L363.1,1266.8 L363.4,1266.8 L363.8,1266.8 L364.2,1266.8 L364.6,1266.9 L364.9,1266.9 L365.3,1266.9 L365.7,1266.9 L366.0,1266.9 L366.4,1266.9 L366.8,1266.9 L367.2,1266.9 L367.5,1266.9 L367.9,1266.9 L368.3,1266.9 L368.6,1266.9 L369.0,1266.9 L369.4,1266.9 L369.8,1266.9 L370.1,1266.9 L370.5,1267.0 L370.9,1267.0 L371.2,1267.0 L371.6,1267.0 L372.0,1267.0 L372.4,1267.0 L372.7,1267.0 L373.1,1267.0 L373.5,1267.0 L373.8,1267.0 L374.2,1267.0 L374.6,1267.0 L375.0,1267.0 L375.3,1267.0 L375.7,1267.1 L376.1,1267.1 L376.5,1267.1 L376.8,1267.1 L377.2,1267.1 L377.6,1267.1 L377.9,1267.1 L378.3,1267.1 L378.7,1267.1 L379.1,1267.1 L379.4,1267.1 L379.8,1267.2 L380.2,1267.2 L380.5,1267.2 L380.9,1267.2 L381.3,1267.2 L381.7,1267.2 L382.0,1267.2 L382.4,1267.2 L382.8,1267.2 L383.1,1267.2 L383.5,1267.2 L383.9,1267.3 L384.3,1267.3 L384.6,1267.3 L385.0,1267.3 L385.4,1267.3 L385.7,1267.3 L386.1,1267.3 L386.5,1267.3 L386.9,1267.3 L387.2,1267.3 L387.6,1267.4 L388.0,1267.4 L388.3,1267.4 L388.7,1267.4 L389.1,1267.4 L389.5,1267.4 L389.8,1267.4 L390.2,1267.4 L390.6,1267.4 L390.9,1267.5 L391.3,1267.5 L391.7,1267.5 L392.1,1267.5 L392.4,1267.5 L392.8,1267.5 L393.2,1267.5 L393.5,1267.5 L393.9,1267.5 L394.3,1267.6 L394.7,1267.6 L395.0,1267.6 L395.4,1267.6 L395.8,1267.6 L396.1,1267.6 L396.5,1267.6 L396.9,1267.6 L397.3,1267.7 L397.6,1267.7 L398.0,1267.7 L398.4,1267.7 L398.8,1267.7 L399.1,1267.7 L399.5,1267.7 L399.9,1267.7 L400.2,1267.8 L400.6,1267.8 L401.0,1267.8 L401.4,1267.8 L401.7,1267.8 L402.1,1267.8 L402.5,1267.8 L402.8,1267.9 L403.2,1267.9 L403.6,1267.9 L404.0,1267.9 L404.3,1267.9 L404.7,1267.9 L405.1,1267.9 L405.4,1268.0 L405.8,1268.0 L406.2,1268.0 L406.6,1268.0 L406.9,1268.0 L407.3,1268.0 L407.7,1268.1 L408.0,1268.1 L408.4,1268.1 L408.8,1268.1 L409.2,1268.1 L409.5,1268.1 L409.9,1268.1 L410.3,1268.2 L410.6,1268.2 L411.0,1268.2 L411.4,1268.2 L411.8,1268.2 L412.1,1268.2 L412.5,1268.3 L412.9,1268.3 L413.2,1268.3 L413.6,1268.3 L414.0,1268.3 L414.4,1268.3 L414.7,1268.4 L415.1,1268.4 L415.5,1268.4 L415.8,1268.4 L416.2,1268.4 L416.6,1268.4 L417.0,1268.5 L417.3,1268.5 L417.7,1268.5 L418.1,1268.5 L418.4,1268.5 L418.8,1268.5 L419.2,1268.6 L419.6,1268.6 L419.9,1268.6 L420.3,1268.6 L420.7,1268.6 L421.0,1268.7 L421.4,1268.7 L421.8,1268.7 L422.2,1268.7 L422.5,1268.7 L422.9,1268.8 L423.3,1268.8 L423.7,1268.8 L424.0,1268.8 L424.4,1268.8 L424.8,1268.8 L425.1,1268.9 L425.5,1268.9 L425.9,1268.9 L426.3,1268.9 L426.6,1268.9 L427.0,1269.0 L427.4,1269.0 L427.7,1269.0 L428.1,1269.0 L428.5,1269.0 L428.9,1269.1 L429.2,1269.1 L429.6,1269.1 L430.0,1269.1 L430.3,1269.2 L430.7,1269.2 L431.1,1269.2 L431.5,1269.2 L431.8,1269.2 L432.2,1269.3 L432.6,1269.3 L432.9,1269.3 L433.3,1269.3 L433.7,1269.3 L434.1,1269.4 L434.4,1269.4 L434.8,1269.4 L435.2,1269.4 L435.5,1269.5 L435.9,1269.5 L436.3,1269.5 L436.7,1269.5 L437.0,1269.5 L437.4,1269.6 L437.8,1269.6 L438.1,1269.6 L438.5,1269.6 L438.9,1269.7 L439.3,1269.7 L439.6,1269.7 L440.0,1269.7 L440.4,1269.8 L440.7,1269.8 L441.1,1269.8 L441.5,1269.8 L441.9,1269.8 L442.2,1269.9 L442.6,1269.9 L443.0,1269.9 L443.3,1269.9 L443.7,1270.0 L444.1,1270.0 L444.5,1270.0 L444.8,1270.0 L445.2,1270.1 L445.6,1270.1 L445.9,1270.1 L446.3,1270.1 L446.7,1270.2 L447.1,1270.2 L447.4,1270.2 L447.8,1270.2 L448.2,1270.3 L448.6,1270.3 L448.9,1270.3 L449.3,1270.3 L449.7,1270.4 L450.0,1270.4 L450.4,1270.4 L450.8,1270.4 L451.2,1270.5 L451.5,1270.5 L451.9,1270.5 L452.3,1270.6 L452.6,1270.6 L453.0,1270.6 L453.4,1270.6 L453.8,1270.7 L454.1,1270.7 L454.5,1270.7 L454.9,1270.7 L455.2,1270.8 L455.6,1270.8 L456.0,1270.8 L456.4,1270.9 L456.7,1270.9 L457.1,1270.9 L457.5,1270.9 L457.8,1271.0 L458.2,1271.0 L458.6,1271.0 L459.0,1271.1 L459.3,1271.1 L459.7,1271.1 L460.1,1271.1 L460.4,1271.2 L460.8,1271.2 L461.2,1271.2 L461.6,1271.3 L461.9,1271.3 L462.3,1271.3 L462.7,1271.3 L463.0,1271.4 L463.4,1271.4 L463.8,1271.4 L464.2,1271.5 L464.5,1271.5 L464.9,1271.5 L465.3,1271.5 L465.6,1271.6 L466.0,1271.6 L466.4,1271.6 L466.8,1271.7 L467.1,1271.7 L467.5,1271.7 L467.9,1271.8 L468.2,1271.8 L468.6,1271.8 L469.0,1271.9 L469.4,1271.9 L469.7,1271.9 L470.1,1271.9 L470.5,1272.0 L470.9,1272.0 L471.2,1272.0 L471.6,1272.1 L472.0,1272.1 L472.3,1272.1 L472.7,1272.2 L473.1,1272.2 L473.5,1272.2 L473.8,1272.3 L474.2,1272.3 L474.6,1272.3 L474.9,1272.4 L475.3,1272.4 L475.7,1272.4 L476.1,1272.5 L476.4,1272.5 L476.8,1272.5 L477.2,1272.6 L477.5,1272.6 L477.9,1272.6 L478.3,1272.7 L478.7,1272.7 L479.0,1272.7 L479.4,1272.8 L479.8,1272.8 L480.1,1272.8 L480.5,1272.9 L480.9,1272.9 L481.3,1272.9 L481.6,1273.0 L482.0,1273.0 L482.4,1273.0 L482.7,1273.1 L483.1,1273.1 L483.5,1273.1 L483.9,1273.2 L484.2,1273.2 L484.6,1273.2 L485.0,1273.3 L485.3,1273.3 L485.7,1273.4 L486.1,1273.4 L486.5,1273.4 L486.8,1273.5 L487.2,1273.5 L487.6,1273.5 L487.9,1273.6 L488.3,1273.6 L488.7,1273.6 L489.1,1273.7 L489.4,1273.7 L489.8,1273.8 L490.2,1273.8 L490.5,1273.8 L490.9,1273.9 L491.3,1273.9 L491.7,1273.9 L492.0,1274.0 L492.4,1274.0 L492.8,1274.1 L493.1,1274.1 L493.5,1274.1 L493.9,1274.2 L494.3,1274.2 L494.6,1274.2 L495.0,1274.3 L495.4,1274.3 L495.8,1274.4 L496.1,1274.4 L496.5,1274.4 L496.9,1274.5 L497.2,1274.5 L497.6,1274.5 L498.0,1274.6 L498.4,1274.6 L498.7,1274.7 L499.1,1274.7 L499.5,1274.7 L499.8,1274.8 L500.2,1274.8 L500.6,1274.9 L501.0,1274.9 L501.3,1274.9 L501.7,1275.0 L502.1,1275.0 L502.4,1275.1 L502.8,1275.1 L503.2,1275.1 L503.6,1275.2 L503.9,1275.2 L504.3,1275.3 L504.7,1275.3 L505.0,1275.3 L505.4,1275.4 L505.8,1275.4 L506.2,1275.5 L506.5,1275.5 L506.9,1275.5 L507.3,1275.6 L507.6,1275.6 L508.0,1275.7 L508.4,1275.7 L508.8,1275.8 L509.1,1275.8 L509.5,1275.8 L509.9,1275.9 L510.2,1275.9 L510.6,1276.0 L511.0,1276.0 L511.4,1276.0 L511.7,1276.1 L512.1,1276.1 L512.5,1276.2 L512.8,1276.2 L513.2,1276.3 L513.6,1276.3 L514.0,1276.3 L514.3,1276.4 L514.7,1276.4 L515.1,1276.5 L515.4,1276.5 L515.8,1276.6 L516.2,1276.6 L516.6,1276.6 L516.9,1276.7 L517.3,1276.7 L517.7,1276.8 L518.0,1276.8 L518.4,1276.9 L518.8,1276.9 L519.2,1277.0 L519.5,1277.0 L519.9,1277.0 L520.3,1277.1 L520.7,1277.1 L521.0,1277.2 L521.4,1277.2 L521.8,1277.3 L522.1,1277.3 L522.5,1277.4 L522.9,1277.4 L523.3,1277.5 L523.6,1277.5 L524.0,1277.5 L524.4,1277.6 L524.7,1277.6 L525.1,1277.7 L525.5,1277.7 L525.9,1277.8 L526.2,1277.8 L526.6,1277.9 L527.0,1277.9 L527.3,1278.0 L527.7,1278.0 L528.1,1278.1 L528.5,1278.1 L528.8,1278.1 L529.2,1278.2 L529.6,1278.2 L529.9,1278.3 L530.3,1278.3 L530.7,1278.4 L531.1,1278.4 L531.4,1278.5 L531.8,1278.5 L532.2,1278.6 L532.5,1278.6 L532.9,1278.7 L533.3,1278.7 L533.7,1278.8 L534.0,1278.8 L534.4,1278.9 L534.8,1278.9 L535.1,1279.0 L535.5,1279.0 L535.9,1279.1 L536.3,1279.1 L536.6,1279.1 L537.0,1279.2 L537.4,1279.2 L537.7,1279.3 L538.1,1279.3 L538.5,1279.4 L538.9,1279.4 L539.2,1279.5 L539.6,1279.5 L540.0,1279.6 L540.3,1279.6 L540.7,1279.7 L541.1,1279.7 L541.5,1279.8 L541.8,1279.8 L542.2,1279.9 L542.6,1279.9 L543.0,1280.0 L543.3,1280.0 L543.7,1280.1 L544.1,1280.1 L544.4,1280.2 L544.8,1280.2 L545.2,1280.3 L545.6,1280.3 L545.9,1280.4 L546.3,1280.4 L546.7,1280.5 L547.0,1280.5 L547.4,1280.6 L547.8,1280.7 L548.2,1280.7 L548.5,1280.8 L548.9,1280.8 L549.3,1280.9 L549.6,1280.9 L550.0,1281.0 L550.4,1281.0 L550.8,1281.1 L551.1,1281.1 L551.5,1281.2 L551.9,1281.2 L552.2,1281.3 L552.6,1281.3 L553.0,1281.4 L553.4,1281.4 L553.7,1281.5 L554.1,1281.5 L554.5,1281.6 L554.8,1281.6 L555.2,1281.7 L555.6,1281.8 L556.0,1281.8 L556.3,1281.9 L556.7,1281.9 L557.1,1282.0 L557.4,1282.0 L557.8,1282.1 L558.2,1282.1 L558.6,1282.2 L558.9,1282.2 L559.3,1282.3 L559.7,1282.3 L560.0,1282.4 L560.4,1282.4 L560.8,1282.5 L561.2,1282.6 L561.5,1282.6 L561.9,1282.7 L562.3,1282.7 L562.6,1282.8 L563.0,1282.8 L563.4,1282.9 L563.8,1282.9 L564.1,1283.0 L564.5,1283.1 L564.9,1283.1 L565.2,1283.2 L565.6,1283.2 L566.0,1283.3 L566.4,1283.3 L566.7,1283.4 L567.1,1283.4 L567.5,1283.5 L567.9,1283.6 L568.2,1283.6 L568.6,1283.7 L569.0,1283.7 L569.3,1283.8 L569.7,1283.8 L570.1,1283.9 L570.5,1283.9 L570.8,1284.0 L571.2,1284.1 L571.6,1284.1 L571.9,1284.2 L572.3,1284.2 L572.7,1284.3 L573.1,1284.3 L573.4,1284.4 L573.8,1284.5 L574.2,1284.5 L574.5,1284.6 L574.9,1284.6 L575.3,1284.7 L575.7,1284.7 L576.0,1284.8 L576.4,1284.9 L576.8,1284.9 L577.1,1285.0 L577.5,1285.0 L577.9,1285.1 L578.3,1285.2 L578.6,1285.2 L579.0,1285.3 L579.4,1285.3 L579.7,1285.4 L580.1,1285.4 L580.5,1285.5 L580.9,1285.6 L581.2,1285.6 L581.6,1285.7 L582.0,1285.7 L582.3,1285.8 L582.7,1285.9 L583.1,1285.9 L583.5,1286.0 L583.8,1286.0 L584.2,1286.1 L584.6,1286.2 L584.9,1286.2 L585.3,1286.3 L585.7,1286.3 L586.1,1286.4 L586.4,1286.4 L586.8,1286.5 L587.2,1286.6 L587.5,1286.6 L587.9,1286.7 L588.3,1286.7 L588.7,1286.8 L589.0,1286.9 L589.4,1286.9 L589.8,1287.0 L590.2,1287.0 L590.5,1287.1 L590.9,1287.2 L591.3,1287.2 L591.6,1287.3 L592.0,1287.4 L592.4,1287.4 L592.8,1287.5 L593.1,1287.5 L593.5,1287.6 L593.9,1287.7 L594.2,1287.7 L594.6,1287.8 L595.0,1287.8 L595.4,1287.9 L595.7,1288.0 L596.1,1288.0 L596.5,1288.1 L596.8,1288.1 L597.2,1288.2 L597.6,1288.3 L598.0,1288.3 L598.3,1288.4 L598.7,1288.5 L599.1,1288.5 L599.4,1288.6 L599.8,1288.6 L600.2,1288.7 L600.6,1288.8 L600.9,1288.8 L601.3,1288.9 L601.7,1289.0 L602.0,1289.0 L602.4,1289.1 L602.8,1289.1 L603.2,1289.2 L603.5,1289.3 L603.9,1289.3 L604.3,1289.4 L604.6,1289.5 L605.0,1289.5 L605.4,1289.6 L605.8,1289.6 L606.1,1289.7 L606.5,1289.8 L606.9,1289.8 L607.2,1289.9 L607.6,1290.0 L608.0,1290.0 L608.4,1290.1 L608.7,1290.2 L609.1,1290.2 L609.5,1290.3 L609.8,1290.3 L610.2,1290.4 L610.6,1290.5 L611.0,1290.5 L611.3,1290.6 L611.7,1290.7 L612.1,1290.7 L612.4,1290.8 L612.8,1290.9 L613.2,1290.9 L613.6,1291.0 L613.9,1291.1 L614.3,1291.1 L614.7,1291.2 L615.1,1291.2 L615.4,1291.3 L615.8,1291.4 L616.2,1291.4 L616.5,1291.5 L616.9,1291.6 L617.3,1291.6 L617.7,1291.7 L618.0,1291.8 L618.4,1291.8 L618.8,1291.9 L619.1,1292.0 L619.5,1292.0 L619.9,1292.1 L620.3,1292.2 L620.6,1292.2 L621.0,1292.3 L621.4,1292.4 L621.7,1292.4 L622.1,1292.5 L622.5,1292.6 L622.9,1292.6 L623.2,1292.7 L623.6,1292.7 L624.0,1292.8 L624.3,1292.9 L624.7,1292.9 L625.1,1293.0 L625.5,1293.1 L625.8,1293.1 L626.2,1293.2 L626.6,1293.3 L626.9,1293.3 L627.3,1293.4 L627.7,1293.5 L628.1,1293.5 L628.4,1293.6 L628.8,1293.7 L629.2,1293.7 L629.5,1293.8 L629.9,1293.9 L630.3,1293.9 L630.7,1294.0 L631.0,1294.1 L631.4,1294.1 L631.8,1294.2 L632.1,1294.3 L632.5,1294.3 L632.9,1294.4 L633.3,1294.5 L633.6,1294.5 L634.0,1294.6 L634.4,1294.7 L634.7,1294.7 L635.1,1294.8 L635.5,1294.9 L635.9,1294.9 L636.2,1295.0 L636.6,1295.1 L637.0,1295.2 L637.3,1295.2 L637.7,1295.3 L638.1,1295.4 L638.5,1295.4 L638.8,1295.5 L639.2,1295.6 L639.6,1295.6 L640.0,1295.7 L640.3,1295.8 L640.7,1295.8 L641.1,1295.9 L641.4,1296.0 L641.8,1296.0 L642.2,1296.1 L642.6,1296.2 L642.9,1296.2 L643.3,1296.3 L643.7,1296.4 L644.0,1296.4 L644.4,1296.5 L644.8,1296.6 L645.2,1296.6 L645.5,1296.7 L645.9,1296.8 L646.3,1296.9 L646.6,1296.9 L647.0,1297.0 L647.4,1297.1 L647.8,1297.1 L648.1,1297.2 L648.5,1297.3 L648.9,1297.3 L649.2,1297.4 L649.6,1297.5 L650.0,1297.5 L650.4,1297.6 L650.7,1297.7 L651.1,1297.7 L651.5,1297.8 L651.8,1297.9 L652.2,1298.0 L652.6,1298.0 L653.0,1298.1 L653.3,1298.2 L653.7,1298.2 L654.1,1298.3 L654.4,1298.4 L654.8,1298.4 L655.2,1298.5 L655.6,1298.6 L655.9,1298.6 L656.3,1298.7 L656.7,1298.8 L657.0,1298.9 L657.4,1298.9 L657.8,1299.0 L658.2,1299.1 L658.5,1299.1 L658.9,1299.2 L659.3,1299.3 L659.6,1299.3 L660.0,1299.4 L660.4,1299.5 L660.8,1299.5 L661.1,1299.6 L661.5,1299.7 L661.9,1299.8 L662.3,1299.8 L662.6,1299.9 L663.0,1300.0 L663.4,1300.0 L663.7,1300.1 L664.1,1300.2 L664.5,1300.2 L664.9,1300.3 L665.2,1300.4 L665.6,1300.5 L666.0,1300.5 L666.3,1300.6 L666.7,1300.7 L667.1,1300.7 L667.5,1300.8 L667.8,1300.9 L668.2,1300.9 L668.6,1301.0 L668.9,1301.1 L669.3,1301.1 L669.7,1301.2 L670.1,1301.3 L670.4,1301.4 L670.8,1301.4 L671.2,1301.5 L671.5,1301.6 L671.9,1301.6 L672.3,1301.7 L672.7,1301.8 L673.0,1301.9 L673.4,1301.9 L673.8,1302.0 L674.1,1302.1 L674.5,1302.1 L674.9,1302.2 L675.3,1302.3 L675.6,1302.3 L676.0,1302.4 L676.4,1302.5 L676.7,1302.6 L677.1,1302.6 L677.5,1302.7 L677.9,1302.8 L678.2,1302.8 L678.6,1302.9 L679.0,1303.0 L679.3,1303.0 L679.7,1303.1 L680.1,1303.2 L680.5,1303.3 L680.8,1303.3 L681.2,1303.4 L681.6,1303.5 L681.9,1303.5 L682.3,1303.6 L682.7,1303.7 L683.1,1303.7 L683.4,1303.8 L683.8,1303.9 L684.2,1304.0 L684.5,1304.0 L684.9,1304.1 L685.3,1304.2 L685.7,1304.2 L686.0,1304.3 L686.4,1304.4 L686.8,1304.5 L687.2,1304.5 L687.5,1304.6 L687.9,1304.7 L688.3,1304.7 L688.6,1304.8 L689.0,1304.9 L689.4,1304.9 L689.8,1305.0 L690.1,1305.1 L690.5,1305.2 L690.9,1305.2 L691.2,1305.3 L691.6,1305.4 L692.0,1305.4 L692.4,1305.5 L692.7,1305.6 L693.1,1305.6 L693.5,1305.7 L693.8,1305.8 L694.2,1305.9 L694.6,1305.9 L695.0,1306.0 L695.3,1306.1 L695.7,1306.1 L696.1,1306.2 L696.4,1306.3 L696.8,1306.3 L697.2,1306.4 L697.6,1306.5 L697.9,1306.6 L698.3,1306.6 L698.7,1306.7 L699.0,1306.8 L699.4,1306.8 L699.8,1306.9 L700.2,1307.0 L700.5,1307.0 L700.9,1307.1 L701.3,1307.2 L701.6,1307.3 L702.0,1307.3 L702.4,1307.4 L702.8,1307.5 L703.1,1307.5 L703.5,1307.6 L703.9,1307.7 L704.2,1307.7 L704.6,1307.8 L705.0,1307.9 L705.4,1308.0 L705.7,1308.0 L706.1,1308.1 L706.5,1308.2 L706.8,1308.2 L707.2,1308.3 L707.6,1308.4 L708.0,1308.4 L708.3,1308.5 L708.7,1308.6 L709.1,1308.7 L709.4,1308.7 L709.8,1308.8 L710.2,1308.9 L710.6,1308.9 L710.9,1309.0 L711.3,1309.1 L711.7,1309.1 L712.1,1309.2 L712.4,1309.3 L712.8,1309.4 L713.2,1309.4 L713.5,1309.5 L713.9,1309.6 L714.3,1309.6 L714.7,1309.7 L715.0,1309.8 L715.4,1309.8 L715.8,1309.9 L716.1,1310.0 L716.5,1310.0 L716.9,1310.1 L717.3,1310.2 L717.6,1310.2 L718.0,1310.3 L718.4,1310.4 L718.7,1310.5 L719.1,1310.5 L719.5,1310.6 L719.9,1310.7 L720.2,1310.7 L720.6,1310.8 L721.0,1310.9 L721.3,1310.9 L721.7,1311.0 L722.1,1311.1 L722.5,1311.1 L722.8,1311.2 L723.2,1311.3 L723.6,1311.3 L723.9,1311.4 L724.3,1311.5 L724.7,1311.6 L725.1,1311.6 L725.4,1311.7 L725.8,1311.8 L726.2,1311.8 L726.5,1311.9 L726.9,1312.0 L727.3,1312.0 L727.7,1312.1 L728.0,1312.2 L728.4,1312.2 L728.8,1312.3 L729.1,1312.4 L729.5,1312.4 L729.9,1312.5 L730.3,1312.6 L730.6,1312.6 L731.0,1312.7 L731.4,1312.8 L731.7,1312.8 L732.1,1312.9 L732.5,1313.0 L732.9,1313.0 L733.2,1313.1 L733.6,1313.2 L734.0,1313.2 L734.4,1313.3 L734.7,1313.4 L735.1,1313.4 L735.5,1313.5 L735.8,1313.6 L736.2,1313.7 L736.6,1313.7 L737.0,1313.8 L737.3,1313.9 L737.7,1313.9 L738.1,1314.0 L738.4,1314.1 L738.8,1314.1 L739.2,1314.2 L739.6,1314.2 L739.9,1314.3 L740.3,1314.4 L740.7,1314.4 L741.0,1314.5 L741.4,1314.6 L741.8,1314.6 L742.2,1314.7 L742.5,1314.8 L742.9,1314.8 L743.3,1314.9 L743.6,1315.0 L744.0,1315.0 L744.4,1315.1 L744.8,1315.2 L745.1,1315.2 L745.5,1315.3 L745.9,1315.4 L746.2,1315.4 L746.6,1315.5 L747.0,1315.6 L747.4,1315.6 L747.7,1315.7 L748.1,1315.8 L748.5,1315.8 L748.8,1315.9 L749.2,1316.0 L749.6,1316.0 L750.0,1316.1 L750.3,1316.1 L750.7,1316.2 L751.1,1316.3 L751.4,1316.3 L751.8,1316.4 L752.2,1316.5 L752.6,1316.5 L752.9,1316.6 L753.3,1316.7 L753.7,1316.7 L754.0,1316.8 L754.4,1316.9 L754.8,1316.9 L755.2,1317.0 L755.5,1317.0 L755.9,1317.1 L756.3,1317.2 L756.6,1317.2 L757.0,1317.3 L757.4,1317.4 L757.8,1317.4 L758.1,1317.5 L758.5,1317.5 L758.9,1317.6 L759.3,1317.7 L759.6,1317.7 L760.0,1317.8 L760.4,1317.9 L760.7,1317.9 L761.1,1318.0 L761.5,1318.0 L761.9,1318.1 L762.2,1318.2 L762.6,1318.2 L763.0,1318.3 L763.3,1318.3 L763.7,1318.4 L764.1,1318.5 L764.5,1318.5 L764.8,1318.6 L765.2,1318.6 L765.6,1318.7 L765.9,1318.7 L766.3,1318.8 L766.7,1318.9 L767.1,1318.9 L767.4,1319.0 L767.8,1319.0 L768.2,1319.1 L768.5,1319.1 L768.9,1319.2 L769.3,1319.2 L769.7,1319.3 L770.0,1319.3 L770.4,1319.4 L770.8,1319.4 L771.1,1319.5 L771.5,1319.5 L771.9,1319.6 L772.3,1319.6 L772.6,1319.6 L773.0,1319.7 L773.4,1319.7 L773.7,1319.7 L774.1,1319.8 L774.5,1319.8 L774.9,1319.8 L775.2,1319.9 L775.6,1319.9 L776.0,1319.9 L776.3,1319.9 L776.7,1319.9 L777.1,1319.9 L777.5,1319.9 L777.8,1319.9 L778.2,1319.9 L778.6,1319.9 L778.9,1319.9 L779.3,1319.8 L779.7,1319.8 L780.1,1319.7 L780.4,1319.7 L780.8,1319.6 L781.2,1319.6 L781.5,1319.5 L781.9,1319.4 L782.3,1319.3 L782.7,1319.2 L783.0,1319.0 L783.4,1318.9 L783.8,1318.7 L784.2,1318.6 L784.5,1318.4 L784.9,1318.2 L785.3,1317.9 L785.6,1317.7 L786.0,1317.4 L786.4,1317.2 L786.8,1316.8 L787.1,1316.5 L787.5,1316.1 L787.9,1315.8 L788.2,1315.3 L788.6,1314.9 L789.0,1314.4 L789.4,1313.9 L789.7,1313.4 L790.1,1312.8 L790.5,1312.2 L790.8,1311.5 L791.2,1310.8 L791.6,1310.1 L792.0,1309.3 L792.3,1308.4 L792.7,1307.6 L793.1,1306.6 L793.4,1305.7 L793.8,1304.6 L794.2,1303.5 L794.6,1302.4 L794.9,1301.2 L795.3,1299.9 L795.7,1298.6 L796.0,1297.2 L796.4,1295.8 L796.8,1294.3 L797.2,1292.7 L797.5,1291.0 L797.9,1289.3 L798.3,1287.5 L798.6,1285.7 L799.0,1283.7 L799.4,1281.7 L799.8,1279.7 L800.1,1277.5 L800.5,1275.3 L800.9,1273.0 L801.2,1270.6 L801.6,1268.2 L802.0,1265.7 L802.4,1263.1 L802.7,1260.4 L803.1,1257.7 L803.5,1254.9 L803.8,1252.0 L804.2,1249.0 L804.6,1246.0 L805.0,1242.9 L805.3,1239.8 L805.7,1236.6 L806.1,1233.3 L806.5,1229.9 L806.8,1226.5 L807.2,1223.1 L807.6,1219.6 L807.9,1216.0 L808.3,1212.4 L808.7,1208.7 L809.1,1205.0 L809.4,1201.3 L809.8,1197.5 L810.2,1193.6 L810.5,1189.8 L810.9,1185.9 L811.3,1182.0 L811.7,1178.0 L812.0,1174.0 L812.4,1170.0 L812.8,1166.0 L813.1,1162.0 L813.5,1158.0 L813.9,1153.9 L814.3,1149.9 L814.6,1145.8 L815.0,1141.7 L815.4,1137.7 L815.7,1133.6 L816.1,1129.6 L816.5,1125.6 L816.9,1121.6 L817.2,1117.6 L817.6,1113.6 L818.0,1109.6 L818.3,1105.7 L818.7,1101.8 L819.1,1097.9 L819.5,1094.0 L819.8,1090.2 L820.2,1086.4 L820.6,1082.6 L820.9,1078.9 L821.3,1075.2 L821.7,1071.5 L822.1,1067.9 L822.4,1064.3 L822.8,1060.8 L823.2,1057.3 L823.5,1053.9 L823.9,1050.5 L824.3,1047.1 L824.7,1043.8 L825.0,1040.5 L825.4,1037.3 L825.8,1034.2 L826.1,1031.1 L826.5,1028.0 L826.9,1025.0 L827.3,1022.0 L827.6,1019.1 L828.0,1016.2 L828.4,1013.4 L828.7,1010.6 L829.1,1007.9 L829.5,1005.3 L829.9,1002.6 L830.2,1000.1 L830.6,997.6 L831.0,995.1 L831.4,992.7 L831.7,990.3 L832.1,988.0 L832.5,985.7 L832.8,983.5 L833.2,981.3 L833.6,979.2 L834.0,977.1 L834.3,975.0 L834.7,973.0 L835.1,971.1 L835.4,969.2 L835.8,967.3 L836.2,965.5 L836.6,963.7 L836.9,962.0 L837.3,960.3 L837.7,958.6 L838.0,957.0 L838.4,955.4 L838.8,953.8 L839.2,952.3 L839.5,950.9 L839.9,949.4 L840.3,948.0 L840.6,946.7 L841.0,945.3 L841.4,944.0 L841.8,942.8 L842.1,941.5 L842.5,940.3 L842.9,939.1 L843.2,938.0 L843.6,936.9 L844.0,935.8 L844.4,934.7 L844.7,933.7 L845.1,932.7 L845.5,931.7 L845.8,930.8 L846.2,929.8 L846.6,928.9 L847.0,928.1 L847.3,927.2 L847.7,926.4 L848.1,925.6 L848.4,924.8 L848.8,924.0 L849.2,923.3 L849.6,922.5 L849.9,921.8 L850.3,921.1 L850.7,920.5 L851.0,919.8 L851.4,919.2 L851.8,918.6 L852.2,918.0 L852.5,917.4 L852.9,916.8 L853.3,916.2 L853.6,915.7 L854.0,915.2 L854.4,914.7 L854.8,914.2 L855.1,913.7 L855.5,913.2 L855.9,912.8 L856.3,912.3 L856.6,911.9 L857.0,911.5 L857.4,911.1 L857.7,910.7 L858.1,910.3 L858.5,909.9 L858.9,909.6 L859.2,909.2 L859.6,908.9 L860.0,908.6 L860.3,908.2 L860.7,907.9 L861.1,907.6 L861.5,907.3 L861.8,907.0 L862.2,906.8 L862.6,906.5 L862.9,906.2 L863.3,906.0 L863.7,905.7 L864.1,905.5 L864.4,905.2 L864.8,905.0 L865.2,904.8 L865.5,904.6 L865.9,904.4 L866.3,904.2 L866.7,904.0 L867.0,903.8 L867.4,903.6 L867.8,903.4 L868.1,903.2 L868.5,903.1 L868.9,902.9 L869.3,902.7 L869.6,902.6 L870.0,902.4 L870.4,902.3 L870.7,902.1 L871.1,902.0 L871.5,901.9 L871.9,901.7 L872.2,901.6 L872.6,901.5 L873.0,901.4 L873.3,901.3 L873.7,901.1 L874.1,901.0 L874.5,900.9 L874.8,900.8 L875.2,900.7 L875.6,900.6 L875.9,900.5 L876.3,900.4 L876.7,900.3 L877.1,900.3 L877.4,900.2 L877.8,900.1 L878.2,900.0 L878.6,899.9 L878.9,899.9 L879.3,899.8 L879.7,899.7 L880.0,899.6 L880.4,899.6 L880.8,899.5 L881.2,899.5 L881.5,899.4 L881.9,899.3 L882.3,899.3 L882.6,899.2 L883.0,899.2 L883.4,899.1 L883.8,899.1 L884.1,899.0 L884.5,899.0 L884.9,898.9 L885.2,898.9 L885.6,898.8 L886.0,898.8 L886.4,898.7 L886.7,898.7 L887.1,898.7 L887.5,898.6 L887.8,898.6 L888.2,898.6 L888.6,898.5 L889.0,898.5 L889.3,898.5 L889.7,898.4" stroke="#000000"/>
<path d="M146.8,1255.5 L147.1,1255.8 L147.5,1256.1 L147.9,1256.2 L148.3,1256.4 L148.6,1256.5 L149.0,1256.6 L149.4,1256.7 L149.7,1256.7 L150.1,1256.8 L150.5,1256.8 L150.9,1256.8 L151.2,1256.9 L151.6,1256.9 L152.0,1256.9 L152.3,1257.0 L152.7,1257.0 L153.1,1257.0 L153.5,1257.0 L153.8,1257.0 L154.2,1257.1 L154.6,1257.1 L154.9,1257.1 L155.3,1257.1 L155.7,1257.1 L156.1,1257.1 L156.4,1257.2 L156.8,1257.2 L157.2,1257.2 L157.5,1257.2 L157.9,1257.2 L158.3,1257.2 L158.7,1257.2 L159.0,1257.3 L159.4,1257.3 L159.8,1257.3 L160.2,1257.3 L160.5,1257.3 L160.9,1257.3 L161.3,1257.3 L161.6,1257.4 L162.0,1257.4 L162.4,1257.4 L162.8,1257.4 L163.1,1257.4 L163.5,1257.4 L163.9,1257.4 L164.2,1257.4 L164.6,1257.5 L165.0,1257.5 L165.4,1257.5 L165.7,1257.5 L166.1,1257.5 L166.5,1257.5 L166.8,1257.5 L167.2,1257.5 L167.6,1257.6 L168.0,1257.6 L168.3,1257.6 L168.7,1257.6 L169.1,1257.6 L169.4,1257.6 L169.8,1257.6 L170.2,1257.6 L170.6,1257.6 L170.9,1257.6 L171.3,1257.7 L171.7,1257.7 L172.0,1257.7 L172.4,1257.7 L172.8,1257.7 L173.2,1257.7 L173.5,1257.7 L173.9,1257.7 L174.3,1257.7 L174.6,1257.7 L175.0,1257.7 L175.4,1257.8 L175.8,1257.8 L176.1,1257.8 L176.5,1257.8 L176.9,1257.8 L177.2,1257.8 L177.6,1257.8 L178.0,1257.8 L178.4,1257.8 L178.7,1257.8 L179.1,1257.8 L179.5,1257.8 L179.8,1257.8 L180.2,1257.8 L180.6,1257.9 L181.0,1257.9 L181.3,1257.9 L181.7,1257.9 L182.1,1257.9 L182.5,1257.9 L182.8,1257.9 L183.2,1257.9 L183.6,1257.9 L183.9,1257.9 L184.3,1257.9 L184.7,1257.9 L185.1,1257.9 L185.4,1257.9 L185.8,1257.9 L186.2,1257.9 L186.5,1257.9 L186.9,1257.9 L187.3,1257.9 L187.7,1258.0 L188.0,1258.0 L188.4,1258.0 L188.8,1258.0 L189.1,1258.0 L189.5,1258.0 L189.9,1258.0 L190.3,1258.0 L190.6,1258.0 L191.0,1258.0 L191.4,1258.0 L191.7,1258.0 L192.1,1258.0 L192.5,1258.0 L192.9,1258.0 L193.2,1258.0 L193.6,1258.0 L194.0,1258.0 L194.3,1258.0 L194.7,1258.0 L195.1,1258.0 L195.5,1258.0 L195.8,1258.0 L196.2,1258.0 L196.6,1258.0 L196.9,1258.0 L197.3,1258.0 L197.7,1258.0 L198.1,1258.0 L198.4,1258.0 L198.8,1258.0 L199.2,1258.0 L199.5,1258.0 L199.9,1258.0 L200.3,1258.0 L200.7,1258.0 L201.0,1258.0 L201.4,1258.0 L201.8,1258.0 L202.1,1258.0 L202.5,1258.0 L202.9,1258.0 L203.3,1258.0 L203.6,1258.0 L204.0,1258.0 L204.4,1258.0 L204.7,1258.0 L205.1,1258.0 L205.5,1258.0 L205.9,1258.0 L206.2,1258.0 L206.6,1258.0 L207.0,1258.0 L207.4,1258.0 L207.7,1258.0 L208.1,1258.0 L208.5,1258.0 L208.8,1258.0 L209.2,1258.0 L209.6,1258.0 L210.0,1258.0 L210.3,1258.0 L210.7,1258.0 L211.1,1258.0 L211.4,1258.0 L211.8,1258.0 L212.2,1258.0 L212.6,1258.0 L212.9,1258.0 L213.3,1258.0 L213.7,1258.0 L214.0,1258.0 L214.4,1258.0 L214.8,1257.9 L215.2,1257.9 L215.5,1257.9 L215.9,1257.9 L216.3,1257.9 L216.6,1257.9 L217.0,1257.9 L217.4,1257.9 L217.8,1257.9 L218.1,1257.9 L218.5,1257.9 L218.9,1257.9 L219.2,1257.9 L219.6,1257.9 L220.0,1257.9 L220.4,1257.9 L220.7,1257.9 L221.1,1257.9 L221.5,1257.9 L221.8,1257.9 L222.2,1257.9 L222.6,1257.9 L223.0,1257.9 L223.3,1257.8 L223.7,1257.8 L224.1,1257.8 L224.4,1257.8 L224.8,1257.8 L225.2,1257.8 L225.6,1257.8 L225.9,1257.8 L226.3,1257.8 L226.7,1257.8 L227.0,1257.8 L227.4,1257.8 L227.8,1257.8 L228.2,1257.8 L228.5,1257.8 L228.9,1257.8 L229.3,1257.8 L229.6,1257.7 L230.0,1257.7 L230.4,1257.7 L230.8,1257.7 L231.1,1257.7 L231.5,1257.7 L231.9,1257.7 L232.3,1257.7 L232.6,1257.7 L233.0,1257.7 L233.4,1257.7 L233.7,1257.7 L234.1,1257.7 L234.5,1257.7 L234.9,1257.7 L235.2,1257.6 L235.6,1257.6 L236.0,1257.6 L236.3,1257.6 L236.7,1257.6 L237.1,1257.6 L237.5,1257.6 L237.8,1257.6 L238.2,1257.6 L238.6,1257.6 L238.9,1257.6 L239.3,1257.6 L239.7,1257.6 L240.1,1257.5 L240.4,1257.5 L240.8,1257.5 L241.2,1257.5 L241.5,1257.5 L241.9,1257.5 L242.3,1257.5 L242.7,1257.5 L243.0,1257.5 L243.4,1257.5 L243.8,1257.5 L244.1,1257.5 L244.5,1257.4 L244.9,1257.4 L245.3,1257.4 L245.6,1257.4 L246.0,1257.4 L246.4,1257.4 L246.7,1257.4 L247.1,1257.4 L247.5,1257.4 L247.9,1257.4 L248.2,1257.4 L248.6,1257.3 L249.0,1257.3 L249.3,1257.3 L249.7,1257.3 L250.1,1257.3 L250.5,1257.3 L250.8,1257.3 L251.2,1257.3 L251.6,1257.3 L251.9,1257.3 L252.3,1257.3 L252.7,1257.2 L253.1,1257.2 L253.4,1257.2 L253.8,1257.2 L254.2,1257.2 L254.6,1257.2 L254.9,1257.2 L255.3,1257.2 L255.7,1257.2 L256.0,1257.2 L256.4,1257.1 L256.8,1257.1 L257.2,1257.1 L257.5,1257.1 L257.9,1257.1 L258.3,1257.1 L258.6,1257.1 L259.0,1257.1 L259.4,1257.1 L259.8,1257.1 L260.1,1257.0 L260.5,1257.0 L260.9,1257.0 L261.2,1257.0 L261.6,1257.0 L262.0,1257.0 L262.4,1257.0 L262.7,1257.0 L263.1,1257.0 L263.5,1257.0 L263.8,1256.9 L264.2,1256.9 L264.6,1256.9 L265.0,1256.9 L265.3,1256.9 L265.7,1256.9 L266.1,1256.9 L266.4,1256.9 L266.8,1256.9 L267.2,1256.9 L267.6,1256.8 L267.9,1256.8 L268.3,1256.8 L268.7,1256.8 L269.0,1256.8 L269.4,1256.8 L269.8,1256.8 L270.2,1256.8 L270.5,1256.8 L270.9,1256.7 L271.3,1256.7 L271.6,1256.7 L272.0,1256.7 L272.4,1256.7 L272.8,1256.7 L273.1,1256.7 L273.5,1256.7 L273.9,1256.7 L274.2,1256.6 L274.6,1256.6 L275.0,1256.6 L275.4,1256.6 L275.7,1256.6 L276.1,1256.6 L276.5,1256.6 L276.8,1256.6 L277.2,1256.6 L277.6,1256.5 L278.0,1256.5 L278.3,1256.5 L278.7,1256.5 L279.1,1256.5 L279.5,1256.5 L279.8,1256.5 L280.2,1256.5 L280.6,1256.5 L280.9,1256.4 L281.3,1256.4 L281.7,1256.4 L282.1,1256.4 L282.4,1256.4 L282.8,1256.4 L283.2,1256.4 L283.5,1256.4 L283.9,1256.4 L284.3,1256.3 L284.7,1256.3 L285.0,1256.3 L285.4,1256.3 L285.8,1256.3 L286.1,1256.3 L286.5,1256.3 L286.9,1256.3 L287.3,1256.3 L287.6,1256.2 L288.0,1256.2 L288.4,1256.2 L288.7,1256.2 L289.1,1256.2 L289.5,1256.2 L289.9,1256.2 L290.2,1256.2 L290.6,1256.2 L291.0,1256.1 L291.3,1256.1 L291.7,1256.1 L292.1,1256.1 L292.5,1256.1 L292.8,1256.1 L293.2,1256.1 L293.6,1256.1 L293.9,1256.1 L294.3,1256.0 L294.7,1256.0 L295.1,1256.0 L295.4,1256.0 L295.8,1256.0 L296.2,1256.0 L296.5,1256.0 L296.9,1256.0 L297.3,1256.0 L297.7,1255.9 L298.0,1255.9 L298.4,1255.9 L298.8,1255.9 L299.1,1255.9 L299.5,1255.9 L299.9,1255.9 L300.3,1255.9 L300.6,1255.9 L301.0,1255.8 L301.4,1255.8 L301.7,1255.8 L302.1,1255.8 L302.5,1255.8 L302.9,1255.8 L303.2,1255.8 L303.6,1255.8 L304.0,1255.8 L304.4,1255.7 L304.7,1255.7 L305.1,1255.7 L305.5,1255.7 L305.8,1255.7 L306.2,1255.7 L306.6,1255.7 L307.0,1255.7 L307.3,1255.7 L307.7,1255.6 L308.1,1255.6 L308.4,1255.6 L308.8,1255.6 L309.2,1255.6 L309.6,1255.6 L309.9,1255.6 L310.3,1255.6 L310.7,1255.6 L311.0,1255.5 L311.4,1255.5 L311.8,1255.5 L312.2,1255.5 L312.5,1255.5 L312.9,1255.5 L313.3,1255.5 L313.6,1255.5 L314.0,1255.5 L314.4,1255.5 L314.8,1255.4 L315.1,1255.4 L315.5,1255.4 L315.9,1255.4 L316.2,1255.4 L316.6,1255.4 L317.0,1255.4 L317.4,1255.4 L317.7,1255.4 L318.1,1255.4 L318.5,1255.3 L318.8,1255.3 L319.2,1255.3 L319.6,1255.3 L320.0,1255.3 L320.3,1255.3 L320.7,1255.3 L321.1,1255.3 L321.4,1255.3 L321.8,1255.3 L322.2,1255.2 L322.6,1255.2 L322.9,1255.2 L323.3,1255.2 L323.7,1255.2 L324.0,1255.2 L324.4,1255.2 L324.8,1255.2 L325.2,1255.2 L325.5,1255.2 L325.9,1255.1 L326.3,1255.1 L326.7,1255.1 L327.0,1255.1 L327.4,1255.1 L327.8,1255.1 L328.1,1255.1 L328.5,1255.1 L328.9,1255.1 L329.3,1255.1 L329.6,1255.1 L330.0,1255.0 L330.4,1255.0 L330.7,1255.0 L331.1,1255.0 L331.5,1255.0 L331.9,1255.0 L332.2,1255.0 L332.6,1255.0 L333.0,1255.0 L333.3,1255.0 L333.7,1255.0 L334.1,1254.9 L334.5,1254.9 L334.8,1254.9 L335.2,1254.9 L335.6,1254.9 L335.9,1254.9 L336.3,1254.9 L336.7,1254.9 L337.1,1254.9 L337.4,1254.9 L337.8,1254.9 L338.2,1254.9 L338.5,1254.8 L338.9,1254.8 L339.3,1254.8 L339.7,1254.8 L340.0,1254.8 L340.4,1254.8 L340.8,1254.8 L341.1,1254.8 L341.5,1254.8 L341.9,1254.8 L342.3,1254.8 L342.6,1254.8 L343.0,1254.8 L343.4,1254.7 L343.7,1254.7 L344.1,1254.7 L344.5,1254.7 L344.9,1254.7 L345.2,1254.7 L345.6,1254.7 L346.0,1254.7 L346.3,1254.7 L346.7,1254.7 L347.1,1254.7 L347.5,1254.7 L347.8,1254.7 L348.2,1254.7 L348.6,1254.6 L348.9,1254.6 L349.3,1254.6 L349.7,1254.6 L350.1,1254.6 L350.4,1254.6 L350.8,1254.6 L351.2,1254.6 L351.6,1254.6 L351.9,1254.6 L352.3,1254.6 L352.7,1254.6 L353.0,1254.6 L353.4,1254.6 L353.8,1254.6 L354.2,1254.5 L354.5,1254.5 L354.9,1254.5 L355.3,1254.5 L355.6,1254.5 L356.0,1254.5 L356.4,1254.5 L356.8,1254.5 L357.1,1254.5 L357.5,1254.5 L357.9,1254.5 L358.2,1254.5 L358.6,1254.5 L359.0,1254.5 L359.4,1254.5 L359.7,1254.5 L360.1,1254.5 L360.5,1254.5 L360.8,1254.5 L361.2,1254.4 L361.6,1254.4 L362.0,1254.4 L362.3,1254.4 L362.7,1254.4 L363.1,1254.4 L363.4,1254.4 L363.8,1254.4 L364.2,1254.4 L364.6,1254.4 L364.9,1254.4 L365.3,1254.4 L365.7,1254.4 L366.0,1254.4 L366.4,1254.4 L366.8,1254.4 L367.2,1254.4 L367.5,1254.4 L367.9,1254.4 L368.3,1254.4 L368.6,1254.4 L369.0,1254.4 L369.4,1254.4 L369.8,1254.4 L370.1,1254.3 L370.5,1254.3 L370.9,1254.3 L371.2,1254.3 L371.6,1254.3 L372.0,1254.3 L372.4,1254.3 L372.7,1254.3 L373.1,1254.3 L373.5,1254.3 L373.8,1254.3 L374.2,1254.3 L374.6,1254.3 L375.0,1254.3 L375.3,1254.3 L375.7,1254.3 L376.1,1254.3 L376.5,1254.3 L376.8,1254.3 L377.2,1254.3 L377.6,1254.3 L377.9,1254.3 L378.3,1254.3 L378.7,1254.3 L379.1,1254.3 L379.4,1254.3 L379.8,1254.3 L380.2,1254.3 L380.5,1254.3 L380.9,1254.3 L381.3,1254.3 L381.7,1254.3 L382.0,1254.3 L382.4,1254.3 L382.8,1254.3 L383.1,1254.3 L383.5,1254.3 L383.9,1254.3 L384.3,1254.3 L384.6,1254.3 L385.0,1254.3 L385.4,1254.3 L385.7,1254.3 L386.1,1254.3 L386.5,1254.3 L386.9,1254.3 L387.2,1254.3 L387.6,1254.3 L388.0,1254.3 L388.3,1254.3 L388.7,1254.3 L389.1,1254.3 L389.5,1254.3 L389.8,1254.3 L390.2,1254.3 L390.6,1254.3 L390.9,1254.3 L391.3,1254.3 L391.7,1254.3 L392.1,1254.3 L392.4,1254.3 L392.8,1254.3 L393.2,1254.3 L393.5,1254.3 L393.9,1254.3 L394.3,1254.3 L394.7,1254.3 L395.0,1254.3 L395.4,1254.3 L395.8,1254.3 L396.1,1254.3 L396.5,1254.3 L396.9,1254.3 L397.3,1254.3 L397.6,1254.3 L398.0,1254.3 L398.4,1254.3 L398.8,1254.3 L399.1,1254.3 L399.5,1254.3 L399.9,1254.3 L400.2,1254.3 L400.6,1254.3 L401.0,1254.3 L401.4,1254.3 L401.7,1254.3 L402.1,1254.3 L402.5,1254.3 L402.8,1254.3 L403.2,1254.3 L403.6,1254.4 L404.0,1254.4 L404.3,1254.4 L404.7,1254.4 L405.1,1254.4 L405.4,1254.4 L405.8,1254.4 L406.2,1254.4 L406.6,1254.4 L406.9,1254.4 L407.3,1254.4 L407.7,1254.4 L408.0,1254.4 L408.4,1254.4 L408.8,1254.4 L409.2,1254.4 L409.5,1254.4 L409.9,1254.4 L410.3,1254.4 L410.6,1254.4 L411.0,1254.4 L411.4,1254.4 L411.8,1254.5 L412.1,1254.5 L412.5,1254.5 L412.9,1254.5 L413.2,1254.5 L413.6,1254.5 L414.0,1254.5 L414.4,1254.5 L414.7,1254.5 L415.1,1254.5 L415.5,1254.5 L415.8,1254.5 L416.2,1254.5 L416.6,1254.5 L417.0,1254.5 L417.3,1254.6 L417.7,1254.6 L418.1,1254.6 L418.4,1254.6 L418.8,1254.6 L419.2,1254.6 L419.6,1254.6 L419.9,1254.6 L420.3,1254.6 L420.7,1254.6 L421.0,1254.6 L421.4,1254.6 L421.8,1254.6 L422.2,1254.7 L422.5,1254.7 L422.9,1254.7 L423.3,1254.7 L423.7,1254.7 L424.0,1254.7 L424.4,1254.7 L424.8,1254.7 L425.1,1254.7 L425.5,1254.7 L425.9,1254.7 L426.3,1254.7 L426.6,1254.8 L427.0,1254.8 L427.4,1254.8 L427.7,1254.8 L428.1,1254.8 L428.5,1254.8 L428.9,1254.8 L429.2,1254.8 L429.6,1254.8 L430.0,1254.8 L430.3,1254.9 L430.7,1254.9 L431.1,1254.9 L431.5,1254.9 L431.8,1254.9 L432.2,1254.9 L432.6,1254.9 L432.9,1254.9 L433.3,1254.9 L433.7,1255.0 L434.1,1255.0 L434.4,1255.0 L434.8,1255.0 L435.2,1255.0 L435.5,1255.0 L435.9,1255.0 L436.3,1255.0 L436.7,1255.1 L437.0,1255.1 L437.4,1255.1 L437.8,1255.1 L438.1,1255.1 L438.5,1255.1 L438.9,1255.1 L439.3,1255.1 L439.6,1255.2 L440.0,1255.2 L440.4,1255.2 L440.7,1255.2 L441.1,1255.2 L441.5,1255.2 L441.9,1255.2 L442.2,1255.2 L442.6,1255.3 L443.0,1255.3 L443.3,1255.3 L443.7,1255.3 L444.1,1255.3 L444.5,1255.3 L444.8,1255.3 L445.2,1255.4 L445.6,1255.4 L445.9,1255.4 L446.3,1255.4 L446.7,1255.4 L447.1,1255.4 L447.4,1255.4 L447.8,1255.5 L448.2,1255.5 L448.6,1255.5 L448.9,1255.5 L449.3,1255.5 L449.7,1255.5 L450.0,1255.6 L450.4,1255.6 L450.8,1255.6 L451.2,1255.6 L451.5,1255.6 L451.9,1255.6 L452.3,1255.7 L452.6,1255.7 L453.0,1255.7 L453.4,1255.7 L453.8,1255.7 L454.1,1255.7 L454.5,1255.8 L454.9,1255.8 L455.2,1255.8 L455.6,1255.8 L456.0,1255.8 L456.4,1255.8 L456.7,1255.9 L457.1,1255.9 L457.5,1255.9 L457.8,1255.9 L458.2,1255.9 L458.6,1256.0 L459.0,1256.0 L459.3,1256.0 L459.7,1256.0 L460.1,1256.0 L460.4,1256.1 L460.8,1256.1 L461.2,1256.1 L461.6,1256.1 L461.9,1256.1 L462.3,1256.1 L462.7,1256.2 L463.0,1256.2 L463.4,1256.2 L463.8,1256.2 L464.2,1256.2 L464.5,1256.3 L464.9,1256.3 L465.3,1256.3 L465.6,1256.3 L466.0,1256.3 L466.4,1256.4 L466.8,1256.4 L467.1,1256.4 L467.5,1256.4 L467.9,1256.5 L468.2,1256.5 L468.6,1256.5 L469.0,1256.5 L469.4,1256.5 L469.7,1256.6 L470.1,1256.6 L470.5,1256.6 L470.9,1256.6 L471.2,1256.7 L471.6,1256.7 L472.0,1256.7 L472.3,1256.7 L472.7,1256.7 L473.1,1256.8 L473.5,1256.8 L473.8,1256.8 L474.2,1256.8 L474.6,1256.9 L474.9,1256.9 L475.3,1256.9 L475.7,1256.9 L476.1,1257.0 L476.4,1257.0 L476.8,1257.0 L477.2,1257.0 L477.5,1257.0 L477.9,1257.1 L478.3,1257.1 L478.7,1257.1 L479.0,1257.1 L479.4,1257.2 L479.8,1257.2 L480.1,1257.2 L480.5,1257.2 L480.9,1257.3 L481.3,1257.3 L481.6,1257.3 L482.0,1257.4 L482.4,1257.4 L482.7,1257.4 L483.1,1257.4 L483.5,1257.5 L483.9,1257.5 L484.2,1257.5 L484.6,1257.5 L485.0,1257.6 L485.3,1257.6 L485.7,1257.6 L486.1,1257.6 L486.5,1257.7 L486.8,1257.7 L487.2,1257.7 L487.6,1257.8 L487.9,1257.8 L488.3,1257.8 L488.7,1257.8 L489.1,1257.9 L489.4,1257.9 L489.8,1257.9 L490.2,1257.9 L490.5,1258.0 L490.9,1258.0 L491.3,1258.0 L491.7,1258.1 L492.0,1258.1 L492.4,1258.1 L492.8,1258.1 L493.1,1258.2 L493.5,1258.2 L493.9,1258.2 L494.3,1258.3 L494.6,1258.3 L495.0,1258.3 L495.4,1258.4 L495.8,1258.4 L496.1,1258.4 L496.5,1258.4 L496.9,1258.5 L497.2,1258.5 L497.6,1258.5 L498.0,1258.6 L498.4,1258.6 L498.7,1258.6 L499.1,1258.7 L499.5,1258.7 L499.8,1258.7 L500.2,1258.8 L500.6,1258.8 L501.0,1258.8 L501.3,1258.9 L501.7,1258.9 L502.1,1258.9 L502.4,1258.9 L502.8,1259.0 L503.2,1259.0 L503.6,1259.0 L503.9,1259.1 L504.3,1259.1 L504.7,1259.1 L505.0,1259.2 L505.4,1259.2 L505.8,1259.2 L506.2,1259.3 L506.5,1259.3 L506.9,1259.3 L507.3,1259.4 L507.6,1259.4 L508.0,1259.4 L508.4,1259.5 L508.8,1259.5 L509.1,1259.6 L509.5,1259.6 L509.9,1259.6 L510.2,1259.7 L510.6,1259.7 L511.0,1259.7 L511.4,1259.8 L511.7,1259.8 L512.1,1259.8 L512.5,1259.9 L512.8,1259.9 L513.2,1259.9 L513.6,1260.0 L514.0,1260.0 L514.3,1260.0 L514.7,1260.1 L515.1,1260.1 L515.4,1260.2 L515.8,1260.2 L516.2,1260.2 L516.6,1260.3 L516.9,1260.3 L517.3,1260.3 L517.7,1260.4 L518.0,1260.4 L518.4,1260.5 L518.8,1260.5 L519.2,1260.5 L519.5,1260.6 L519.9,1260.6 L520.3,1260.6 L520.7,1260.7 L521.0,1260.7 L521.4,1260.8 L521.8,1260.8 L522.1,1260.8 L522.5,1260.9 L522.9,1260.9 L523.3,1261.0 L523.6,1261.0 L524.0,1261.0 L524.4,1261.1 L524.7,1261.1 L525.1,1261.2 L525.5,1261.2 L525.9,1261.2 L526.2,1261.3 L526.6,1261.3 L527.0,1261.4 L527.3,1261.4 L527.7,1261.4 L528.1,1261.5 L528.5,1261.5 L528.8,1261.6 L529.2,1261.6 L529.6,1261.6 L529.9,1261.7 L530.3,1261.7 L530.7,1261.8 L531.1,1261.8 L531.4,1261.8 L531.8,1261.9 L532.2,1261.9 L532.5,1262.0 L532.9,1262.0 L533.3,1262.1 L533.7,1262.1 L534.0,1262.1 L534.4,1262.2 L534.8,1262.2 L535.1,1262.3 L535.5,1262.3 L535.9,1262.4 L536.3,1262.4 L536.6,1262.4 L537.0,1262.5 L537.4,1262.5 L537.7,1262.6 L538.1,1262.6 L538.5,1262.7 L538.9,1262.7 L539.2,1262.8 L539.6,1262.8 L540.0,1262.8 L540.3,1262.9 L540.7,1262.9 L541.1,1263.0 L541.5,1263.0 L541.8,1263.1 L542.2,1263.1 L542.6,1263.2 L543.0,1263.2 L543.3,1263.3 L543.7,1263.3 L544.1,1263.3 L544.4,1263.4 L544.8,1263.4 L545.2,1263.5 L545.6,1263.5 L545.9,1263.6 L546.3,1263.6 L546.7,1263.7 L547.0,1263.7 L547.4,1263.8 L547.8,1263.8 L548.2,1263.9 L548.5,1263.9 L548.9,1264.0 L549.3,1264.0 L549.6,1264.1 L550.0,1264.1 L550.4,1264.2 L550.8,1264.2 L551.1,1264.3 L551.5,1264.3 L551.9,1264.3 L552.2,1264.4 L552.6,1264.4 L553.0,1264.5 L553.4,1264.5 L553.7,1264.6 L554.1,1264.6 L554.5,1264.7 L554.8,1264.7 L555.2,1264.8 L555.6,1264.8 L556.0,1264.9 L556.3,1264.9 L556.7,1265.0 L557.1,1265.0 L557.4,1265.1 L557.8,1265.1 L558.2,1265.2 L558.6,1265.2 L558.9,1265.3 L559.3,1265.3 L559.7,1265.4 L560.0,1265.5 L560.4,1265.5 L560.8,1265.6 L561.2,1265.6 L561.5,1265.7 L561.9,1265.7 L562.3,1265.8 L562.6,1265.8 L563.0,1265.9 L563.4,1265.9 L563.8,1266.0 L564.1,1266.0 L564.5,1266.1 L564.9,1266.1 L565.2,1266.2 L565.6,1266.2 L566.0,1266.3 L566.4,1266.3 L566.7,1266.4 L567.1,1266.5 L567.5,1266.5 L567.9,1266.6 L568.2,1266.6 L568.6,1266.7 L569.0,1266.7 L569.3,1266.8 L569.7,1266.8 L570.1,1266.9 L570.5,1266.9 L570.8,1267.0 L571.2,1267.1 L571.6,1267.1 L571.9,1267.2 L572.3,1267.2 L572.7,1267.3 L573.1,1267.3 L573.4,1267.4 L573.8,1267.4 L574.2,1267.5 L574.5,1267.6 L574.9,1267.6 L575.3,1267.7 L575.7,1267.7 L576.0,1267.8 L576.4,1267.8 L576.8,1267.9 L577.1,1268.0 L577.5,1268.0 L577.9,1268.1 L578.3,1268.1 L578.6,1268.2 L579.0,1268.2 L579.4,1268.3 L579.7,1268.4 L580.1,1268.4 L580.5,1268.5 L580.9,1268.5 L581.2,1268.6 L581.6,1268.7 L582.0,1268.7 L582.3,1268.8 L582.7,1268.8 L583.1,1268.9 L583.5,1268.9 L583.8,1269.0 L584.2,1269.1 L584.6,1269.1 L584.9,1269.2 L585.3,1269.2 L585.7,1269.3 L586.1,1269.4 L586.4,1269.4 L586.8,1269.5 L587.2,1269.5 L587.5,1269.6 L587.9,1269.7 L588.3,1269.7 L588.7,1269.8 L589.0,1269.9 L589.4,1269.9 L589.8,1270.0 L590.2,1270.0 L590.5,1270.1 L590.9,1270.2 L591.3,1270.2 L591.6,1270.3 L592.0,1270.3 L592.4,1270.4 L592.8,1270.5 L593.1,1270.5 L593.5,1270.6 L593.9,1270.7 L594.2,1270.7 L594.6,1270.8 L595.0,1270.8 L595.4,1270.9 L595.7,1271.0 L596.1,1271.0 L596.5,1271.1 L596.8,1271.2 L597.2,1271.2 L597.6,1271.3 L598.0,1271.4 L598.3,1271.4 L598.7,1271.5 L599.1,1271.5 L599.4,1271.6 L599.8,1271.7 L600.2,1271.7 L600.6,1271.8 L600.9,1271.9 L601.3,1271.9 L601.7,1272.0 L602.0,1272.1 L602.4,1272.1 L602.8,1272.2 L603.2,1272.3 L603.5,1272.3 L603.9,1272.4 L604.3,1272.5 L604.6,1272.5 L605.0,1272.6 L605.4,1272.7 L605.8,1272.7 L606.1,1272.8 L606.5,1272.9 L606.9,1272.9 L607.2,1273.0 L607.6,1273.1 L608.0,1273.1 L608.4,1273.2 L608.7,1273.3 L609.1,1273.3 L609.5,1273.4 L609.8,1273.5 L610.2,1273.5 L610.6,1273.6 L611.0,1273.7 L611.3,1273.7 L611.7,1273.8 L612.1,1273.9 L612.4,1273.9 L612.8,1274.0 L613.2,1274.1 L613.6,1274.2 L613.9,1274.2 L614.3,1274.3 L614.7,1274.4 L615.1,1274.4 L615.4,1274.5 L615.8,1274.6 L616.2,1274.6 L616.5,1274.7 L616.9,1274.8 L617.3,1274.8 L617.7,1274.9 L618.0,1275.0 L618.4,1275.1 L618.8,1275.1 L619.1,1275.2 L619.5,1275.3 L619.9,1275.3 L620.3,1275.4 L620.6,1275.5 L621.0,1275.6 L621.4,1275.6 L621.7,1275.7 L622.1,1275.8 L622.5,1275.8 L622.9,1275.9 L623.2,1276.0 L623.6,1276.1 L624.0,1276.1 L624.3,1276.2 L624.7,1276.3 L625.1,1276.3 L625.5,1276.4 L625.8,1276.5 L626.2,1276.6 L626.6,1276.6 L626.9,1276.7 L627.3,1276.8 L627.7,1276.9 L628.1,1276.9 L628.4,1277.0 L628.8,1277.1 L629.2,1277.2 L629.5,1277.2 L629.9,1277.3 L630.3,1277.4 L630.7,1277.4 L631.0,1277.5 L631.4,1277.6 L631.8,1277.7 L632.1,1277.7 L632.5,1277.8 L632.9,1277.9 L633.3,1278.0 L633.6,1278.0 L634.0,1278.1 L634.4,1278.2 L634.7,1278.3 L635.1,1278.3 L635.5,1278.4 L635.9,1278.5 L636.2,1278.6 L636.6,1278.6 L637.0,1278.7 L637.3,1278.8 L637.7,1278.9 L638.1,1279.0 L638.5,1279.0 L638.8,1279.1 L639.2,1279.2 L639.6,1279.3 L640.0,1279.3 L640.3,1279.4 L640.7,1279.5 L641.1,1279.6 L641.4,1279.6 L641.8,1279.7 L642.2,1279.8 L642.6,1279.9 L642.9,1280.0 L643.3,1280.0 L643.7,1280.1 L644.0,1280.2 L644.4,1280.3 L644.8,1280.3 L645.2,1280.4 L645.5,1280.5 L645.9,1280.6 L646.3,1280.7 L646.6,1280.7 L647.0,1280.8 L647.4,1280.9 L647.8,1281.0 L648.1,1281.1 L648.5,1281.1 L648.9,1281.2 L649.2,1281.3 L649.6,1281.4 L650.0,1281.4 L650.4,1281.5 L650.7,1281.6 L651.1,1281.7 L651.5,1281.8 L651.8,1281.8 L652.2,1281.9 L652.6,1282.0 L653.0,1282.1 L653.3,1282.2 L653.7,1282.3 L654.1,1282.3 L654.4,1282.4 L654.8,1282.5 L655.2,1282.6 L655.6,1282.7 L655.9,1282.7 L656.3,1282.8 L656.7,1282.9 L657.0,1283.0 L657.4,1283.1 L657.8,1283.1 L658.2,1283.2 L658.5,1283.3 L658.9,1283.4 L659.3,1283.5 L659.6,1283.6 L660.0,1283.6 L660.4,1283.7 L660.8,1283.8 L661.1,1283.9 L661.5,1284.0 L661.9,1284.1 L662.3,1284.1 L662.6,1284.2 L663.0,1284.3 L663.4,1284.4 L663.7,1284.5 L664.1,1284.6 L664.5,1284.6 L664.9,1284.7 L665.2,1284.8 L665.6,1284.9 L666.0,1285.0 L666.3,1285.1 L666.7,1285.1 L667.1,1285.2 L667.5,1285.3 L667.8,1285.4 L668.2,1285.5 L668.6,1285.6 L668.9,1285.6 L669.3,1285.7 L669.7,1285.8 L670.1,1285.9 L670.4,1286.0 L670.8,1286.1 L671.2,1286.2 L671.5,1286.2 L671.9,1286.3 L672.3,1286.4 L672.7,1286.5 L673.0,1286.6 L673.4,1286.7 L673.8,1286.8 L674.1,1286.8 L674.5,1286.9 L674.9,1287.0 L675.3,1287.1 L675.6,1287.2 L676.0,1287.3 L676.4,1287.4 L676.7,1287.4 L677.1,1287.5 L677.5,1287.6 L677.9,1287.7 L678.2,1287.8 L678.6,1287.9 L679.0,1288.0 L679.3,1288.1 L679.7,1288.1 L680.1,1288.2 L680.5,1288.3 L680.8,1288.4 L681.2,1288.5 L681.6,1288.6 L681.9,1288.7 L682.3,1288.8 L682.7,1288.8 L683.1,1288.9 L683.4,1289.0 L683.8,1289.1 L684.2,1289.2 L684.5,1289.3 L684.9,1289.4 L685.3,1289.5 L685.7,1289.6 L686.0,1289.6 L686.4,1289.7 L686.8,1289.8 L687.2,1289.9 L687.5,1290.0 L687.9,1290.1 L688.3,1290.2 L688.6,1290.3 L689.0,1290.4 L689.4,1290.4 L689.8,1290.5 L690.1,1290.6 L690.5,1290.7 L690.9,1290.8 L691.2,1290.9 L691.6,1291.0 L692.0,1291.1 L692.4,1291.2 L692.7,1291.3 L693.1,1291.3 L693.5,1291.4 L693.8,1291.5 L694.2,1291.6 L694.6,1291.7 L695.0,1291.8 L695.3,1291.9 L695.7,1292.0 L696.1,1292.1 L696.4,1292.2 L696.8,1292.3 L697.2,1292.3 L697.6,1292.4 L697.9,1292.5 L698.3,1292.6 L698.7,1292.7 L699.0,1292.8 L699.4,1292.9 L699.8,1293.0 L700.2,1293.1 L700.5,1293.2 L700.9,1293.3 L701.3,1293.4 L701.6,1293.4 L702.0,1293.5 L702.4,1293.6 L702.8,1293.7 L703.1,1293.8 L703.5,1293.9 L703.9,1294.0 L704.2,1294.1 L704.6,1294.2 L705.0,1294.3 L705.4,1294.4 L705.7,1294.5 L706.1,1294.6 L706.5,1294.7 L706.8,1294.7 L707.2,1294.8 L707.6,1294.9 L708.0,1295.0 L708.3,1295.1 L708.7,1295.2 L709.1,1295.3 L709.4,1295.4 L709.8,1295.5 L710.2,1295.6 L710.6,1295.7 L710.9,1295.8 L711.3,1295.9 L711.7,1296.0 L712.1,1296.1 L712.4,1296.2 L712.8,1296.2 L713.2,1296.3 L713.5,1296.4 L713.9,1296.5 L714.3,1296.6 L714.7,1296.7 L715.0,1296.8 L715.4,1296.9 L715.8,1297.0 L716.1,1297.1 L716.5,1297.2 L716.9,1297.3 L717.3,1297.4 L717.6,1297.5 L718.0,1297.6 L718.4,1297.7 L718.7,1297.8 L719.1,1297.9 L719.5,1298.0 L719.9,1298.1 L720.2,1298.2 L720.6,1298.2 L721.0,1298.3 L721.3,1298.4 L721.7,1298.5 L722.1,1298.6 L722.5,1298.7 L722.8,1298.8 L723.2,1298.9 L723.6,1299.0 L723.9,1299.1 L724.3,1299.2 L724.7,1299.3 L725.1,1299.4 L725.4,1299.5 L725.8,1299.6 L726.2,1299.7 L726.5,1299.8 L726.9,1299.9 L727.3,1300.0 L727.7,1300.1 L728.0,1300.2 L728.4,1300.3 L728.8,1300.4 L729.1,1300.5 L729.5,1300.6 L729.9,1300.7 L730.3,1300.8 L730.6,1300.9 L731.0,1301.0 L731.4,1301.1 L731.7,1301.2 L732.1,1301.2 L732.5,1301.3 L732.9,1301.4 L733.2,1301.5 L733.6,1301.6 L734.0,1301.7 L734.4,1301.8 L734.7,1301.9 L735.1,1302.0 L735.5,1302.1 L735.8,1302.2 L736.2,1302.3 L736.6,1302.4 L737.0,1302.5 L737.3,1302.6 L737.7,1302.7 L738.1,1302.8 L738.4,1302.9 L738.8,1303.0 L739.2,1303.1 L739.6,1303.2 L739.9,1303.3 L740.3,1303.4 L740.7,1303.5 L741.0,1303.6 L741.4,1303.7 L741.8,1303.8 L742.2,1303.9 L742.5,1304.0 L742.9,1304.1 L743.3,1304.2 L743.6,1304.3 L744.0,1304.4 L744.4,1304.5 L744.8,1304.6 L745.1,1304.7 L745.5,1304.8 L745.9,1304.9 L746.2,1305.0 L746.6,1305.1 L747.0,1305.2 L747.4,1305.3 L747.7,1305.4 L748.1,1305.5 L748.5,1305.6 L748.8,1305.7 L749.2,1305.8 L749.6,1305.9 L750.0,1306.0 L750.3,1306.1 L750.7,1306.2 L751.1,1306.3 L751.4,1306.4 L751.8,1306.5 L752.2,1306.6 L752.6,1306.7 L752.9,1306.8 L753.3,1306.9 L753.7,1307.0 L754.0,1307.1 L754.4,1307.2 L754.8,1307.3 L755.2,1307.4 L755.5,1307.5 L755.9,1307.6 L756.3,1307.7 L756.6,1307.8 L757.0,1307.9 L757.4,1308.0 L757.8,1308.1 L758.1,1308.2 L758.5,1308.3 L758.9,1308.4 L759.3,1308.5 L759.6,1308.6 L760.0,1308.7 L760.4,1308.8 L760.7,1308.9 L761.1,1309.0 L761.5,1309.1 L761.9,1309.2 L762.2,1309.3 L762.6,1309.4 L763.0,1309.5 L763.3,1309.6 L763.7,1309.7 L764.1,1309.8 L764.5,1309.9 L764.8,1310.0 L765.2,1310.1 L765.6,1310.2 L765.9,1310.3 L766.3,1310.4 L766.7,1310.5 L767.1,1310.6 L767.4,1310.7 L767.8,1310.8 L768.2,1311.0 L768.5,1311.1 L768.9,1311.2 L769.3,1311.3 L769.7,1311.4 L770.0,1311.5 L770.4,1311.6 L770.8,1311.7 L771.1,1311.8 L771.5,1311.9 L771.9,1312.0 L772.3,1312.1 L772.6,1312.2 L773.0,1312.3 L773.4,1312.4 L773.7,1312.5 L774.1,1312.6 L774.5,1312.7 L774.9,1312.8 L775.2,1312.9 L775.6,1313.0 L776.0,1313.1 L776.3,1313.2 L776.7,1313.3 L777.1,1313.4 L777.5,1313.5 L777.8,1313.6 L778.2,1313.7 L778.6,1313.8 L778.9,1313.9 L779.3,1314.0 L779.7,1314.1 L780.1,1314.2 L780.4,1314.3 L780.8,1314.4 L781.2,1314.5 L781.5,1314.6 L781.9,1314.7 L782.3,1314.8 L782.7,1314.9 L783.0,1315.0 L783.4,1315.1 L783.8,1315.2 L784.2,1315.3 L784.5,1315.4 L784.9,1315.5 L785.3,1315.6 L785.6,1315.6 L786.0,1315.7 L786.4,1315.8 L786.8,1315.9 L787.1,1316.0 L787.5,1316.1 L787.9,1316.2 L788.2,1316.3 L788.6,1316.3 L789.0,1316.4 L789.4,1316.5 L789.7,1316.6 L790.1,1316.6 L790.5,1316.7 L790.8,1316.8 L791.2,1316.8 L791.6,1316.9 L792.0,1316.9 L792.3,1317.0 L792.7,1317.0 L793.1,1317.0 L793.4,1317.0 L793.8,1317.1 L794.2,1317.1 L794.6,1317.1 L794.9,1317.1 L795.3,1317.0 L795.7,1317.0 L796.0,1317.0 L796.4,1316.9 L796.8,1316.8 L797.2,1316.8 L797.5,1316.6 L797.9,1316.5 L798.3,1316.4 L798.6,1316.2 L799.0,1316.0 L799.4,1315.8 L799.8,1315.6 L800.1,1315.3 L800.5,1315.0 L800.9,1314.7 L801.2,1314.3 L801.6,1313.9 L802.0,1313.4 L802.4,1312.9 L802.7,1312.4 L803.1,1311.8 L803.5,1311.1 L803.8,1310.4 L804.2,1309.7 L804.6,1308.8 L805.0,1307.9 L805.3,1307.0 L805.7,1305.9 L806.1,1304.8 L806.5,1303.6 L806.8,1302.3 L807.2,1300.9 L807.6,1299.4 L807.9,1297.8 L808.3,1296.2 L808.7,1294.4 L809.1,1292.4 L809.4,1290.4 L809.8,1288.3 L810.2,1286.0 L810.5,1283.6 L810.9,1281.0 L811.3,1278.4 L811.7,1275.6 L812.0,1272.6 L812.4,1269.5 L812.8,1266.3 L813.1,1262.9 L813.5,1259.3 L813.9,1255.6 L814.3,1251.8 L814.6,1247.8 L815.0,1243.7 L815.4,1239.4 L815.7,1234.9 L816.1,1230.4 L816.5,1225.6 L816.9,1220.8 L817.2,1215.8 L817.6,1210.6 L818.0,1205.4 L818.3,1200.0 L818.7,1194.5 L819.1,1188.8 L819.5,1183.1 L819.8,1177.3 L820.2,1171.3 L820.6,1165.3 L820.9,1159.2 L821.3,1153.1 L821.7,1146.8 L822.1,1140.5 L822.4,1134.2 L822.8,1127.8 L823.2,1121.4 L823.5,1115.0 L823.9,1108.5 L824.3,1102.0 L824.7,1095.6 L825.0,1089.1 L825.4,1082.7 L825.8,1076.2 L826.1,1069.8 L826.5,1063.5 L826.9,1057.1 L827.3,1050.9 L827.6,1044.6 L828.0,1038.5 L828.4,1032.4 L828.7,1026.4 L829.1,1020.4 L829.5,1014.5 L829.9,1008.8 L830.2,1003.1 L830.6,997.4 L831.0,991.9 L831.4,986.5 L831.7,981.2 L832.1,976.0 L832.5,970.9 L832.8,965.9 L833.2,961.0 L833.6,956.2 L834.0,951.5 L834.3,946.9 L834.7,942.4 L835.1,938.1 L835.4,933.8 L835.8,929.7 L836.2,925.6 L836.6,921.7 L836.9,917.9 L837.3,914.2 L837.7,910.5 L838.0,907.0 L838.4,903.6 L838.8,900.3 L839.2,897.1 L839.5,894.0 L839.9,891.0 L840.3,888.0 L840.6,885.2 L841.0,882.4 L841.4,879.8 L841.8,877.2 L842.1,874.7 L842.5,872.3 L842.9,869.9 L843.2,867.7 L843.6,865.5 L844.0,863.4 L844.4,861.4 L844.7,859.4 L845.1,857.5 L845.5,855.7 L845.8,853.9 L846.2,852.2 L846.6,850.5 L847.0,848.9 L847.3,847.4 L847.7,845.9 L848.1,844.5 L848.4,843.1 L848.8,841.8 L849.2,840.5 L849.6,839.3 L849.9,838.1 L850.3,837.0 L850.7,835.9 L851.0,834.8 L851.4,833.8 L851.8,832.8 L852.2,831.9 L852.5,831.0 L852.9,830.1 L853.3,829.2 L853.6,828.4 L854.0,827.6 L854.4,826.9 L854.8,826.2 L855.1,825.5 L855.5,824.8 L855.9,824.2 L856.3,823.6 L856.6,823.0 L857.0,822.4 L857.4,821.8 L857.7,821.3 L858.1,820.8 L858.5,820.3 L858.9,819.8 L859.2,819.4 L859.6,819.0 L860.0,818.5 L860.3,818.1 L860.7,817.8 L861.1,817.4 L861.5,817.0 L861.8,816.7 L862.2,816.4 L862.6,816.0 L862.9,815.7 L863.3,815.5 L863.7,815.2 L864.1,814.9 L864.4,814.6 L864.8,814.4 L865.2,814.2 L865.5,813.9 L865.9,813.7 L866.3,813.5 L866.7,813.3 L867.0,813.1 L867.4,812.9 L867.8,812.7 L868.1,812.6 L868.5,812.4 L868.9,812.2 L869.3,812.1 L869.6,811.9 L870.0,811.8 L870.4,811.7 L870.7,811.5 L871.1,811.4 L871.5,811.3 L871.9,811.2 L872.2,811.1 L872.6,810.9 L873.0,810.8 L873.3,810.7 L873.7,810.7 L874.1,810.6 L874.5,810.5 L874.8,810.4 L875.2,810.3 L875.6,810.2 L875.9,810.2 L876.3,810.1 L876.7,810.0 L877.1,810.0 L877.4,809.9 L877.8,809.8 L878.2,809.8 L878.6,809.7 L878.9,809.7 L879.3,809.6 L879.7,809.6 L880.0,809.5 L880.4,809.5 L880.8,809.4 L881.2,809.4 L881.5,809.3 L881.9,809.3 L882.3,809.3 L882.6,809.2 L883.0,809.2 L883.4,809.2 L883.8,809.1 L884.1,809.1 L884.5,809.1 L884.9,809.0 L885.2,809.0 L885.6,809.0 L886.0,809.0 L886.4,808.9 L886.7,808.9 L887.1,808.9 L887.5,808.9 L887.8,808.9 L888.2,808.8 L888.6,808.8 L889.0,808.8 L889.3,808.8 L889.7,808.8" stroke="#d70000"/>
<path d="M146.8,1250.2 L147.1,1250.6 L147.5,1250.8 L147.9,1251.1 L148.3,1251.3 L148.6,1251.5 L149.0,1251.6 L149.4,1251.8 L149.7,1251.9 L150.1,1252.0 L150.5,1252.1 L150.9,1252.2 L151.2,1252.2 L151.6,1252.3 L152.0,1252.4 L152.3,1252.4 L152.7,1252.5 L153.1,1252.5 L153.5,1252.5 L153.8,1252.6 L154.2,1252.6 L154.6,1252.6 L154.9,1252.6 L155.3,1252.6 L155.7,1252.7 L156.1,1252.7 L156.4,1252.7 L156.8,1252.7 L157.2,1252.7 L157.5,1252.7 L157.9,1252.7 L158.3,1252.7 L158.7,1252.7 L159.0,1252.8 L159.4,1252.8 L159.8,1252.8 L160.2,1252.8 L160.5,1252.8 L160.9,1252.8 L161.3,1252.8 L161.6,1252.8 L162.0,1252.8 L162.4,1252.8 L162.8,1252.8 L163.1,1252.8 L163.5,1252.8 L163.9,1252.8 L164.2,1252.8 L164.6,1252.8 L165.0,1252.8 L165.4,1252.8 L165.7,1252.8 L166.1,1252.8 L166.5,1252.8 L166.8,1252.8 L167.2,1252.8 L167.6,1252.8 L168.0,1252.8 L168.3,1252.8 L168.7,1252.8 L169.1,1252.8 L169.4,1252.8 L169.8,1252.8 L170.2,1252.8 L170.6,1252.8 L170.9,1252.8 L171.3,1252.8 L171.7,1252.8 L172.0,1252.8 L172.4,1252.8 L172.8,1252.8 L173.2,1252.8 L173.5,1252.8 L173.9,1252.8 L174.3,1252.8 L174.6,1252.8 L175.0,1252.8 L175.4,1252.8 L175.8,1252.8 L176.1,1252.8 L176.5,1252.8 L176.9,1252.8 L177.2,1252.8 L177.6,1252.8 L178.0,1252.8 L178.4,1252.8 L178.7,1252.8 L179.1,1252.8 L179.5,1252.8 L179.8,1252.8 L180.2,1252.8 L180.6,1252.8 L181.0,1252.8 L181.3,1252.7 L181.7,1252.7 L182.1,1252.7 L182.5,1252.7 L182.8,1252.7 L183.2,1252.7 L183.6,1252.7 L183.9,1252.7 L184.3,1252.7 L184.7,1252.7 L185.1,1252.7 L185.4,1252.7 L185.8,1252.7 L186.2,1252.7 L186.5,1252.7 L186.9,1252.7 L187.3,1252.7 L187.7,1252.7 L188.0,1252.7 L188.4,1252.7 L188.8,1252.7 L189.1,1252.7 L189.5,1252.7 L189.9,1252.7 L190.3,1252.6 L190.6,1252.6 L191.0,1252.6 L191.4,1252.6 L191.7,1252.6 L192.1,1252.6 L192.5,1252.6 L192.9,1252.6 L193.2,1252.6 L193.6,1252.6 L194.0,1252.6 L194.3,1252.6 L194.7,1252.6 L195.1,1252.6 L195.5,1252.6 L195.8,1252.6 L196.2,1252.6 L196.6,1252.5 L196.9,1252.5 L197.3,1252.5 L197.7,1252.5 L198.1,1252.5 L198.4,1252.5 L198.8,1252.5 L199.2,1252.5 L199.5,1252.5 L199.9,1252.5 L200.3,1252.5 L200.7,1252.5 L201.0,1252.5 L201.4,1252.5 L201.8,1252.4 L202.1,1252.4 L202.5,1252.4 L202.9,1252.4 L203.3,1252.4 L203.6,1252.4 L204.0,1252.4 L204.4,1252.4 L204.7,1252.4 L205.1,1252.4 L205.5,1252.4 L205.9,1252.4 L206.2,1252.4 L206.6,1252.3 L207.0,1252.3 L207.4,1252.3 L207.7,1252.3 L208.1,1252.3 L208.5,1252.3 L208.8,1252.3 L209.2,1252.3 L209.6,1252.3 L210.0,1252.3 L210.3,1252.3 L210.7,1252.3 L211.1,1252.2 L211.4,1252.2 L211.8,1252.2 L212.2,1252.2 L212.6,1252.2 L212.9,1252.2 L213.3,1252.2 L213.7,1252.2 L214.0,1252.2 L214.4,1252.2 L214.8,1252.2 L215.2,1252.1 L215.5,1252.1 L215.9,1252.1 L216.3,1252.1 L216.6,1252.1 L217.0,1252.1 L217.4,1252.1 L217.8,1252.1 L218.1,1252.1 L218.5,1252.1 L218.9,1252.0 L219.2,1252.0 L219.6,1252.0 L220.0,1252.0 L220.4,1252.0 L220.7,1252.0 L221.1,1252.0 L221.5,1252.0 L221.8,1252.0 L222.2,1252.0 L222.6,1251.9 L223.0,1251.9 L223.3,1251.9 L223.7,1251.9 L224.1,1251.9 L224.4,1251.9 L224.8,1251.9 L225.2,1251.9 L225.6,1251.9 L225.9,1251.8 L226.3,1251.8 L226.7,1251.8 L227.0,1251.8 L227.4,1251.8 L227.8,1251.8 L228.2,1251.8 L228.5,1251.8 L228.9,1251.8 L229.3,1251.7 L229.6,1251.7 L230.0,1251.7 L230.4,1251.7 L230.8,1251.7 L231.1,1251.7 L231.5,1251.7 L231.9,1251.7 L232.3,1251.7 L232.6,1251.6 L233.0,1251.6 L233.4,1251.6 L233.7,1251.6 L234.1,1251.6 L234.5,1251.6 L234.9,1251.6 L235.2,1251.6 L235.6,1251.6 L236.0,1251.5 L236.3,1251.5 L236.7,1251.5 L237.1,1251.5 L237.5,1251.5 L237.8,1251.5 L238.2,1251.5 L238.6,1251.5 L238.9,1251.4 L239.3,1251.4 L239.7,1251.4 L240.1,1251.4 L240.4,1251.4 L240.8,1251.4 L241.2,1251.4 L241.5,1251.4 L241.9,1251.3 L242.3,1251.3 L242.7,1251.3 L243.0,1251.3 L243.4,1251.3 L243.8,1251.3 L244.1,1251.3 L244.5,1251.3 L244.9,1251.2 L245.3,1251.2 L245.6,1251.2 L246.0,1251.2 L246.4,1251.2 L246.7,1251.2 L247.1,1251.2 L247.5,1251.2 L247.9,1251.1 L248.2,1251.1 L248.6,1251.1 L249.0,1251.1 L249.3,1251.1 L249.7,1251.1 L250.1,1251.1 L250.5,1251.0 L250.8,1251.0 L251.2,1251.0 L251.6,1251.0 L251.9,1251.0 L252.3,1251.0 L252.7,1251.0 L253.1,1251.0 L253.4,1250.9 L253.8,1250.9 L254.2,1250.9 L254.6,1250.9 L254.9,1250.9 L255.3,1250.9 L255.7,1250.9 L256.0,1250.8 L256.4,1250.8 L256.8,1250.8 L257.2,1250.8 L257.5,1250.8 L257.9,1250.8 L258.3,1250.8 L258.6,1250.8 L259.0,1250.7 L259.4,1250.7 L259.8,1250.7 L260.1,1250.7 L260.5,1250.7 L260.9,1250.7 L261.2,1250.7 L261.6,1250.6 L262.0,1250.6 L262.4,1250.6 L262.7,1250.6 L263.1,1250.6 L263.5,1250.6 L263.8,1250.6 L264.2,1250.5 L264.6,1250.5 L265.0,1250.5 L265.3,1250.5 L265.7,1250.5 L266.1,1250.5 L266.4,1250.5 L266.8,1250.5 L267.2,1250.4 L267.6,1250.4 L267.9,1250.4 L268.3,1250.4 L268.7,1250.4 L269.0,1250.4 L269.4,1250.4 L269.8,1250.3 L270.2,1250.3 L270.5,1250.3 L270.9,1250.3 L271.3,1250.3 L271.6,1250.3 L272.0,1250.3 L272.4,1250.2 L272.8,1250.2 L273.1,1250.2 L273.5,1250.2 L273.9,1250.2 L274.2,1250.2 L274.6,1250.2 L275.0,1250.1 L275.4,1250.1 L275.7,1250.1 L276.1,1250.1 L276.5,1250.1 L276.8,1250.1 L277.2,1250.1 L277.6,1250.0 L278.0,1250.0 L278.3,1250.0 L278.7,1250.0 L279.1,1250.0 L279.5,1250.0 L279.8,1250.0 L280.2,1249.9 L280.6,1249.9 L280.9,1249.9 L281.3,1249.9 L281.7,1249.9 L282.1,1249.9 L282.4,1249.9 L282.8,1249.8 L283.2,1249.8 L283.5,1249.8 L283.9,1249.8 L284.3,1249.8 L284.7,1249.8 L285.0,1249.8 L285.4,1249.8 L285.8,1249.7 L286.1,1249.7 L286.5,1249.7 L286.9,1249.7 L287.3,1249.7 L287.6,1249.7 L288.0,1249.7 L288.4,1249.6 L288.7,1249.6 L289.1,1249.6 L289.5,1249.6 L289.9,1249.6 L290.2,1249.6 L290.6,1249.6 L291.0,1249.5 L291.3,1249.5 L291.7,1249.5 L292.1,1249.5 L292.5,1249.5 L292.8,1249.5 L293.2,1249.5 L293.6,1249.4 L293.9,1249.4 L294.3,1249.4 L294.7,1249.4 L295.1,1249.4 L295.4,1249.4 L295.8,1249.4 L296.2,1249.3 L296.5,1249.3 L296.9,1249.3 L297.3,1249.3 L297.7,1249.3 L298.0,1249.3 L298.4,1249.3 L298.8,1249.2 L299.1,1249.2 L299.5,1249.2 L299.9,1249.2 L300.3,1249.2 L300.6,1249.2 L301.0,1249.2 L301.4,1249.2 L301.7,1249.1 L302.1,1249.1 L302.5,1249.1 L302.9,1249.1 L303.2,1249.1 L303.6,1249.1 L304.0,1249.1 L304.4,1249.0 L304.7,1249.0 L305.1,1249.0 L305.5,1249.0 L305.8,1249.0 L306.2,1249.0 L306.6,1249.0 L307.0,1248.9 L307.3,1248.9 L307.7,1248.9 L308.1,1248.9 L308.4,1248.9 L308.8,1248.9 L309.2,1248.9 L309.6,1248.9 L309.9,1248.8 L310.3,1248.8 L310.7,1248.8 L311.0,1248.8 L311.4,1248.8 L311.8,1248.8 L312.2,1248.8 L312.5,1248.8 L312.9,1248.7 L313.3,1248.7 L313.6,1248.7 L314.0,1248.7 L314.4,1248.7 L314.8,1248.7 L315.1,1248.7 L315.5,1248.6 L315.9,1248.6 L316.2,1248.6 L316.6,1248.6 L317.0,1248.6 L317.4,1248.6 L317.7,1248.6 L318.1,1248.6 L318.5,1248.5 L318.8,1248.5 L319.2,1248.5 L319.6,1248.5 L320.0,1248.5 L320.3,1248.5 L320.7,1248.5 L321.1,1248.5 L321.4,1248.4 L321.8,1248.4 L322.2,1248.4 L322.6,1248.4 L322.9,1248.4 L323.3,1248.4 L323.7,1248.4 L324.0,1248.4 L324.4,1248.3 L324.8,1248.3 L325.2,1248.3 L325.5,1248.3 L325.9,1248.3 L326.3,1248.3 L326.7,1248.3 L327.0,1248.3 L327.4,1248.2 L327.8,1248.2 L328.1,1248.2 L328.5,1248.2 L328.9,1248.2 L329.3,1248.2 L329.6,1248.2 L330.0,1248.2 L330.4,1248.2 L330.7,1248.1 L331.1,1248.1 L331.5,1248.1 L331.9,1248.1 L332.2,1248.1 L332.6,1248.1 L333.0,1248.1 L333.3,1248.1 L333.7,1248.0 L334.1,1248.0 L334.5,1248.0 L334.8,1248.0 L335.2,1248.0 L335.6,1248.0 L335.9,1248.0 L336.3,1248.0 L336.7,1248.0 L337.1,1247.9 L337.4,1247.9 L337.8,1247.9 L338.2,1247.9 L338.5,1247.9 L338.9,1247.9 L339.3,1247.9 L339.7,1247.9 L340.0,1247.9 L340.4,1247.8 L340.8,1247.8 L341.1,1247.8 L341.5,1247.8 L341.9,1247.8 L342.3,1247.8 L342.6,1247.8 L343.0,1247.8 L343.4,1247.8 L343.7,1247.8 L344.1,1247.7 L344.5,1247.7 L344.9,1247.7 L345.2,1247.7 L345.6,1247.7 L346.0,1247.7 L346.3,1247.7 L346.7,1247.7 L347.1,1247.7 L347.5,1247.7 L347.8,1247.6 L348.2,1247.6 L348.6,1247.6 L348.9,1247.6 L349.3,1247.6 L349.7,1247.6 L350.1,1247.6 L350.4,1247.6 L350.8,1247.6 L351.2,1247.6 L351.6,1247.5 L351.9,1247.5 L352.3,1247.5 L352.7,1247.5 L353.0,1247.5 L353.4,1247.5 L353.8,1247.5 L354.2,1247.5 L354.5,1247.5 L354.9,1247.5 L355.3,1247.5 L355.6,1247.4 L356.0,1247.4 L356.4,1247.4 L356.8,1247.4 L357.1,1247.4 L357.5,1247.4 L357.9,1247.4 L358.2,1247.4 L358.6,1247.4 L359.0,1247.4 L359.4,1247.4 L359.7,1247.4 L360.1,1247.3 L360.5,1247.3 L360.8,1247.3 L361.2,1247.3 L361.6,1247.3 L362.0,1247.3 L362.3,1247.3 L362.7,1247.3 L363.1,1247.3 L363.4,1247.3 L363.8,1247.3 L364.2,1247.3 L364.6,1247.3 L364.9,1247.2 L365.3,1247.2 L365.7,1247.2 L366.0,1247.2 L366.4,1247.2 L366.8,1247.2 L367.2,1247.2 L367.5,1247.2 L367.9,1247.2 L368.3,1247.2 L368.6,1247.2 L369.0,1247.2 L369.4,1247.2 L369.8,1247.2 L370.1,1247.1 L370.5,1247.1 L370.9,1247.1 L371.2,1247.1 L371.6,1247.1 L372.0,1247.1 L372.4,1247.1 L372.7,1247.1 L373.1,1247.1 L373.5,1247.1 L373.8,1247.1 L374.2,1247.1 L374.6,1247.1 L375.0,1247.1 L375.3,1247.1 L375.7,1247.1 L376.1,1247.0 L376.5,1247.0 L376.8,1247.0 L377.2,1247.0 L377.6,1247.0 L377.9,1247.0 L378.3,1247.0 L378.7,1247.0 L379.1,1247.0 L379.4,1247.0 L379.8,1247.0 L380.2,1247.0 L380.5,1247.0 L380.9,1247.0 L381.3,1247.0 L381.7,1247.0 L382.0,1247.0 L382.4,1247.0 L382.8,1247.0 L383.1,1246.9 L383.5,1246.9 L383.9,1246.9 L384.3,1246.9 L384.6,1246.9 L385.0,1246.9 L385.4,1246.9 L385.7,1246.9 L386.1,1246.9 L386.5,1246.9 L386.9,1246.9 L387.2,1246.9 L387.6,1246.9 L388.0,1246.9 L388.3,1246.9 L388.7,1246.9 L389.1,1246.9 L389.5,1246.9 L389.8,1246.9 L390.2,1246.9 L390.6,1246.9 L390.9,1246.9 L391.3,1246.9 L391.7,1246.9 L392.1,1246.9 L392.4,1246.9 L392.8,1246.9 L393.2,1246.9 L393.5,1246.9 L393.9,1246.8 L394.3,1246.8 L394.7,1246.8 L395.0,1246.8 L395.4,1246.8 L395.8,1246.8 L396.1,1246.8 L396.5,1246.8 L396.9,1246.8 L397.3,1246.8 L397.6,1246.8 L398.0,1246.8 L398.4,1246.8 L398.8,1246.8 L399.1,1246.8 L399.5,1246.8 L399.9,1246.8 L400.2,1246.8 L400.6,1246.8 L401.0,1246.8 L401.4,1246.8 L401.7,1246.8 L402.1,1246.8 L402.5,1246.8 L402.8,1246.8 L403.2,1246.8 L403.6,1246.8 L404.0,1246.8 L404.3,1246.8 L404.7,1246.8 L405.1,1246.8 L405.4,1246.8 L405.8,1246.8 L406.2,1246.8 L406.6,1246.8 L406.9,1246.8 L407.3,1246.8 L407.7,1246.8 L408.0,1246.8 L408.4,1246.8 L408.8,1246.8 L409.2,1246.8 L409.5,1246.8 L409.9,1246.8 L410.3,1246.8 L410.6,1246.8 L411.0,1246.8 L411.4,1246.8 L411.8,1246.8 L412.1,1246.8 L412.5,1246.8 L412.9,1246.8 L413.2,1246.8 L413.6,1246.8 L414.0,1246.8 L414.4,1246.8 L414.7,1246.8 L415.1,1246.8 L415.5,1246.8 L415.8,1246.8 L416.2,1246.8 L416.6,1246.8 L417.0,1246.8 L417.3,1246.8 L417.7,1246.8 L418.1,1246.9 L418.4,1246.9 L418.8,1246.9 L419.2,1246.9 L419.6,1246.9 L419.9,1246.9 L420.3,1246.9 L420.7,1246.9 L421.0,1246.9 L421.4,1246.9 L421.8,1246.9 L422.2,1246.9 L422.5,1246.9 L422.9,1246.9 L423.3,1246.9 L423.7,1246.9 L424.0,1246.9 L424.4,1246.9 L424.8,1246.9 L425.1,1246.9 L425.5,1246.9 L425.9,1246.9 L426.3,1246.9 L426.6,1246.9 L427.0,1246.9 L427.4,1246.9 L427.7,1246.9 L428.1,1247.0 L428.5,1247.0 L428.9,1247.0 L429.2,1247.0 L429.6,1247.0 L430.0,1247.0 L430.3,1247.0 L430.7,1247.0 L431.1,1247.0 L431.5,1247.0 L431.8,1247.0 L432.2,1247.0 L432.6,1247.0 L432.9,1247.0 L433.3,1247.0 L433.7,1247.0 L434.1,1247.0 L434.4,1247.1 L434.8,1247.1 L435.2,1247.1 L435.5,1247.1 L435.9,1247.1 L436.3,1247.1 L436.7,1247.1 L437.0,1247.1 L437.4,1247.1 L437.8,1247.1 L438.1,1247.1 L438.5,1247.1 L438.9,1247.1 L439.3,1247.1 L439.6,1247.2 L440.0,1247.2 L440.4,1247.2 L440.7,1247.2 L441.1,1247.2 L441.5,1247.2 L441.9,1247.2 L442.2,1247.2 L442.6,1247.2 L443.0,1247.2 L443.3,1247.2 L443.7,1247.2 L444.1,1247.3 L444.5,1247.3 L444.8,1247.3 L445.2,1247.3 L445.6,1247.3 L445.9,1247.3 L446.3,1247.3 L446.7,1247.3 L447.1,1247.3 L447.4,1247.3 L447.8,1247.4 L448.2,1247.4 L448.6,1247.4 L448.9,1247.4 L449.3,1247.4 L449.7,1247.4 L450.0,1247.4 L450.4,1247.4 L450.8,1247.4 L451.2,1247.4 L451.5,1247.5 L451.9,1247.5 L452.3,1247.5 L452.6,1247.5 L453.0,1247.5 L453.4,1247.5 L453.8,1247.5 L454.1,1247.5 L454.5,1247.5 L454.9,1247.6 L455.2,1247.6 L455.6,1247.6 L456.0,1247.6 L456.4,1247.6 L456.7,1247.6 L457.1,1247.6 L457.5,1247.6 L457.8,1247.7 L458.2,1247.7 L458.6,1247.7 L459.0,1247.7 L459.3,1247.7 L459.7,1247.7 L460.1,1247.7 L460.4,1247.8 L460.8,1247.8 L461.2,1247.8 L461.6,1247.8 L461.9,1247.8 L462.3,1247.8 L462.7,1247.8 L463.0,1247.8 L463.4,1247.9 L463.8,1247.9 L464.2,1247.9 L464.5,1247.9 L464.9,1247.9 L465.3,1247.9 L465.6,1248.0 L466.0,1248.0 L466.4,1248.0 L466.8,1248.0 L467.1,1248.0 L467.5,1248.0 L467.9,1248.0 L468.2,1248.1 L468.6,1248.1 L469.0,1248.1 L469.4,1248.1 L469.7,1248.1 L470.1,1248.1 L470.5,1248.2 L470.9,1248.2 L471.2,1248.2 L471.6,1248.2 L472.0,1248.2 L472.3,1248.2 L472.7,1248.3 L473.1,1248.3 L473.5,1248.3 L473.8,1248.3 L474.2,1248.3 L474.6,1248.3 L474.9,1248.4 L475.3,1248.4 L475.7,1248.4 L476.1,1248.4 L476.4,1248.4 L476.8,1248.4 L477.2,1248.5 L477.5,1248.5 L477.9,1248.5 L478.3,1248.5 L478.7,1248.5 L479.0,1248.6 L479.4,1248.6 L479.8,1248.6 L480.1,1248.6 L480.5,1248.6 L480.9,1248.7 L481.3,1248.7 L481.6,1248.7 L482.0,1248.7 L482.4,1248.7 L482.7,1248.8 L483.1,1248.8 L483.5,1248.8 L483.9,1248.8 L484.2,1248.8 L484.6,1248.9 L485.0,1248.9 L485.3,1248.9 L485.7,1248.9 L486.1,1248.9 L486.5,1249.0 L486.8,1249.0 L487.2,1249.0 L487.6,1249.0 L487.9,1249.0 L488.3,1249.1 L488.7,1249.1 L489.1,1249.1 L489.4,1249.1 L489.8,1249.2 L490.2,1249.2 L490.5,1249.2 L490.9,1249.2 L491.3,1249.2 L491.7,1249.3 L492.0,1249.3 L492.4,1249.3 L492.8,1249.3 L493.1,1249.4 L493.5,1249.4 L493.9,1249.4 L494.3,1249.4 L494.6,1249.5 L495.0,1249.5 L495.4,1249.5 L495.8,1249.5 L496.1,1249.6 L496.5,1249.6 L496.9,1249.6 L497.2,1249.6 L497.6,1249.6 L498.0,1249.7 L498.4,1249.7 L498.7,1249.7 L499.1,1249.7 L499.5,1249.8 L499.8,1249.8 L500.2,1249.8 L500.6,1249.8 L501.0,1249.9 L501.3,1249.9 L501.7,1249.9 L502.1,1250.0 L502.4,1250.0 L502.8,1250.0 L503.2,1250.0 L503.6,1250.1 L503.9,1250.1 L504.3,1250.1 L504.7,1250.1 L505.0,1250.2 L505.4,1250.2 L505.8,1250.2 L506.2,1250.2 L506.5,1250.3 L506.9,1250.3 L507.3,1250.3 L507.6,1250.4 L508.0,1250.4 L508.4,1250.4 L508.8,1250.4 L509.1,1250.5 L509.5,1250.5 L509.9,1250.5 L510.2,1250.6 L510.6,1250.6 L511.0,1250.6 L511.4,1250.6 L511.7,1250.7 L512.1,1250.7 L512.5,1250.7 L512.8,1250.8 L513.2,1250.8 L513.6,1250.8 L514.0,1250.8 L514.3,1250.9 L514.7,1250.9 L515.1,1250.9 L515.4,1251.0 L515.8,1251.0 L516.2,1251.0 L516.6,1251.1 L516.9,1251.1 L517.3,1251.1 L517.7,1251.2 L518.0,1251.2 L518.4,1251.2 L518.8,1251.3 L519.2,1251.3 L519.5,1251.3 L519.9,1251.3 L520.3,1251.4 L520.7,1251.4 L521.0,1251.4 L521.4,1251.5 L521.8,1251.5 L522.1,1251.5 L522.5,1251.6 L522.9,1251.6 L523.3,1251.6 L523.6,1251.7 L524.0,1251.7 L524.4,1251.7 L524.7,1251.8 L525.1,1251.8 L525.5,1251.8 L525.9,1251.9 L526.2,1251.9 L526.6,1251.9 L527.0,1252.0 L527.3,1252.0 L527.7,1252.0 L528.1,1252.1 L528.5,1252.1 L528.8,1252.1 L529.2,1252.2 L529.6,1252.2 L529.9,1252.3 L530.3,1252.3 L530.7,1252.3 L531.1,1252.4 L531.4,1252.4 L531.8,1252.4 L532.2,1252.5 L532.5,1252.5 L532.9,1252.5 L533.3,1252.6 L533.7,1252.6 L534.0,1252.7 L534.4,1252.7 L534.8,1252.7 L535.1,1252.8 L535.5,1252.8 L535.9,1252.8 L536.3,1252.9 L536.6,1252.9 L537.0,1253.0 L537.4,1253.0 L537.7,1253.0 L538.1,1253.1 L538.5,1253.1 L538.9,1253.1 L539.2,1253.2 L539.6,1253.2 L540.0,1253.3 L540.3,1253.3 L540.7,1253.3 L541.1,1253.4 L541.5,1253.4 L541.8,1253.5 L542.2,1253.5 L542.6,1253.5 L543.0,1253.6 L543.3,1253.6 L543.7,1253.7 L544.1,1253.7 L544.4,1253.7 L544.8,1253.8 L545.2,1253.8 L545.6,1253.9 L545.9,1253.9 L546.3,1253.9 L546.7,1254.0 L547.0,1254.0 L547.4,1254.1 L547.8,1254.1 L548.2,1254.1 L548.5,1254.2 L548.9,1254.2 L549.3,1254.3 L549.6,1254.3 L550.0,1254.4 L550.4,1254.4 L550.8,1254.4 L551.1,1254.5 L551.5,1254.5 L551.9,1254.6 L552.2,1254.6 L552.6,1254.7 L553.0,1254.7 L553.4,1254.7 L553.7,1254.8 L554.1,1254.8 L554.5,1254.9 L554.8,1254.9 L555.2,1255.0 L555.6,1255.0 L556.0,1255.1 L556.3,1255.1 L556.7,1255.1 L557.1,1255.2 L557.4,1255.2 L557.8,1255.3 L558.2,1255.3 L558.6,1255.4 L558.9,1255.4 L559.3,1255.5 L559.7,1255.5 L560.0,1255.6 L560.4,1255.6 L560.8,1255.7 L561.2,1255.7 L561.5,1255.7 L561.9,1255.8 L562.3,1255.8 L562.6,1255.9 L563.0,1255.9 L563.4,1256.0 L563.8,1256.0 L564.1,1256.1 L564.5,1256.1 L564.9,1256.2 L565.2,1256.2 L565.6,1256.3 L566.0,1256.3 L566.4,1256.4 L566.7,1256.4 L567.1,1256.5 L567.5,1256.5 L567.9,1256.6 L568.2,1256.6 L568.6,1256.7 L569.0,1256.7 L569.3,1256.8 L569.7,1256.8 L570.1,1256.9 L570.5,1256.9 L570.8,1257.0 L571.2,1257.0 L571.6,1257.1 L571.9,1257.1 L572.3,1257.2 L572.7,1257.2 L573.1,1257.3 L573.4,1257.3 L573.8,1257.4 L574.2,1257.4 L574.5,1257.5 L574.9,1257.5 L575.3,1257.6 L575.7,1257.6 L576.0,1257.7 L576.4,1257.7 L576.8,1257.8 L577.1,1257.8 L577.5,1257.9 L577.9,1257.9 L578.3,1258.0 L578.6,1258.0 L579.0,1258.1 L579.4,1258.1 L579.7,1258.2 L580.1,1258.3 L580.5,1258.3 L580.9,1258.4 L581.2,1258.4 L581.6,1258.5 L582.0,1258.5 L582.3,1258.6 L582.7,1258.6 L583.1,1258.7 L583.5,1258.7 L583.8,1258.8 L584.2,1258.9 L584.6,1258.9 L584.9,1259.0 L585.3,1259.0 L585.7,1259.1 L586.1,1259.1 L586.4,1259.2 L586.8,1259.2 L587.2,1259.3 L587.5,1259.4 L587.9,1259.4 L588.3,1259.5 L588.7,1259.5 L589.0,1259.6 L589.4,1259.6 L589.8,1259.7 L590.2,1259.8 L590.5,1259.8 L590.9,1259.9 L591.3,1259.9 L591.6,1260.0 L592.0,1260.0 L592.4,1260.1 L592.8,1260.2 L593.1,1260.2 L593.5,1260.3 L593.9,1260.3 L594.2,1260.4 L594.6,1260.5 L595.0,1260.5 L595.4,1260.6 L595.7,1260.6 L596.1,1260.7 L596.5,1260.8 L596.8,1260.8 L597.2,1260.9 L597.6,1260.9 L598.0,1261.0 L598.3,1261.1 L598.7,1261.1 L599.1,1261.2 L599.4,1261.2 L599.8,1261.3 L600.2,1261.4 L600.6,1261.4 L600.9,1261.5 L601.3,1261.5 L601.7,1261.6 L602.0,1261.7 L602.4,1261.7 L602.8,1261.8 L603.2,1261.9 L603.5,1261.9 L603.9,1262.0 L604.3,1262.0 L604.6,1262.1 L605.0,1262.2 L605.4,1262.2 L605.8,1262.3 L606.1,1262.4 L606.5,1262.4 L606.9,1262.5 L607.2,1262.6 L607.6,1262.6 L608.0,1262.7 L608.4,1262.7 L608.7,1262.8 L609.1,1262.9 L609.5,1262.9 L609.8,1263.0 L610.2,1263.1 L610.6,1263.1 L611.0,1263.2 L611.3,1263.3 L611.7,1263.3 L612.1,1263.4 L612.4,1263.5 L612.8,1263.5 L613.2,1263.6 L613.6,1263.7 L613.9,1263.7 L614.3,1263.8 L614.7,1263.9 L615.1,1263.9 L615.4,1264.0 L615.8,1264.1 L616.2,1264.1 L616.5,1264.2 L616.9,1264.3 L617.3,1264.3 L617.7,1264.4 L618.0,1264.5 L618.4,1264.5 L618.8,1264.6 L619.1,1264.7 L619.5,1264.8 L619.9,1264.8 L620.3,1264.9 L620.6,1265.0 L621.0,1265.0 L621.4,1265.1 L621.7,1265.2 L622.1,1265.2 L622.5,1265.3 L622.9,1265.4 L623.2,1265.4 L623.6,1265.5 L624.0,1265.6 L624.3,1265.7 L624.7,1265.7 L625.1,1265.8 L625.5,1265.9 L625.8,1265.9 L626.2,1266.0 L626.6,1266.1 L626.9,1266.2 L627.3,1266.2 L627.7,1266.3 L628.1,1266.4 L628.4,1266.5 L628.8,1266.5 L629.2,1266.6 L629.5,1266.7 L629.9,1266.7 L630.3,1266.8 L630.7,1266.9 L631.0,1267.0 L631.4,1267.0 L631.8,1267.1 L632.1,1267.2 L632.5,1267.3 L632.9,1267.3 L633.3,1267.4 L633.6,1267.5 L634.0,1267.6 L634.4,1267.6 L634.7,1267.7 L635.1,1267.8 L635.5,1267.9 L635.9,1267.9 L636.2,1268.0 L636.6,1268.1 L637.0,1268.2 L637.3,1268.2 L637.7,1268.3 L638.1,1268.4 L638.5,1268.5 L638.8,1268.5 L639.2,1268.6 L639.6,1268.7 L640.0,1268.8 L640.3,1268.8 L640.7,1268.9 L641.1,1269.0 L641.4,1269.1 L641.8,1269.2 L642.2,1269.2 L642.6,1269.3 L642.9,1269.4 L643.3,1269.5 L643.7,1269.6 L644.0,1269.6 L644.4,1269.7 L644.8,1269.8 L645.2,1269.9 L645.5,1269.9 L645.9,1270.0 L646.3,1270.1 L646.6,1270.2 L647.0,1270.3 L647.4,1270.3 L647.8,1270.4 L648.1,1270.5 L648.5,1270.6 L648.9,1270.7 L649.2,1270.7 L649.6,1270.8 L650.0,1270.9 L650.4,1271.0 L650.7,1271.1 L651.1,1271.2 L651.5,1271.2 L651.8,1271.3 L652.2,1271.4 L652.6,1271.5 L653.0,1271.6 L653.3,1271.6 L653.7,1271.7 L654.1,1271.8 L654.4,1271.9 L654.8,1272.0 L655.2,1272.1 L655.6,1272.1 L655.9,1272.2 L656.3,1272.3 L656.7,1272.4 L657.0,1272.5 L657.4,1272.6 L657.8,1272.6 L658.2,1272.7 L658.5,1272.8 L658.9,1272.9 L659.3,1273.0 L659.6,1273.1 L660.0,1273.2 L660.4,1273.2 L660.8,1273.3 L661.1,1273.4 L661.5,1273.5 L661.9,1273.6 L662.3,1273.7 L662.6,1273.8 L663.0,1273.8 L663.4,1273.9 L663.7,1274.0 L664.1,1274.1 L664.5,1274.2 L664.9,1274.3 L665.2,1274.4 L665.6,1274.5 L666.0,1274.5 L666.3,1274.6 L666.7,1274.7 L667.1,1274.8 L667.5,1274.9 L667.8,1275.0 L668.2,1275.1 L668.6,1275.2 L668.9,1275.2 L669.3,1275.3 L669.7,1275.4 L670.1,1275.5 L670.4,1275.6 L670.8,1275.7 L671.2,1275.8 L671.5,1275.9 L671.9,1276.0 L672.3,1276.1 L672.7,1276.1 L673.0,1276.2 L673.4,1276.3 L673.8,1276.4 L674.1,1276.5 L674.5,1276.6 L674.9,1276.7 L675.3,1276.8 L675.6,1276.9 L676.0,1277.0 L676.4,1277.1 L676.7,1277.1 L677.1,1277.2 L677.5,1277.3 L677.9,1277.4 L678.2,1277.5 L678.6,1277.6 L679.0,1277.7 L679.3,1277.8 L679.7,1277.9 L680.1,1278.0 L680.5,1278.1 L680.8,1278.2 L681.2,1278.3 L681.6,1278.4 L681.9,1278.5 L682.3,1278.5 L682.7,1278.6 L683.1,1278.7 L683.4,1278.8 L683.8,1278.9 L684.2,1279.0 L684.5,1279.1 L684.9,1279.2 L685.3,1279.3 L685.7,1279.4 L686.0,1279.5 L686.4,1279.6 L686.8,1279.7 L687.2,1279.8 L687.5,1279.9 L687.9,1280.0 L688.3,1280.1 L688.6,1280.2 L689.0,1280.3 L689.4,1280.4 L689.8,1280.5 L690.1,1280.6 L690.5,1280.7 L690.9,1280.8 L691.2,1280.9 L691.6,1281.0 L692.0,1281.1 L692.4,1281.1 L692.7,1281.2 L693.1,1281.3 L693.5,1281.4 L693.8,1281.5 L694.2,1281.6 L694.6,1281.7 L695.0,1281.8 L695.3,1281.9 L695.7,1282.0 L696.1,1282.1 L696.4,1282.2 L696.8,1282.3 L697.2,1282.4 L697.6,1282.5 L697.9,1282.6 L698.3,1282.7 L698.7,1282.8 L699.0,1282.9 L699.4,1283.0 L699.8,1283.1 L700.2,1283.3 L700.5,1283.4 L700.9,1283.5 L701.3,1283.6 L701.6,1283.7 L702.0,1283.8 L702.4,1283.9 L702.8,1284.0 L703.1,1284.1 L703.5,1284.2 L703.9,1284.3 L704.2,1284.4 L704.6,1284.5 L705.0,1284.6 L705.4,1284.7 L705.7,1284.8 L706.1,1284.9 L706.5,1285.0 L706.8,1285.1 L707.2,1285.2 L707.6,1285.3 L708.0,1285.4 L708.3,1285.5 L708.7,1285.6 L709.1,1285.7 L709.4,1285.8 L709.8,1285.9 L710.2,1286.0 L710.6,1286.2 L710.9,1286.3 L711.3,1286.4 L711.7,1286.5 L712.1,1286.6 L712.4,1286.7 L712.8,1286.8 L713.2,1286.9 L713.5,1287.0 L713.9,1287.1 L714.3,1287.2 L714.7,1287.3 L715.0,1287.4 L715.4,1287.5 L715.8,1287.7 L716.1,1287.8 L716.5,1287.9 L716.9,1288.0 L717.3,1288.1 L717.6,1288.2 L718.0,1288.3 L718.4,1288.4 L718.7,1288.5 L719.1,1288.6 L719.5,1288.7 L719.9,1288.8 L720.2,1289.0 L720.6,1289.1 L721.0,1289.2 L721.3,1289.3 L721.7,1289.4 L722.1,1289.5 L722.5,1289.6 L722.8,1289.7 L723.2,1289.8 L723.6,1290.0 L723.9,1290.1 L724.3,1290.2 L724.7,1290.3 L725.1,1290.4 L725.4,1290.5 L725.8,1290.6 L726.2,1290.7 L726.5,1290.8 L726.9,1291.0 L727.3,1291.1 L727.7,1291.2 L728.0,1291.3 L728.4,1291.4 L728.8,1291.5 L729.1,1291.6 L729.5,1291.8 L729.9,1291.9 L730.3,1292.0 L730.6,1292.1 L731.0,1292.2 L731.4,1292.3 L731.7,1292.4 L732.1,1292.5 L732.5,1292.7 L732.9,1292.8 L733.2,1292.9 L733.6,1293.0 L734.0,1293.1 L734.4,1293.2 L734.7,1293.4 L735.1,1293.5 L735.5,1293.6 L735.8,1293.7 L736.2,1293.8 L736.6,1293.9 L737.0,1294.1 L737.3,1294.2 L737.7,1294.3 L738.1,1294.4 L738.4,1294.5 L738.8,1294.6 L739.2,1294.8 L739.6,1294.9 L739.9,1295.0 L740.3,1295.1 L740.7,1295.2 L741.0,1295.3 L741.4,1295.5 L741.8,1295.6 L742.2,1295.7 L742.5,1295.8 L742.9,1295.9 L743.3,1296.1 L743.6,1296.2 L744.0,1296.3 L744.4,1296.4 L744.8,1296.5 L745.1,1296.7 L745.5,1296.8 L745.9,1296.9 L746.2,1297.0 L746.6,1297.1 L747.0,1297.3 L747.4,1297.4 L747.7,1297.5 L748.1,1297.6 L748.5,1297.7 L748.8,1297.9 L749.2,1298.0 L749.6,1298.1 L750.0,1298.2 L750.3,1298.3 L750.7,1298.5 L751.1,1298.6 L751.4,1298.7 L751.8,1298.8 L752.2,1299.0 L752.6,1299.1 L752.9,1299.2 L753.3,1299.3 L753.7,1299.4 L754.0,1299.6 L754.4,1299.7 L754.8,1299.8 L755.2,1299.9 L755.5,1300.1 L755.9,1300.2 L756.3,1300.3 L756.6,1300.4 L757.0,1300.6 L757.4,1300.7 L757.8,1300.8 L758.1,1300.9 L758.5,1301.1 L758.9,1301.2 L759.3,1301.3 L759.6,1301.4 L760.0,1301.6 L760.4,1301.7 L760.7,1301.8 L761.1,1301.9 L761.5,1302.1 L761.9,1302.2 L762.2,1302.3 L762.6,1302.4 L763.0,1302.6 L763.3,1302.7 L763.7,1302.8 L764.1,1303.0 L764.5,1303.1 L764.8,1303.2 L765.2,1303.3 L765.6,1303.5 L765.9,1303.6 L766.3,1303.7 L766.7,1303.8 L767.1,1304.0 L767.4,1304.1 L767.8,1304.2 L768.2,1304.4 L768.5,1304.5 L768.9,1304.6 L769.3,1304.7 L769.7,1304.9 L770.0,1305.0 L770.4,1305.1 L770.8,1305.3 L771.1,1305.4 L771.5,1305.5 L771.9,1305.7 L772.3,1305.8 L772.6,1305.9 L773.0,1306.0 L773.4,1306.2 L773.7,1306.3 L774.1,1306.4 L774.5,1306.6 L774.9,1306.7 L775.2,1306.8 L775.6,1307.0 L776.0,1307.1 L776.3,1307.2 L776.7,1307.4 L777.1,1307.5 L777.5,1307.6 L777.8,1307.7 L778.2,1307.9 L778.6,1308.0 L778.9,1308.1 L779.3,1308.3 L779.7,1308.4 L780.1,1308.5 L780.4,1308.7 L780.8,1308.8 L781.2,1308.9 L781.5,1309.1 L781.9,1309.2 L782.3,1309.3 L782.7,1309.5 L783.0,1309.6 L783.4,1309.7 L783.8,1309.9 L784.2,1310.0 L784.5,1310.1 L784.9,1310.2 L785.3,1310.4 L785.6,1310.5 L786.0,1310.6 L786.4,1310.8 L786.8,1310.9 L787.1,1311.0 L787.5,1311.1 L787.9,1311.3 L788.2,1311.4 L788.6,1311.5 L789.0,1311.6 L789.4,1311.8 L789.7,1311.9 L790.1,1312.0 L790.5,1312.1 L790.8,1312.2 L791.2,1312.4 L791.6,1312.5 L792.0,1312.6 L792.3,1312.7 L792.7,1312.8 L793.1,1312.9 L793.4,1313.0 L793.8,1313.1 L794.2,1313.2 L794.6,1313.3 L794.9,1313.4 L795.3,1313.5 L795.7,1313.5 L796.0,1313.6 L796.4,1313.7 L796.8,1313.7 L797.2,1313.8 L797.5,1313.8 L797.9,1313.9 L798.3,1313.9 L798.6,1313.9 L799.0,1314.0 L799.4,1314.0 L799.8,1314.0 L800.1,1313.9 L800.5,1313.9 L800.9,1313.9 L801.2,1313.8 L801.6,1313.7 L802.0,1313.6 L802.4,1313.5 L802.7,1313.4 L803.1,1313.2 L803.5,1313.1 L803.8,1312.9 L804.2,1312.6 L804.6,1312.4 L805.0,1312.1 L805.3,1311.7 L805.7,1311.4 L806.1,1311.0 L806.5,1310.5 L806.8,1310.1 L807.2,1309.5 L807.6,1308.9 L807.9,1308.3 L808.3,1307.6 L808.7,1306.8 L809.1,1306.0 L809.4,1305.1 L809.8,1304.2 L810.2,1303.1 L810.5,1302.0 L810.9,1300.8 L811.3,1299.5 L811.7,1298.1 L812.0,1296.6 L812.4,1294.9 L812.8,1293.2 L813.1,1291.4 L813.5,1289.4 L813.9,1287.3 L814.3,1285.1 L814.6,1282.7 L815.0,1280.2 L815.4,1277.5 L815.7,1274.7 L816.1,1271.7 L816.5,1268.6 L816.9,1265.2 L817.2,1261.8 L817.6,1258.1 L818.0,1254.2 L818.3,1250.2 L818.7,1245.9 L819.1,1241.5 L819.5,1236.9 L819.8,1232.1 L820.2,1227.1 L820.6,1221.9 L820.9,1216.5 L821.3,1210.9 L821.7,1205.2 L822.1,1199.2 L822.4,1193.1 L822.8,1186.8 L823.2,1180.3 L823.5,1173.7 L823.9,1166.9 L824.3,1159.9 L824.7,1152.9 L825.0,1145.6 L825.4,1138.3 L825.8,1130.9 L826.1,1123.3 L826.5,1115.7 L826.9,1107.9 L827.3,1100.2 L827.6,1092.3 L828.0,1084.4 L828.4,1076.5 L828.7,1068.6 L829.1,1060.7 L829.5,1052.7 L829.9,1044.8 L830.2,1036.9 L830.6,1029.1 L831.0,1021.3 L831.4,1013.6 L831.7,1005.9 L832.1,998.4 L832.5,990.9 L832.8,983.5 L833.2,976.2 L833.6,969.1 L834.0,962.0 L834.3,955.1 L834.7,948.3 L835.1,941.7 L835.4,935.1 L835.8,928.8 L836.2,922.6 L836.6,916.5 L836.9,910.6 L837.3,904.8 L837.7,899.2 L838.0,893.8 L838.4,888.5 L838.8,883.3 L839.2,878.3 L839.5,873.5 L839.9,868.8 L840.3,864.3 L840.6,859.9 L841.0,855.7 L841.4,851.6 L841.8,847.6 L842.1,843.8 L842.5,840.1 L842.9,836.6 L843.2,833.2 L843.6,829.9 L844.0,826.7 L844.4,823.7 L844.7,820.7 L845.1,817.9 L845.5,815.2 L845.8,812.6 L846.2,810.1 L846.6,807.7 L847.0,805.4 L847.3,803.2 L847.7,801.1 L848.1,799.1 L848.4,797.2 L848.8,795.3 L849.2,793.5 L849.6,791.8 L849.9,790.2 L850.3,788.6 L850.7,787.1 L851.0,785.7 L851.4,784.3 L851.8,783.0 L852.2,781.8 L852.5,780.6 L852.9,779.4 L853.3,778.3 L853.6,777.3 L854.0,776.3 L854.4,775.3 L854.8,774.4 L855.1,773.5 L855.5,772.7 L855.9,771.9 L856.3,771.2 L856.6,770.4 L857.0,769.7 L857.4,769.1 L857.7,768.5 L858.1,767.9 L858.5,767.3 L858.9,766.7 L859.2,766.2 L859.6,765.7 L860.0,765.2 L860.3,764.8 L860.7,764.4 L861.1,764.0 L861.5,763.6 L861.8,763.2 L862.2,762.8 L862.6,762.5 L862.9,762.2 L863.3,761.9 L863.7,761.6 L864.1,761.3 L864.4,761.0 L864.8,760.7 L865.2,760.5 L865.5,760.3 L865.9,760.1 L866.3,759.8 L866.7,759.6 L867.0,759.4 L867.4,759.3 L867.8,759.1 L868.1,758.9 L868.5,758.8 L868.9,758.6 L869.3,758.5 L869.6,758.3 L870.0,758.2 L870.4,758.1 L870.7,758.0 L871.1,757.8 L871.5,757.7 L871.9,757.6 L872.2,757.5 L872.6,757.4 L873.0,757.4 L873.3,757.3 L873.7,757.2 L874.1,757.1 L874.5,757.0 L874.8,757.0 L875.2,756.9 L875.6,756.8 L875.9,756.8 L876.3,756.7 L876.7,756.7 L877.1,756.6 L877.4,756.6 L877.8,756.5 L878.2,756.5 L878.6,756.4 L878.9,756.4 L879.3,756.3 L879.7,756.3 L880.0,756.3 L880.4,756.2 L880.8,756.2 L881.2,756.2 L881.5,756.1 L881.9,756.1 L882.3,756.1 L882.6,756.1 L883.0,756.0 L883.4,756.0 L883.8,756.0 L884.1,756.0 L884.5,756.0 L884.9,755.9 L885.2,755.9 L885.6,755.9 L886.0,755.9 L886.4,755.9 L886.7,755.9 L887.1,755.8 L887.5,755.8 L887.8,755.8 L888.2,755.8 L888.6,755.8 L889.0,755.8 L889.3,755.8 L889.7,755.8" stroke="#0000f2"/>
</g>
<rect x="100.0" y="18.0" width="836.00" height="1346.10" fill="none" stroke="#000" stroke-width="2.6"/>
<line x1="100.0" y1="690.7" x2="936.0" y2="690.7" stroke="#000" stroke-width="3.2"/>
<line x1="146.40" y1="18.00" x2="146.40" y2="31.00" stroke="#000" stroke-width="2.3"/>
<line x1="146.40" y1="677.70" x2="146.40" y2="703.70" stroke="#000" stroke-width="2.3"/>
<line x1="146.40" y1="1351.10" x2="146.40" y2="1364.10" stroke="#000" stroke-width="2.3"/>
<line x1="239.31" y1="18.00" x2="239.31" y2="24.80" stroke="#000" stroke-width="2.3"/>
<line x1="239.31" y1="683.90" x2="239.31" y2="697.50" stroke="#000" stroke-width="2.3"/>
<line x1="239.31" y1="1357.30" x2="239.31" y2="1364.10" stroke="#000" stroke-width="2.3"/>
<line x1="332.23" y1="18.00" x2="332.23" y2="31.00" stroke="#000" stroke-width="2.3"/>
<line x1="332.23" y1="677.70" x2="332.23" y2="703.70" stroke="#000" stroke-width="2.3"/>
<line x1="332.23" y1="1351.10" x2="332.23" y2="1364.10" stroke="#000" stroke-width="2.3"/>
<line x1="425.14" y1="18.00" x2="425.14" y2="24.80" stroke="#000" stroke-width="2.3"/>
<line x1="425.14" y1="683.90" x2="425.14" y2="697.50" stroke="#000" stroke-width="2.3"/>
<line x1="425.14" y1="1357.30" x2="425.14" y2="1364.10" stroke="#000" stroke-width="2.3"/>
<line x1="518.05" y1="18.00" x2="518.05" y2="31.00" stroke="#000" stroke-width="2.3"/>
<line x1="518.05" y1="677.70" x2="518.05" y2="703.70" stroke="#000" stroke-width="2.3"/>
<line x1="518.05" y1="1351.10" x2="518.05" y2="1364.10" stroke="#000" stroke-width="2.3"/>
<line x1="610.96" y1="18.00" x2="610.96" y2="24.80" stroke="#000" stroke-width="2.3"/>
<line x1="610.96" y1="683.90" x2="610.96" y2="697.50" stroke="#000" stroke-width="2.3"/>
<line x1="610.96" y1="1357.30" x2="610.96" y2="1364.10" stroke="#000" stroke-width="2.3"/>
<line x1="703.87" y1="18.00" x2="703.87" y2="31.00" stroke="#000" stroke-width="2.3"/>
<line x1="703.87" y1="677.70" x2="703.87" y2="703.70" stroke="#000" stroke-width="2.3"/>
<line x1="703.87" y1="1351.10" x2="703.87" y2="1364.10" stroke="#000" stroke-width="2.3"/>
<line x1="796.79" y1="18.00" x2="796.79" y2="24.80" stroke="#000" stroke-width="2.3"/>
<line x1="796.79" y1="683.90" x2="796.79" y2="697.50" stroke="#000" stroke-width="2.3"/>
<line x1="796.79" y1="1357.30" x2="796.79" y2="1364.10" stroke="#000" stroke-width="2.3"/>
<line x1="889.70" y1="18.00" x2="889.70" y2="31.00" stroke="#000" stroke-width="2.3"/>
<line x1="889.70" y1="677.70" x2="889.70" y2="703.70" stroke="#000" stroke-width="2.3"/>
<line x1="889.70" y1="1351.10" x2="889.70" y2="1364.10" stroke="#000" stroke-width="2.3"/>
<line x1="100.00" y1="659.00" x2="113.00" y2="659.00" stroke="#000" stroke-width="2.3"/>
<line x1="923.00" y1="659.00" x2="936.00" y2="659.00" stroke="#000" stroke-width="2.3"/>
<line x1="100.00" y1="594.90" x2="106.80" y2="594.90" stroke="#000" stroke-width="2.3"/>
<line x1="929.20" y1="594.90" x2="936.00" y2="594.90" stroke="#000" stroke-width="2.3"/>
<line x1="100.00" y1="530.80" x2="113.00" y2="530.80" stroke="#000" stroke-width="2.3"/>
<line x1="923.00" y1="530.80" x2="936.00" y2="530.80" stroke="#000" stroke-width="2.3"/>
<line x1="100.00" y1="466.70" x2="106.80" y2="466.70" stroke="#000" stroke-width="2.3"/>
<line x1="929.20" y1="466.70" x2="936.00" y2="466.70" stroke="#000" stroke-width="2.3"/>
<line x1="100.00" y1="402.60" x2="113.00" y2="402.60" stroke="#000" stroke-width="2.3"/>
<line x1="923.00" y1="402.60" x2="936.00" y2="402.60" stroke="#000" stroke-width="2.3"/>
<line x1="100.00" y1="338.50" x2="106.80" y2="338.50" stroke="#000" stroke-width="2.3"/>
<line x1="929.20" y1="338.50" x2="936.00" y2="338.50" stroke="#000" stroke-width="2.3"/>
<line x1="100.00" y1="274.40" x2="113.00" y2="274.40" stroke="#000" stroke-width="2.3"/>
<line x1="923.00" y1="274.40" x2="936.00" y2="274.40" stroke="#000" stroke-width="2.3"/>
<line x1="100.00" y1="210.30" x2="106.80" y2="210.30" stroke="#000" stroke-width="2.3"/>
<line x1="929.20" y1="210.30" x2="936.00" y2="210.30" stroke="#000" stroke-width="2.3"/>
<line x1="100.00" y1="146.20" x2="113.00" y2="146.20" stroke="#000" stroke-width="2.3"/>
<line x1="923.00" y1="146.20" x2="936.00" y2="146.20" stroke="#000" stroke-width="2.3"/>
<line x1="100.00" y1="82.10" x2="106.80" y2="82.10" stroke="#000" stroke-width="2.3"/>
<line x1="929.20" y1="82.10" x2="936.00" y2="82.10" stroke="#000" stroke-width="2.3"/>
<line x1="100.00" y1="1330.30" x2="113.00" y2="1330.30" stroke="#000" stroke-width="2.3"/>
<line x1="923.00" y1="1330.30" x2="936.00" y2="1330.30" stroke="#000" stroke-width="2.3"/>
<line x1="100.00" y1="1262.92" x2="106.80" y2="1262.92" stroke="#000" stroke-width="2.3"/>
<line x1="929.20" y1="1262.92" x2="936.00" y2="1262.92" stroke="#000" stroke-width="2.3"/>
<line x1="100.00" y1="1195.55" x2="113.00" y2="1195.55" stroke="#000" stroke-width="2.3"/>
<line x1="923.00" y1="1195.55" x2="936.00" y2="1195.55" stroke="#000" stroke-width="2.3"/>
<line x1="100.00" y1="1128.17" x2="106.80" y2="1128.17" stroke="#000" stroke-width="2.3"/>
<line x1="929.20" y1="1128.17" x2="936.00" y2="1128.17" stroke="#000" stroke-width="2.3"/>
<line x1="100.00" y1="1060.80" x2="113.00" y2="1060.80" stroke="#000" stroke-width="2.3"/>
<line x1="923.00" y1="1060.80" x2="936.00" y2="1060.80" stroke="#000" stroke-width="2.3"/>
<line x1="100.00" y1="993.42" x2="106.80" y2="993.42" stroke="#000" stroke-width="2.3"/>
<line x1="929.20" y1="993.42" x2="936.00" y2="993.42" stroke="#000" stroke-width="2.3"/>
<line x1="100.00" y1="926.05" x2="113.00" y2="926.05" stroke="#000" stroke-width="2.3"/>
<line x1="923.00" y1="926.05" x2="936.00" y2="926.05" stroke="#000" stroke-width="2.3"/>
<line x1="100.00" y1="858.67" x2="106.80" y2="858.67" stroke="#000" stroke-width="2.3"/>
<line x1="929.20" y1="858.67" x2="936.00" y2="858.67" stroke="#000" stroke-width="2.3"/>
<line x1="100.00" y1="791.30" x2="113.00" y2="791.30" stroke="#000" stroke-width="2.3"/>
<line x1="923.00" y1="791.30" x2="936.00" y2="791.30" stroke="#000" stroke-width="2.3"/>
<line x1="100.00" y1="723.92" x2="106.80" y2="723.92" stroke="#000" stroke-width="2.3"/>
<line x1="929.20" y1="723.92" x2="936.00" y2="723.92" stroke="#000" stroke-width="2.3"/>
<g font-family="Liberation Sans, sans-serif" fill="#000">
<text x="85" y="670.8" font-size="38.5" text-anchor="end">0</text>
<text x="85" y="542.6" font-size="38.5" text-anchor="end">1</text>
<text x="85" y="414.4" font-size="38.5" text-anchor="end">2</text>
<text x="85" y="286.2" font-size="38.5" text-anchor="end">3</text>
<text x="85" y="158.0" font-size="38.5" text-anchor="end">4</text>
<text x="85" y="29.8" font-size="38.5" text-anchor="end">5</text>
<text x="85" y="1341.9" font-size="38.5" text-anchor="end">0</text>
<text x="85" y="1207.1" font-size="38.5" text-anchor="end">1</text>
<text x="85" y="1072.4" font-size="38.5" text-anchor="end">2</text>
<text x="85" y="937.6" font-size="38.5" text-anchor="end">3</text>
<text x="85" y="802.9" font-size="38.5" text-anchor="end">4</text>
<text x="146.4" y="1408" font-size="38.5" text-anchor="middle">0.0</text>
<text x="332.2" y="1408" font-size="38.5" text-anchor="middle">0.5</text>
<text x="518.0" y="1408" font-size="38.5" text-anchor="middle">1.0</text>
<text x="703.9" y="1408" font-size="38.5" text-anchor="middle">1.5</text>
<text x="889.7" y="1408" font-size="38.5" text-anchor="middle">2.0</text>
<text x="517.5" y="1460.5" font-size="41.6" text-anchor="middle">Electrode spacing (mm)</text>
<text x="6.5" y="34.5" font-size="43.5" font-weight="bold">A</text>
<text x="4" y="725.7" font-size="43.5" font-weight="bold">B</text>
<text transform="translate(40.2,353.3) rotate(-90)" font-size="41.5" text-anchor="middle">Density (10<tspan font-size="29.5" dy="-16.3">12</tspan><tspan dy="16.3"> cm</tspan><tspan font-size="29.5" dy="-16.3">-3</tspan><tspan dy="16.3">)</tspan></text>
<text transform="translate(42.3,1026.3) rotate(-90)" font-size="41.5" text-anchor="middle">Electric field (10<tspan font-size="29.5" dy="-16.3">4</tspan><tspan dy="16.3"> V/cm)</tspan></text>
<line x1="136" y1="66.8" x2="201.5" y2="66.8" stroke="#000000" stroke-width="3.8" stroke-linecap="round" stroke-dasharray="7.5 11.6"/>
<text x="215.8" y="76.9" font-size="31.6">Predicted-20 V/ns electron density</text>
<line x1="136" y1="105.9" x2="201.5" y2="105.9" stroke="#d70000" stroke-width="3.8" stroke-linecap="round" stroke-dasharray="7.5 11.6"/>
<text x="215.8" y="116.0" font-size="31.6">Predicted-50 V/ns electron density</text>
<line x1="136" y1="145.0" x2="201.5" y2="145.0" stroke="#0000f2" stroke-width="3.8" stroke-linecap="round" stroke-dasharray="7.5 11.6"/>
<text x="215.8" y="155.1" font-size="31.6">Predicted-80 V/ns electron density</text>
<line x1="136" y1="184.1" x2="206" y2="184.1" stroke="#000000" stroke-width="3.8" stroke-linecap="round"/>
<text x="215.8" y="194.2" font-size="31.6">Predicted-20 V/ns ion density</text>
<line x1="136" y1="223.2" x2="206" y2="223.2" stroke="#d70000" stroke-width="3.8" stroke-linecap="round"/>
<text x="215.8" y="233.3" font-size="31.6">Predicted-50 V/ns ion density</text>
<line x1="136" y1="262.3" x2="206" y2="262.3" stroke="#0000f2" stroke-width="3.8" stroke-linecap="round"/>
<text x="215.8" y="272.4" font-size="31.6">Predicted-80 V/ns ion density</text>
<text x="724.5" y="67.7" font-size="38.1">5000 V</text>
<line x1="141" y1="747.1" x2="218" y2="747.1" stroke="#000000" stroke-width="3.8" stroke-linecap="round"/>
<text x="227.2" y="758.9" font-size="35.1">Predicted-20 V/ns</text>
<line x1="141" y1="790.2" x2="218" y2="790.2" stroke="#d70000" stroke-width="3.8" stroke-linecap="round"/>
<text x="227.2" y="802.0" font-size="35.1">Predicted-50 V/ns</text>
<line x1="141" y1="833.3" x2="218" y2="833.3" stroke="#0000f2" stroke-width="3.8" stroke-linecap="round"/>
<text x="227.2" y="845.1" font-size="35.1">Predicted-80 V/ns</text>
<text x="716.6" y="742" font-size="38.4">5000 V</text>
</g>
<rect x="750.9" y="111.6" width="103.2" height="414.2" fill="none" stroke="#000" stroke-width="1.7" stroke-dasharray="2.4 1.25"/>
<line x1="575" y1="371.7" x2="751" y2="371.7" stroke="#000" stroke-width="1.5"/>
<polygon points="557.5,371.7 577,366.9 577,376.5" fill="#000"/>
<rect x="292.50" y="301.10" width="255.69" height="204.75" fill="#fff" stroke="none"/>
<g clip-path="url(#cI)" fill="none" stroke-width="3.0" stroke-linejoin="round">
<path d="M275.5,510.0 L275.9,509.9 L276.3,509.8 L276.7,509.8 L277.2,509.7 L277.6,509.6 L278.0,509.6 L278.4,509.5 L278.9,509.4 L279.3,509.3 L279.7,509.3 L280.1,509.2 L280.6,509.1 L281.0,509.1 L281.4,509.0 L281.8,508.9 L282.3,508.8 L282.7,508.8 L283.1,508.7 L283.6,508.6 L284.0,508.5 L284.4,508.5 L284.8,508.4 L285.3,508.3 L285.7,508.3 L286.1,508.2 L286.5,508.1 L287.0,508.0 L287.4,508.0 L287.8,507.9 L288.2,507.8 L288.7,507.7 L289.1,507.6 L289.5,507.6 L289.9,507.5 L290.4,507.4 L290.8,507.3 L291.2,507.3 L291.6,507.2 L292.1,507.1 L292.5,507.0 L292.9,506.9 L293.4,506.9 L293.8,506.8 L294.2,506.7 L294.6,506.6 L295.1,506.6 L295.5,506.5 L295.9,506.4 L296.3,506.3 L296.8,506.2 L297.2,506.1 L297.6,506.1 L298.0,506.0 L298.5,505.9 L298.9,505.8 L299.3,505.7 L299.7,505.7 L300.2,505.6 L300.6,505.5 L301.0,505.4 L301.4,505.3 L301.9,505.2 L302.3,505.1 L302.7,505.1 L303.2,505.0 L303.6,504.9 L304.0,504.8 L304.4,504.7 L304.9,504.6 L305.3,504.5 L305.7,504.5 L306.1,504.4 L306.6,504.3 L307.0,504.2 L307.4,504.1 L307.8,504.0 L308.3,503.9 L308.7,503.8 L309.1,503.8 L309.5,503.7 L310.0,503.6 L310.4,503.5 L310.8,503.4 L311.3,503.3 L311.7,503.2 L312.1,503.1 L312.5,503.0 L313.0,502.9 L313.4,502.8 L313.8,502.7 L314.2,502.7 L314.7,502.6 L315.1,502.5 L315.5,502.4 L315.9,502.3 L316.4,502.2 L316.8,502.1 L317.2,502.0 L317.6,501.9 L318.1,501.8 L318.5,501.7 L318.9,501.6 L319.3,501.5 L319.8,501.4 L320.2,501.3 L320.6,501.2 L321.1,501.1 L321.5,501.0 L321.9,500.9 L322.3,500.8 L322.8,500.7 L323.2,500.6 L323.6,500.5 L324.0,500.4 L324.5,500.3 L324.9,500.2 L325.3,500.1 L325.7,500.0 L326.2,499.9 L326.6,499.8 L327.0,499.7 L327.4,499.6 L327.9,499.5 L328.3,499.4 L328.7,499.3 L329.1,499.2 L329.6,499.1 L330.0,499.0 L330.4,498.8 L330.9,498.7 L331.3,498.6 L331.7,498.5 L332.1,498.4 L332.6,498.3 L333.0,498.2 L333.4,498.1 L333.8,498.0 L334.3,497.9 L334.7,497.7 L335.1,497.6 L335.5,497.5 L336.0,497.4 L336.4,497.3 L336.8,497.2 L337.2,497.1 L337.7,497.0 L338.1,496.8 L338.5,496.7 L339.0,496.6 L339.4,496.5 L339.8,496.4 L340.2,496.3 L340.7,496.1 L341.1,496.0 L341.5,495.9 L341.9,495.8 L342.4,495.7 L342.8,495.6 L343.2,495.4 L343.6,495.3 L344.1,495.2 L344.5,495.1 L344.9,494.9 L345.3,494.8 L345.8,494.7 L346.2,494.6 L346.6,494.5 L347.0,494.3 L347.5,494.2 L347.9,494.1 L348.3,494.0 L348.8,493.8 L349.2,493.7 L349.6,493.6 L350.0,493.4 L350.5,493.3 L350.9,493.2 L351.3,493.1 L351.7,492.9 L352.2,492.8 L352.6,492.7 L353.0,492.5 L353.4,492.4 L353.9,492.3 L354.3,492.1 L354.7,492.0 L355.1,491.9 L355.6,491.7 L356.0,491.6 L356.4,491.5 L356.8,491.3 L357.3,491.2 L357.7,491.1 L358.1,490.9 L358.6,490.8 L359.0,490.6 L359.4,490.5 L359.8,490.4 L360.3,490.2 L360.7,490.1 L361.1,489.9 L361.5,489.8 L362.0,489.6 L362.4,489.5 L362.8,489.4 L363.2,489.2 L363.7,489.1 L364.1,488.9 L364.5,488.8 L364.9,488.6 L365.4,488.5 L365.8,488.3 L366.2,488.2 L366.7,488.0 L367.1,487.9 L367.5,487.7 L367.9,487.6 L368.4,487.4 L368.8,487.3 L369.2,487.1 L369.6,487.0 L370.1,486.8 L370.5,486.7 L370.9,486.5 L371.3,486.3 L371.8,486.2 L372.2,486.0 L372.6,485.9 L373.0,485.7 L373.5,485.5 L373.9,485.4 L374.3,485.2 L374.7,485.1 L375.2,484.9 L375.6,484.7 L376.0,484.6 L376.5,484.4 L376.9,484.2 L377.3,484.1 L377.7,483.9 L378.2,483.7 L378.6,483.6 L379.0,483.4 L379.4,483.2 L379.9,483.1 L380.3,482.9 L380.7,482.7 L381.1,482.5 L381.6,482.4 L382.0,482.2 L382.4,482.0 L382.8,481.8 L383.3,481.7 L383.7,481.5 L384.1,481.3 L384.5,481.1 L385.0,481.0 L385.4,480.8 L385.8,480.6 L386.3,480.4 L386.7,480.2 L387.1,480.0 L387.5,479.9 L388.0,479.7 L388.4,479.5 L388.8,479.3 L389.2,479.1 L389.7,478.9 L390.1,478.7 L390.5,478.6 L390.9,478.4 L391.4,478.2 L391.8,478.0 L392.2,477.8 L392.6,477.6 L393.1,477.4 L393.5,477.2 L393.9,477.0 L394.3,476.8 L394.8,476.6 L395.2,476.4 L395.6,476.2 L396.1,476.0 L396.5,475.8 L396.9,475.6 L397.3,475.4 L397.8,475.2 L398.2,475.0 L398.6,474.8 L399.0,474.6 L399.5,474.4 L399.9,474.2 L400.3,474.0 L400.7,473.8 L401.2,473.5 L401.6,473.3 L402.0,473.1 L402.4,472.9 L402.9,472.7 L403.3,472.5 L403.7,472.3 L404.2,472.1 L404.6,471.8 L405.0,471.6 L405.4,471.4 L405.9,471.2 L406.3,471.0 L406.7,470.7 L407.1,470.5 L407.6,470.3 L408.0,470.1 L408.4,469.8 L408.8,469.6 L409.3,469.4 L409.7,469.2 L410.1,468.9 L410.5,468.7 L411.0,468.5 L411.4,468.3 L411.8,468.0 L412.2,467.8 L412.7,467.6 L413.1,467.3 L413.5,467.1 L414.0,466.9 L414.4,466.6 L414.8,466.4 L415.2,466.1 L415.7,465.9 L416.1,465.7 L416.5,465.4 L416.9,465.2 L417.4,465.0 L417.8,464.7 L418.2,464.5 L418.6,464.2 L419.1,464.0 L419.5,463.7 L419.9,463.5 L420.3,463.2 L420.8,463.0 L421.2,462.8 L421.6,462.5 L422.0,462.3 L422.5,462.0 L422.9,461.8 L423.3,461.5 L423.8,461.3 L424.2,461.0 L424.6,460.8 L425.0,460.5 L425.5,460.3 L425.9,460.0 L426.3,459.8 L426.7,459.5 L427.2,459.3 L427.6,459.0 L428.0,458.7 L428.4,458.5 L428.9,458.2 L429.3,458.0 L429.7,457.7 L430.1,457.5 L430.6,457.2 L431.0,457.0 L431.4,456.7 L431.9,456.5 L432.3,456.2 L432.7,456.0 L433.1,455.7 L433.6,455.4 L434.0,455.2 L434.4,454.9 L434.8,454.7 L435.3,454.4 L435.7,454.2 L436.1,453.9 L436.5,453.7 L437.0,453.4 L437.4,453.2 L437.8,452.9 L438.2,452.7 L438.7,452.4 L439.1,452.2 L439.5,452.0 L439.9,451.7 L440.4,451.5 L440.8,451.2 L441.2,451.0 L441.7,450.8 L442.1,450.5 L442.5,450.3 L442.9,450.1 L443.4,449.8 L443.8,449.6 L444.2,449.4 L444.6,449.1 L445.1,448.9 L445.5,448.7 L445.9,448.5 L446.3,448.3 L446.8,448.0 L447.2,447.8 L447.6,447.6 L448.0,447.4 L448.5,447.2 L448.9,447.0 L449.3,446.8 L449.7,446.6 L450.2,446.4 L450.6,446.2 L451.0,446.0 L451.5,445.8 L451.9,445.7 L452.3,445.5 L452.7,445.3 L453.2,445.1 L453.6,445.0 L454.0,444.8 L454.4,444.7 L454.9,444.5 L455.3,444.4 L455.7,444.2 L456.1,444.1 L456.6,444.0 L457.0,443.9 L457.4,443.8 L457.8,443.6 L458.3,443.6 L458.7,443.5 L459.1,443.4 L459.6,443.3 L460.0,443.2 L460.4,443.2 L460.8,443.1 L461.3,443.1 L461.7,443.1 L462.1,443.1 L462.5,443.1 L463.0,443.1 L463.4,443.1 L463.8,443.1 L464.2,443.1 L464.7,443.2 L465.1,443.2 L465.5,443.3 L465.9,443.4 L466.4,443.5 L466.8,443.6 L467.2,443.7 L467.6,443.8 L468.1,443.9 L468.5,444.1 L468.9,444.2 L469.4,444.4 L469.8,444.6 L470.2,444.8 L470.6,445.0 L471.1,445.2 L471.5,445.4 L471.9,445.6 L472.3,445.9 L472.8,446.1 L473.2,446.4 L473.6,446.7 L474.0,446.9 L474.5,447.2 L474.9,447.5 L475.3,447.9 L475.7,448.2 L476.2,448.5 L476.6,448.9 L477.0,449.3 L477.4,449.6 L477.9,450.0 L478.3,450.4 L478.7,450.8 L479.2,451.2 L479.6,451.7 L480.0,452.1 L480.4,452.5 L480.9,453.0 L481.3,453.5 L481.7,453.9 L482.1,454.4 L482.6,454.9 L483.0,455.4 L483.4,455.9 L483.8,456.5 L484.3,457.0 L484.7,457.5 L485.1,458.1 L485.5,458.7 L486.0,459.2 L486.4,459.8 L486.8,460.4 L487.3,461.0 L487.7,461.6 L488.1,462.2 L488.5,462.8 L489.0,463.4 L489.4,464.0 L489.8,464.7 L490.2,465.3 L490.7,465.9 L491.1,466.6 L491.5,467.2 L491.9,467.9 L492.4,468.5 L492.8,469.2 L493.2,469.9 L493.6,470.5 L494.1,471.2 L494.5,471.9 L494.9,472.5 L495.3,473.2 L495.8,473.9 L496.2,474.6 L496.6,475.3 L497.1,475.9 L497.5,476.6 L497.9,477.3 L498.3,478.0 L498.8,478.7 L499.2,479.3 L499.6,480.0 L500.0,480.7 L500.5,481.4 L500.9,482.1 L501.3,482.7 L501.7,483.4 L502.2,484.1 L502.6,484.8 L503.0,485.4 L503.4,486.1 L503.9,486.8 L504.3,487.4 L504.7,488.1 L505.1,488.8 L505.6,489.4 L506.0,490.1 L506.4,490.7 L506.9,491.3 L507.3,492.0 L507.7,492.6 L508.1,493.2 L508.6,493.9 L509.0,494.5 L509.4,495.1 L509.8,495.7 L510.3,496.3 L510.7,496.9 L511.1,497.5 L511.5,498.1 L512.0,498.7 L512.4,499.3 L512.8,499.9 L513.2,500.5 L513.7,501.0 L514.1,501.6 L514.5,502.2 L515.0,502.7 L515.4,503.3 L515.8,503.8 L516.2,504.4 L516.7,504.9 L517.1,505.4 L517.5,505.9 L517.9,506.5 L518.4,507.0 L518.8,507.5 L519.2,508.0 L519.6,508.5 L520.1,509.0 L520.5,509.5 L520.9,509.9 L521.3,510.4 L521.8,510.9 L522.2,511.4 L522.6,511.8 L523.0,512.3 L523.5,512.7 L523.9,513.2 L524.3,513.6 L524.8,514.0 L525.2,514.5 L525.6,514.9 L526.0,515.3 L526.5,515.7 L526.9,516.1 L527.3,516.6 L527.7,517.0 L528.2,517.3 L528.6,517.7 L529.0,518.1 L529.4,518.5 L529.9,518.9 L530.3,519.2 L530.7,519.6 L531.1,520.0 L531.6,520.3 L532.0,520.7 L532.4,521.0 L532.8,521.4 L533.3,521.7 L533.7,522.1 L534.1,522.4 L534.6,522.7 L535.0,523.0 L535.4,523.4 L535.8,523.7 L536.3,524.0 L536.7,524.3 L537.1,524.6 L537.5,524.9 L538.0,525.2 L538.4,525.5 L538.8,525.8 L539.2,526.0 L539.7,526.3 L540.1,526.6 L540.5,526.9 L540.9,527.1 L541.4,527.4 L541.8,527.7 L542.2,527.9 L542.7,528.2 L543.1,528.4 L543.5,528.7 L543.9,528.9 L544.4,529.2 L544.8,529.4 L545.2,529.6 L545.6,529.9 L546.1,530.1 L546.5,530.3 L546.9,530.5 L547.3,530.8 L547.8,531.0 L548.2,531.2 L548.6,531.4 L549.0,531.6 L549.5,531.8 L549.9,532.0 L550.3,532.2 L550.7,532.4 L551.2,532.6 L551.6,532.8 L552.0,533.0 L552.5,533.2 L552.9,533.4 L553.3,533.5 L553.7,533.7 L554.2,533.9 L554.6,534.1 L555.0,534.2 L555.4,534.4 L555.9,534.6 L556.3,534.7 L556.7,534.9 L557.1,535.1 L557.6,535.2 L558.0,535.4 L558.4,535.5 L558.8,535.7 L559.3,535.8 L559.7,536.0 L560.1,536.1 L560.5,536.3 L561.0,536.4 L561.4,536.5 L561.8,536.7 L562.3,536.8 L562.7,537.0 L563.1,537.1 L563.5,537.2 L564.0,537.3 L564.4,537.5 L564.8,537.6 L565.2,537.7 L565.2,537.7" stroke="#000000"/>
<path d="M275.5,492.5 L275.9,492.4 L276.3,492.3 L276.7,492.2 L277.2,492.1 L277.6,492.0 L278.0,491.9 L278.4,491.8 L278.9,491.7 L279.3,491.6 L279.7,491.5 L280.1,491.4 L280.6,491.4 L281.0,491.3 L281.4,491.2 L281.8,491.1 L282.3,491.0 L282.7,490.9 L283.1,490.8 L283.6,490.7 L284.0,490.6 L284.4,490.5 L284.8,490.4 L285.3,490.3 L285.7,490.2 L286.1,490.1 L286.5,490.0 L287.0,489.9 L287.4,489.8 L287.8,489.7 L288.2,489.6 L288.7,489.5 L289.1,489.4 L289.5,489.3 L289.9,489.2 L290.4,489.1 L290.8,489.0 L291.2,488.9 L291.6,488.8 L292.1,488.7 L292.5,488.6 L292.9,488.5 L293.4,488.4 L293.8,488.3 L294.2,488.2 L294.6,488.1 L295.1,488.0 L295.5,487.9 L295.9,487.8 L296.3,487.7 L296.8,487.6 L297.2,487.5 L297.6,487.4 L298.0,487.3 L298.5,487.2 L298.9,487.1 L299.3,487.0 L299.7,486.9 L300.2,486.7 L300.6,486.6 L301.0,486.5 L301.4,486.4 L301.9,486.3 L302.3,486.2 L302.7,486.1 L303.2,486.0 L303.6,485.9 L304.0,485.8 L304.4,485.7 L304.9,485.5 L305.3,485.4 L305.7,485.3 L306.1,485.2 L306.6,485.1 L307.0,485.0 L307.4,484.9 L307.8,484.7 L308.3,484.6 L308.7,484.5 L309.1,484.4 L309.5,484.3 L310.0,484.2 L310.4,484.1 L310.8,483.9 L311.3,483.8 L311.7,483.7 L312.1,483.6 L312.5,483.5 L313.0,483.4 L313.4,483.2 L313.8,483.1 L314.2,483.0 L314.7,482.9 L315.1,482.8 L315.5,482.6 L315.9,482.5 L316.4,482.4 L316.8,482.3 L317.2,482.1 L317.6,482.0 L318.1,481.9 L318.5,481.8 L318.9,481.7 L319.3,481.5 L319.8,481.4 L320.2,481.3 L320.6,481.2 L321.1,481.0 L321.5,480.9 L321.9,480.8 L322.3,480.6 L322.8,480.5 L323.2,480.4 L323.6,480.3 L324.0,480.1 L324.5,480.0 L324.9,479.9 L325.3,479.7 L325.7,479.6 L326.2,479.5 L326.6,479.3 L327.0,479.2 L327.4,479.1 L327.9,478.9 L328.3,478.8 L328.7,478.7 L329.1,478.5 L329.6,478.4 L330.0,478.3 L330.4,478.1 L330.9,478.0 L331.3,477.9 L331.7,477.7 L332.1,477.6 L332.6,477.4 L333.0,477.3 L333.4,477.2 L333.8,477.0 L334.3,476.9 L334.7,476.7 L335.1,476.6 L335.5,476.5 L336.0,476.3 L336.4,476.2 L336.8,476.0 L337.2,475.9 L337.7,475.7 L338.1,475.6 L338.5,475.4 L339.0,475.3 L339.4,475.1 L339.8,475.0 L340.2,474.9 L340.7,474.7 L341.1,474.6 L341.5,474.4 L341.9,474.3 L342.4,474.1 L342.8,473.9 L343.2,473.8 L343.6,473.6 L344.1,473.5 L344.5,473.3 L344.9,473.2 L345.3,473.0 L345.8,472.9 L346.2,472.7 L346.6,472.6 L347.0,472.4 L347.5,472.2 L347.9,472.1 L348.3,471.9 L348.8,471.8 L349.2,471.6 L349.6,471.4 L350.0,471.3 L350.5,471.1 L350.9,471.0 L351.3,470.8 L351.7,470.6 L352.2,470.5 L352.6,470.3 L353.0,470.1 L353.4,470.0 L353.9,469.8 L354.3,469.6 L354.7,469.4 L355.1,469.3 L355.6,469.1 L356.0,468.9 L356.4,468.8 L356.8,468.6 L357.3,468.4 L357.7,468.2 L358.1,468.1 L358.6,467.9 L359.0,467.7 L359.4,467.5 L359.8,467.4 L360.3,467.2 L360.7,467.0 L361.1,466.8 L361.5,466.6 L362.0,466.5 L362.4,466.3 L362.8,466.1 L363.2,465.9 L363.7,465.7 L364.1,465.5 L364.5,465.4 L364.9,465.2 L365.4,465.0 L365.8,464.8 L366.2,464.6 L366.7,464.4 L367.1,464.2 L367.5,464.0 L367.9,463.8 L368.4,463.6 L368.8,463.4 L369.2,463.3 L369.6,463.1 L370.1,462.9 L370.5,462.7 L370.9,462.5 L371.3,462.3 L371.8,462.1 L372.2,461.9 L372.6,461.7 L373.0,461.5 L373.5,461.3 L373.9,461.0 L374.3,460.8 L374.7,460.6 L375.2,460.4 L375.6,460.2 L376.0,460.0 L376.5,459.8 L376.9,459.6 L377.3,459.4 L377.7,459.2 L378.2,458.9 L378.6,458.7 L379.0,458.5 L379.4,458.3 L379.9,458.1 L380.3,457.9 L380.7,457.6 L381.1,457.4 L381.6,457.2 L382.0,457.0 L382.4,456.8 L382.8,456.5 L383.3,456.3 L383.7,456.1 L384.1,455.8 L384.5,455.6 L385.0,455.4 L385.4,455.2 L385.8,454.9 L386.3,454.7 L386.7,454.4 L387.1,454.2 L387.5,454.0 L388.0,453.7 L388.4,453.5 L388.8,453.3 L389.2,453.0 L389.7,452.8 L390.1,452.5 L390.5,452.3 L390.9,452.0 L391.4,451.8 L391.8,451.5 L392.2,451.3 L392.6,451.0 L393.1,450.8 L393.5,450.5 L393.9,450.3 L394.3,450.0 L394.8,449.8 L395.2,449.5 L395.6,449.2 L396.1,449.0 L396.5,448.7 L396.9,448.5 L397.3,448.2 L397.8,447.9 L398.2,447.7 L398.6,447.4 L399.0,447.1 L399.5,446.8 L399.9,446.6 L400.3,446.3 L400.7,446.0 L401.2,445.7 L401.6,445.5 L402.0,445.2 L402.4,444.9 L402.9,444.6 L403.3,444.3 L403.7,444.0 L404.2,443.7 L404.6,443.5 L405.0,443.2 L405.4,442.9 L405.9,442.6 L406.3,442.3 L406.7,442.0 L407.1,441.7 L407.6,441.4 L408.0,441.1 L408.4,440.8 L408.8,440.5 L409.3,440.2 L409.7,439.9 L410.1,439.6 L410.5,439.2 L411.0,438.9 L411.4,438.6 L411.8,438.3 L412.2,438.0 L412.7,437.7 L413.1,437.3 L413.5,437.0 L414.0,436.7 L414.4,436.4 L414.8,436.0 L415.2,435.7 L415.7,435.4 L416.1,435.0 L416.5,434.7 L416.9,434.4 L417.4,434.0 L417.8,433.7 L418.2,433.3 L418.6,433.0 L419.1,432.6 L419.5,432.3 L419.9,431.9 L420.3,431.6 L420.8,431.2 L421.2,430.9 L421.6,430.5 L422.0,430.2 L422.5,429.8 L422.9,429.4 L423.3,429.1 L423.8,428.7 L424.2,428.3 L424.6,427.9 L425.0,427.6 L425.5,427.2 L425.9,426.8 L426.3,426.4 L426.7,426.0 L427.2,425.7 L427.6,425.3 L428.0,424.9 L428.4,424.5 L428.9,424.1 L429.3,423.7 L429.7,423.3 L430.1,422.9 L430.6,422.5 L431.0,422.1 L431.4,421.7 L431.9,421.3 L432.3,420.9 L432.7,420.4 L433.1,420.0 L433.6,419.6 L434.0,419.2 L434.4,418.8 L434.8,418.3 L435.3,417.9 L435.7,417.5 L436.1,417.0 L436.5,416.6 L437.0,416.2 L437.4,415.7 L437.8,415.3 L438.2,414.8 L438.7,414.4 L439.1,413.9 L439.5,413.5 L439.9,413.0 L440.4,412.6 L440.8,412.1 L441.2,411.7 L441.7,411.2 L442.1,410.7 L442.5,410.3 L442.9,409.8 L443.4,409.3 L443.8,408.8 L444.2,408.4 L444.6,407.9 L445.1,407.4 L445.5,406.9 L445.9,406.4 L446.3,405.9 L446.8,405.4 L447.2,404.9 L447.6,404.4 L448.0,403.9 L448.5,403.4 L448.9,402.9 L449.3,402.4 L449.7,401.9 L450.2,401.4 L450.6,400.9 L451.0,400.4 L451.5,399.9 L451.9,399.4 L452.3,398.9 L452.7,398.3 L453.2,397.8 L453.6,397.3 L454.0,396.8 L454.4,396.2 L454.9,395.7 L455.3,395.2 L455.7,394.7 L456.1,394.1 L456.6,393.6 L457.0,393.1 L457.4,392.5 L457.8,392.0 L458.3,391.5 L458.7,391.0 L459.1,390.4 L459.6,389.9 L460.0,389.4 L460.4,388.8 L460.8,388.3 L461.3,387.8 L461.7,387.2 L462.1,386.7 L462.5,386.2 L463.0,385.7 L463.4,385.1 L463.8,384.6 L464.2,384.1 L464.7,383.6 L465.1,383.1 L465.5,382.5 L465.9,382.0 L466.4,381.5 L466.8,381.0 L467.2,380.5 L467.6,380.0 L468.1,379.5 L468.5,379.1 L468.9,378.6 L469.4,378.1 L469.8,377.6 L470.2,377.2 L470.6,376.7 L471.1,376.3 L471.5,375.9 L471.9,375.4 L472.3,375.0 L472.8,374.6 L473.2,374.2 L473.6,373.9 L474.0,373.5 L474.5,373.2 L474.9,372.8 L475.3,372.5 L475.7,372.2 L476.2,371.9 L476.6,371.7 L477.0,371.4 L477.4,371.2 L477.9,371.0 L478.3,370.8 L478.7,370.7 L479.2,370.6 L479.6,370.5 L480.0,370.4 L480.4,370.4 L480.9,370.3 L481.3,370.4 L481.7,370.4 L482.1,370.5 L482.6,370.6 L483.0,370.7 L483.4,370.9 L483.8,371.1 L484.3,371.3 L484.7,371.6 L485.1,371.9 L485.5,372.2 L486.0,372.6 L486.4,373.0 L486.8,373.5 L487.3,374.0 L487.7,374.5 L488.1,375.0 L488.5,375.6 L489.0,376.2 L489.4,376.9 L489.8,377.6 L490.2,378.3 L490.7,379.1 L491.1,379.9 L491.5,380.7 L491.9,381.6 L492.4,382.5 L492.8,383.4 L493.2,384.4 L493.6,385.4 L494.1,386.4 L494.5,387.5 L494.9,388.6 L495.3,389.7 L495.8,390.9 L496.2,392.0 L496.6,393.2 L497.1,394.5 L497.5,395.7 L497.9,397.0 L498.3,398.3 L498.8,399.6 L499.2,401.0 L499.6,402.3 L500.0,403.7 L500.5,405.1 L500.9,406.5 L501.3,407.9 L501.7,409.3 L502.2,410.8 L502.6,412.2 L503.0,413.7 L503.4,415.2 L503.9,416.7 L504.3,418.1 L504.7,419.6 L505.1,421.1 L505.6,422.6 L506.0,424.1 L506.4,425.6 L506.9,427.1 L507.3,428.6 L507.7,430.1 L508.1,431.6 L508.6,433.1 L509.0,434.6 L509.4,436.1 L509.8,437.5 L510.3,439.0 L510.7,440.4 L511.1,441.9 L511.5,443.3 L512.0,444.8 L512.4,446.2 L512.8,447.6 L513.2,449.0 L513.7,450.4 L514.1,451.8 L514.5,453.1 L515.0,454.5 L515.4,455.8 L515.8,457.1 L516.2,458.4 L516.7,459.7 L517.1,461.0 L517.5,462.3 L517.9,463.5 L518.4,464.8 L518.8,466.0 L519.2,467.2 L519.6,468.4 L520.1,469.6 L520.5,470.8 L520.9,471.9 L521.3,473.0 L521.8,474.2 L522.2,475.3 L522.6,476.4 L523.0,477.4 L523.5,478.5 L523.9,479.6 L524.3,480.6 L524.8,481.6 L525.2,482.6 L525.6,483.6 L526.0,484.6 L526.5,485.5 L526.9,486.5 L527.3,487.4 L527.7,488.4 L528.2,489.3 L528.6,490.2 L529.0,491.0 L529.4,491.9 L529.9,492.8 L530.3,493.6 L530.7,494.4 L531.1,495.2 L531.6,496.1 L532.0,496.8 L532.4,497.6 L532.8,498.4 L533.3,499.1 L533.7,499.9 L534.1,500.6 L534.6,501.3 L535.0,502.1 L535.4,502.8 L535.8,503.4 L536.3,504.1 L536.7,504.8 L537.1,505.4 L537.5,506.1 L538.0,506.7 L538.4,507.3 L538.8,508.0 L539.2,508.6 L539.7,509.2 L540.1,509.7 L540.5,510.3 L540.9,510.9 L541.4,511.5 L541.8,512.0 L542.2,512.5 L542.7,513.1 L543.1,513.6 L543.5,514.1 L543.9,514.6 L544.4,515.1 L544.8,515.6 L545.2,516.1 L545.6,516.6 L546.1,517.0 L546.5,517.5 L546.9,518.0 L547.3,518.4 L547.8,518.8 L548.2,519.3 L548.6,519.7 L549.0,520.1 L549.5,520.5 L549.9,520.9 L550.3,521.3 L550.7,521.7 L551.2,522.1 L551.6,522.5 L552.0,522.9 L552.5,523.2 L552.9,523.6 L553.3,523.9 L553.7,524.3 L554.2,524.6 L554.6,525.0 L555.0,525.3 L555.4,525.6 L555.9,526.0 L556.3,526.3 L556.7,526.6 L557.1,526.9 L557.6,527.2 L558.0,527.5 L558.4,527.8 L558.8,528.1 L559.3,528.4 L559.7,528.6 L560.1,528.9 L560.5,529.2 L561.0,529.5 L561.4,529.7 L561.8,530.0 L562.3,530.2 L562.7,530.5 L563.1,530.7 L563.5,531.0 L564.0,531.2 L564.4,531.5 L564.8,531.7 L565.2,531.9 L565.2,531.9" stroke="#d70000"/>
<path d="M275.5,482.1 L275.9,482.0 L276.3,481.9 L276.7,481.7 L277.2,481.6 L277.6,481.5 L278.0,481.4 L278.4,481.3 L278.9,481.2 L279.3,481.1 L279.7,481.0 L280.1,480.9 L280.6,480.7 L281.0,480.6 L281.4,480.5 L281.8,480.4 L282.3,480.3 L282.7,480.2 L283.1,480.1 L283.6,480.0 L284.0,479.8 L284.4,479.7 L284.8,479.6 L285.3,479.5 L285.7,479.4 L286.1,479.3 L286.5,479.1 L287.0,479.0 L287.4,478.9 L287.8,478.8 L288.2,478.7 L288.7,478.5 L289.1,478.4 L289.5,478.3 L289.9,478.2 L290.4,478.1 L290.8,477.9 L291.2,477.8 L291.6,477.7 L292.1,477.6 L292.5,477.4 L292.9,477.3 L293.4,477.2 L293.8,477.1 L294.2,476.9 L294.6,476.8 L295.1,476.7 L295.5,476.6 L295.9,476.4 L296.3,476.3 L296.8,476.2 L297.2,476.1 L297.6,475.9 L298.0,475.8 L298.5,475.7 L298.9,475.5 L299.3,475.4 L299.7,475.3 L300.2,475.2 L300.6,475.0 L301.0,474.9 L301.4,474.8 L301.9,474.6 L302.3,474.5 L302.7,474.4 L303.2,474.2 L303.6,474.1 L304.0,474.0 L304.4,473.8 L304.9,473.7 L305.3,473.6 L305.7,473.4 L306.1,473.3 L306.6,473.1 L307.0,473.0 L307.4,472.9 L307.8,472.7 L308.3,472.6 L308.7,472.5 L309.1,472.3 L309.5,472.2 L310.0,472.0 L310.4,471.9 L310.8,471.7 L311.3,471.6 L311.7,471.5 L312.1,471.3 L312.5,471.2 L313.0,471.0 L313.4,470.9 L313.8,470.7 L314.2,470.6 L314.7,470.4 L315.1,470.3 L315.5,470.2 L315.9,470.0 L316.4,469.9 L316.8,469.7 L317.2,469.6 L317.6,469.4 L318.1,469.3 L318.5,469.1 L318.9,469.0 L319.3,468.8 L319.8,468.7 L320.2,468.5 L320.6,468.3 L321.1,468.2 L321.5,468.0 L321.9,467.9 L322.3,467.7 L322.8,467.6 L323.2,467.4 L323.6,467.3 L324.0,467.1 L324.5,466.9 L324.9,466.8 L325.3,466.6 L325.7,466.5 L326.2,466.3 L326.6,466.2 L327.0,466.0 L327.4,465.8 L327.9,465.7 L328.3,465.5 L328.7,465.3 L329.1,465.2 L329.6,465.0 L330.0,464.9 L330.4,464.7 L330.9,464.5 L331.3,464.4 L331.7,464.2 L332.1,464.0 L332.6,463.9 L333.0,463.7 L333.4,463.5 L333.8,463.3 L334.3,463.2 L334.7,463.0 L335.1,462.8 L335.5,462.7 L336.0,462.5 L336.4,462.3 L336.8,462.1 L337.2,462.0 L337.7,461.8 L338.1,461.6 L338.5,461.4 L339.0,461.3 L339.4,461.1 L339.8,460.9 L340.2,460.7 L340.7,460.6 L341.1,460.4 L341.5,460.2 L341.9,460.0 L342.4,459.8 L342.8,459.6 L343.2,459.5 L343.6,459.3 L344.1,459.1 L344.5,458.9 L344.9,458.7 L345.3,458.5 L345.8,458.4 L346.2,458.2 L346.6,458.0 L347.0,457.8 L347.5,457.6 L347.9,457.4 L348.3,457.2 L348.8,457.0 L349.2,456.8 L349.6,456.7 L350.0,456.5 L350.5,456.3 L350.9,456.1 L351.3,455.9 L351.7,455.7 L352.2,455.5 L352.6,455.3 L353.0,455.1 L353.4,454.9 L353.9,454.7 L354.3,454.5 L354.7,454.3 L355.1,454.1 L355.6,453.9 L356.0,453.7 L356.4,453.5 L356.8,453.3 L357.3,453.1 L357.7,452.9 L358.1,452.7 L358.6,452.5 L359.0,452.3 L359.4,452.1 L359.8,451.8 L360.3,451.6 L360.7,451.4 L361.1,451.2 L361.5,451.0 L362.0,450.8 L362.4,450.6 L362.8,450.4 L363.2,450.1 L363.7,449.9 L364.1,449.7 L364.5,449.5 L364.9,449.3 L365.4,449.1 L365.8,448.8 L366.2,448.6 L366.7,448.4 L367.1,448.2 L367.5,448.0 L367.9,447.7 L368.4,447.5 L368.8,447.3 L369.2,447.1 L369.6,446.8 L370.1,446.6 L370.5,446.4 L370.9,446.2 L371.3,445.9 L371.8,445.7 L372.2,445.5 L372.6,445.2 L373.0,445.0 L373.5,444.8 L373.9,444.5 L374.3,444.3 L374.7,444.1 L375.2,443.8 L375.6,443.6 L376.0,443.4 L376.5,443.1 L376.9,442.9 L377.3,442.6 L377.7,442.4 L378.2,442.2 L378.6,441.9 L379.0,441.7 L379.4,441.4 L379.9,441.2 L380.3,440.9 L380.7,440.7 L381.1,440.4 L381.6,440.2 L382.0,439.9 L382.4,439.7 L382.8,439.4 L383.3,439.2 L383.7,438.9 L384.1,438.7 L384.5,438.4 L385.0,438.1 L385.4,437.9 L385.8,437.6 L386.3,437.4 L386.7,437.1 L387.1,436.8 L387.5,436.6 L388.0,436.3 L388.4,436.1 L388.8,435.8 L389.2,435.5 L389.7,435.2 L390.1,435.0 L390.5,434.7 L390.9,434.4 L391.4,434.2 L391.8,433.9 L392.2,433.6 L392.6,433.3 L393.1,433.1 L393.5,432.8 L393.9,432.5 L394.3,432.2 L394.8,431.9 L395.2,431.7 L395.6,431.4 L396.1,431.1 L396.5,430.8 L396.9,430.5 L397.3,430.2 L397.8,429.9 L398.2,429.6 L398.6,429.3 L399.0,429.0 L399.5,428.8 L399.9,428.5 L400.3,428.2 L400.7,427.9 L401.2,427.6 L401.6,427.3 L402.0,427.0 L402.4,426.6 L402.9,426.3 L403.3,426.0 L403.7,425.7 L404.2,425.4 L404.6,425.1 L405.0,424.8 L405.4,424.5 L405.9,424.2 L406.3,423.8 L406.7,423.5 L407.1,423.2 L407.6,422.9 L408.0,422.6 L408.4,422.2 L408.8,421.9 L409.3,421.6 L409.7,421.2 L410.1,420.9 L410.5,420.6 L411.0,420.2 L411.4,419.9 L411.8,419.6 L412.2,419.2 L412.7,418.9 L413.1,418.5 L413.5,418.2 L414.0,417.8 L414.4,417.5 L414.8,417.1 L415.2,416.8 L415.7,416.4 L416.1,416.1 L416.5,415.7 L416.9,415.4 L417.4,415.0 L417.8,414.6 L418.2,414.3 L418.6,413.9 L419.1,413.5 L419.5,413.2 L419.9,412.8 L420.3,412.4 L420.8,412.0 L421.2,411.6 L421.6,411.3 L422.0,410.9 L422.5,410.5 L422.9,410.1 L423.3,409.7 L423.8,409.3 L424.2,408.9 L424.6,408.5 L425.0,408.1 L425.5,407.7 L425.9,407.3 L426.3,406.9 L426.7,406.5 L427.2,406.0 L427.6,405.6 L428.0,405.2 L428.4,404.8 L428.9,404.4 L429.3,403.9 L429.7,403.5 L430.1,403.1 L430.6,402.6 L431.0,402.2 L431.4,401.7 L431.9,401.3 L432.3,400.8 L432.7,400.4 L433.1,399.9 L433.6,399.5 L434.0,399.0 L434.4,398.5 L434.8,398.1 L435.3,397.6 L435.7,397.1 L436.1,396.6 L436.5,396.1 L437.0,395.6 L437.4,395.2 L437.8,394.7 L438.2,394.2 L438.7,393.7 L439.1,393.2 L439.5,392.6 L439.9,392.1 L440.4,391.6 L440.8,391.1 L441.2,390.6 L441.7,390.0 L442.1,389.5 L442.5,389.0 L442.9,388.4 L443.4,387.9 L443.8,387.3 L444.2,386.8 L444.6,386.2 L445.1,385.6 L445.5,385.1 L445.9,384.5 L446.3,383.9 L446.8,383.3 L447.2,382.7 L447.6,382.1 L448.0,381.5 L448.5,380.9 L448.9,380.3 L449.3,379.7 L449.7,379.1 L450.2,378.5 L450.6,377.8 L451.0,377.2 L451.5,376.6 L451.9,375.9 L452.3,375.3 L452.7,374.6 L453.2,374.0 L453.6,373.3 L454.0,372.6 L454.4,372.0 L454.9,371.3 L455.3,370.6 L455.7,369.9 L456.1,369.2 L456.6,368.5 L457.0,367.8 L457.4,367.1 L457.8,366.4 L458.3,365.7 L458.7,364.9 L459.1,364.2 L459.6,363.5 L460.0,362.7 L460.4,362.0 L460.8,361.2 L461.3,360.5 L461.7,359.7 L462.1,358.9 L462.5,358.2 L463.0,357.4 L463.4,356.6 L463.8,355.9 L464.2,355.1 L464.7,354.3 L465.1,353.5 L465.5,352.7 L465.9,351.9 L466.4,351.1 L466.8,350.3 L467.2,349.5 L467.6,348.7 L468.1,347.9 L468.5,347.1 L468.9,346.3 L469.4,345.5 L469.8,344.6 L470.2,343.8 L470.6,343.0 L471.1,342.2 L471.5,341.4 L471.9,340.6 L472.3,339.8 L472.8,339.0 L473.2,338.2 L473.6,337.4 L474.0,336.6 L474.5,335.8 L474.9,335.0 L475.3,334.2 L475.7,333.4 L476.2,332.7 L476.6,331.9 L477.0,331.2 L477.4,330.4 L477.9,329.7 L478.3,329.0 L478.7,328.3 L479.2,327.6 L479.6,326.9 L480.0,326.2 L480.4,325.6 L480.9,324.9 L481.3,324.3 L481.7,323.7 L482.1,323.2 L482.6,322.6 L483.0,322.1 L483.4,321.6 L483.8,321.1 L484.3,320.7 L484.7,320.3 L485.1,319.9 L485.5,319.6 L486.0,319.3 L486.4,319.0 L486.8,318.8 L487.3,318.6 L487.7,318.4 L488.1,318.3 L488.5,318.2 L489.0,318.2 L489.4,318.2 L489.8,318.3 L490.2,318.4 L490.7,318.6 L491.1,318.8 L491.5,319.1 L491.9,319.4 L492.4,319.7 L492.8,320.2 L493.2,320.6 L493.6,321.1 L494.1,321.7 L494.5,322.3 L494.9,323.0 L495.3,323.7 L495.8,324.5 L496.2,325.3 L496.6,326.2 L497.1,327.2 L497.5,328.1 L497.9,329.2 L498.3,330.3 L498.8,331.4 L499.2,332.6 L499.6,333.8 L500.0,335.1 L500.5,336.4 L500.9,337.8 L501.3,339.2 L501.7,340.6 L502.2,342.1 L502.6,343.7 L503.0,345.2 L503.4,346.9 L503.9,348.5 L504.3,350.2 L504.7,351.9 L505.1,353.7 L505.6,355.5 L506.0,357.3 L506.4,359.1 L506.9,361.0 L507.3,362.9 L507.7,364.8 L508.1,366.8 L508.6,368.8 L509.0,370.7 L509.4,372.7 L509.8,374.8 L510.3,376.8 L510.7,378.8 L511.1,380.9 L511.5,383.0 L512.0,385.0 L512.4,387.1 L512.8,389.2 L513.2,391.3 L513.7,393.4 L514.1,395.4 L514.5,397.5 L515.0,399.6 L515.4,401.7 L515.8,403.7 L516.2,405.8 L516.7,407.8 L517.1,409.9 L517.5,411.9 L517.9,413.9 L518.4,416.0 L518.8,417.9 L519.2,419.9 L519.6,421.9 L520.1,423.8 L520.5,425.8 L520.9,427.7 L521.3,429.6 L521.8,431.5 L522.2,433.3 L522.6,435.2 L523.0,437.0 L523.5,438.8 L523.9,440.6 L524.3,442.3 L524.8,444.1 L525.2,445.8 L525.6,447.5 L526.0,449.2 L526.5,450.8 L526.9,452.4 L527.3,454.0 L527.7,455.6 L528.2,457.2 L528.6,458.7 L529.0,460.2 L529.4,461.7 L529.9,463.2 L530.3,464.7 L530.7,466.1 L531.1,467.5 L531.6,468.9 L532.0,470.2 L532.4,471.6 L532.8,472.9 L533.3,474.2 L533.7,475.5 L534.1,476.7 L534.6,478.0 L535.0,479.2 L535.4,480.4 L535.8,481.5 L536.3,482.7 L536.7,483.8 L537.1,484.9 L537.5,486.0 L538.0,487.1 L538.4,488.2 L538.8,489.2 L539.2,490.2 L539.7,491.2 L540.1,492.2 L540.5,493.2 L540.9,494.1 L541.4,495.0 L541.8,496.0 L542.2,496.9 L542.7,497.7 L543.1,498.6 L543.5,499.5 L543.9,500.3 L544.4,501.1 L544.8,501.9 L545.2,502.7 L545.6,503.5 L546.1,504.3 L546.5,505.0 L546.9,505.8 L547.3,506.5 L547.8,507.2 L548.2,507.9 L548.6,508.6 L549.0,509.2 L549.5,509.9 L549.9,510.6 L550.3,511.2 L550.7,511.8 L551.2,512.4 L551.6,513.0 L552.0,513.6 L552.5,514.2 L552.9,514.8 L553.3,515.3 L553.7,515.9 L554.2,516.4 L554.6,517.0 L555.0,517.5 L555.4,518.0 L555.9,518.5 L556.3,519.0 L556.7,519.5 L557.1,519.9 L557.6,520.4 L558.0,520.9 L558.4,521.3 L558.8,521.8 L559.3,522.2 L559.7,522.6 L560.1,523.0 L560.5,523.5 L561.0,523.9 L561.4,524.3 L561.8,524.6 L562.3,525.0 L562.7,525.4 L563.1,525.8 L563.5,526.1 L564.0,526.5 L564.4,526.8 L564.8,527.2 L565.2,527.5 L565.2,527.5" stroke="#0000f2"/>
<path d="M275.5,508.3 L275.9,508.2 L276.3,508.2 L276.7,508.1 L277.2,508.0 L277.6,507.9 L278.0,507.9 L278.4,507.8 L278.9,507.7 L279.3,507.7 L279.7,507.6 L280.1,507.5 L280.6,507.4 L281.0,507.4 L281.4,507.3 L281.8,507.2 L282.3,507.2 L282.7,507.1 L283.1,507.0 L283.6,506.9 L284.0,506.9 L284.4,506.8 L284.8,506.7 L285.3,506.6 L285.7,506.6 L286.1,506.5 L286.5,506.4 L287.0,506.3 L287.4,506.3 L287.8,506.2 L288.2,506.1 L288.7,506.0 L289.1,506.0 L289.5,505.9 L289.9,505.8 L290.4,505.7 L290.8,505.6 L291.2,505.6 L291.6,505.5 L292.1,505.4 L292.5,505.3 L292.9,505.2 L293.4,505.2 L293.8,505.1 L294.2,505.0 L294.6,504.9 L295.1,504.8 L295.5,504.8 L295.9,504.7 L296.3,504.6 L296.8,504.5 L297.2,504.4 L297.6,504.4 L298.0,504.3 L298.5,504.2 L298.9,504.1 L299.3,504.0 L299.7,503.9 L300.2,503.9 L300.6,503.8 L301.0,503.7 L301.4,503.6 L301.9,503.5 L302.3,503.4 L302.7,503.4 L303.2,503.3 L303.6,503.2 L304.0,503.1 L304.4,503.0 L304.9,502.9 L305.3,502.8 L305.7,502.7 L306.1,502.7 L306.6,502.6 L307.0,502.5 L307.4,502.4 L307.8,502.3 L308.3,502.2 L308.7,502.1 L309.1,502.0 L309.5,501.9 L310.0,501.9 L310.4,501.8 L310.8,501.7 L311.3,501.6 L311.7,501.5 L312.1,501.4 L312.5,501.3 L313.0,501.2 L313.4,501.1 L313.8,501.0 L314.2,500.9 L314.7,500.8 L315.1,500.7 L315.5,500.6 L315.9,500.6 L316.4,500.5 L316.8,500.4 L317.2,500.3 L317.6,500.2 L318.1,500.1 L318.5,500.0 L318.9,499.9 L319.3,499.8 L319.8,499.7 L320.2,499.6 L320.6,499.5 L321.1,499.4 L321.5,499.3 L321.9,499.2 L322.3,499.1 L322.8,499.0 L323.2,498.9 L323.6,498.8 L324.0,498.7 L324.5,498.6 L324.9,498.5 L325.3,498.4 L325.7,498.3 L326.2,498.2 L326.6,498.1 L327.0,498.0 L327.4,497.9 L327.9,497.8 L328.3,497.7 L328.7,497.5 L329.1,497.4 L329.6,497.3 L330.0,497.2 L330.4,497.1 L330.9,497.0 L331.3,496.9 L331.7,496.8 L332.1,496.7 L332.6,496.6 L333.0,496.5 L333.4,496.4 L333.8,496.3 L334.3,496.1 L334.7,496.0 L335.1,495.9 L335.5,495.8 L336.0,495.7 L336.4,495.6 L336.8,495.5 L337.2,495.4 L337.7,495.3 L338.1,495.1 L338.5,495.0 L339.0,494.9 L339.4,494.8 L339.8,494.7 L340.2,494.6 L340.7,494.4 L341.1,494.3 L341.5,494.2 L341.9,494.1 L342.4,494.0 L342.8,493.9 L343.2,493.7 L343.6,493.6 L344.1,493.5 L344.5,493.4 L344.9,493.3 L345.3,493.2 L345.8,493.0 L346.2,492.9 L346.6,492.8 L347.0,492.7 L347.5,492.6 L347.9,492.4 L348.3,492.3 L348.8,492.2 L349.2,492.1 L349.6,491.9 L350.0,491.8 L350.5,491.7 L350.9,491.6 L351.3,491.4 L351.7,491.3 L352.2,491.2 L352.6,491.1 L353.0,490.9 L353.4,490.8 L353.9,490.7 L354.3,490.6 L354.7,490.4 L355.1,490.3 L355.6,490.2 L356.0,490.1 L356.4,489.9 L356.8,489.8 L357.3,489.7 L357.7,489.5 L358.1,489.4 L358.6,489.3 L359.0,489.2 L359.4,489.0 L359.8,488.9 L360.3,488.8 L360.7,488.6 L361.1,488.5 L361.5,488.4 L362.0,488.2 L362.4,488.1 L362.8,488.0 L363.2,487.9 L363.7,487.7 L364.1,487.6 L364.5,487.5 L364.9,487.3 L365.4,487.2 L365.8,487.1 L366.2,486.9 L366.7,486.8 L367.1,486.7 L367.5,486.5 L367.9,486.4 L368.4,486.3 L368.8,486.1 L369.2,486.0 L369.6,485.9 L370.1,485.8 L370.5,485.6 L370.9,485.5 L371.3,485.4 L371.8,485.2 L372.2,485.1 L372.6,485.0 L373.0,484.9 L373.5,484.7 L373.9,484.6 L374.3,484.5 L374.7,484.3 L375.2,484.2 L375.6,484.1 L376.0,484.0 L376.5,483.8 L376.9,483.7 L377.3,483.6 L377.7,483.5 L378.2,483.4 L378.6,483.2 L379.0,483.1 L379.4,483.0 L379.9,482.9 L380.3,482.8 L380.7,482.7 L381.1,482.6 L381.6,482.4 L382.0,482.3 L382.4,482.2 L382.8,482.1 L383.3,482.0 L383.7,481.9 L384.1,481.8 L384.5,481.7 L385.0,481.6 L385.4,481.5 L385.8,481.4 L386.3,481.3 L386.7,481.2 L387.1,481.2 L387.5,481.1 L388.0,481.0 L388.4,480.9 L388.8,480.8 L389.2,480.8 L389.7,480.7 L390.1,480.6 L390.5,480.5 L390.9,480.5 L391.4,480.4 L391.8,480.4 L392.2,480.3 L392.6,480.3 L393.1,480.2 L393.5,480.2 L393.9,480.1 L394.3,480.1 L394.8,480.1 L395.2,480.1 L395.6,480.0 L396.1,480.0 L396.5,480.0 L396.9,480.0 L397.3,480.0 L397.8,480.0 L398.2,480.0 L398.6,480.0 L399.0,480.1 L399.5,480.1 L399.9,480.1 L400.3,480.1 L400.7,480.2 L401.2,480.2 L401.6,480.3 L402.0,480.4 L402.4,480.4 L402.9,480.5 L403.3,480.6 L403.7,480.7 L404.2,480.8 L404.6,480.9 L405.0,481.0 L405.4,481.1 L405.9,481.2 L406.3,481.4 L406.7,481.5 L407.1,481.7 L407.6,481.8 L408.0,482.0 L408.4,482.1 L408.8,482.3 L409.3,482.5 L409.7,482.7 L410.1,482.9 L410.5,483.1 L411.0,483.4 L411.4,483.6 L411.8,483.8 L412.2,484.1 L412.7,484.3 L413.1,484.6 L413.5,484.9 L414.0,485.2 L414.4,485.5 L414.8,485.8 L415.2,486.1 L415.7,486.4 L416.1,486.7 L416.5,487.1 L416.9,487.4 L417.4,487.7 L417.8,488.1 L418.2,488.5 L418.6,488.9 L419.1,489.2 L419.5,489.6 L419.9,490.0 L420.3,490.4 L420.8,490.8 L421.2,491.3 L421.6,491.7 L422.0,492.1 L422.5,492.6 L422.9,493.0 L423.3,493.5 L423.8,493.9 L424.2,494.4 L424.6,494.9 L425.0,495.3 L425.5,495.8 L425.9,496.3 L426.3,496.8 L426.7,497.3 L427.2,497.8 L427.6,498.3 L428.0,498.8 L428.4,499.3 L428.9,499.8 L429.3,500.3 L429.7,500.8 L430.1,501.3 L430.6,501.8 L431.0,502.4 L431.4,502.9 L431.9,503.4 L432.3,503.9 L432.7,504.5 L433.1,505.0 L433.6,505.5 L434.0,506.0 L434.4,506.5 L434.8,507.1 L435.3,507.6 L435.7,508.1 L436.1,508.6 L436.5,509.1 L437.0,509.7 L437.4,510.2 L437.8,510.7 L438.2,511.2 L438.7,511.7 L439.1,512.2 L439.5,512.7 L439.9,513.2 L440.4,513.7 L440.8,514.2 L441.2,514.7 L441.7,515.1 L442.1,515.6 L442.5,516.1 L442.9,516.6 L443.4,517.0 L443.8,517.5 L444.2,518.0 L444.6,518.4 L445.1,518.9 L445.5,519.3 L445.9,519.7 L446.3,520.2 L446.8,520.6 L447.2,521.0 L447.6,521.5 L448.0,521.9 L448.5,522.3 L448.9,522.7 L449.3,523.1 L449.7,523.5 L450.2,523.9 L450.6,524.3 L451.0,524.6 L451.5,525.0 L451.9,525.4 L452.3,525.8 L452.7,526.1 L453.2,526.5 L453.6,526.8 L454.0,527.2 L454.4,527.5 L454.9,527.8 L455.3,528.2 L455.7,528.5 L456.1,528.8 L456.6,529.1 L457.0,529.4 L457.4,529.8 L457.8,530.1 L458.3,530.4 L458.7,530.6 L459.1,530.9 L459.6,531.2 L460.0,531.5 L460.4,531.8 L460.8,532.0 L461.3,532.3 L461.7,532.6 L462.1,532.8 L462.5,533.1 L463.0,533.3 L463.4,533.6 L463.8,533.8 L464.2,534.0 L464.7,534.3 L465.1,534.5 L465.5,534.7 L465.9,534.9 L466.4,535.2 L466.8,535.4 L467.2,535.6 L467.6,535.8 L468.1,536.0 L468.5,536.2 L468.9,536.4 L469.4,536.6 L469.8,536.8 L470.2,537.0 L470.6,537.1 L471.1,537.3 L471.5,537.5 L471.9,537.7 L472.3,537.8 L472.8,538.0 L473.2,538.2 L473.6,538.3 L474.0,538.5 L474.5,538.6 L474.9,538.8 L475.3,538.9 L475.7,539.1 L476.2,539.2 L476.6,539.4 L477.0,539.5 L477.4,539.6 L477.9,539.8 L478.3,539.9 L478.7,540.0 L479.2,540.1 L479.6,540.3 L480.0,540.4 L480.4,540.5 L480.9,540.6 L481.3,540.7 L481.7,540.9 L482.1,541.0 L482.6,541.1 L483.0,541.2 L483.4,541.3 L483.8,541.4 L484.3,541.5 L484.7,541.6 L485.1,541.7 L485.5,541.8 L486.0,541.9 L486.4,542.0 L486.8,542.1 L487.3,542.1 L487.7,542.2 L488.1,542.3 L488.5,542.4 L489.0,542.5 L489.4,542.6 L489.8,542.6 L490.2,542.7 L490.7,542.8 L491.1,542.9 L491.5,542.9 L491.9,543.0 L492.4,543.1 L492.8,543.1 L493.2,543.2 L493.6,543.3 L494.1,543.3 L494.5,543.4 L494.9,543.5 L495.3,543.5 L495.8,543.6 L496.2,543.7 L496.6,543.7 L497.1,543.8 L497.5,543.8 L497.9,543.9 L498.3,543.9 L498.8,544.0 L499.2,544.0 L499.6,544.1 L500.0,544.1 L500.5,544.2 L500.9,544.2 L501.3,544.3 L501.7,544.3 L502.2,544.4 L502.6,544.4 L503.0,544.5 L503.4,544.5 L503.9,544.6 L504.3,544.6 L504.7,544.6 L505.1,544.7 L505.6,544.7 L506.0,544.8 L506.4,544.8 L506.9,544.8 L507.3,544.9 L507.7,544.9 L508.1,544.9 L508.6,545.0 L509.0,545.0 L509.4,545.0 L509.8,545.1 L510.3,545.1 L510.7,545.1 L511.1,545.2 L511.5,545.2 L512.0,545.2 L512.4,545.3 L512.8,545.3 L513.2,545.3 L513.7,545.3 L514.1,545.4 L514.5,545.4 L515.0,545.4 L515.4,545.4 L515.8,545.5 L516.2,545.5 L516.7,545.5 L517.1,545.5 L517.5,545.6 L517.9,545.6 L518.4,545.6 L518.8,545.6 L519.2,545.6 L519.6,545.7 L520.1,545.7 L520.5,545.7 L520.9,545.7 L521.3,545.7 L521.8,545.8 L522.2,545.8 L522.6,545.8 L523.0,545.8 L523.5,545.8 L523.9,545.9 L524.3,545.9 L524.8,545.9 L525.2,545.9 L525.6,545.9 L526.0,545.9 L526.5,546.0 L526.9,546.0 L527.3,546.0 L527.7,546.0 L528.2,546.0 L528.6,546.0 L529.0,546.0 L529.4,546.1 L529.9,546.1 L530.3,546.1 L530.7,546.1 L531.1,546.1 L531.6,546.1 L532.0,546.1 L532.4,546.1 L532.8,546.2 L533.3,546.2 L533.7,546.2 L534.1,546.2 L534.6,546.2 L535.0,546.2 L535.4,546.2 L535.8,546.2 L536.3,546.2 L536.7,546.3 L537.1,546.3 L537.5,546.3 L538.0,546.3 L538.4,546.3 L538.8,546.3 L539.2,546.3 L539.7,546.3 L540.1,546.3 L540.5,546.3 L540.9,546.3 L541.4,546.4 L541.8,546.4 L542.2,546.4 L542.7,546.4 L543.1,546.4 L543.5,546.4 L543.9,546.4 L544.4,546.4 L544.8,546.4 L545.2,546.4 L545.6,546.4 L546.1,546.4 L546.5,546.4 L546.9,546.4 L547.3,546.5 L547.8,546.5 L548.2,546.5 L548.6,546.5 L549.0,546.5 L549.5,546.5 L549.9,546.5 L550.3,546.5 L550.7,546.5 L551.2,546.5 L551.6,546.5 L552.0,546.5 L552.5,546.5 L552.9,546.5 L553.3,546.5 L553.7,546.5 L554.2,546.5 L554.6,546.5 L555.0,546.5 L555.4,546.6 L555.9,546.6 L556.3,546.6 L556.7,546.6 L557.1,546.6 L557.6,546.6 L558.0,546.6 L558.4,546.6 L558.8,546.6 L559.3,546.6 L559.7,546.6 L560.1,546.6 L560.5,546.6 L561.0,546.6 L561.4,546.6 L561.8,546.6 L562.3,546.6 L562.7,546.6 L563.1,546.6 L563.5,546.6 L564.0,546.6 L564.4,546.6 L564.8,546.6 L565.2,546.6 L565.2,546.6" stroke="#000000" stroke-dasharray="8 5.9"/>
<path d="M275.5,490.1 L275.9,490.0 L276.3,489.9 L276.7,489.8 L277.2,489.7 L277.6,489.6 L278.0,489.5 L278.4,489.4 L278.9,489.3 L279.3,489.2 L279.7,489.1 L280.1,489.1 L280.6,489.0 L281.0,488.9 L281.4,488.8 L281.8,488.7 L282.3,488.6 L282.7,488.5 L283.1,488.4 L283.6,488.3 L284.0,488.2 L284.4,488.1 L284.8,488.0 L285.3,487.9 L285.7,487.8 L286.1,487.7 L286.5,487.6 L287.0,487.5 L287.4,487.4 L287.8,487.3 L288.2,487.2 L288.7,487.1 L289.1,487.0 L289.5,486.9 L289.9,486.8 L290.4,486.7 L290.8,486.6 L291.2,486.5 L291.6,486.4 L292.1,486.3 L292.5,486.2 L292.9,486.1 L293.4,486.0 L293.8,485.9 L294.2,485.8 L294.6,485.7 L295.1,485.6 L295.5,485.5 L295.9,485.4 L296.3,485.3 L296.8,485.1 L297.2,485.0 L297.6,484.9 L298.0,484.8 L298.5,484.7 L298.9,484.6 L299.3,484.5 L299.7,484.4 L300.2,484.3 L300.6,484.2 L301.0,484.1 L301.4,484.0 L301.9,483.8 L302.3,483.7 L302.7,483.6 L303.2,483.5 L303.6,483.4 L304.0,483.3 L304.4,483.2 L304.9,483.1 L305.3,483.0 L305.7,482.8 L306.1,482.7 L306.6,482.6 L307.0,482.5 L307.4,482.4 L307.8,482.3 L308.3,482.2 L308.7,482.0 L309.1,481.9 L309.5,481.8 L310.0,481.7 L310.4,481.6 L310.8,481.5 L311.3,481.3 L311.7,481.2 L312.1,481.1 L312.5,481.0 L313.0,480.9 L313.4,480.7 L313.8,480.6 L314.2,480.5 L314.7,480.4 L315.1,480.3 L315.5,480.1 L315.9,480.0 L316.4,479.9 L316.8,479.8 L317.2,479.6 L317.6,479.5 L318.1,479.4 L318.5,479.3 L318.9,479.1 L319.3,479.0 L319.8,478.9 L320.2,478.8 L320.6,478.6 L321.1,478.5 L321.5,478.4 L321.9,478.3 L322.3,478.1 L322.8,478.0 L323.2,477.9 L323.6,477.7 L324.0,477.6 L324.5,477.5 L324.9,477.3 L325.3,477.2 L325.7,477.1 L326.2,477.0 L326.6,476.8 L327.0,476.7 L327.4,476.6 L327.9,476.4 L328.3,476.3 L328.7,476.1 L329.1,476.0 L329.6,475.9 L330.0,475.7 L330.4,475.6 L330.9,475.5 L331.3,475.3 L331.7,475.2 L332.1,475.0 L332.6,474.9 L333.0,474.8 L333.4,474.6 L333.8,474.5 L334.3,474.3 L334.7,474.2 L335.1,474.1 L335.5,473.9 L336.0,473.8 L336.4,473.6 L336.8,473.5 L337.2,473.3 L337.7,473.2 L338.1,473.0 L338.5,472.9 L339.0,472.7 L339.4,472.6 L339.8,472.5 L340.2,472.3 L340.7,472.2 L341.1,472.0 L341.5,471.9 L341.9,471.7 L342.4,471.5 L342.8,471.4 L343.2,471.2 L343.6,471.1 L344.1,470.9 L344.5,470.8 L344.9,470.6 L345.3,470.5 L345.8,470.3 L346.2,470.2 L346.6,470.0 L347.0,469.8 L347.5,469.7 L347.9,469.5 L348.3,469.4 L348.8,469.2 L349.2,469.0 L349.6,468.9 L350.0,468.7 L350.5,468.5 L350.9,468.4 L351.3,468.2 L351.7,468.1 L352.2,467.9 L352.6,467.7 L353.0,467.6 L353.4,467.4 L353.9,467.2 L354.3,467.0 L354.7,466.9 L355.1,466.7 L355.6,466.5 L356.0,466.4 L356.4,466.2 L356.8,466.0 L357.3,465.8 L357.7,465.7 L358.1,465.5 L358.6,465.3 L359.0,465.1 L359.4,465.0 L359.8,464.8 L360.3,464.6 L360.7,464.4 L361.1,464.2 L361.5,464.1 L362.0,463.9 L362.4,463.7 L362.8,463.5 L363.2,463.3 L363.7,463.1 L364.1,463.0 L364.5,462.8 L364.9,462.6 L365.4,462.4 L365.8,462.2 L366.2,462.0 L366.7,461.8 L367.1,461.6 L367.5,461.4 L367.9,461.3 L368.4,461.1 L368.8,460.9 L369.2,460.7 L369.6,460.5 L370.1,460.3 L370.5,460.1 L370.9,459.9 L371.3,459.7 L371.8,459.5 L372.2,459.3 L372.6,459.1 L373.0,458.9 L373.5,458.7 L373.9,458.5 L374.3,458.3 L374.7,458.1 L375.2,457.8 L375.6,457.6 L376.0,457.4 L376.5,457.2 L376.9,457.0 L377.3,456.8 L377.7,456.6 L378.2,456.4 L378.6,456.2 L379.0,455.9 L379.4,455.7 L379.9,455.5 L380.3,455.3 L380.7,455.1 L381.1,454.9 L381.6,454.6 L382.0,454.4 L382.4,454.2 L382.8,454.0 L383.3,453.7 L383.7,453.5 L384.1,453.3 L384.5,453.1 L385.0,452.8 L385.4,452.6 L385.8,452.4 L386.3,452.1 L386.7,451.9 L387.1,451.7 L387.5,451.4 L388.0,451.2 L388.4,451.0 L388.8,450.7 L389.2,450.5 L389.7,450.3 L390.1,450.0 L390.5,449.8 L390.9,449.5 L391.4,449.3 L391.8,449.0 L392.2,448.8 L392.6,448.6 L393.1,448.3 L393.5,448.1 L393.9,447.8 L394.3,447.6 L394.8,447.3 L395.2,447.1 L395.6,446.8 L396.1,446.6 L396.5,446.3 L396.9,446.0 L397.3,445.8 L397.8,445.5 L398.2,445.3 L398.6,445.0 L399.0,444.8 L399.5,444.5 L399.9,444.2 L400.3,444.0 L400.7,443.7 L401.2,443.4 L401.6,443.2 L402.0,442.9 L402.4,442.7 L402.9,442.4 L403.3,442.1 L403.7,441.8 L404.2,441.6 L404.6,441.3 L405.0,441.0 L405.4,440.8 L405.9,440.5 L406.3,440.2 L406.7,440.0 L407.1,439.7 L407.6,439.4 L408.0,439.1 L408.4,438.9 L408.8,438.6 L409.3,438.3 L409.7,438.0 L410.1,437.8 L410.5,437.5 L411.0,437.2 L411.4,436.9 L411.8,436.7 L412.2,436.4 L412.7,436.1 L413.1,435.8 L413.5,435.6 L414.0,435.3 L414.4,435.0 L414.8,434.8 L415.2,434.5 L415.7,434.2 L416.1,433.9 L416.5,433.7 L416.9,433.4 L417.4,433.1 L417.8,432.9 L418.2,432.6 L418.6,432.3 L419.1,432.1 L419.5,431.8 L419.9,431.6 L420.3,431.3 L420.8,431.1 L421.2,430.8 L421.6,430.6 L422.0,430.3 L422.5,430.1 L422.9,429.8 L423.3,429.6 L423.8,429.4 L424.2,429.1 L424.6,428.9 L425.0,428.7 L425.5,428.5 L425.9,428.3 L426.3,428.1 L426.7,427.9 L427.2,427.7 L427.6,427.5 L428.0,427.3 L428.4,427.1 L428.9,426.9 L429.3,426.8 L429.7,426.6 L430.1,426.5 L430.6,426.3 L431.0,426.2 L431.4,426.1 L431.9,425.9 L432.3,425.8 L432.7,425.7 L433.1,425.6 L433.6,425.6 L434.0,425.5 L434.4,425.4 L434.8,425.4 L435.3,425.4 L435.7,425.4 L436.1,425.3 L436.5,425.4 L437.0,425.4 L437.4,425.4 L437.8,425.5 L438.2,425.5 L438.7,425.6 L439.1,425.7 L439.5,425.8 L439.9,426.0 L440.4,426.1 L440.8,426.3 L441.2,426.5 L441.7,426.7 L442.1,426.9 L442.5,427.2 L442.9,427.4 L443.4,427.7 L443.8,428.0 L444.2,428.4 L444.6,428.7 L445.1,429.1 L445.5,429.5 L445.9,429.9 L446.3,430.4 L446.8,430.8 L447.2,431.3 L447.6,431.9 L448.0,432.4 L448.5,433.0 L448.9,433.6 L449.3,434.2 L449.7,434.9 L450.2,435.5 L450.6,436.2 L451.0,437.0 L451.5,437.7 L451.9,438.5 L452.3,439.3 L452.7,440.1 L453.2,441.0 L453.6,441.9 L454.0,442.8 L454.4,443.7 L454.9,444.6 L455.3,445.6 L455.7,446.6 L456.1,447.6 L456.6,448.6 L457.0,449.7 L457.4,450.8 L457.8,451.9 L458.3,453.0 L458.7,454.1 L459.1,455.2 L459.6,456.4 L460.0,457.6 L460.4,458.7 L460.8,459.9 L461.3,461.1 L461.7,462.4 L462.1,463.6 L462.5,464.8 L463.0,466.1 L463.4,467.3 L463.8,468.6 L464.2,469.8 L464.7,471.1 L465.1,472.3 L465.5,473.6 L465.9,474.9 L466.4,476.1 L466.8,477.4 L467.2,478.6 L467.6,479.9 L468.1,481.1 L468.5,482.4 L468.9,483.6 L469.4,484.9 L469.8,486.1 L470.2,487.3 L470.6,488.5 L471.1,489.7 L471.5,490.9 L471.9,492.0 L472.3,493.2 L472.8,494.3 L473.2,495.4 L473.6,496.6 L474.0,497.7 L474.5,498.8 L474.9,499.8 L475.3,500.9 L475.7,501.9 L476.2,502.9 L476.6,504.0 L477.0,505.0 L477.4,505.9 L477.9,506.9 L478.3,507.8 L478.7,508.8 L479.2,509.7 L479.6,510.6 L480.0,511.4 L480.4,512.3 L480.9,513.2 L481.3,514.0 L481.7,514.8 L482.1,515.6 L482.6,516.4 L483.0,517.1 L483.4,517.9 L483.8,518.6 L484.3,519.3 L484.7,520.0 L485.1,520.7 L485.5,521.4 L486.0,522.0 L486.4,522.7 L486.8,523.3 L487.3,523.9 L487.7,524.5 L488.1,525.1 L488.5,525.6 L489.0,526.2 L489.4,526.7 L489.8,527.3 L490.2,527.8 L490.7,528.3 L491.1,528.8 L491.5,529.2 L491.9,529.7 L492.4,530.2 L492.8,530.6 L493.2,531.0 L493.6,531.5 L494.1,531.9 L494.5,532.3 L494.9,532.7 L495.3,533.0 L495.8,533.4 L496.2,533.8 L496.6,534.1 L497.1,534.5 L497.5,534.8 L497.9,535.1 L498.3,535.4 L498.8,535.7 L499.2,536.0 L499.6,536.3 L500.0,536.6 L500.5,536.9 L500.9,537.2 L501.3,537.4 L501.7,537.7 L502.2,537.9 L502.6,538.2 L503.0,538.4 L503.4,538.6 L503.9,538.8 L504.3,539.1 L504.7,539.3 L505.1,539.5 L505.6,539.7 L506.0,539.9 L506.4,540.1 L506.9,540.2 L507.3,540.4 L507.7,540.6 L508.1,540.8 L508.6,540.9 L509.0,541.1 L509.4,541.2 L509.8,541.4 L510.3,541.5 L510.7,541.7 L511.1,541.8 L511.5,542.0 L512.0,542.1 L512.4,542.2 L512.8,542.3 L513.2,542.5 L513.7,542.6 L514.1,542.7 L514.5,542.8 L515.0,542.9 L515.4,543.0 L515.8,543.1 L516.2,543.2 L516.7,543.3 L517.1,543.4 L517.5,543.5 L517.9,543.6 L518.4,543.7 L518.8,543.8 L519.2,543.8 L519.6,543.9 L520.1,544.0 L520.5,544.1 L520.9,544.2 L521.3,544.2 L521.8,544.3 L522.2,544.4 L522.6,544.4 L523.0,544.5 L523.5,544.6 L523.9,544.6 L524.3,544.7 L524.8,544.7 L525.2,544.8 L525.6,544.8 L526.0,544.9 L526.5,544.9 L526.9,545.0 L527.3,545.0 L527.7,545.1 L528.2,545.1 L528.6,545.2 L529.0,545.2 L529.4,545.3 L529.9,545.3 L530.3,545.3 L530.7,545.4 L531.1,545.4 L531.6,545.5 L532.0,545.5 L532.4,545.5 L532.8,545.6 L533.3,545.6 L533.7,545.6 L534.1,545.7 L534.6,545.7 L535.0,545.7 L535.4,545.8 L535.8,545.8 L536.3,545.8 L536.7,545.8 L537.1,545.9 L537.5,545.9 L538.0,545.9 L538.4,545.9 L538.8,546.0 L539.2,546.0 L539.7,546.0 L540.1,546.0 L540.5,546.0 L540.9,546.1 L541.4,546.1 L541.8,546.1 L542.2,546.1 L542.7,546.1 L543.1,546.2 L543.5,546.2 L543.9,546.2 L544.4,546.2 L544.8,546.2 L545.2,546.2 L545.6,546.3 L546.1,546.3 L546.5,546.3 L546.9,546.3 L547.3,546.3 L547.8,546.3 L548.2,546.3 L548.6,546.3 L549.0,546.4 L549.5,546.4 L549.9,546.4 L550.3,546.4 L550.7,546.4 L551.2,546.4 L551.6,546.4 L552.0,546.4 L552.5,546.4 L552.9,546.5 L553.3,546.5 L553.7,546.5 L554.2,546.5 L554.6,546.5 L555.0,546.5 L555.4,546.5 L555.9,546.5 L556.3,546.5 L556.7,546.5 L557.1,546.5 L557.6,546.5 L558.0,546.5 L558.4,546.6 L558.8,546.6 L559.3,546.6 L559.7,546.6 L560.1,546.6 L560.5,546.6 L561.0,546.6 L561.4,546.6 L561.8,546.6 L562.3,546.6 L562.7,546.6 L563.1,546.6 L563.5,546.6 L564.0,546.6 L564.4,546.6 L564.8,546.6 L565.2,546.6 L565.2,546.6" stroke="#d70000" stroke-dasharray="8 5.9"/>
<path d="M275.5,479.2 L275.9,479.1 L276.3,479.0 L276.7,478.9 L277.2,478.8 L277.6,478.7 L278.0,478.6 L278.4,478.5 L278.9,478.3 L279.3,478.2 L279.7,478.1 L280.1,478.0 L280.6,477.9 L281.0,477.8 L281.4,477.7 L281.8,477.5 L282.3,477.4 L282.7,477.3 L283.1,477.2 L283.6,477.1 L284.0,477.0 L284.4,476.8 L284.8,476.7 L285.3,476.6 L285.7,476.5 L286.1,476.4 L286.5,476.3 L287.0,476.1 L287.4,476.0 L287.8,475.9 L288.2,475.8 L288.7,475.7 L289.1,475.5 L289.5,475.4 L289.9,475.3 L290.4,475.2 L290.8,475.0 L291.2,474.9 L291.6,474.8 L292.1,474.7 L292.5,474.5 L292.9,474.4 L293.4,474.3 L293.8,474.2 L294.2,474.0 L294.6,473.9 L295.1,473.8 L295.5,473.7 L295.9,473.5 L296.3,473.4 L296.8,473.3 L297.2,473.1 L297.6,473.0 L298.0,472.9 L298.5,472.8 L298.9,472.6 L299.3,472.5 L299.7,472.4 L300.2,472.2 L300.6,472.1 L301.0,472.0 L301.4,471.8 L301.9,471.7 L302.3,471.6 L302.7,471.4 L303.2,471.3 L303.6,471.2 L304.0,471.0 L304.4,470.9 L304.9,470.7 L305.3,470.6 L305.7,470.5 L306.1,470.3 L306.6,470.2 L307.0,470.1 L307.4,469.9 L307.8,469.8 L308.3,469.6 L308.7,469.5 L309.1,469.3 L309.5,469.2 L310.0,469.1 L310.4,468.9 L310.8,468.8 L311.3,468.6 L311.7,468.5 L312.1,468.3 L312.5,468.2 L313.0,468.1 L313.4,467.9 L313.8,467.8 L314.2,467.6 L314.7,467.5 L315.1,467.3 L315.5,467.2 L315.9,467.0 L316.4,466.9 L316.8,466.7 L317.2,466.6 L317.6,466.4 L318.1,466.3 L318.5,466.1 L318.9,466.0 L319.3,465.8 L319.8,465.7 L320.2,465.5 L320.6,465.4 L321.1,465.2 L321.5,465.0 L321.9,464.9 L322.3,464.7 L322.8,464.6 L323.2,464.4 L323.6,464.3 L324.0,464.1 L324.5,463.9 L324.9,463.8 L325.3,463.6 L325.7,463.5 L326.2,463.3 L326.6,463.1 L327.0,463.0 L327.4,462.8 L327.9,462.6 L328.3,462.5 L328.7,462.3 L329.1,462.2 L329.6,462.0 L330.0,461.8 L330.4,461.7 L330.9,461.5 L331.3,461.3 L331.7,461.2 L332.1,461.0 L332.6,460.8 L333.0,460.7 L333.4,460.5 L333.8,460.3 L334.3,460.1 L334.7,460.0 L335.1,459.8 L335.5,459.6 L336.0,459.4 L336.4,459.3 L336.8,459.1 L337.2,458.9 L337.7,458.7 L338.1,458.6 L338.5,458.4 L339.0,458.2 L339.4,458.0 L339.8,457.9 L340.2,457.7 L340.7,457.5 L341.1,457.3 L341.5,457.1 L341.9,457.0 L342.4,456.8 L342.8,456.6 L343.2,456.4 L343.6,456.2 L344.1,456.0 L344.5,455.9 L344.9,455.7 L345.3,455.5 L345.8,455.3 L346.2,455.1 L346.6,454.9 L347.0,454.7 L347.5,454.5 L347.9,454.3 L348.3,454.2 L348.8,454.0 L349.2,453.8 L349.6,453.6 L350.0,453.4 L350.5,453.2 L350.9,453.0 L351.3,452.8 L351.7,452.6 L352.2,452.4 L352.6,452.2 L353.0,452.0 L353.4,451.8 L353.9,451.6 L354.3,451.4 L354.7,451.2 L355.1,451.0 L355.6,450.8 L356.0,450.6 L356.4,450.4 L356.8,450.2 L357.3,450.0 L357.7,449.8 L358.1,449.6 L358.6,449.4 L359.0,449.2 L359.4,449.0 L359.8,448.7 L360.3,448.5 L360.7,448.3 L361.1,448.1 L361.5,447.9 L362.0,447.7 L362.4,447.5 L362.8,447.3 L363.2,447.0 L363.7,446.8 L364.1,446.6 L364.5,446.4 L364.9,446.2 L365.4,446.0 L365.8,445.7 L366.2,445.5 L366.7,445.3 L367.1,445.1 L367.5,444.9 L367.9,444.6 L368.4,444.4 L368.8,444.2 L369.2,444.0 L369.6,443.7 L370.1,443.5 L370.5,443.3 L370.9,443.0 L371.3,442.8 L371.8,442.6 L372.2,442.4 L372.6,442.1 L373.0,441.9 L373.5,441.7 L373.9,441.4 L374.3,441.2 L374.7,441.0 L375.2,440.7 L375.6,440.5 L376.0,440.2 L376.5,440.0 L376.9,439.8 L377.3,439.5 L377.7,439.3 L378.2,439.0 L378.6,438.8 L379.0,438.5 L379.4,438.3 L379.9,438.0 L380.3,437.8 L380.7,437.6 L381.1,437.3 L381.6,437.1 L382.0,436.8 L382.4,436.6 L382.8,436.3 L383.3,436.0 L383.7,435.8 L384.1,435.5 L384.5,435.3 L385.0,435.0 L385.4,434.8 L385.8,434.5 L386.3,434.2 L386.7,434.0 L387.1,433.7 L387.5,433.4 L388.0,433.2 L388.4,432.9 L388.8,432.7 L389.2,432.4 L389.7,432.1 L390.1,431.8 L390.5,431.6 L390.9,431.3 L391.4,431.0 L391.8,430.8 L392.2,430.5 L392.6,430.2 L393.1,429.9 L393.5,429.6 L393.9,429.4 L394.3,429.1 L394.8,428.8 L395.2,428.5 L395.6,428.2 L396.1,428.0 L396.5,427.7 L396.9,427.4 L397.3,427.1 L397.8,426.8 L398.2,426.5 L398.6,426.2 L399.0,425.9 L399.5,425.6 L399.9,425.3 L400.3,425.0 L400.7,424.7 L401.2,424.4 L401.6,424.1 L402.0,423.8 L402.4,423.5 L402.9,423.2 L403.3,422.9 L403.7,422.6 L404.2,422.3 L404.6,422.0 L405.0,421.7 L405.4,421.4 L405.9,421.1 L406.3,420.7 L406.7,420.4 L407.1,420.1 L407.6,419.8 L408.0,419.5 L408.4,419.2 L408.8,418.8 L409.3,418.5 L409.7,418.2 L410.1,417.9 L410.5,417.5 L411.0,417.2 L411.4,416.9 L411.8,416.5 L412.2,416.2 L412.7,415.9 L413.1,415.5 L413.5,415.2 L414.0,414.8 L414.4,414.5 L414.8,414.2 L415.2,413.8 L415.7,413.5 L416.1,413.1 L416.5,412.8 L416.9,412.4 L417.4,412.1 L417.8,411.7 L418.2,411.4 L418.6,411.0 L419.1,410.7 L419.5,410.3 L419.9,410.0 L420.3,409.6 L420.8,409.2 L421.2,408.9 L421.6,408.5 L422.0,408.1 L422.5,407.8 L422.9,407.4 L423.3,407.0 L423.8,406.7 L424.2,406.3 L424.6,405.9 L425.0,405.6 L425.5,405.2 L425.9,404.8 L426.3,404.4 L426.7,404.1 L427.2,403.7 L427.6,403.3 L428.0,402.9 L428.4,402.6 L428.9,402.2 L429.3,401.8 L429.7,401.4 L430.1,401.0 L430.6,400.7 L431.0,400.3 L431.4,399.9 L431.9,399.5 L432.3,399.2 L432.7,398.8 L433.1,398.4 L433.6,398.0 L434.0,397.6 L434.4,397.3 L434.8,396.9 L435.3,396.5 L435.7,396.2 L436.1,395.8 L436.5,395.4 L437.0,395.1 L437.4,394.7 L437.8,394.3 L438.2,394.0 L438.7,393.6 L439.1,393.3 L439.5,392.9 L439.9,392.6 L440.4,392.3 L440.8,391.9 L441.2,391.6 L441.7,391.3 L442.1,391.0 L442.5,390.7 L442.9,390.4 L443.4,390.1 L443.8,389.8 L444.2,389.5 L444.6,389.2 L445.1,389.0 L445.5,388.7 L445.9,388.5 L446.3,388.2 L446.8,388.0 L447.2,387.8 L447.6,387.6 L448.0,387.4 L448.5,387.3 L448.9,387.1 L449.3,387.0 L449.7,386.9 L450.2,386.8 L450.6,386.7 L451.0,386.6 L451.5,386.6 L451.9,386.5 L452.3,386.5 L452.7,386.5 L453.2,386.6 L453.6,386.6 L454.0,386.7 L454.4,386.8 L454.9,387.0 L455.3,387.2 L455.7,387.4 L456.1,387.6 L456.6,387.8 L457.0,388.1 L457.4,388.4 L457.8,388.8 L458.3,389.2 L458.7,389.6 L459.1,390.1 L459.6,390.6 L460.0,391.1 L460.4,391.7 L460.8,392.3 L461.3,392.9 L461.7,393.6 L462.1,394.3 L462.5,395.1 L463.0,395.9 L463.4,396.8 L463.8,397.7 L464.2,398.6 L464.7,399.6 L465.1,400.6 L465.5,401.7 L465.9,402.8 L466.4,403.9 L466.8,405.1 L467.2,406.4 L467.6,407.6 L468.1,408.9 L468.5,410.3 L468.9,411.7 L469.4,413.1 L469.8,414.6 L470.2,416.1 L470.6,417.6 L471.1,419.2 L471.5,420.7 L471.9,422.4 L472.3,424.0 L472.8,425.7 L473.2,427.4 L473.6,429.1 L474.0,430.9 L474.5,432.6 L474.9,434.4 L475.3,436.2 L475.7,438.0 L476.2,439.8 L476.6,441.6 L477.0,443.5 L477.4,445.3 L477.9,447.1 L478.3,449.0 L478.7,450.8 L479.2,452.7 L479.6,454.5 L480.0,456.3 L480.4,458.1 L480.9,459.9 L481.3,461.7 L481.7,463.5 L482.1,465.3 L482.6,467.1 L483.0,468.8 L483.4,470.5 L483.8,472.2 L484.3,473.9 L484.7,475.5 L485.1,477.2 L485.5,478.8 L486.0,480.4 L486.4,481.9 L486.8,483.5 L487.3,485.0 L487.7,486.5 L488.1,487.9 L488.5,489.4 L489.0,490.8 L489.4,492.2 L489.8,493.5 L490.2,494.9 L490.7,496.2 L491.1,497.4 L491.5,498.7 L491.9,499.9 L492.4,501.1 L492.8,502.2 L493.2,503.4 L493.6,504.5 L494.1,505.6 L494.5,506.6 L494.9,507.7 L495.3,508.7 L495.8,509.6 L496.2,510.6 L496.6,511.5 L497.1,512.4 L497.5,513.3 L497.9,514.2 L498.3,515.0 L498.8,515.9 L499.2,516.7 L499.6,517.4 L500.0,518.2 L500.5,518.9 L500.9,519.6 L501.3,520.3 L501.7,521.0 L502.2,521.7 L502.6,522.3 L503.0,523.0 L503.4,523.6 L503.9,524.1 L504.3,524.7 L504.7,525.3 L505.1,525.8 L505.6,526.4 L506.0,526.9 L506.4,527.4 L506.9,527.9 L507.3,528.3 L507.7,528.8 L508.1,529.2 L508.6,529.7 L509.0,530.1 L509.4,530.5 L509.8,530.9 L510.3,531.3 L510.7,531.7 L511.1,532.0 L511.5,532.4 L512.0,532.8 L512.4,533.1 L512.8,533.4 L513.2,533.7 L513.7,534.1 L514.1,534.4 L514.5,534.6 L515.0,534.9 L515.4,535.2 L515.8,535.5 L516.2,535.8 L516.7,536.0 L517.1,536.3 L517.5,536.5 L517.9,536.7 L518.4,537.0 L518.8,537.2 L519.2,537.4 L519.6,537.6 L520.1,537.8 L520.5,538.0 L520.9,538.2 L521.3,538.4 L521.8,538.6 L522.2,538.8 L522.6,539.0 L523.0,539.2 L523.5,539.3 L523.9,539.5 L524.3,539.6 L524.8,539.8 L525.2,540.0 L525.6,540.1 L526.0,540.2 L526.5,540.4 L526.9,540.5 L527.3,540.7 L527.7,540.8 L528.2,540.9 L528.6,541.0 L529.0,541.2 L529.4,541.3 L529.9,541.4 L530.3,541.5 L530.7,541.6 L531.1,541.7 L531.6,541.8 L532.0,541.9 L532.4,542.0 L532.8,542.1 L533.3,542.2 L533.7,542.3 L534.1,542.4 L534.6,542.5 L535.0,542.6 L535.4,542.7 L535.8,542.8 L536.3,542.8 L536.7,542.9 L537.1,543.0 L537.5,543.1 L538.0,543.2 L538.4,543.2 L538.8,543.3 L539.2,543.4 L539.7,543.4 L540.1,543.5 L540.5,543.6 L540.9,543.6 L541.4,543.7 L541.8,543.8 L542.2,543.8 L542.7,543.9 L543.1,543.9 L543.5,544.0 L543.9,544.0 L544.4,544.1 L544.8,544.1 L545.2,544.2 L545.6,544.2 L546.1,544.3 L546.5,544.3 L546.9,544.4 L547.3,544.4 L547.8,544.5 L548.2,544.5 L548.6,544.6 L549.0,544.6 L549.5,544.6 L549.9,544.7 L550.3,544.7 L550.7,544.8 L551.2,544.8 L551.6,544.8 L552.0,544.9 L552.5,544.9 L552.9,544.9 L553.3,545.0 L553.7,545.0 L554.2,545.1 L554.6,545.1 L555.0,545.1 L555.4,545.1 L555.9,545.2 L556.3,545.2 L556.7,545.2 L557.1,545.3 L557.6,545.3 L558.0,545.3 L558.4,545.3 L558.8,545.4 L559.3,545.4 L559.7,545.4 L560.1,545.5 L560.5,545.5 L561.0,545.5 L561.4,545.5 L561.8,545.5 L562.3,545.6 L562.7,545.6 L563.1,545.6 L563.5,545.6 L564.0,545.7 L564.4,545.7 L564.8,545.7 L565.2,545.7 L565.2,545.7" stroke="#0000f2" stroke-dasharray="8 5.9"/>
</g>
<rect x="292.50" y="301.10" width="255.69" height="204.75" fill="none" stroke="#000" stroke-width="2"/>
<line x1="292.50" y1="301.10" x2="292.50" y2="305.10" stroke="#000" stroke-width="1.5"/>
<line x1="292.50" y1="505.85" x2="292.50" y2="501.85" stroke="#000" stroke-width="1.5"/>
<line x1="335.12" y1="301.10" x2="335.12" y2="303.60" stroke="#000" stroke-width="1.5"/>
<line x1="335.12" y1="505.85" x2="335.12" y2="503.35" stroke="#000" stroke-width="1.5"/>
<line x1="377.73" y1="301.10" x2="377.73" y2="305.10" stroke="#000" stroke-width="1.5"/>
<line x1="377.73" y1="505.85" x2="377.73" y2="501.85" stroke="#000" stroke-width="1.5"/>
<line x1="420.34" y1="301.10" x2="420.34" y2="303.60" stroke="#000" stroke-width="1.5"/>
<line x1="420.34" y1="505.85" x2="420.34" y2="503.35" stroke="#000" stroke-width="1.5"/>
<line x1="462.96" y1="301.10" x2="462.96" y2="305.10" stroke="#000" stroke-width="1.5"/>
<line x1="462.96" y1="505.85" x2="462.96" y2="501.85" stroke="#000" stroke-width="1.5"/>
<line x1="505.57" y1="301.10" x2="505.57" y2="303.60" stroke="#000" stroke-width="1.5"/>
<line x1="505.57" y1="505.85" x2="505.57" y2="503.35" stroke="#000" stroke-width="1.5"/>
<line x1="548.19" y1="301.10" x2="548.19" y2="305.10" stroke="#000" stroke-width="1.5"/>
<line x1="548.19" y1="505.85" x2="548.19" y2="501.85" stroke="#000" stroke-width="1.5"/>
<line x1="292.50" y1="492.20" x2="296.50" y2="492.20" stroke="#000" stroke-width="1.5"/>
<line x1="548.19" y1="492.20" x2="544.19" y2="492.20" stroke="#000" stroke-width="1.5"/>
<line x1="292.50" y1="464.90" x2="295.00" y2="464.90" stroke="#000" stroke-width="1.5"/>
<line x1="548.19" y1="464.90" x2="545.69" y2="464.90" stroke="#000" stroke-width="1.5"/>
<line x1="292.50" y1="437.60" x2="296.50" y2="437.60" stroke="#000" stroke-width="1.5"/>
<line x1="548.19" y1="437.60" x2="544.19" y2="437.60" stroke="#000" stroke-width="1.5"/>
<line x1="292.50" y1="410.30" x2="295.00" y2="410.30" stroke="#000" stroke-width="1.5"/>
<line x1="548.19" y1="410.30" x2="545.69" y2="410.30" stroke="#000" stroke-width="1.5"/>
<line x1="292.50" y1="383.00" x2="296.50" y2="383.00" stroke="#000" stroke-width="1.5"/>
<line x1="548.19" y1="383.00" x2="544.19" y2="383.00" stroke="#000" stroke-width="1.5"/>
<line x1="292.50" y1="355.70" x2="295.00" y2="355.70" stroke="#000" stroke-width="1.5"/>
<line x1="548.19" y1="355.70" x2="545.69" y2="355.70" stroke="#000" stroke-width="1.5"/>
<line x1="292.50" y1="328.40" x2="296.50" y2="328.40" stroke="#000" stroke-width="1.5"/>
<line x1="548.19" y1="328.40" x2="544.19" y2="328.40" stroke="#000" stroke-width="1.5"/>
<line x1="292.50" y1="301.10" x2="295.00" y2="301.10" stroke="#000" stroke-width="1.5"/>
<line x1="548.19" y1="301.10" x2="545.69" y2="301.10" stroke="#000" stroke-width="1.5"/>
<g font-family="Liberation Sans, sans-serif" fill="#000">
<text x="287.2" y="497.1" font-size="18" text-anchor="end">1</text>
<text x="287.2" y="442.5" font-size="18" text-anchor="end">2</text>
<text x="287.2" y="387.9" font-size="18" text-anchor="end">3</text>
<text x="287.2" y="333.3" font-size="18" text-anchor="end">4</text>
<text x="292.5" y="525.6" font-size="18" text-anchor="middle">1.6</text>
<text x="377.7" y="525.6" font-size="18" text-anchor="middle">1.7</text>
<text x="463.0" y="525.6" font-size="18" text-anchor="middle">1.8</text>
<text x="548.2" y="525.6" font-size="18" text-anchor="middle">1.9</text>
<text x="420.5" y="547.2" font-size="22" text-anchor="middle">Electrode spacing (mm)</text>
<text transform="translate(268.6,402.9) rotate(-90)" font-size="22.2" text-anchor="middle">Density (10<tspan font-size="15.5" dy="-8.7">12</tspan><tspan dy="8.7"> cm</tspan><tspan font-size="15.5" dy="-8.7">-3</tspan><tspan dy="8.7">)</tspan></text>
</g>
</svg>
</body></html>
